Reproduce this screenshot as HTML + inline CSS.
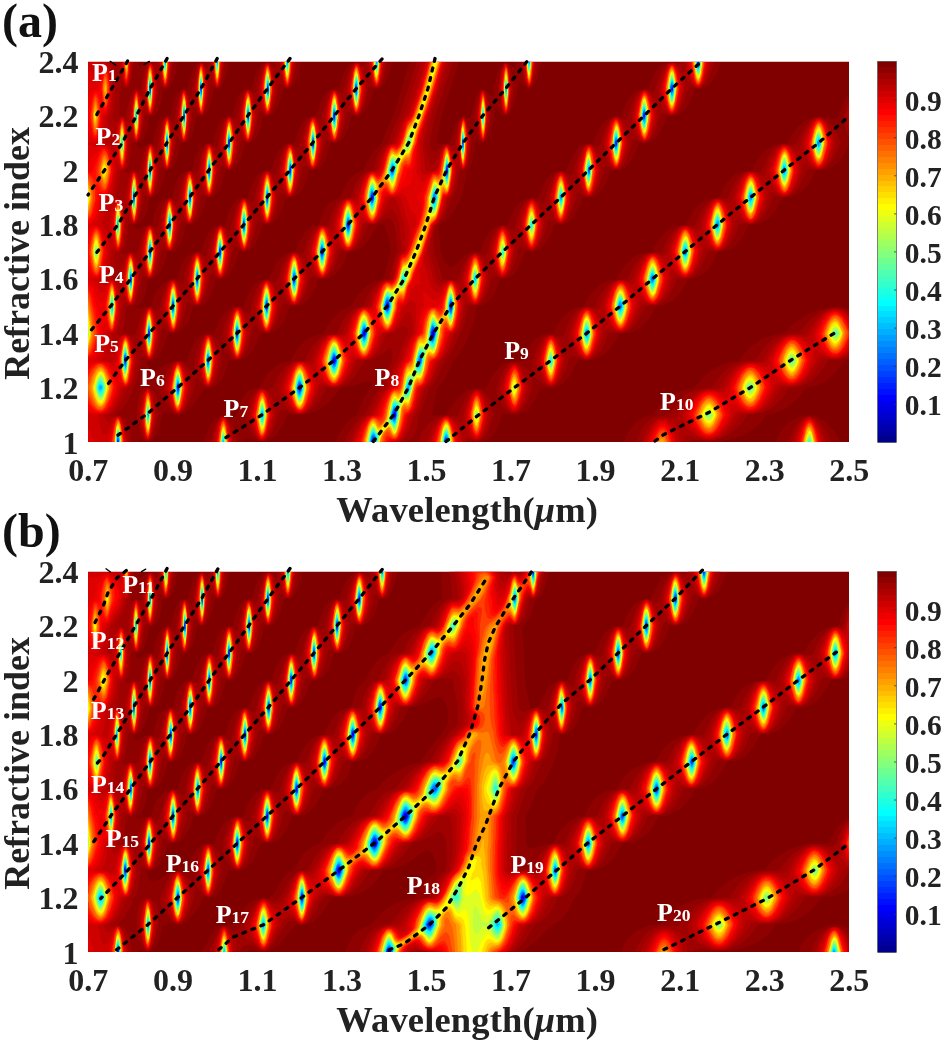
<!DOCTYPE html><html><head><meta charset="utf-8"><style>html,body{margin:0;padding:0;background:#fff;}svg{display:block;}</style></head><body>
<svg width="944" height="1042" viewBox="0 0 944 1042">
<defs><filter id="bl" x="0" y="0" width="1" height="1"><feGaussianBlur stdDeviation="0.6"/></filter>
<clipPath id="clipa"><rect x="88" y="61.5" width="761" height="380.5"/></clipPath>
<clipPath id="clipb"><rect x="88" y="571.5" width="761" height="380.5"/></clipPath>
</defs>
<rect width="944" height="1042" fill="#fff"/>
<g clip-path="url(#clipa)" filter="url(#bl)">
<rect x="88" y="61.5" width="761" height="380.5" fill="#800000"/>
<path fill-rule="evenodd" fill="#8f0000" d="M777 440l0 1.5 63 0-6-10.5-9-10-5.5-3.5-6-2-9 0-4.5 1-11 5.5-7.5 7.5-2.5 4.5zM849 309l-7-1.5-13 0-12.5 3-10 4.5-9.5 6-15 13-10 1-10.5 4-10 7-8 8.5-4.5 6.5-6.5.5-6.5 1.5-8.5 3.5-5 3-7.5 6-11 12.5-7 1-8 2.5-10 5.5-11.5 10.5-6 8-2.5 0-5 1.5-6 3.5-7.5 8-3.5 5.5-3.5 8 87.5 0 .5-.5 7.5 0 15.5-3 7-2.5 8-4 10-7.5 3.5-4.5 2.5-5 8.5-1.5 11.5-5 7-5 7-7 7-9 9-1.5 9.5-4.5 10.5-9 9-12 4.5-.5zM88 442l50 0 1.5-1.5 3 0 2 1 6.5-.5 4-4 2.5-4.5 2.5-6.5 2.5-11 2-2 3.5-.5 6.5 2 5.5 0 5-2 3.5-2.5 6-6.5 10.5-16 6.5 0 5-2 5.5-6 3.5-7.5 2.5-8.5 0-2 1.5-1.5 8.5.5 3-.5 4.5-2 5-4.5 2.5-3.5 3.5-6.5 3-8 0-1.5 1-1 9.5 0 4.5-1.5 3-2 3-3 4-6 3-6.5 2-7.5 10-1 6-3 3.5-3.5 4-6 3-7 1.5-6 1-1 5 0 5.5-1 6-3.5 3.5-3.5 3.5-5 4-8 2-6 7.5-1 6-3 7-7.5 6-10 4.5-6 4.5 0 2.5 4.5 2.5 9 2.5 13.5-4 12.5-3.5 14.5-1 1-7.5 1.5-8.5 5-9 9.5-7 11-8 3-3 2-7 7-5 7-4.5 8.5-3 0-5.5 1.5-9 5-8 8-7.5 12.5-4.5.5-4.5 1.5-4.5 2.5-9 8.5-4.5 6.5-4 7.5-5 .5-7 3.5-4 5-2.5 5-3.5 13.5-1.5 1.5-3.5.5-4.5-1.5-5.5-.5-6 2.5-2.5 2.5-4 6-3 6.5-3 9 39.5 0 .5-1.5 2-2 3.5 0 9 3 9-.5 5.5-3 5-5 5.5-8.5 3-7.5 2-2.5 16.5 0 11-3 11-7 8-8 6-9 8-.5 6-1.5 10.5-4 4.5 0 2 2.5.5 4-4 4-3.5 5-5 10-2.5 7.5-7.5 5.5-4.5 5-5.5 8-4.5 9 147.5 0 3.5-1 3.5-2 5.5-6.5 4-8 2.5-8 1.5-2 1-.5 12.5.5 7.5-2.5 3-2 6-6.5 3.5-5.5 5-10.5 11.5 0 4.5-1 5.5-3 5-5 3.5-5 6.5-13 14-.5 9-3.5 3-2 6.5-6.5 5-7 4-7.5 8-.5 4.5-1 6.5-3 3.5-2.5 7-7.5 7.5-13 8-1 8.5-4.5 7.5-8 8-13.5 8.5-1.5 8-5 4-4.5 4-6 5-10.5 8-.5 5-2 3.5-2.5 4-4 4-5.5 6.5-12.5 9-.5 8-3.5 7-6.5 3-4 7-12.5 10-1 8.5-4.5 8-9 7-13 7 0 4.5-1 3.5-1.5 5-3.5 5-5.5 7-12 0-52.5-6 10.5-3.5 10.5-3 4-5.5 0-7-2-9.5 0-3.5 1-7 4-6 5.5-5.5 7-5.5 9-5.5 0-5.5 1-8 4-4.5 4-4 5-7.5 13-9.5 1-6 2.5-3.5 2.5-7.5 8.5-7 13-8.5.5-8.5 4-7.5 8-8 14.5-4 0-7.5 1.5-7 4-7.5 8-8 14-9 .5-5.5 2-4 2.5-7.5 7-6 8.5-3.5 6.5-8 1-8 4-8 8-4.5 6.5-4 7.5-9 1.5-7.5 4.5-5.5 6-9 15.5-9 .5-7 3.5-6.5 7.5-4.5 8.5-2 6-1 1-12.5.5-7.5 3-8.5 8.5-4.5 7.5-2.5 6.5-1.5 1.5-12.5 0-6.5 2-4.5 3-6.5 6.5-10.5 15.5-13 0-.5-.5 2-6.5 3.5-20 5-5.5 3-4.5 6.5-12.5 1.5-4.5 4.5-5 8.5-14.5 7.5-18.5 3.5-17 3.5-.5 5-2 5-4.5 5-8.5 4.5-12 8.5-1 3.5-2 4-4 5.5-10 3-9.5 1-1 8.5 0 5.5-2 5-4.5 2.5-3.5 4.5-8.5 2.5-7.5 1-1 10-.5 4-2 5-5 6.5-12 2-6.5 1-1 8.5-.5 3-1 5-4 3.5-5 3.5-7 3-9 1-1 10-.5 4-2 5-5 6-11 2.5-7.5 1-1 9-.5 4.5-2 2.5-2 5.5-7.5 6.5-15 10-1 3-1.5 3.5-3 5-7 6-14.5 8.5-1 4-2 4.5-4.5 6-10.5 3-9-51.5 0-4 1-5 3-5.5 7-4 8-2.5 7.5-2 1-8 .5-4.5 2.5-3 3-3.5 5-7 16-7 0-3.5 1-3.5 2-3.5 3.5-3 4.5-4 8-2.5 7.5-10.5 1.5-3.5 2-3 3-5.5 9-5 12.5-8.5 0-5.5 2.5-5 5-2 3-7.5 16.5-10.5.5-6 3-3.5 3.5-4 6-5.5 14-9 .5-3 1-2.5 1.5-4 4-6 10.5-3 9-1 1-8 0-6 2.5-10 10-3 2-3 0-3.5-3.5-5.5-11.5-1-18-.5-.5 0-8.5 5.5-3 4-4 6.5-9 6-11 3-9.5 2-11 .5-7 3-2 3-7 3-18.5 1.5-1.5 3 1 4.5 0 3.5-4 3-7.5 2-8 2-14 1.5-.5 6 6 2 1 3-.5 2.5-2.5 2-3.5 2.5-7 3-12.5.5-6 2-1 5 4.5 3.5 1.5 3-1 3-3.5 2.5-5.5 4.5-16.5-25 0-.5 4-1 1.5-1.5 0-6.5-5-3 0-1.5 1-2.5 3.5-3 7.5-3.5 14.5-.5 6.5-1.5 1-6-6-2-1-3 .5-3 3.5-2 4.5-5 19.5-1.5 1-5.5-2-3.5 1-5 7.5-5.5 18-9.5 1.5-2.5-.5-1-1 4.5-25 18-56-49 0-5.5 16-11 37.5-6.5 13-5 14.5-8.5 8.5-6.5 10.5-4 8.5-3.5 1-4.5 2.5-6 6-2.5 3.5-6.5 13.5-1 1-5 1.5-5.5 4.5-3.5 5-3.5 7-2.5 8-1 1-6.5 1.5-2.5 1.5-4.5 4.5-6 10.5-3.5 9.5-6 0-3 1-6 4.5-3 4-4 7.5-3 8 0 1.5-.5.5-6 0-3.5 1-3.5 2-4 4-6 10.5-3 9-1.5 1-4-.5-5 .5-6 3-3.5 3.5-4 6-6 14.5-10.5.5-3 1.5-4.5 4.5-4.5 8-4 12.5-1 .5-5.5 0-.5-.5-7 .5-7 3-10 6.5-4 0-2.5-2-1.5-2.5-1.5-5.5 6.5-1 3.5-2 2.5-2.5 4-6.5 3.5-9 1-5 1.5-2 9-.5 5.5-4 5.5-9 3-8.5.5-3.5 1-1.5 7.5-.5 3-1.5 3.5-3.5 5-9.5 3-11 1-1 4.5 0 4-1 5.5-5 4.5-8.5 3.5-12 1-1 8.5-.5 2-1 4.5-4.5 5-10 3-10.5.5-.5 6 0 3-1 5.5-5 5-9.5 3.5-11 7.5-1 6-4 5-8.5 3-8.5 1-5.5 8.5-1 2-1 4-4 3.5-6.5 4-14.5.5-.5 5 0 3-1 4-3.5 5.5-10.5 3-11.5 1.5-1 6 0 3-1.5 3-3 3.5-6 4.5-12.5.5-3.5 6.5-1 4.5-4 4.5-9.5 3-12.5-37 0-5.5 2.5-4 5-3 6-4 13-1 1-7.5.5-2.5 1.5-3.5 4-4 8-3 9-.5 3.5-8 1-5 4-5 9-4.5 13.5-5.5 0-5 2-5.5 6.5-4 8.5-3 9.5-1 1-7.5.5-3.5 2-3 3.5-5 9.5-3 10.5-1 1-7.5.5-2 1-4.5 4.5-5 10-2.5 10-1 1-8 .5-3 1.5-4 4-4.5 8-4 13-9 1-3.5 2-2.5 2.5-2.5 3.5-3.5 7.5-2.5 10.5-9 1-4.5 2.5-4 4-3.5 5-3 6-2.5 9-7 .5-4 1.5-3 0-2.5-2 4-1.5 4-4 2.5-5 1.5-6 1-10.5 7-1.5 5-4.5 4.5-8.5 2.5-8.5.5-4.5.5-.5 5 0 3-1.5 4.5-5.5 3.5-8.5 2-10.5 1-1 6.5-.5 4.5-3.5 5-9 2.5-7.5 1-5.5 1-1 5-.5 2-1 4-4 3.5-7 4-14.5.5-.5 5.5 0 3-1.5 2.5-2.5 4-7.5 4-15 4.5-.5 2.5-1 4.5-5 4-9.5 2.5-11 1-1 6 0 2-1 3-3 4-7.5 3.5-11 .5-4 .5-.5 5.5 0 2-1 4-4.5 3.5-8.5 3-12.5-30 0-.5.5-4.5-.5-3 1-3 2.5-5 9-4 14-1 1-5.5 0-2 1-4 4.5-3 6-4 15-6.5 1-2.5 1.5-3 3.5-4.5 10-2.5 11-7.5 1-5 4-5.5 10.5-3 11.5-1.5 1-4 0-2.5 1-4 3.5-2 3-4 9-2 10-7 1-3.5 2-3.5 4-4 8.5-1.5 11.5-6.5 1-8.5 4-2.5-2-1-2.5 5-1.5 5-5.5 4-9.5 1.5-10.5 6-2 3.5-4 4-9.5 2-12 5.5-1 4-4.5 3-7.5 2.5-14 6-1 3.5-3 3.5-7.5 3.5-16 .5-.5 6 0 4-3.5 4.5-10.5 2.5-12.5 4.5-.5 2.5-1.5 1.5-2 4-10.5 2-12.5-28.5 0-2.5 1-4 5-2 4.5-4 16.5-.5.5-5.5 0-4.5 4-4 9.5-2.5 13-7 1-3 2.5-2 3-4 10-1.5 10.5-6 1-6.5 4-3-1.5-1-3 4-1.5 2.5-2.5 2.5-4.5 2.5-8.5 1-10 5-1.5 2.5-2.5 3-5.5 2.5-8 1.5-10 5.5-1.5 2.5-3 3.5-9 2.5-13.5-29 0-3.5 1.5-4 3-2-1-1-3.5-50 0z"/>
<path fill-rule="evenodd" fill="#9f0000" d="M788 442l42.5 0 0-1-5-11-5.5-8-4-3.5-3-1.5-5.5-.5-5.5 2.5-5 5-4.5 7zM221 417l-2.5 2.5-3.5 6.5-4.5 16 26.5 0-2.5-12-3.5-8-4.5-5-2.5-1zM490 399l-2-3-6.5-6-2.5-1-5 0-2 1-3.5 3-2.5 3.5-3.5 7-4.5 12-1 .5-15-.5-6 2.5-6.5 5-7 8-2 3.5-1.5 7 51 0 .5-.5 7 0 4-1.5 3.5-3.5 3.5-6 5-15-1-9.5zM146 388l-3 1.5-2 2-2.5 5.5-1.5 11.5 0 8 1 6.5 2.5 9 3 6 2 2 3 .5 2-1.5 2.5-4.5 3-10 2-10-.5-14-1-5-1.5-3-3.5-3.5-2.5-1zM210 334l-4.5.5-2.5 2.5-3.5 6.5-4.5 15.5 0 9-1 4.5-1 0-9.5-9.5-2.5-1.5-4-.5-3.5 1.5-3 3-7.5 13.5-3 7.5.5 6.5 2.5 5.5 6 9 5 5 2 1 3.5 0 2-1 5-5.5 6.5-14 2-7 0-6 1-1.5 9 7.5 5 .5 4.5-4 2.5-5 4.5-15.5 0-12.5-1-4-3-5-3.5-4zM849 311l-6-2.5-5-1-5 0-8 2-5 2.5-8 6-5 5-8.5 10.5-7 0-7.5 1-5 1.5-5 2.5-3.5 2.5-7 7-8 12.5-10 .5-5.5 1-8.5 3.5-5 3.5-6.5 6.5-8.5 12-13 1.5-9 3.5-4.5 3-8 8-8 11.5-11 1-4.5 1.5-4 2.5-4 4-3.5 5-6 12.5 53 0 2.5-1.5 21 .5 7.5-1.5 8-3.5 7-5 6.5-6.5 6.5-9.5 13-1.5 8.5-3.5 5-3.5 8-8.5 7-10.5 5 0 8.5-1.5 9-4.5 8.5-8.5 8-12.5 14-1 6.5-2zM832 125l-5.5-5-5-2.5-5.5 0-4.5 2-5 5-3.5 5-7 14.5-2 1-11-1-6 2-5 4.5-3.5 5-7 15.5-2.5 1-11.5-.5-3 1-3 2-6 7-4 7.5-3.5 9-2 1-11-.5-7 3.5-7 9.5-6 14-1.5.5-10-.5-5 1.5-3 2-3.5 3.5-4 6-3.5 7-2 6-1 1-13 .5-7 3.5-4 4-3.5 5-7 14-10.5.5-5 2-5.5 4.5-5.5 8-3.5 7-1 3.5-1.5 2-12 .5-3.5 1.5-5 4.5-6 10-4 11-2 2-3 0-6-2-4 0-3.5 1.5-3.5 3-2.5 3.5-5 11-2 6.5-.5 11-1 1-8.5-7-5-2.5-4-.5-5.5 2.5-3.5 4-3 5-5.5 14.5 1.5 9.5 4.5 8.5 5 5 3.5 2 5.5.5 2.5-1 5.5-5.5 4.5-8.5 3.5-9.5.5-11.5 1-1 10 8 4 2 5.5 0 3-1.5 5-5.5 5.5-11.5 2.5-9 2.5-3 2.5 0 9 3.5 6.5 0 5-2.5 5-5 3-4.5 4.5-9 1-3.5 1.5-2 1-.5 8.5 0 .5.5 4.5-.5 6.5-3 5.5-5.5 3-4.5 6.5-13.5 10.5-.5 6-2.5 4.5-4 4-5.5 7.5-15 11.5-.5 4-2 3.5-3 4-5.5 4.5-9 2.5-7 12.5-.5 4.5-2 5-5 5-8.5 3.5-9.5 1.5-2 1-.5 11.5.5 4.5-1.5 4.5-3.5 4.5-6 4.5-9 2-6 2-1.5 10.5.5 7-2.5 3-2.5 4.5-6 5-10 1.5-5 2.5-2 12.5.5 5.5-2.5 4.5-4.5 3-4.5 6.5-14.5-2.5-9.5zM849 99l-5 16.5 1 11.5 1.5 5.5 2.5 4.5zM482 90l-1.5 1.5-2.5 6-2.5 11.5-1 8.5 1.5 12 2 7 2 4 1.5 1.5 2 0 2.5-4 1.5-4.5 2.5-12.5.5-6.5-2-12.5-2-7-1.5-3-2-2zM505 63l-2.5 4-2.5 9-2 11 0 4.5 1.5 9.5 2.5 9 1.5 3 2 2 1 0 2-2 2.5-6.5 3-15 0-6-2-11.5-2-6.5-3-4.5zM538 62l-17 0 0 3.5 2.5 12.5 1.5 4.5 3 5 1.5.5 1-.5 3-5 2.5-9zM714 62l-32.5 0-1 1.5-1.5.5-5.5-1.5-3 0-3.5 1.5-4 4.5-3.5 7-4.5 14.5-1.5 1.5-3 0-3.5-1.5-5 0-3.5 2-2.5 3-5 10.5-3.5 12.5-1.5 1.5-2 0-6-2.5-3.5 0-3 1.5-2 2-5 9-4.5 15.5-1.5 2-2.5 0-4.5-2.5-3.5-.5-2 .5-4 3.5-5 10-4.5 16.5-2.5 1-7.5-4-3.5 0-2 1-4 4.5-3.5 7-5.5 19-2 .5-8-4.5-5 0-2.5 1.5-4 5-2.5 5-3.5 10-2 8.5-1 1-1.5 0-7.5-4-3.5 0-3.5 2-4 5.5-2.5 5.5-4.5 15-1.5 1.5-2 0-6-2.5-3.5 0-4 2-6 8.5-6 15.5-2 1-2.5-.5-8 .5-1.5-.5-1-1.5-8.5-26 0-8-.5-.5.5-10 1.5-8 3-2 5-5.5 5-10 3.5-10.5 2-2 1.5-3 2-7 2.5-15 4.5-1 3-4.5 2-7.5 2-13.5-1-10-3.5-12.5-1.5-2.5-2-2-1 0-2.5 2.5-2 5-4 19.5-1.5 1.5-5-1.5-3.5.5-9 8-1 0-2.5-2.5-2-5.5 0-3.5 5.5-24 18-55-36.5 0-17 53.5-5.5 10.5-6 17-5.5 4-4 6.5-6 16.5-1 1-5 .5-5.5 4-6 9.5-5 13-6.5.5-3 1.5-4 4-5.5 10.5-3 10-1 1-9 .5-5 4-5 9-4 13-2.5 2-7-1.5-3 .5-2 1-3.5 3.5-4.5 8.5-4 14-1 1.5-3.5.5-4.5-2-3.5 0-2.5 1-3 3-4 7.5-4.5 14.5-.5 6.5-2 1.5-7-5.5-5-1.5-2 .5-4 3.5-4 7.5-4.5 14 .5 12.5 2 4.5 6 7.5 5.5 3 4-1 3.5-3.5 4-7.5 4.5-14.5.5-6.5 2-1 5 4 4.5 2.5 4.5 0 2.5-1.5 3-3.5 4-8 4-14.5 2-2 1.5 0 6 2.5 4 0 2.5-1 4-4 4-7.5 3.5-10.5.5-3.5 3-2.5 7.5 2 2.5 0 4-1.5 6-7 4-8.5 2.5-9 2-1.5 7 .5 5.5-2 4.5-4.5 5.5-10 4-10.5 7.5-.5 12.5-6 3.5 2 3 5 3 27-1.5 1.5-2.5 6-4 19.5-6 1-4.5 2-6 5.5-5 7.5-5 11-9 2.5-7 6-5.5 8.5-5 11-9 .5-7 3-8 8-8.5 15.5-9.5.5-8 4-3.5 3.5-4.5 6.5-4 8-1 3.5-1.5 2-5 .5-3.5-1-3 0-4 1.5-3.5 3.5-4.5 8.5-3.5 12 0 2.5 4 12.5 5.5 8.5 5 3.5 5.5-.5 4-3.5 2.5-3.5 5-11 3-10.5 2-2 3.5 0 10.5 4 7.5 0 5-2 8-7 4-5.5 6.5-12 12.5-.5 7.5-3 3.5-2.5 6.5-7 8.5-14 6-.5 5.5-2 12.5-9.5 2-.5 1.5 2-.5 11-5.5 11-5.5 15.5-6 7-10.5 20.5-5 3-4.5 5-4.5 7-6 12 61 0 5-3 4-4.5 1.5-3 1.5-6.5 1-10 2.5-3.5 2.5-6 5.5-17 3.5-3.5 4-6 8.5-18 7-9.5 5-10.5 2.5-7 2.5-3.5 3-8.5 3-15.5 1.5-1 9-.5 5-4.5 4.5-9 3.5-12.5 2-2.5 2.5 0 4 1.5 4 0 3-1.5 2-2 5-9.5 2.5-7.5 1.5-8 2-3 10 4.5 4-.5 4.5-4 3.5-6 4.5-12.5 1-6.5 2-2.5 10 5 4.5-1 3.5-3.5 4-7.5 2.5-7 2.5-10.5 1.5-1.5 1.5 0 6.5 3.5 4.5 0 3.5-2.5 4.5-7.5 3.5-10 1.5-7.5 1.5-2.5 3 0 6 3 4 0 2-1 3-3 4-7 4-11.5 1-5 1.5-2 3 0 6 2.5 3 0 3-1.5 4-4.5 3.5-7 4-13.5 2-2.5 1-.5 8 2.5 5-1.5 3-3 4.5-8 4.5-14.5 1.5-1.5 3.5 0 2 1 5 0 5-3.5 5-9 3-8.5zM387 62l-21.5 0-1.5 3.5-1.5 0-4-2.5-3-.5-4 3-3 6-2 6-3 14-1.5 1.5-1 0-5-3-4.5.5-2.5 3-2.5 5-5.5 20.5-2.5.5-3-2-4-.5-2 1-3 4-4 11-3 14-1 1-1.5 0-3-2.5-3.5-1.5-1.5 0-3.5 2.5-2.5 4-2.5 6.5-4 17-1 1-1.5 0-5-3.5-4 0-2.5 2-3 5-2.5 7-3.5 15.5-2 1-6-3.5-3 0-4.5 4.5-4 10-3.5 17-1.5 1-5-4-3-1.5-3 .5-3 3-2 3.5-3 8.5-3.5 15-2.5.5-5.5-3.5-3.5 0-3 2.5-5 10.5-2.5 9.5-1 7-1.5 1.5-1 0-6.5-4-3 0-3 2-3 4.5-2.5 6-4.5 18-2 .5-4-3-2.5-1-2 0-2.5 1.5-2 2.5-3 6-5 16.5-2 2-5-1.5-5.5 0-.5-.5 2.5-12 .5-13.5.5-1.5 1.5-1 1.5.5 3.5-.5 3.5-4 3-8 3-16 1-1 1.5 0 4 2 2 0 3.5-3 3.5-7.5 2.5-9.5 1-7 1.5-2.5 1.5 0 3.5 2 3.5 0 2.5-2.5 2.5-5 2-6.5 3-15.5 2-1 5 3.5 2.5 0 2.5-2 4-8.5 4-18 1-1 1.5 0 3 2 3 .5 3.5-3 4-10 3.5-17.5 2-.5 5 3.5 2.5 0 3-2.5 4-10 3.5-16 1.5-1 4.5 2.5 2 0 3-2.5 3.5-8.5 3-13.5 0-3 2-4 4.5 3.5 2.5 1 2-.5 2-2 4.5-11 2.5-11.5.5-6 2-1 5.5 4.5 2 0 2.5-2.5 3-7 3.5-16.5-19.5 0-.5 4.5-1.5 2-5.5-5-2-1-4 2-2 3.5-2.5 7-3.5 17.5-2 1-4.5-3.5-3.5 0-2 2-3 6.5-4.5 20-2 1-4-2.5-2.5 0-3 2.5-2.5 5-2 6.5-3 16-2 1-6-4-2.5.5-2 2-2 3.5-2.5 7-3 15-1.5 1.5-1.5 0-5-2.5-2.5 1-3 4-3.5 10-2.5 14-1.5 1.5-1 0-4.5-3-3 0-3.5 3.5-3.5 9-3 16-2 1.5-5.5-3-3.5 1-2.5 3-3 6.5-4 16-1.5 1.5-7-1-5 2-1.5 0-2-2.5 3-2.5 2-5 2-11 .5-9 2-1.5 2 1 3 0 2.5-2.5 3.5-9.5 3-16 2.5-.5 2.5 1.5 1.5 0 3-2.5 4-11.5 2.5-15 2-1 3 2.5 3 0 1.5-1.5 3.5-9.5 2.5-14 .5-8 1-.5 3 4 3 2.5 3-1.5 2.5-5.5 3.5-17 .5-11 1-.5 1.5 1.5 2.5 4.5 2 2 2.5 0 1.5-1.5 3.5-9 2.5-13 .5-6.5 1.5-1.5 4.5 4.5 2.5-.5 1-1.5 3.5-11 2-13-16 0 0 3-1.5 3-6-5.5-3 1.5-3 7-3.5 17.5-.5 8.5-.5.5-2-2-1.5-3-2.5-2.5-2.5 0-1.5 1.5-3.5 10-2.5 14-.5 7.5-1 .5-3-4-3-2.5-1.5 0-2 1.5-2.5 5.5-1.5 5.5-3 17.5-1.5.5-4.5-3.5-2.5.5-1.5 1.5-3.5 8-2.5 9.5-1 7-1.5 1.5-3-1-3 0-4 2-2 0-1.5-2.5 2.5-2.5 1.5-4 2-14 0-6.5 1-1.5 5 .5 3-4 3-11 1.5-12 1.5-1.5 4.5 1.5 3-3 3-9 2.5-16 1.5-1.5 3.5 2 2 0 1.5-1.5 3.5-10 2-14.5-16.5 0-1.5 3-4-2.5-1.5 0-2 1.5-3.5 8-3 17-1.5 1.5-2.5-1-2.5.5-2 2.5-4 10.5-2.5 12-1 1.5-5 0-.5-.5 0-27 2-2.5 3.5 1.5 1.5 0 2-1.5 3-8.5 2-16-45.5 0 0 380 43.5 0-1.5-10-3.5-10-4.5-5.5-6.5-1.5 7.5-7 3-4 6.5-11.5 1-4.5 2.5-3.5 2-7.5 2-18.5 1.5-1.5 6.5 3 2 0 2.5-1.5 4-7 4-14 1-7.5 1.5-2 2 .5 5.5 4 4 0 4-3.5 3.5-7 3.5-12 1-6.5 1.5-1.5 7 3.5 3 0 3-2 4.5-8.5 3.5-12.5.5-5 2-3 2 .5 1.5 1.5 4 2 3-.5 2-1.5 3.5-6 2-5.5 4-18.5 2-.5 6.5 5 3.5 0 2.5-2 3-5 3-8.5 3-14 1-1 1.5 0 6 3.5 3.5-.5 3-3 3.5-7.5 4.5-18.5 1-1 1.5 0 5 3 3 .5 4-3 4.5-9.5 4-17.5 2-1 5.5 3.5 3.5 0 3.5-3 2-3.5 3-8.5 3-13.5 1-1 1.5 0 3.5 2 3.5.5 2-1 2.5-3 4.5-11.5 3-14 1-1 1.5 0 4.5 3 2 .5 2-.5 3-3 3.5-7.5 4-17 1.5-1.5 1.5 0 2 1.5 4 .5 2.5-2 3.5-7.5z"/>
<path fill-rule="evenodd" fill="#af0000" d="M792 442l34 0-4-11-4-7.5-4-4.5-4.5-2-3 .5-2.5 1.5-4 4.5-5 9.5zM222 417l-1.5 1-3.5 6.5-4.5 17.5 21 0-1.5-9.5-3.5-10.5-4-5zM483 394l-3-3-2-1-3.5.5-3.5 3.5-4 8-3.5 11-1 7-1.5 2-2 0-5-3.5-7-2.5-3.5.5-5 3-6 8-6 14.5 38.5 0 1-3.5 1.5-1 7 3 3.5 0 2-1 2.5-2.5 3.5-6.5 4.5-15.5-3.5-13.5zM262 389l-3.5 1.5-4.5 6.5-3.5 10-1.5 6 0 4 3 10.5 4 8.5 3 3.5 2 1 2.5 0 2.5-1.5 2-2.5 3.5-7 4-13 0-7.5-1.5-8-3-6-3-3.5-3.5-2zM147 389l-2.5 2-2.5 5.5-2.5 14 0 7.5 2 11 2 6.5 2 4 1 1 2 0 3-5 2-7 2-11 0-7.5-1.5-10-2-6.5-3.5-4.5zM513 363l-2 1-4.5 5.5-3.5 8-3 11 3.5 12.5 2.5 5 4.5 5.5 2 1 3.5 0 4-3.5 3.5-6 3.5-9.5 1.5-6.5-3-11.5-3.5-7-5-5zM177 362l-3 2-3.5 5.5-4 10.5-2 9 3.5 11.5 4 8.5 3.5 4 4 .5 3.5-3.5 3.5-7 4.5-14 0-2.5-1.5-7-4.5-11.5-4-5-2-1zM550 335l-2.5 1-3 3-3 5-5 15 0 4.5 2 8 5 10 3.5 3.5 2 1 3 0 4.5-3.5 3.5-6 4.5-13 .5-5.5-1.5-8.5-3-7-3-4-2.5-2zM207 335l-2.5 2.5-3 6.5-4 17 2 12 1.5 5 3.5 6.5 2.5 2 2.5 0 2.5-2.5 2.5-5 4.5-18.5-2-11.5-2.5-7.5-4-6zM849 314l-3.5-2.5-6.5-2.5-9 .5-8 4.5-7.5 7.5-8.5 12.5-2 1-14.5 0-8 2.5-5 3.5-4 4-5 7-4 8-1.5 1.5-16.5 1-8.5 3.5-4 3-6 6.5-8 13-10.5.5-6 1-5.5 2-7 5-6 7-4.5 7-2 4.5-2.5 2.5-4.5.5-4.5-1-4.5 0-6.5 2.5-5 5-3.5 5.5-4.5 11.5 41 0 0-1.5 1.5-3 2-1.5 3.5 0 13.5 4 9 0 6.5-2 4.5-2.5 9-8.5 8.5-12.5 10.5-.5 5.5-1 7-3 4-3 7-8 6.5-11.5 14-1 5-1.5 6-3.5 7-7.5 8-14 3-1 8 0 .5.5 6.5-.5 8.5-3.5 1-1zM237 307l-1.5.5-2.5 2.5-2.5 5-3 9-2 10 1.5 8 2.5 8 4.5 7.5 2.5 1.5 1.5 0 2.5-1.5 4-7 4-13.5.5-6.5-2.5-11.5-3.5-7.5-3-3.5zM149 307l-2.5 2-2 4-3 10-2 11 1.5 10.5 2 6.5 2.5 5 3 3 2 0 2-2 3-7 3-13 .5-6.5-1-7.5-3-10-1.5-3-3-3zM268 280l-4 .5-3 3.5-4.5 11.5-2.5 10.5 1.5 9 3 9 3.5 5.5 2.5 2 2 .5 3.5-2 3.5-6 5-17-.5-9.5-1.5-6-4-7.5zM174 280l-3 .5-3 4-3 8.5-2.5 11 .5 9 3 11 3 5.5 3.5 2.5 2.5-1 3-4.5 2.5-7 3-13.5-2.5-15-2.5-6-2-3zM196 253l-2.5 2.5-3.5 9-3 13.5 1.5 12.5 2 6.5 4 6.5 1.5 1 2.5 0 3-3.5 1.5-3.5 3-10.5 1.5-9.5-1.5-10.5-2-6.5-2-4-2.5-3zM294 253l-2.5 1-2 2-3.5 6.5-4.5 15 0 6.5 2.5 10.5 3 5.5 4.5 4.5 4.5.5 3-2.5 2-3 3-7 3.5-13-.5-13.5-2.5-5-6-6.5zM502 226l-4 3-4.5 9.5-3 11 0 8.5 1.5 7.5 3 6 3.5 4 1.5 1 3 .5 1.5-.5 2.5-2.5 3-5.5 4.5-15.5 0-5-2-9.5-3.5-7.5-3-3.5zM220 226l-2.5 2-2.5 5-3 11-1.5 9.5 1 8 3 10 2 3.5 2.5 2.5 2 .5 3-2.5 1.5-3 3.5-12 1.5-10.5-1.5-9.5-3-9-3-4.5zM149 226l-2.5 2.5-3.5 9.5-2.5 12 0 9 1.5 8 3.5 7.5 2.5 3 2.5.5 2-2 3-7.5 3-14 0-8.5-1-6.5-2-6.5-3.5-6-1.5-1zM530 199l-3.5 3-4 8-3.5 12.5 0 6 1.5 7 3 7.5 5 6 4.5.5 2.5-2 3.5-6 3.5-10.5 1.5-8.5-2-10-3.5-8-4.5-5zM243 199l-3 3-3.5 9.5-2.5 12 0 4 1 7 3.5 11 4 5 2.5 0 3-3.5 2.5-6.5 3-13 0-8-2-10-2.5-6-3-4zM171 199l-2 0-2 2-1.5 3-2.5 9-2 11.5.5 8 1.5 8 3.5 8 3 2.5 3-2 1.5-3 2.5-8.5 2-11-.5-10-1.5-7.5-3.5-8zM560 172l-3 2.5-3.5 6.5-4.5 15.5 0 3.5 2 10 3.5 8 4 4.5 3 1 1.5-.5 2.5-2.5 3-5.5 5-17.5-1.5-10-4-10-4.5-5zM267 171l-1.5.5-2 2-2 4-4.5 17.5 0 7 2 10 3.5 8 3 3 3-.5 3.5-5.5 4.5-17.5 0-7-1.5-8.5-3-8-2-3zM189 171l-2.5 2.5-2 4.5-2.5 10-1.5 10 1 9 2 8 2.5 5.5 2.5 2.5 1.5 0 1.5-1 2-3.5 2.5-8.5 2-10.5 0-9-1-6.5-2.5-7.5-2-3.5-1.5-1.5zM588 144l-4 3-3 6-3.5 11.5-1 8 2 10.5 3 7 2.5 3.5 2.5 2 3.5 0 3.5-3.5 2-4 3-9 2-11-1.5-9.5-3.5-8.5-3.5-4.5zM289 144l-1.5 1-2 3-3 8.5-2.5 11.5 0 6.5 1 6.5 2.5 8 2.5 4.5 2 2 2.5.5 3-3 3-7.5 3-13.5 0-6.5-1.5-8.5-2.5-7-4-5.5zM208 144l-2 2-3 8-3 15 0 5 1 8 2 7 3.5 6 2.5 1 2.5-2 2.5-6 2.5-11 1-9.5-1.5-10.5-2-6.5-2-4-2.5-2.5zM150 144l-2.5 3.5-2.5 9-2 11.5 0 10 1.5 8 2 5.5 2.5 4 2 .5 3-4.5 1.5-5.5 2-11 .5-8-1-8.5-2.5-9.5-2.5-4.5zM827 123l-3.5-3.5-3-1.5-4 0-3.5 2-3.5 4-4.5 8-4 10-1 7-1.5 1.5-2.5-.5-7-4.5-4-1-3.5.5-3.5 2-3.5 4-4.5 8.5-4 11-.5 4-1.5 1.5-2.5 0-8-4-5 0-2.5 1-3 2.5-3 4-4 8-3.5 10-.5 3.5-1.5 2-2.5 0-8.5-4-4 0-3 1.5-4 4-2.5 4-4.5 10.5-2 8-2 2.5-2 0-9-3.5-4.5.5-2 1-4.5 4.5-2 3-4.5 9.5-2 7-2.5 3.5-2 .5-6.5-2-6.5 0-3 1.5-4 3.5-3.5 5-3.5 7-2.5 7.5-2.5 3-2.5.5-3.5-1-6.5 0-4.5 2-4 4-5.5 9.5-4 11.5-1.5 2-2.5.5-7.5-2.5-5 .5-2.5 1.5-3.5 3.5-2.5 4-6 15 0 5 2 7.5 5.5 9 3 3 4.5 2.5 5 0 2-1 5.5-6 5-10 3-10 2.5-3 2 0 7.5 3 6.5 0 4-2 3.5-3.5 4-6 4.5-10 1-4 2-2 13 .5 4-2 4.5-4.5 5.5-10 3-9 2.5-3 3 0 5 1.5 4 0 3.5-1.5 3.5-3 4.5-7 3-7 2.5-9 2-2.5 3 0 6 2.5 5 0 3-1.5 3.5-3.5 4.5-8 4-11 1-5.5 1.5-2 2 0 9.5 4.5 3.5 0 3.5-1.5 6-7 4.5-9.5 2.5-7.5.5-4 1.5-2 2.5 0 6.5 3.5 4 1 3-.5 3-1.5 3.5-3.5 5.5-10 3.5-10 .5-5 1.5-2.5 2 0 4.5 3 5.5 2.5 4 0 3.5-1.5 5.5-6.5 3.5-7 3.5-10-.5-3.5-2.5-7zM615 117l-2 1-2.5 3-3 6.5-4 14 0 5 1.5 8 3.5 8 3.5 4.5 2.5 1.5 3 0 4-4 3.5-7.5 3.5-12.5 0-7-1-6-4-9-4-4.5-2-1zM312 117l-2.5 2.5-3 7.5-3 13 0 8 1.5 8.5 3.5 8.5 3 3.5 2.5 0 2-1.5 2.5-5 2.5-8.5 2-12-1-9.5-2.5-8-2.5-4.5-2-2zM228 117l-3 4.5-3 10.5-1.5 8.5 0 7.5 1.5 9 2 6 3 5 3 .5 3-4.5 2.5-8.5 2-11 0-7-1-7.5-2-6.5-2-4-2.5-2.5zM168 117l-1.5 0-1 1-2.5 6.5-3 18 .5 8.5 2 10.5 2 5 2.5 2.5 2-1.5 1.5-3.5 3.5-18.5 0-7-2-12.5-1.5-5zM849 104l-2.5 10.5.5 6.5 2 9.5zM483 90l-1.5 1.5-1.5 4-3.5 20 2.5 17.5 1.5 5 2 3 2-1 1.5-3.5 3.5-20-2.5-18-2-6.5zM645 90l-3 1-3.5 4-3 6.5-4 14.5 1 9.5 2 6.5 4 6.5 2 2 3 1.5 2 0 2-1 3.5-4.5 3-7 3.5-12.5-.5-10-1.5-5.5-4.5-7.5-2-2zM335 90l-1.5.5-3.5 4.5-2.5 7.5-2.5 12 0 7 1.5 8.5 3 7.5 2.5 3.5 1.5 1 2 0 1.5-1 3-5.5 4.5-19-.5-7.5-2.5-10.5-4-7zM248 90l-2 1.5-2 4-2 7-2 11 0 10 1 6.5 2 6 2.5 4.5 2 1.5 1.5 0 1.5-1.5 3-7.5 3-15.5 0-4.5-1.5-10.5-2-6.5-2.5-4.5zM184 90l-1.5 1.5-2 5-3 17.5 0 6 1.5 11 2 7 2.5 4 1 0 1.5-1.5 1.5-4 3.5-20-1-11-1.5-7.5-2.5-6.5zM505 63l-1.5 2-1.5 4.5-2 10.5-1 10 3 17.5 1.5 4.5 1.5 2 1 0 1.5-2 2-6.5 2.5-15 0-4.5-3-17-2-5zM356 63l-3 3-2.5 6-3.5 15 0 6.5 1.5 9 1.5 4.5 3 5.5 2 2 2 .5 2.5-2 2.5-5 2.5-8.5 2-10-1-11.5-3-9-4-5.5zM268 63l-2 .5-2.5 4-4.5 18.5 0 8.5 2 10.5 3.5 8 2.5 2 1.5-.5 2.5-3.5 2.5-8 2.5-13-1-11-2-8-2.5-5.5zM202 63l-2 1-2 4.5-3.5 19 .5 9 2 10.5 2.5 6.5 2 1.5 2-2 1.5-4 3.5-19.5-2-16.5-2-6.5zM711 62l-26 0 0 7-1 3-1 0-8.5-8.5-4-.5-3.5 2.5-5 10-3.5 12.5 1 12.5 2.5 6 4.5 6 3 2 2.5.5 2.5-1 3-3.5 3.5-7.5 4-14 0-9 1-1.5 7.5 7.5 2.5 1.5 3.5 0 4-3.5 4-8.5zM522 62l3 18.5 2.5 6 2 .5 2-3 1.5-5 2.5-17zM449 62l-27.5 0-.5.5-17 53-5 7.5-7 20-5.5 2.5-2.5 3-4 8.5-4 13.5-8 1.5-4 3.5-5 9-4.5 13.5-8 .5-3.5 1.5-2.5 2.5-4 7-3 8.5-1.5 7-1.5 2-2 .5-4-1.5-4.5 0-3 2-2 2.5-3 6-4 12.5-.5 12.5.5 3 4 6.5 5.5 5.5 3 1.5 2.5 0 2-1 5-6 4.5-11.5 2-8.5 1.5-2 1.5-.5 5 2 4 .5 3.5-1.5 3-3 4.5-8.5 4-13 1.5-1.5 7.5.5 5-2 11.5-13 2.5 0 3 3 3 6.5 2 6.5 2 27-2.5 1.5-2 3.5-2.5 8.5-2.5 13.5-1.5 1-6 .5-4.5 2.5-3.5 4-3 5-5.5 14-1.5 1-4.5 0-5.5 2-5 5-6 11-3.5 9-13 1-6.5 4-5.5 7-3.5 6.5-2.5 7-1.5 2-1 .5-10-.5-4 1-2.5 1.5-5 5-2.5 4-6 14 0 3.5 2 7 5.5 8.5 3.5 3.5 7 4 7-.5 4-2.5 4-4.5 3-4.5 6-13.5 1.5-1.5 5-.5 4 1 4 0 4-1 4.5-2.5 7-8 7.5-15 8-.5 3.5-1 3.5-2 4-4 5.5-9 4-10.5 7.5-1.5 8-5.5 3-.5 3 4 .5 4-1.5 1.5-3 5.5-3 7.5-3.5 12-3.5 5.5-8.5 21.5-2.5 2-4.5 6-9.5 19.5-6 3-3.5 4-3.5 5.5-7 14.5 50 0 3-1.5 3.5-3.5 5-9.5 3.5-12 3-4 2.5-5.5 5.5-17 4-4 3-4.5 9-20 2.5-2 4.5-7 4.5-10 2.5-7.5 3-3 1.5-3 3-10 2-12 1-2.5 3.5-.5 4 2 3 0 2-1 4-5 4.5-12 1.5-6 0-7-1-5.5-3.5-8-2.5-3.5-3-2.5-2-1-2 0-2 1-4 5-2.5 5.5-4.5 15.5-1.5 2-2.5 0-5-2.5-3 0-4.5 2-3 .5-1.5-.5-3-3.5-7-25 .5-12.5 4-16 2.5-1.5 3.5-4 4-8.5 3.5-12.5 3.5-3.5 1.5-3 3-12.5 1.5-11 2-1 1.5 1.5 2.5.5 2.5-4 1.5-5.5 2-13.5 0-6.5-2-12.5-2.5-8-1-1.5-1.5-.5-2.5 4-1.5 5.5-2.5 15 0 5-1 3.5-1 .5-6.5-6.5-2 0-1.5 1-2 2.5-6.5 14.5-2.5 3-1.5 0-2-2-2.5-8-2-12.5 3-15.5 3-11.5zM368 62l1 11.5 2 7 3 5.5 2 1.5 1.5 0 2-2 3-7.5 3-16zM280 62l0 5.5 2 11 2.5 6.5 1.5 2 2 .5 2-2 2-5 3.5-18.5zM211 62l1 11.5 2 9 1.5 3.5 1.5 1.5 1 0 1.5-2 2-7 2-16.5zM159 62l.5 12 1.5 6.5 3 6.5 2 .5 3-6 3-19.5zM119 62l3 16.5 3 7.5 2 1 1.5-2 2-7 2-16zM88 62l0 380 40.5 0-.5-5.5-2-8.5-4-9.5-3-2.5-7.5 1-2-2 3.5-2 6-7 4.5-8.5 3.5-9.5 2.5-1 1.5-1.5 2-4 1.5-5.5 2-12.5 0-7-1.5-9.5-1.5-4.5-2.5-4.5-3-3-5.5-.5-2 1-3 0-2-2 1.5-1 2.5-6 3.5-23 2-1 2.5 2 3 1 3-2.5 1.5-3 4-17.5 0-13.5-1-5.5-2.5-6-3.5-4-2.5-.5-3 2.5-2 3.5-4.5 12-1.5 7.5-1.5 1.5-3.5-.5-.5-2.5 1.5-8.5.5-16.5 4.5-1 3.5-7 2.5-15 .5-11 1.5-1.5 5.5 7 1.5 0 1.5-1.5 2-5 3.5-18.5 0-5.5-.5-.5 0-7-2-7.5-2.5-5-2-1.5-1.5 0-2 2-3 7-2 8-1.5 11-1.5 1-3-2-5.5-1 2-3.5 2-7 1.5-10.5 0-6 2.5-.5 2.5-2 2-6 2-14 .5-12 1-1 3 5 2 2 1 0 2-2.5 2-7 2-12.5.5-14 .5-.5 1 1 3 6.5 2 2 1 0 2-2.5 2-6.5 2.5-15-.5-13-1.5-7-2.5-6-2-2-1 0-1.5 1.5-2 5.5-3 17 0 10.5-1 1-3-6-3-2.5-2.5 3-2 7-2.5 14.5-.5 7.5-1 .5-4-5-2-.5-6 5.5-1 0-2-4 0-4 1.5-5.5 1.5-13.5 0-15.5-1-8.5-2-7-1.5-2.5z"/>
<path fill-rule="evenodd" fill="#bf0000" d="M645 442l34.5 0-1-9.5-2.5-6-4-4-5.5-3-2.5-.5-4 .5-3 1.5-4 4-5 9zM805 419l-3.5 4.5-3 6-4 12 29 0-4-12-5-9-4-3-3 0zM222 417l-3 4.5-2 6-2.5 14 17.5 0-1.5-9.5-2.5-9-2-4-2-2zM430 442l32 0 0-3.5-2-8-4.5-8-4.5-4.5-5.5-1.5-4 2-4.5 5.5-3.5 7zM475 391l-3 3-3 6-3.5 11.5-.5 8 1.5 8.5 3.5 7.5 3.5 3.5 4 .5 3-2.5 3.5-7 3.5-13 0-4-2.5-10-3.5-8-3-3.5zM262 389l-2 .5-2.5 2.5-2.5 4.5-4.5 16 0 4 4 14 2 4.5 4 4.5 3-.5 2.5-2.5 3.5-7.5 3.5-12.5 0-5.5-3-12.5-3.5-6.5-2-2zM147 389l-3 4.5-1.5 5.5-2 16.5 3 17 2.5 6 2 1 2-2.5 2-6.5 2.5-14.5 0-3.5-2.5-16-2-5.5-2-2zM513 364l-3 2.5-3 5.5-3 8.5-1.5 6 0 3.5 3.5 12 3 6 3.5 3.5 3 0 3-2.5 3.5-6.5 4-13 0-3.5-3.5-12.5-3-6-3-3zM177 362l-2 1.5-2.5 4-3.5 10-2.5 10 2.5 10 3 8.5 2.5 4.5 2 2 2.5 0 2-1.5 3-5.5 3.5-11 1.5-8-2.5-11-2.5-7-3.5-5.5-1.5-1zM549 336l-3.5 3.5-2.5 5-3 9-1.5 8.5 2 8.5 4 10 4 4.5 3 .5 2.5-1.5 3.5-5.5 2.5-6.5 3-11.5-2-10-3.5-9-2-3-3-2.5zM207 335l-2.5 3.5-2.5 7.5-2.5 12 0 5.5 3.5 15.5 2.5 5 1.5 1.5 2.5 0 2-2.5 2.5-6.5 3-14 0-5-1.5-8.5-2.5-8.5-2-4-1.5-1.5zM849 316l-4.5-4-5-2.5-5.5-.5-6.5 2.5-4 3-4.5 5-6.5 10-2.5 5.5-2 2-5.5 0-5-1.5-8.5 0-6 2.5-8.5 8.5-4.5 7.5-2.5 6-3.5 3-16.5-.5-4.5 1.5-6 4-5 5.5-4.5 7-3 6.5-2 2-3 1-12-.5-4.5 1-5 2.5-8.5 8.5-7.5 13 1 6 2.5 5.5 6 6 8 5 7.5 2 7.5-1 5-2.5 7-6.5 5-7 3.5-7 2-2 1.5-.5 14.5 0 6-2 5.5-4 4-4.5 4-6 4-8.5 3-2.5 13.5.5 5.5-1.5 3.5-2 7.5-8 8-16 1.5-1.5 5-.5 8 2 5 0 4-1 4.5-2.5 3.5-3zM586 308l-3.5 1.5-2.5 2.5-2.5 4-5 13-1 6 3.5 11.5 4.5 8 5 4 4 0 5-4.5 3.5-6.5 4.5-13 0-8-1.5-7-4-6-4.5-4zM237 308l-3 2.5-2 4-3.5 12.5-1 8.5 4.5 17.5 3 5 1.5 1 1.5 0 2-1.5 2.5-4.5 5-19.5-2-11-3-9-2-3.5-1.5-1.5zM149 308l-2 2-2 5-3.5 16.5 0 5 1.5 9 2.5 8.5 2 4 2.5 1 2-2 2-5 2.5-11 1-9.5-3.5-17.5-2.5-5zM268 281l-3 .5-1.5 1.5-2.5 5-4.5 17.5 1 8 3 10.5 3.5 6.5 2.5 1.5 2.5-1 2.5-3.5 2-5 3.5-14 0-5.5-2.5-11.5-3-7zM174 281l-2 0-3 4-2.5 7.5-2.5 12.5.5 7 2 9.5 3.5 8.5 2.5 2 3-2 3.5-9 2.5-12 0-6-2.5-12.5-3.5-8zM475 254l-3.5 2-3.5 6.5-4.5 15.5 0 9 1.5 7 5 8 4 2.5 2.5-.5 3-3 4.5-11.5 2-8.5-.5-7.5-3-10.5-4-7zM294 253l-3 2-4 8-3.5 13.5 0 5.5 2.5 11 2.5 6 3.5 4.5 3.5.5 2.5-2 3-6 3.5-12 1-7-1.5-9-2.5-7.5-3-5-1.5-1.5zM197 253l-2.5 1.5-2 4-4.5 19.5 1.5 11.5 1.5 6 2.5 6 2 2.5 3-.5 2-3.5 3-10 2-11-3-17-3-7zM130 253l-3 4.5-2.5 8-2 10.5 0 10 3 11.5 2.5 5 3 2 2.5-2.5 1.5-4 2-8.5 1.5-12.5-1.5-11.5-1.5-6-2-4.5-2-2zM502 227l-3 3-2.5 5.5-2.5 8.5-1.5 8.5 1.5 9 3 9 3.5 5 3.5.5 3-3 2.5-5.5 4-16-1.5-8.5-2.5-8.5-3-5.5-2.5-2zM691 228l-3-1.5-3-.5-3.5 1.5-3 3-4.5 8-4 11.5-.5 9.5-1 2-1.5 0-6.5-5.5-5-2.5-6 .5-5 4.5-2.5 4-4 9-3 11.5-1.5 1.5-2 0-8-4-4.5 0-2.5 1-4.5 4.5-5 9.5-3.5 10 1.5 12 3.5 6 5 5 4.5 2.5 5 0 2-1 4.5-4.5 5-9.5 3.5-10 .5-4 1.5-2 2 0 8 4 5 0 5-3.5 3.5-5 4-9 2.5-7.5 0-6.5 1.5-3 3 1.5 5.5 4.5 4 1.5 2.5 0 2.5-1 4-4 4-7.5 3.5-10 .5-8-1-6-2-4.5-2-3zM220 226l-2 2-2.5 6-3.5 18.5 3.5 17.5 3 6 2.5 1 1.5-1 3.5-8.5 2-9 1-8.5-1.5-9.5-2.5-9-2-4zM149 226l-2.5 3.5-2 6.5-2.5 13.5 0 5.5 1.5 9.5 2 7 2 4 1.5 1.5 1 0 2-2 1.5-3.5 4-20-2.5-16-2.5-7-2-2.5zM531 200l-2.5 2-3.5 7-4 16.5 2 10 3 8.5 4.5 5.5 2.5 0 3.5-4 2-4.5 3.5-12.5.5-5.5-4-15.5-3.5-6-2.5-1.5zM716 199l-2 1-3.5 3.5-3.5 6.5-4.5 13.5 0 6 2 9 3.5 5.5 5 4.5 2 1 4 0 2-1 3-3 4-7.5 4-12 0-6.5-1.5-7-4-7.5-2-2.5-4-3zM245 199l-2 0-3 4.5-2.5 8.5-2 10.5 0 4 2.5 13.5 3 7.5 1.5 2 1.5.5 2-1.5 2-4 4-17.5 0-6.5-1.5-9-2.5-8zM169 199l-3 5.5-1.5 6-2 12 0 4.5 2.5 14.5 2.5 6.5 2.5 2 1.5-1 1.5-3 2-7 2-11.5 0-7.5-1.5-9.5-2-7-1.5-3-1.5-1.5zM749 172l-1.5.5-4 4-4.5 8.5-3.5 10.5 0 6.5 2 8 4.5 7.5 4 3.5 3.5 1.5 2 0 2.5-1 4.5-5 5.5-12.5 2-8-1.5-9-4.5-9-2-2.5-4-3zM560 172l-2.5 2-3 6-4 15 0 5 1.5 7.5 3.5 10 3 4 3.5.5 2-2 2.5-5 3-10 1.5-9-1.5-8.5-2.5-8-3-5.5-1.5-1.5zM267 172l-2.5 2.5-2.5 6.5-3 14 0 6 1.5 9 2 7 3 5.5 2.5.5 2-2 2.5-6.5 3-14.5 0-6-1.5-8.5-2.5-8.5-2-3.5zM189 172l-1.5 1.5-2.5 6.5-2.5 13-.5 6.5 1.5 10.5 2.5 9 2.5 4 1.5 0 1.5-1.5 2-5 3.5-20-2.5-15.5-3-7.5-1.5-1.5zM133 172l-2 3.5-2 7-2 13 0 5.5 1 7.5 2.5 10 2 4 2 .5 2-3.5 2-8.5 1.5-10 0-8.5-3-16.5-2.5-4zM785 145l-2.5.5-3 2-3 4-4 8.5-3 9.5 0 5 2 8.5 3.5 6.5 4.5 4.5 2.5 1.5 4.5 0 2-1 3-3 4.5-8.5 4-12-1.5-10-3.5-8-4.5-5.5zM588 145l-3 2.5-4 10-2.5 10.5 0 6 2.5 11 3.5 8 2.5 2.5 2.5 0 1.5-1 2-3 2-5 3.5-14.5 0-4.5-3.5-14.5-2.5-5-2.5-2.5zM289 145l-1.5 1.5-3 7.5-3 14 0 6 2 11 3.5 9 2 2 1.5 0 1.5-1.5 2-4 1.5-5 2.5-12.5 0-6-1.5-8.5-2.5-8.5-1.5-3-2-2zM208 145l-2 3-2.5 8.5-2 11.5 0 6.5 1.5 9.5 2.5 8.5 1.5 2.5 2 1 2.5-3 2.5-8.5 2-11.5 0-6-3.5-17-2-4-1-1zM150 145l-2 3.5-1 3.5-3 19 1 9.5 2 9.5 2 5 2 1 1.5-2 1.5-4.5 3-19-1-9.5-2-10-2-5zM817 118l-4.5 3.5-5 9-3.5 9.5-.5 6 2.5 10 3 5.5 5.5 5.5 2.5 1 2.5 0 2.5-1 3-3 2.5-4 3-7 3-11-3-9.5-5.5-10.5-3-3-2-1zM615 118l-3 3-3 6.5-3.5 13.5 0 5.5 2 9.5 3.5 8.5 3.5 4 3 0 3-3.5 4-10.5 2.5-12-1.5-8.5-3-9.5-2-3.5-3-3zM463 118l-2.5 5.5-3 18.5 0 6.5 1.5 13 2 5.5 1 1.5 2 .5 2-4 1.5-7 1.5-11.5 0-6-3-18-1.5-3.5zM314 118l-2 0-3 5-2.5 9-2 11.5 3 16.5 2 5.5 3.5 3.5 2.5-2 1.5-3 2.5-9 2-11-1-9.5-2-8.5-2.5-6zM228 118l-2.5 4.5-1.5 5.5-2.5 16.5 1 8 3 12 2.5 4 2 0 3-6.5 3-15.5 0-8.5-3-14.5-2.5-5zM168 118l-2 .5-1.5 3.5-3 17 0 10 1.5 10.5 2 7 2 2.5 2-2 1-3 3-18.5 0-5-1.5-11.5-1.5-6.5zM849 109l-1 5.5 1 9.5zM483 91l-2.5 5-3 19.5 2 16.5 1 4.5 2 4.5 1 0 1.5-2.5 3.5-21-2.5-20-1.5-5zM136 91l-1.5 2.5-2 8.5-1.5 11 0 8.5 2 13 2 5.5 2 1.5 2.5-5.5 2.5-16 0-10.5-2.5-14.5-1.5-3.5zM644 90l-3.5 3-2.5 5-3.5 12-1 7.5 2 10 3 8 4 5 3 .5 2.5-2 3.5-7 3.5-12.5.5-6.5-2-10-2-5.5-2.5-4.5-2-2zM334 90l-2 1.5-3.5 9-2.5 12.5 0 6.5 1.5 9 2.5 8 2.5 4 2.5.5 1.5-1.5 2.5-6 2.5-11 1-8.5-3-16-3-6.5zM248 90l-2 2-1.5 4-2.5 11.5-1 10.5 2 13 2 6.5 2.5 3.5 1.5 0 2-3.5 2-7 2-11.5 0-8-2.5-13.5-1.5-4.5zM184 90l-1.5 1-1 2-2 9-1.5 11.5.5 10 2.5 13.5 2 4 2-1 1-2.5 3.5-21.5-2.5-19-1.5-5zM505 64l-1 1.5-2 7.5-2 18 3 18.5 1.5 3.5 1.5 1 2-4.5 1.5-7 1.5-11 0-5.5-3-18-1.5-3.5zM671 63l-2 1.5-2 3-2.5 6-3 11-.5 6.5 1.5 8 3 8.5 4 5.5 3 1 3-2 3.5-6.5 3.5-12 1-6.5-2-11-3-7.5-3.5-4.5-1.5-1zM356 63l-2.5 3-2.5 7.5-2.5 12.5 0 6 1.5 9 2 7 2 4 3 2 2.5-2.5 2.5-7 2-9 1-9-2-12-1.5-5-2.5-5-1.5-1.5zM268 63l-1 0-1.5 1.5-1.5 3-4 19.5 1 11 2 9 2 5 2 2 1.5-.5 2.5-5 3.5-17.5 0-6-1.5-9.5-2-7.5zM202 63l-1.5.5-2 5-3 18.5.5 8 3 15.5 1.5 3 1 .5 1.5-1.5 1.5-4.5 3-19-2-16.5-1.5-6zM150 63l-1.5 2.5-1.5 5-2.5 20 1 10 2 9 1.5 3.5 2 1 2-3.5 1.5-6.5 2-18-1-9-2-9.5-1.5-3.5zM687 62l.5 6.5 2.5 9.5 2.5 5 3 3.5 4 .5 3.5-4 2-4.5 4-14.5 0-2zM523 62l1 9.5 2 10 2 5 1.5 0 3-8.5 2-16zM446 62l-21 0-7 24-9.5 29-4 4-3 5.5-6 18.5-1.5 1-4.5 1-4.5 5.5-4 11-2 9-1.5 1-7 .5-4 3-3.5 6-3 8-2.5 10-1.5 1.5-2 0-3.5-1.5-3.5 0-4.5 3.5-3 5.5-2.5 7-2.5 10 0 6.5-1 2-1 0-5.5-5.5-2.5-1.5-3.5 0-3 2.5-3.5 6.5-4.5 16 2 11.5 4 9.5 3.5 4 2 1 3-.5 3.5-4 5-13 2-9 .5-8.5 1.5-.5 5 5.5 3.5 2.5 1.5.5 3.5-.5 3.5-3.5 2.5-4.5 3-8 3-11.5 1-1 2.5 0 3 1.5 4.5.5 3-1.5 5-6.5 6.5-13.5 3.5-4 2.5 0 2 2 2.5 5 6 20.5 0 5 1 6 0 13.5-.5 2-3.5 1.5-2.5 3.5-5.5 22.5-1.5 1-7 .5-5 4.5-4.5 8-5 13.5-9.5 1-2 1-4 4-4.5 8-4 12-1.5 2-1 .5-12-.5-5 2.5-3 3-4 6-3.5 7.5-2.5 8-2 2.5-3 0-7-2.5-3 0-4 1.5-4.5 4.5-2.5 4-6 15.5 3 10.5 5.5 9.5 4 4 3 1.5 2.5.5 4.5-1.5 4-4 3-4.5 5-11 2-7.5 2-2 2.5 0 9 3.5 3.5 0 5-2 5-5 3.5-5.5 5.5-13.5 3-1.5 9 .5 4-2 5.5-6.5 3.5-7 3.5-10.5 7-1 4-2 3.5-3.5 8-13.5 1.5-1.5 2-.5 2 2.5 1 4 1 8.5 0 7-4.5 6.5-3.5 8.5-3.5 11.5-2 2.5-4 8-6.5 17-4.5 4-3 4.5-9 19-5.5 2-4 4-4 6.5-6.5 14.5 44 0 3.5-1.5 3-3 4.5-8.5 4-13 3-3.5 2.5-5 6-19 6-6 3-5.5 6-15.5 3.5-3 2.5-3.5 5-10.5 3.5-10.5 3.5-2.5 2.5-4.5 2.5-9 2-11 0-6-1-7.5-2.5-5.5-2-3-3.5-3.5-2-1-3.5.5-7 5.5-3 0-3-3-2-3.5-6-22.5 0-7 6.5-25.5 3-2 3-4 4.5-11.5 2-9 4-3.5 1.5-3 4-19 0-8-1.5-7-2-6-2.5-5-1.5-1.5-2-.5-3 3-3 7.5-4 14.5-1 1-7 1-3-2-2.5-19-.5-8.5 3.5-17 13.5-41zM369 62l.5 7 2 10 3 7 2.5 1 3.5-7 2-9 1-9zM281 62l1 10.5 2 9 2 4.5 2 1 2-3 2-7 2-15zM212 62l2 17 2.5 7.5 1 .5 2-3 3-17.5 0-4.5zM160 62l.5 9 1.5 9 2 6 2 1 2.5-6.5 2.5-18.5zM121 62l0 4 2 13 1.5 5 2 2 2.5-7 2-17zM88 62l0 380 39 0-3-16-3-7.5-2-2-2.5 0-6 5.5-3 .5-3-4.5-.5-3 5.5-2 4.5-4.5 5.5-10 3.5-10.5 5-1.5 2-2.5 2.5-7 2.5-16-2.5-15-2.5-7-3.5-4-4 .5-8 9-1 0-1.5-2.5-1-8 1-1 1.5 0 2-2 2-5 1.5-7 1.5-11.5-.5-12.5-2-8-3.5-6-1.5-1-6 .5-2-1.5 2-3 2.5-9 2-16.5 1.5-1.5 4 2 2.5-1 2-5 1.5-7 1.5-15.5-2-16.5-3.5-7-1.5-.5-2 1-3 3-1.5 0-1.5-3 0-2 2-2 3-7.5 3-18 1.5-1.5 2.5 1 1.5-.5 2.5-5.5 2.5-17.5-.5-13-2.5-11.5-1.5-3-1.5-1-1.5 1-3 7-3 13-.5 5-1.5 1.5-2 0-4.5-2 1.5-9 .5-17.5 2.5-5 3-21.5-2-17-1.5-5.5-1.5-3-2-2-1.5-.5z"/>
<path fill-rule="evenodd" fill="#cf0000" d="M647 442l29.5 0-2.5-10.5-3-5.5-5-4.5-4.5-1-3 1-4.5 4.5-4 7.5zM807 419l-3 3-3.5 6.5-4 13.5 25 0-2.5-9.5-4-9-4-4.5-1.5-.5zM223 418l-1.5 1.5-2 4.5-2.5 10-1 8 15.5 0-2-12-2-7-2-4-1-1zM444 417l-4 4-3.5 6.5-4.5 14 28.5 0-3-12-4-8-5-4.5-1.5-.5zM477 391l-1.5.5-2 2-2.5 5-4 14.5.5 7.5 2.5 10 2.5 5 3.5 3 2.5-.5 3-4 3-8.5 2-8.5 0-5-3.5-13-3.5-6.5zM261 390l-2.5 2.5-2.5 5.5-4 16.5 3 13 2 5.5 2.5 4.5 2 1.5 1.5 0 2-1.5 2.5-4.5 2.5-7.5 2.5-11.5-1.5-8.5-2.5-8.5-4-6.5zM148 390l-2 2-1.5 4.5-2.5 15.5 0 5.5 1.5 10 2 8.5 2 3.5 2-1 1.5-4 3-16.5 0-6.5-2-13.5-2.5-7zM513 365l-2.5 2.5-2.5 5-3.5 11.5-.5 5.5 4 14 3 5.5 1.5 1.5 2 .5 2.5-1.5 3-5 4.5-15 0-3.5-2.5-10-3.5-8-3-3zM177 363l-2 2-2 4-3 9.5-2 9.5 3 13 2.5 7 2.5 4 3 .5 2-2 3-7 3-11.5.5-6-4.5-17-2-4-2-2zM299 362l-4 2-4 5-3.5 7.5-3.5 11 2.5 8.5 4.5 9.5 5.5 6 4 1 3.5-1.5 4.5-5.5 3.5-7 4-11.5-.5-.5 0-10-1.5-4.5-6.5-7-3-2zM550 336l-3 3-2 4-4 13.5-.5 5 1.5 7 3 9 2.5 4.5 2 2 2 .5 3.5-3 1.5-2.5 3-8.5 2.5-10.5-2-10-3-8.5-4-5zM207 336l-1.5 1.5-2.5 6.5-3 14.5 0 4.5 2 11.5 2 6.5 1.5 3 1.5 1.5 1.5 0 2.5-3.5 2-6 2.5-13 0-4.5-1.5-9-2.5-9-1.5-3-1.5-1.5zM849 319l-4-4.5-5.5-3.5-6.5-.5-3.5 1.5-7 6.5-5 7.5-3.5 7-.5 11-1 1-3-1-4-3-7-3.5-4-1-6 .5-6 3.5-5.5 6.5-6 11.5-1.5 6-2.5 2.5-2.5 0-5-2-6.5-1.5-7.5 1-5.5 3.5-3 3-6 9-4.5 10.5-2 2-3 .5-8-2-7 0-6 2.5-7.5 7.5-7.5 13.5 1.5 6 3.5 6.5 6.5 7 6 3.5 3.5 1 6.5-.5 6-3.5 4.5-4.5 4.5-6.5 4-7.5 1-3.5 1.5-1.5 5-.5 5 1.5 6 .5 4.5-1 6.5-4 7.5-10 6.5-14.5 4.5-.5 8 2.5 6 0 7-3.5 6-7 6.5-13 .5-11.5 1-1 3.5 1.5 4 3 9 4 6.5 0 6-3 5-5.5zM586 308l-4 2.5-4.5 8-4 13 0 3.5 3 10.5 4 8 3.5 3.5 4 .5 4-3.5 3-5.5 5-16-2-10.5-3-7-4.5-5.5-1.5-1zM237 308l-2 1.5-3 7-3.5 17.5 4 17.5 2.5 5 1.5 1.5 1.5 0 2-2 3-7.5 3-13.5 0-4-2-10.5-2-6.5-2-4-2-2zM149 308l-2.5 4-2 7.5-2 11.5 0 4 3.5 18 1.5 3.5 1.5 1.5 1 0 2-2.5 2-6.5 2.5-14.5 0-3.5-3-16.5-2-5-1.5-1.5zM619 281l-2.5 1.5-4 5-4.5 10-2.5 9 2.5 10.5 4.5 8.5 4 4 2 1 4 0 2-1 4.5-5.5 4.5-10 2.5-9-1-8.5-3-7.5-7-7-2-1zM268 281l-3 .5-3 5.5-4 16.5 0 5.5 2.5 11.5 3.5 8.5 2.5 2 3-2 2-4 4.5-18.5-3-16.5-3-7zM172 281l-2.5 4-1.5 4.5-2 9-1 9 2 11.5 2 7 2.5 4.5 1.5.5 2.5-2.5 2-5.5 2.5-11.5.5-8.5-3.5-16.5-1.5-3.5-2-2zM474 255l-2.5 3-3.5 9-2.5 10.5 0 5.5 3 13 3 5.5 2 2 2 .5 2.5-1.5 3-5.5 4.5-18-1.5-8-3-10-3.5-5.5zM651 254l-4 3-4.5 7.5-4.5 13 0 7 1 5.5 4 7.5 5.5 5 2 1 4 0 2-1 3-3 2.5-4 3-7 3-11-2.5-11-3.5-6.5-5-5-2-1zM294 254l-3 2.5-2.5 5.5-2.5 9-1.5 9 2.5 12.5 2.5 7 3.5 4.5 2.5 0 2-2 4-10 2.5-11 0-4.5-1.5-8-2.5-8-2-4-2-2zM197 254l-2 2-2 5-3.5 18.5 1 7.5 3 12.5 1.5 3 1.5 1.5 1.5 0 2-2.5 2-6 3-16.5-3.5-18.5-2.5-5.5zM131 254l-2 .5-2 4-4 20.5 2.5 16.5 2 6 2.5 3 1.5-.5 2.5-6 3-17.5-2-17-1.5-5.5zM502 228l-3 3-3 8-2.5 11 0 4.5 1.5 8 2.5 8 1.5 3 2.5 2.5 1.5 0 2-1.5 2.5-5 3-11 1-8-4-16.5-2.5-4.5zM683 227l-3.5 3-3 5-4.5 12.5-1 5 2 11 2.5 5.5 4.5 5.5 2.5 1.5 3 .5 2.5-1 4.5-5.5 2.5-5.5 4-13-2-10-3.5-8-2-3-3.5-3zM321 227l-2.5 2.5-2.5 5-3.5 12-1 6.5 4 16 3 5.5 2 2 3 .5 3-3 3-6.5 4-16-1.5-11-3-8-4-5zM220 227l-1.5 1.5-2 5-3.5 19 3.5 18.5 2 4.5 1.5 1.5 1 0 1.5-1.5 2.5-6.5 2.5-12.5.5-6-2-12-3-9.5-2-2zM149 227l-1.5 2-2.5 8.5-2 12 0 5.5 2.5 14.5 2.5 6.5 2 1 1.5-1.5 1.5-4 3.5-20-3-18-2-5-1.5-1.5zM532 200l-3 2-2 4-4.5 17 .5 6 2 8.5 3.5 8.5 2.5 2.5 1.5 0 1.5-1 3-5.5 4-15.5-.5-8-3.5-12.5-3-5zM717 200l-2 1-3.5 4-3 6.5-4 13.5 2 10.5 3.5 8 2.5 3.5 2.5 2 4 .5 3.5-2.5 4-7 3.5-10.5 1-6-1.5-7.5-4-10-4.5-5-2-1zM243 200l-2 3-2.5 8.5-2 11.5 0 4 2.5 14 2.5 7 2.5 2 1-.5 2-3.5 2-7 2-11 0-7-3.5-16.5-1.5-3-1.5-1.5zM169 200l-1.5 2.5-2 7-2 12.5 0 6 2.5 15 2 5.5 2 1.5 1.5-1.5 2-5.5 3-18.5-3-18.5-2-5-1-1zM117 199l-2.5 4-3 10.5-1.5 9.5 0 5 1 7.5 2.5 8 2 4.5 2.5 2 2-3 1.5-5.5 2-15 0-5-2.5-17.5-1.5-4-1-1zM749 173l-4 3.5-3.5 6.5-4 12-.5 4 1.5 7 4 10 3.5 4.5 3.5 2 1.5 0 2.5-1 2-2 4-7 4-12 .5-4.5-2.5-10.5-4-8-3.5-3.5-2-1zM560 173l-3.5 4.5-4 14-1 7 1.5 8.5 3 10 1.5 3 2 2 2 0 2-2 3-7 3-13 0-5.5-2-9.5-2.5-7.5-3-4zM267 172l-2.5 3-2.5 8.5-2 11 0 6 1.5 9 2.5 9 2.5 3.5 1.5 0 2.5-4 2-7 2-11 0-6-2-11.5-2-6.5-2-3.5zM189 172l-2 3-1.5 5-2.5 15 0 5 3 16.5 1.5 4 1.5 1.5 1 0 2-3 1.5-5.5 2.5-18-3-17.5-2-5zM135 172l-2 1-1.5 4-3 18 .5 9 3 15 1.5 3 1 .5 1.5-2 1.5-5.5 2.5-17-1.5-15-1.5-7zM783 146l-4 3.5-3 5.5-5 16 2.5 11 3.5 7.5 5.5 5.5 4 0 4.5-4.5 2.5-5 3.5-10 1-7-2-8.5-3.5-8-2-3-3-2.5zM589 145l-2 1-2.5 4.5-4.5 18 .5 6.5 2 9 3 8 2.5 2.5 2 0 2.5-3 2.5-7 3-14-2-12.5-2-6.5-3-5.5zM289 145l-3 5.5-3.5 17 0 5.5 3.5 17 2 4 1 1 1.5 0 2.5-4 1.5-5 2.5-13.5 0-5.5-3.5-17-2-4-1-1zM210 145l-1 0-1.5 1.5-1.5 4-3 16 0 8 2.5 14 3 6.5 1 0 1.5-1.5 1.5-4 3-16 0-7.5-1.5-10-2-7.5zM150 145l-2 4.5-1.5 7.5-1.5 15 3 19 1.5 3.5 1.5.5 1.5-2.5 1.5-6 2-14.5 0-4.5-3-18.5-1.5-3.5zM817 119l-3.5 3-4 7.5-4.5 14 2 9.5 3.5 8.5 4 5 3 1.5 2 0 3.5-2.5 4.5-8 3.5-10.5.5-5.5-3.5-11-3.5-7-3-3.5-2-1zM615 118l-2 2-3.5 8.5-3 13 0 2.5 1.5 8.5 2.5 8.5 3 5.5 1.5 1 2 0 2.5-2.5 2.5-6 3.5-14.5 0-4-2-10-3-8.5-2.5-3.5zM463 118l-2.5 7-1.5 9.5-.5 15.5 2 13 1.5 4 1.5 1 1.5-2 1.5-6 2-18.5-2.5-17.5-1.5-5zM314 118l-2 0-2 3.5-2 7-2.5 14 3 17.5 2.5 6.5 2 1.5 2-1.5 2-5 3.5-18-.5-6-2.5-12.5zM230 118l-2 1-2 5-3 17 0 4 2 13 3 9 1.5 1 1.5-1.5 1.5-3.5 3.5-19.5-2.5-18-2-6zM167 118l-1 0-2 5.5-2.5 17 0 5.5 1.5 12 2 8 1.5 2 1.5-1.5 1.5-5 2.5-18.5-2-16.5-2-7.5zM848.5 114.5l.5 0 0 .5-.5 0zM483 91l-1.5 2.5-1 4-2 14.5.5 12.5 1.5 9.5 2 6 1 0 2-5.5 2.5-19-2.5-18.5-1-4zM137 91l-1 0-2 6-2.5 18 2 18 1.5 5.5 1.5 2 2.5-5 2.5-17.5-1.5-18.5-2-7.5zM644 91l-3 3-3.5 9-2.5 11 0 5 4 15.5 2 4 2.5 2.5 2 0 2.5-2.5 1.5-3 5-19.5-1.5-9-3.5-11-3.5-4.5zM334 91l-1.5 1-3 8-2.5 13.5 0 6 1.5 9.5 2.5 8.5 2.5 3.5 1.5 0 2-3 2-6.5 2.5-17-3-16.5-2-5zM248 91l-2 1.5-1.5 4-3 17 0 6 1.5 10.5 2.5 9 1.5 2 2-1 2-5 3-18-2-16-1.5-6zM184 91l-1.5 1-1.5 5-2.5 18.5 2 17.5 2.5 8 1.5-.5 1.5-4 2.5-17 0-7.5-2.5-16.5zM506 64l-1 0-2 6-2.5 18 2 16.5 1.5 6.5 1.5 2 1.5-2 1-3.5 2.5-18-1.5-15-1.5-7zM671 64l-2 2-2.5 5-4.5 18 1.5 8.5 3 10 2.5 4.5 1.5 1.5 2 .5 3-2.5 2-4 4-14.5.5-6.5-1.5-8-2.5-8-4-6zM356 64l-2.5 4-2 7-2 11 0 6.5 3.5 16.5 2 4 2 1 1.5-1.5 2.5-6.5 2.5-12.5.5-6.5-2-12-2-7-2.5-4zM268 64l-2 1-2 5-3 16.5 0 5.5 2 12.5 2.5 8 1.5 1.5 2-1.5 2-5.5 3-18-2.5-16.5-1.5-5zM202 64l-1.5.5-1 2.5-3 18 0 8.5 1.5 11 2 8 1.5 1.5 1.5-2 1-3.5 2.5-16.5 0-7-1.5-11.5-1.5-6.5zM150 64l-1.5 3-1.5 7-1.5 11.5 0 8 2.5 16 1.5 4 1.5.5 1.5-3 1.5-6.5 1.5-11.5 0-9.5-2.5-15.5-1.5-3.5zM688 62l1.5 9 2.5 8.5 2.5 5 2 2 2.5 0 2-1.5 2.5-5 4.5-18zM524 62l0 4.5 2 13 2 6 1.5.5 2.5-8 2-16zM444 62l-17.5 0-.5.5-6.5 24-9.5 28.5-4.5 4.5-2 3.5-6.5 20-2 1.5-3.5 0-2 1-3 3.5-4 10.5-2.5 11-1 1.5-1.5 1-4-1-3.5.5-2.5 2-2 3-5 13.5-1.5 6-.5 6.5-2 1-7-5-4 .5-2.5 2.5-3 6-3.5 12-.5 8.5 2.5 10.5 3 6 2 2.5 3 2 2 0 3-2 4-7.5 4-14 1-9 1-1 5.5 4.5 3.5 2 3.5-.5 3.5-3.5 3-5.5 5.5-15.5 2.5-1.5 1.5.5 9-.5 2 1.5 5.5 20 2.5 6 .5 11.5-3 15.5-2 2.5-2.5.5-3 4.5-5 21-2.5 2-2-.5-4.5.5-4 3.5-5 10-3.5 11.5-2.5 2-8-.5-4 2.5-3 4-3 6-3.5 10-1 5-2 2.5-2.5 0-6-2.5-5.5 0-3 1.5-5.5 6.5-3 6-4 11 .5 10.5 3 6 5 5 5.5 3.5 5 .5 3.5-1.5 4.5-4.5 2.5-4 5-11.5 1.5-5.5 2-2 7 2 4.5 0 3-1.5 3-3 3.5-6 5-15 2.5-1.5 2 .5 4.5-.5 4.5-3 4.5-7.5 5-14.5 9-7 2 1 2.5 4.5-1.5 28-2 2-3 5-6.5 19-5 8-7 19.5-3.5 2.5-4 5-4.5 8.5-5 12-5.5 1.5-4.5 4-6 11-4 10.5 38.5 0 4-1 3.5-3 5-10 3.5-12 3-3 3-5.5 5.5-19 2.5-1.5 4-4.5 5-11 3.5-10.5 2.5-1.5 4-5 3.5-7.5 4-12.5 1-1.5 1.5 0 2.5-2 2-3.5 2-6.5 2.5-16.5-2-11-3.5-8.5-3-3.5-3-.5-4 3.5-2.5 4-4 4-3 0-3.5-3.5-3-6-5.5-19.5 0-5.5 1-5.5 7.5-26.5 5-5 2.5-5 3-9 2-9 2-1 3-3.5 2-6.5 2.5-14 0-6.5-3-13-2.5-6-2-2-2 .5-2 3.5-6 21.5-5 1-5 3-3 0-2.5-2.5-1-2.5-.5-28.5 1-5.5 3.5-12.5 12.5-37zM383 62l-13 0 1.5 13.5 2 7.5 2.5 3.5 2-1.5 1.5-3.5zM293 62l-11.5 0 0 4.5 2 12.5 2.5 7 1 .5 1-.5 2.5-7zM222 62l-9 0 0 5 1.5 11.5 1.5 6 1.5 2 1-1 2-8zM170 62l-10 0 2 17.5 2.5 7 1.5-1 1.5-5zM122 62l2.5 18.5 1.5 4 1 .5 1-2 1.5-7.5 1-13.5zM88 62l0 380 38 0-3.5-18-3-6.5-2.5-.5-2 1.5-7.5 14.5-1.5 1.5-2 0-1.5-1.5-2.5-6.5-2-11 1-1 5.5-.5 4.5-2.5 3-3.5 3.5-6 5-14 1-1 4 0 2-1 3-6 3-16 0-6.5-2-11-2-6.5-3-4.5-3.5.5-3 4.5-3 8-3 13-2.5 1.5-10-2.5 2.5-4.5 2-7 1.5-10.5 0-5 2-1 3 0 2-2 2-5.5 2.5-15.5 0-7-2-13-3-7.5-1.5-1.5-2 0-5 4.5-2 0-1.5-1-3-4.5 4-3.5 1.5-3 2-6.5 2-11 0-14.5-1.5-8-2.5-5-4-3.5 1.5-2.5 2-7 1.5-11.5 0-5.5 4-3.5 3.5-9 2.5-14 0-11.5.5-.5 5 9 1.5 0 1-1 1.5-5 1.5-9.5.5-15.5-2.5-15.5-1-2.5-2-1-1 1-2 6.5-2.5 15 0 16.5-.5.5-5-9.5-3-3-2-1-6-1 2-3.5 1.5-5 2-13.5 0-5 3-3.5 2-7 2-16-.5-6.5-2.5-14-3-5.5-1-.5-5 .5-1.5-2z"/>
<path fill-rule="evenodd" fill="#df0000" d="M88 429l0 12.5 5.5 0-4-12zM675 440l-2-7-3.5-7-3-3-4-1.5-3 1-4.5 5-4 8.5-1.5 5.5 25.5 0zM807 420l-2 2-3 5.5-4 12.5 0 2 22.5 0-3.5-12-3.5-7.5-3-3zM223 418l-2 3-1.5 4.5-3 16 14 0-2.5-15.5-2.5-6.5-1.5-1.5zM443 418l-5 7.5-5 16 25.5 0-2-9-4-10-5.5-5.5-2 0zM119 417l-1.5 0-1.5 1.5-2 4-5.5 19 17 0-3-17.5-1.5-4.5zM476 392l-2.5 2-2.5 5.5-3 11.5-.5 5.5 1.5 8 2.5 8 3 4.5 2.5.5 2.5-2.5 3-7.5 2.5-11 0-4-4-15-2.5-4.5zM261 391l-1.5 1-2.5 4.5-4.5 18.5 4.5 18 2 4 2 2 1.5 0 2-2 2-4 4.5-18-1.5-9-3-10-3.5-5zM148 390l-1.5 1.5-1.5 4.5-2.5 17 1.5 14 1.5 7 2 4.5 1 0 1.5-2.5 3.5-19.5-.5-9-2-12-1.5-4zM513 366l-2.5 3-2 4.5-3 11-.5 4.5 4.5 16 3 4.5 2.5.5 2.5-2.5 2-4 3-10 1-6.5-4-15-2-4-2-2zM768 373l-5-4.5-6-3.5-3.5-1-5 0-6 3-4 4-4 6-4.5 9.5-.5 10-1.5 2-3-1-7.5-4.5-4.5-1.5-6.5 0-6 3-3.5 3.5-3.5 5-5.5 11 1.5 5.5 4 7.5 8 8 4.5 2 5.5 0 5-2.5 7.5-8.5 6-11.5 0-8.5 1.5-2 1.5 0 9.5 5.5 5 1.5 4.5 0 5-2 6.5-6.5 7.5-14.5-.5-9.5zM179 363l-2 0-3 4.5-2 6-3 14 4.5 18.5 2 4 2.5 2 2.5-2 2-4.5 4-16.5-.5-6.5-4-15zM299 363l-3 1.5-3.5 4.5-3.5 7.5-3.5 11.5 3 10 4 8.5 4.5 5 3.5 1 2.5-1 2.5-2.5 4-7 4-11 .5-6.5-2-9-4-7.5-5-4.5zM795 337l-6.5.5-3.5 2-4 4-3 4.5-5.5 12 .5 9.5 2 5 4.5 4.5 4.5 3 7 2 6-1.5 6-5.5 3-4.5 5.5-12-1-6.5-3.5-8-4.5-5-4.5-3zM550 337l-2 1.5-3 6-3 10.5-1 6.5 2.5 11 2.5 7 3.5 4.5 2 0 2.5-2.5 3.5-8.5 2.5-10 0-5-4-15-1.5-3-2.5-2.5zM207 336l-3 6-3.5 18.5 3.5 18.5 2 4.5 1 1 1.5 0 2-3 1.5-4.5 3-17-3.5-18.5-2-4.5-1-1zM834 311l-5.5 2.5-4 4-5.5 8.5-3.5 8.5 1.5 7 4 7.5 6 5.5 4 2 5 .5 7-3.5 5.5-7 0-25-7.5-8.5-3-1.5zM587 309l-3 1-2.5 3-3.5 7.5-3.5 12.5 1.5 7.5 4 11 3 4.5 2.5 1.5 3-.5 3.5-4 3.5-8 3-10.5-1-7.5-2.5-8.5-4-7zM237 309l-1.5 1-3 7.5-2.5 11.5-.5 6 4 18 2 4 1 1 1.5 0 3-4.5 1.5-5 2.5-12.5 0-5.5-2-10.5-2-6.5-1.5-3-1.5-1.5zM149 309l-1.5 2-2 7-2.5 15.5 3.5 20 1.5 3.5 2 1 2-3 1.5-5.5 2.5-16-3-18.5-2-5zM619 282l-2 1-4 5-4 9.5-2.5 9 1.5 7 4.5 11 2 3 3 2.5 4.5.5 3.5-3 3.5-6 5-15.5-1.5-8.5-4-9.5-4.5-5-2-1zM266 282l-1.5 1.5-2.5 6-3.5 17 4 18.5 2.5 5 2.5 1 1.5-1.5 3-7.5 3-14 0-3.5-2-11-2-6.5-2-4-1-1zM172 282l-2 3.5-2 7-2 11 0 6 2.5 13.5 2.5 6.5 2 1.5 2-2 1.5-4 2-8.5 1.5-11-2.5-14.5-2-6.5-2-2.5zM452 281l-2 0-2 1.5-6.5 12.5-5 5-2.5 0-2-1-8.5-8.5-.5 5.5 1 9.5-2.5 2.5-2 6-1.5 11.5 0 6-.5 1.5-3.5 3.5-2.5 5-5.5 17.5-3 3.5-3 6-6 18.5-4.5 2.5-3.5 4.5-5.5 11.5-3 8.5-2.5 1.5-4 .5-4 3-4.5 7.5-6 15 34.5 0 6-1.5 3.5-3.5 4-8.5 3.5-13 4-3.5 2.5-5 5-18.5 4-2.5 2.5-3 4.5-10 4-12 5-4 4-7.5 5-15.5 1-1 3.5-1 1.5-1.5 3-7.5 3-18-1.5-8.5-2.5-8.5-2-4zM88 279l0 135 13.5-.5 5-2 5-6 4-8.5 3.5-11.5 2-1 1.5 1 3 .5 2-1.5 3-8 2.5-16.5-3.5-18.5-2-4.5-2.5-2-2.5 2-1.5 3-3 10-2 13.5-1.5 3-1.5 0-5-3.5-3.5-1.5-9-.5-2.5-1 2.5-1 3-3 2.5-5 2-6.5 2.5-13.5 1-1 1.5 0 2.5 1.5 1.5 0 2-2 3-12.5 1-7.5 0-8-2.5-14.5-2-5-1.5-1.5-1 0-1.5 1.5-5 9.5-2.5 1.5-2-1.5-5.5-9.5-3-2.5zM474 255l-2 2-3.5 9-2.5 11 0 4.5 1.5 8.5 2 6.5 2 4 2 2 2.5 0 1.5-1.5 2-4 4.5-18.5-3-14-2-5.5-3-4zM651 255l-3.5 2.5-4.5 8-4 12 0 5 2 8.5 4.5 8.5 3 3 2 1 3 0 2-1 3.5-4 3.5-7.5 3.5-12.5-2-9-4-9-4-4.5-2-1zM294 254l-3 3-2.5 7-3 16 2 10.5 2.5 8 3 4.5 2.5 0 3-4.5 2-6 2.5-12 0-4.5-4-16.5-2.5-4.5zM197 254l-2.5 3.5-1.5 5-2.5 14 0 4.5 2 12 2 7 2 3 1.5 0 2.5-4.5 1.5-6 2-12 0-4-2.5-14.5-2.5-6.5zM131 254l-2 1-2 5-3 17.5 2 16.5 1.5 5.5 2.5 4 2-1.5 1-2.5 3.5-21-2-15-1.5-6zM504 229l-2 0-2.5 3.5-1.5 4-3 13.5 0 5 2 10 3 8 2.5 2.5 1.5-.5 2.5-3.5 2-6 2.5-12 0-3.5-2.5-12-1.5-4.5zM684 228l-3 2.5-2.5 4-5.5 16.5 0 2.5 2 9.5 3.5 8 4 4.5 3.5 1 4.5-3.5 2-3.5 3.5-9.5 2-8.5-1.5-7.5-2-6-3-6-3.5-3.5zM220 227l-2 3-1.5 5-2.5 14 0 5 3.5 18 1.5 3 2 1 2.5-4 3.5-17.5 0-6.5-3-15.5-1.5-4-1.5-1.5zM149 227l-1.5 2.5-1.5 5.5-2.5 18 3 17.5 2 5 1.5.5 2-3 2-8.5 1.5-10 0-6.5-2.5-15-2-5zM322 227l-1.5.5-3 4-2.5 7-3 13.5 1.5 8.5 2.5 8.5 2 4.5 3 3 2 0 3.5-4.5 3-9 2-9 0-6-2.5-11.5-3-6.5-2.5-2.5zM531 201l-2.5 3-2.5 7-2.5 11.5 0 4 4 16 3 5 2.5 0 2.5-3.5 2-6 3-13.5-2-11-2.5-8-3-4.5zM717 200l-3.5 3-3 5.5-3 9-1.5 8 2 9.5 3.5 8.5 4 4.5 3.5.5 3-2.5 3.5-6.5 4-13.5 0-4-2-8.5-3.5-8.5-4-4.5zM243 200l-2 3.5-1.5 5.5-2.5 15.5 3 17.5 2 5.5 2 1.5 2.5-3.5 2-7.5 2-15.5-3-16.5-2-5-1-1zM347 200l-3 3-2 4-4 14-.5 6 1.5 8 3 8.5 3.5 5 1.5 1 2 0 3-2.5 2.5-5 4.5-16 0-6-1.5-9-3-6.5-4.5-4.5zM170 200l-1 .5-1.5 3-3.5 19.5.5 8 2 12 1.5 4.5 1.5 2 1.5-1 1.5-3.5 3-17 0-7-1.5-10.5-2-7.5zM117 200l-2 4.5-3 16.5 0 8 2.5 14.5 1.5 4.5 1 1.5 1.5 0 2.5-8 2-17.5-2-17-2-6.5zM750 173l-4 3.5-2.5 5-3 8.5-1.5 6 0 3 2 8.5 3.5 8.5 4.5 5 2.5.5 4-3 3-5.5 4.5-14 0-4-2-8.5-3-7.5-4.5-5.5zM561 173l-2 1.5-3 7.5-2.5 11-.5 5.5 4 17.5 2.5 4.5 2.5.5 1.5-1.5 2.5-6 3.5-16.5-1.5-9-3-10.5-2-3.5zM267 173l-1.5 1.5-2 5.5-3 19 3.5 18.5 1.5 3.5 1 1 1.5 0 2-3.5 2-7.5 2-14.5-3-17-2-5zM189 173l-1.5 2.5-1.5 5-2.5 18.5 3 18 1.5 4 2 1 1.5-2.5 1.5-5.5 2.5-16.5-3-19-2-5zM135 173l-2 1-1 3-3 20.5 2.5 18.5 1.5 5 1.5 1.5 1.5-2.5 1-4 2.5-18.5-2-16.5zM783 146l-3 3-3 5.5-4 12.5-.5 4 2 9 4 9.5 3.5 4 4 .5 3-2.5 3.5-6.5 4.5-15-2-9-4-10-2-3-2.5-2zM589 146l-2.5 2-1 2-4.5 18.5 0 4.5 2 10.5 2 6.5 3 4.5 2 0 2.5-4 4.5-18.5 0-3.5-3-14.5-2.5-6zM289 146l-2 3.5-1.5 5.5-2.5 16.5 3 17 2.5 6 2 .5 2-3.5 1.5-5.5 2.5-16.5-3-17-2.5-6zM210 146l-1 0-2 3-3.5 19 0 5.5 2.5 15.5 1.5 4.5 1.5 1.5 1.5-1 1.5-3.5 3-17.5 0-5.5-1.5-10.5-1.5-6.5zM150 146l-2 5.5-2.5 20 2 16 2.5 7.5 1 0 2.5-7.5 2-18.5-2.5-18-1.5-4.5zM88 145l0 133.5 9 0 3.5-2.5 3.5-8 3-15.5-.5-6-2-10.5-3.5-8-3.5-2.5-7 0-.5-.5 5-2 3.5-5.5 2.5-8.5 1.5-11 5.5-4 3-7 2.5-11.5.5-7.5-1.5-9-2-6.5-4-6-2-1-2.5 0-6.5 1.5-5.5-2zM818 119l-3.5 3-2.5 4.5-4 11.5-1 6 1.5 7 4 10.5 3.5 4.5 3.5 1 3.5-2.5 2.5-4 3.5-9.5 2-8.5-1.5-6-4.5-12-4-5zM615 119l-2 2.5-2.5 6.5-2.5 11-.5 6 2 10.5 2 6.5 2 4 1.5 1.5 2 0 1.5-1.5 2-4 4-16.5 0-4.5-2-10.5-2.5-7.5-3-4zM463 119l-1.5 3.5-2 12-.5 15 1.5 12 2 6 1 .5 1-1 1.5-6 2-19-2.5-18.5-1.5-4zM166 119l-2.5 9.5-1.5 17.5 2 15.5 2 6 1 .5 2.5-8 2-17-2.5-19-1.5-4.5zM122 119l-2 5-2.5 16.5 0 8.5 2.5 15.5 1 2.5 2 1 1.5-3 1.5-8 1-9.5 0-9-2.5-16.5-1-2.5zM313 118l-1.5 1.5-2 5-3 16 0 5 2 12 3 9 1.5 1 1.5-1 2-5 3-16 0-6-2-12-1.5-5.5-1.5-3zM229 118l-1.5 1.5-1 2.5-3.5 20 2 16 1.5 6 1.5 3 1 .5 1.5-1.5 1.5-4.5 2.5-15 0-8-1.5-10.5-2-7.5zM482 92l-1.5 4.5-1.5 10-.5 13.5 2 15 1 3.5 1.5 1 2-7 2-17-2.5-19.5-1.5-4zM137 92l-1 .5-1 2-3 21.5 2 17.5 2.5 7 2-4 2.5-18-1.5-18.5-1-5zM644 91l-2.5 2.5-2.5 6.5-3 13 0 5.5 2 10 2.5 7.5 3 4 2 0 1.5-1.5 3.5-8.5 3-15-1.5-8.5-3-10.5-2-3.5zM334 91l-1 .5-2 4.5-2 8.5-1.5 12.5 3 17 2 5 1 1 1.5 0 2.5-5.5 3-15.5 0-7.5-2.5-13.5-2-5.5zM248 91l-1.5 1-1 2-3.5 20 1.5 15 1.5 7 2 4 2-1 1-2.5 3.5-21-3-19.5zM184 91l-1 1.5-1.5 6-2 17.5 2.5 19.5 1 3.5 1.5 1 1.5-3.5 2.5-17.5 0-7.5-2-15-1-3.5zM506 65l-1.5 1-1 3.5-2.5 19 2 17.5 1 4.5 1.5 2.5 1-1 1-3.5 2.5-18-1.5-16-1.5-7.5zM105 65l-2.5 2-3.5 6-3 2.5-1.5 0-5-4.5-1.5.5 0 70.5 1 .5 6.5 0 3-2.5 1.5-3.5 2-9 1-11 4-4 2-7 2-17-3-18.5-1-3zM671 64l-1.5 1-2 3.5-2 6-3 14 3.5 16.5 3.5 7 2.5 1 3-3 2.5-6.5 2.5-10.5.5-7-4-16.5-2.5-4.5-1.5-1zM356 64l-1.5 2-2 6.5-2.5 17.5 3.5 18.5 2 4 1.5.5 2.5-4 1.5-5.5 2-11.5 0-7.5-3.5-17-1.5-3zM268 64l-2 1-1.5 4-3 18 2 17 2 7 1.5 2 1.5-1 1.5-3.5 3-17 0-6.5-1-7.5-2-9.5zM202 64l-1 0-1.5 3.5-2.5 17 0 8.5 2.5 16.5 1.5 3.5 1.5-1 1-3 2.5-17.5-1-15.5-1-6zM150 64l-2 6-2 15 0 7.5 2 15 2 5.5 1 0 1.5-3.5 2-12 .5-14-3-18-1-1.5zM689 62l2 11.5 2 6.5 2 4 2 2 2 0 2-2 2-4.5 4-17.5zM534 62l-9 0 1.5 15.5 1 5 1.5 3 1.5-1 1-3.5zM443 62l-15.5 0-.5.5-6.5 24.5-9.5 28.5-5 5-1.5 3-6 19.5-2 2-1.5.5-.5-.5-4 .5-2.5 2.5-3 6.5-4.5 17.5-2 2-2.5 0-2.5-1.5-3.5.5-2 2-3 5.5-4.5 15.5 0 7 2 9 3.5 6.5 3.5 3.5 3.5.5 4-4 3-6.5 4-14 2-2.5 8.5.5 5-2.5 2.5 0 3.5 3 5 13.5 6 6-.5 8.5-4 10-4.5 16.5-2 3-4 1.5-1.5 2.5-5 21-3 3-5.5-.5-1.5.5-3 3-4.5 9-3.5 13-1.5 2.5-2.5.5-3.5-1.5-4 0-1.5.5-3.5 3.5-4 7.5-4 12.5 0 5-1 5-2 .5-5.5-4.5-4.5-2.5-5 0-4.5 3.5-3.5 5.5-5.5 14.5.5 7 4 10.5 2.5 3.5 5.5 4.5 4.5.5 2.5-1 5.5-6.5 4-8.5 3-9.5 0-5 1.5-2.5 1 0 3.5 3 5.5 3 4 0 4-3 4.5-8 5-15.5 1-1 3 0 2.5 1 3.5-.5 4-3.5 5.5-12 2-8.5 1.5-2 2.5-1 2-2.5 5.5-13 4.5-4.5 4 .5-1-14.5 8-30 4.5-14.5 4-4 3.5-6.5 4.5-17.5 3-1.5 2.5-3.5 1.5-4.5 3-17-.5-6-3-13-2-5-1.5-1.5-1 0-2.5 3.5-5 21-1.5 1.5-5.5 1-8 8.5-2.5 0-3-4.5-1.5-6 .5-10.5.5-.5 0-11.5 1.5-9 2.5-9.5 14-41.5zM371 62l2 15.5 2.5 7.5 1.5 1 2-3 1.5-5.5 2-15.5zM292 62l-10 0 0 4 3 17 2 3 2-3 3-17zM221 62l-8 0 1 14 1.5 7.5 1.5 2.5 2-5zM170 62l-9 0 2 18 1 4 1.5 2 1.5-2.5 1-4.5zM123 62l1.5 16 1 4.5 1.5 1.5 2-8 1-14z"/>
<path fill-rule="evenodd" fill="#ef0000" d="M651 442l22.5 0-2.5-9.5-3.5-6-3-2.5-4 0-2.5 2-3.5 5.5zM808 420l-3 3.5-2 4.5-3.5 13.5 20.5 0-3.5-12.5-3-6.5-3.5-3zM223 419l-1.5 1.5-1.5 3.5-2 9-1 9 12.5 0-3-17.5-2-4.5zM444 418l-2.5 2.5-2 3.5-3 8-2 9.5 23 0-2-9-4.5-11-3-3.5-1-.5zM117 418l-3 5.5-4 18.5 14.5 0-3.5-19.5-1.5-3.5-1-1zM476 393l-3 4.5-2 6-2 9 0 4.5 3.5 14.5 2.5 4.5 2.5.5 1-.5 2.5-4.5 4-17-4-16.5-2.5-4.5zM711 392l-5 .5-3 1.5-3.5 3-6 9-3.5 8 1.5 5.5 5 9 6 6 5.5 2 6-1.5 5.5-5 4-6 4.5-9.5-2-9.5-4-6.5-5.5-4.5zM261 391l-2 2-2.5 6.5-2.5 11-.5 5.5 3.5 15 2.5 5.5 2.5 1.5 2-1.5 3.5-9 2.5-11.5 0-3-1.5-8.5-2.5-8.5-2.5-4.5zM147 391l-2.5 7-2 18 2.5 16.5 1.5 4.5 1.5 1 2-5 1-5 1.5-16-3-18.5-1-2zM514 366l-2 1.5-2.5 5-2.5 8.5-1 8 3.5 13.5 2 4 2 2 1.5 0 2-2 3.5-9 2-8.5 0-3.5-4-14.5-1.5-3zM748 365l-4.5 2.5-4.5 5-5.5 10-2 5.5 1.5 8 3 6 5 5 4.5 2.5 7 .5 3.5-1.5 2.5-2 5-6.5 5.5-11.5 0-4-2.5-8-2.5-4-5-5-5-2.5zM179 364l-2 0-2.5 4-4.5 18.5.5 5.5 2.5 11 1.5 4.5 3 4.5 2.5-1.5 2-4.5 4-18-3.5-17zM299 363l-4 3-2.5 4-4.5 12.5-1 6 3 10 4 8.5 3 3.5 2 1 2 0 4.5-4 3.5-7 3.5-10.5.5-4-1.5-7.5-3.5-9-4.5-5.5-2-1zM97 362l-9 2 0 47 6 2 6.5.5 5-2 3-3 3-5 5.5-15.5 0-8-1.5-5-4-6-5-5-3-1.5zM793 338l-4 .5-3 1.5-4 4-3.5 5.5-4.5 10 0 4 1 4.5 3 7 5 5.5 6 3 5.5-.5 2.5-1.5 4-4 4-6.5 4-9.5 0-2.5-2.5-8-3.5-6-4.5-4.5zM550 338l-1.5 1.5-3 7-3 12.5 0 3.5 2.5 11 2 5.5 2.5 4 2.5.5 2.5-3 3.5-10 2-10.5-3-13.5-1.5-4-3-4.5zM208 336l-1.5 1-2 4.5-3 16 0 6 1.5 9.5 2.5 9 1.5 2 1.5 0 2-3.5 3.5-17.5 0-6-2-11.5-2-7zM334 336l-4 1.5-3.5 4-3.5 7-3.5 10.5 0 4.5 2.5 9 4 7.5 4 4 2 1 3 0 2-1 3.5-3.5 3.5-6.5 4.5-13-1-9-3-7.5-5-6zM126 336l-2 1-2 4-4 17.5 0 18.5 3 5.5 3.5 3.5 2.5-.5 2-3.5 2-8 1.5-10.5 0-5.5-2-12-2-6.5zM833 312l-3 1.5-6 6.5-6 11.5-.5 3.5 2 7 5 8.5 2.5 2.5 4 2.5 6 .5 3-1.5 3.5-3 5-8 0-19.5-7-9.5-4.5-2.5zM585 310l-2.5 2.5-2.5 5-4.5 16.5 2.5 10 4 9.5 2.5 3 3 .5 2.5-2 3-5.5 3.5-11 1-6-2.5-11-3.5-8-2.5-3zM237 309l-1 .5-2 4-4 20 2.5 14 2 6.5 2 3 1.5 0 2.5-4 1.5-5 2-10 .5-6.5-3-15.5-2.5-6zM149 309l-1.5 2.5-1.5 5.5-2 12.5 0 7 2.5 15 2 5 1.5.5 1-1 2.5-9.5 1.5-9.5 0-8-3-16.5-1-2.5zM619 282l-3.5 3-3.5 6.5-4 13 0 3.5 3 10.5 2.5 5.5 3.5 4.5 2 1 2.5 0 3.5-3 3.5-6.5 4-13 0-3.5-2-8.5-3-7-4-5-2-1zM172 282l-1.5 2.5-1.5 5-2.5 14.5 0 4 3 16.5 1.5 4 2 1.5 1-.5 1.5-3 1.5-5.5 2-11.5 0-7.5-2-11.5-2-6.5-1.5-2zM452 282l-2 0-2 2-9.5 22-1.5 1-9.5.5-4.5 4.5-2 6.5-1.5 10 0 4.5-3.5 3-3.5 6.5-5 17-3.5 4-3.5 7.5-4.5 16-1.5 1.5-3 1-4 4.5-3 6-5.5 15-1.5 1-6.5 1-4.5 4.5-5 10.5-3.5 10 31 0 1.5-1 3 0 4-1.5 3-4 4.5-12 2-8.5 4.5-3.5 2.5-5.5 4.5-18 4-2 2.5-3 3.5-7.5 4.5-14.5 3-1.5 2.5-2.5 3-5.5 3-8 2.5-9.5 1.5-1.5 3.5-.5 2-2 1.5-3 2.5-9.5 1.5-9 0-4.5-3.5-15.5-1.5-3.5zM267 282l-2 1.5-1.5 3-4 18 .5 7.5 2.5 11.5 2 5 2 2 2-1 1.5-3 2-6.5 2.5-13.5-3.5-18-2.5-5.5zM112 281l-1.5.5-1 1.5-4 13-3.5 6.5-1.5 0-1.5-1.5-7-16-4-3.5 0 77.5 4.5-1.5 3.5-3.5 2.5-5 4-15 0-6 1-4.5 1-1 2 2 3.5 6 1 .5 2-1 1.5-3.5 2.5-14 .5-9-2.5-16-1.5-4.5zM475 256l-1.5 1-2.5 5-4 17.5 2 11.5 2 6.5 1.5 3 2 2 1.5 0 2-2 3-8 2.5-14.5-2-10.5-2-6.5-1.5-3-2-2zM651 255l-3.5 3-2.5 4.5-5 15 0 3 3 11.5 3 6 3 3.5 2 1 2.5 0 4-3.5 3.5-7 3.5-11.5 0-4.5-1.5-6-3.5-9-4.5-5.5zM295 255l-2.5 1-2 4-4 16.5 0 5.5 3 14 2 5 2.5 2.5 2.5-1.5 1.5-3 2.5-8.5 2-10.5-1-8-2.5-10.5-2-4.5zM197 255l-2 3-2 7-2 16 3.5 18.5 1.5 3 1.5 1 2-3 1.5-5 2-11 .5-7-3-17-1.5-4zM131 255l-2 1-1 2.5-2 9-1.5 11.5 2.5 17.5 1.5 5 1.5 2 1.5-1 1.5-4 2.5-15 0-9-2.5-15zM502 229l-2 2-2 5.5-3 16 1.5 9 2.5 8.5 2.5 4 1.5 0 1.5-1.5 2.5-6 3-15.5-2-11-2.5-8-2.5-3zM687 228l-3 0-3 3-3.5 7.5-3.5 12.5 1.5 9 2.5 7.5 2.5 4.5 3 3 1.5.5 2-.5 3-3 3.5-7.5 3.5-13-3.5-14-4-7.5zM220 228l-2 3.5-1.5 6-2 12.5 0 4 3 17 1.5 4 2 1 1.5-2 2-7 2-12.5 0-5.5-2.5-14.5-2-5.5zM149 228l-2.5 7-2.5 18 3 18.5 1.5 4 1.5.5 1-1 2.5-9.5 1.5-10.5 0-6.5-3-17-1-2.5zM323 227l-2.5 1-2.5 4.5-2 6-2.5 12 .5 5.5 2.5 10.5 3 7 2 2 2 0 1.5-1.5 2-4 4.5-18-1.5-10.5-2.5-8.5-2.5-4.5zM94 226l-4 2.5-2 2.5 0 40.5 5 5 4 .5 3-3 2.5-6.5 3-17-2-12-2.5-8-3-4zM531 202l-1.5 1-2.5 5.5-3.5 16.5 3.5 16.5 2 4.5 1.5 1.5 1.5 0 1.5-1.5 2.5-6 3-13.5 0-3.5-4-16.5-1.5-3-1.5-1.5zM717 201l-3 2-3 5.5-2.5 7.5-2 10 2 9 4 10 3.5 3.5 2.5 0 3-3 2.5-5 4-14 0-4-2-8.5-4-9.5-1.5-2zM347 200l-2 2-3.5 8-3 12.5 0 4 3.5 14.5 2.5 5 2.5 2.5 2 0 3-3 3.5-9 2.5-10.5 0-5-1.5-9-3.5-8.5-2.5-3zM244 200l-2 2-1 3-3 16 0 7 3 16 2.5 4.5 2-1.5 1-2.5 3.5-19-2.5-18-1.5-5zM170 200l-1 .5-1 2-1.5 6-2 14 2 18 1.5 5.5 1.5 2.5 1.5-1 1-2.5 3-17.5 0-7-1.5-10.5-2-8zM118 200l-2 4-3 20.5 2.5 18 1.5 5 1.5 1 1-1 1.5-6 2-18-2.5-19.5-1-3zM752 174l-3 .5-2.5 3-3 6.5-3.5 12.5 1 7.5 3 9.5 3.5 6 3.5 2 1.5-.5 3-3 2-4 4.5-15 0-3.5-3-11.5-3.5-7zM561 174l-2 2-2.5 6.5-3 15 2 11.5 2.5 8.5 2.5 3.5 1.5 0 2-3 2-6 2.5-12.5 0-4-3.5-16-1.5-3.5zM267 173l-3 6-3 18.5 3 18 2 5 2 .5 1.5-2.5 1.5-5.5 2.5-16.5-3.5-19.5-1-2.5zM189 173l-2.5 6.5-2.5 18.5 3 19 1 3 2 1 2-4.5 3-19.5-2.5-17.5-1.5-5-1-1.5zM135 173l-1.5.5-1.5 4.5-2.5 19 2 16.5 2.5 8 1-.5 1.5-4.5 2.5-19-1.5-15zM783 147l-2.5 2-3 5.5-3.5 11-1 6 2.5 10.5 4 9 2.5 2.5 3.5.5 3-3 2.5-5 4-13.5 0-4.5-3.5-12.5-2.5-5-2.5-3zM105 147l-2.5 0-2 1-5.5 5.5-4 5-3 6 0 59 3.5-1.5 3-3.5 3-7 2.5-11 0-2.5 1.5-1.5 4-1.5 1.5-1.5 2-4 2-7 2-11.5-1-8-3-11-2-3.5zM589 146l-2 1.5-2.5 6.5-3 15 2.5 15.5 1.5 5 2.5 4 2 0 2-3.5 2.5-8.5 2-11.5-3-16-2.5-6.5zM447 146l-1 0-2 3-4 15.5-.5 5-1 2-1.5 1-4 0-2 1.5-3 4.5-5 10.5-7 8 3.5 3.5 1.5 5-1 9-2.5 10-4 9-5.5 18-2.5 3-2.5.5-2.5 3-5.5 21.5-3 3-5.5-1-3.5 2.5-4 8-3 9.5-1.5 8.5-1.5 2-7-3.5-3.5 0-3.5 2.5-4.5 8.5-4 13.5 1 10 3.5 8.5 4 4.5 2.5 1.5 5-.5 3.5-4 3-6 4-13 0-2.5 1.5-3 2 0 2.5 1.5 4 1 2.5-1 2.5-2.5 3-5.5 5-17 3.5-1.5 3-4.5 3.5-12.5 4.5-8 .5-3 6-15.5 10.5-34.5 5-5.5 2-4 5-19 4.5-2.5 2-5 3.5-21-3.5-16.5zM289 146l-3 8-2.5 16.5 3.5 19.5 2 4 1.5 0 3-8 2.5-16.5-3.5-19.5-1.5-3.5zM209 146l-1.5 2-2 8.5-1.5 11 0 5.5 3 17.5 1 2.5 1.5 1 1.5-2 2-8.5 1.5-11 0-5.5-3-17.5-1-2.5zM150 146l-2.5 10-1.5 15.5 2.5 18.5 1.5 4 1 0 2.5-9 1.5-17.5-2.5-18-1.5-3.5zM818 120l-2 1.5-3 5-3.5 10-1.5 8 2 8.5 4 10 2.5 3 3 1 3.5-3 2.5-5 3-9 1.5-7-2-8-4-10.5-2.5-3.5zM617 119l-2 0-2.5 4-4.5 19.5 3.5 17.5 2.5 5.5 2 1.5 2-1.5 1.5-3 2.5-8.5 2-10.5-3-16.5-1.5-4.5zM463 119l-2 6.5-2 17.5 2 18.5 1 4 1.5 1.5 1.5-3 1-5 1.5-18.5-2.5-18.5-1-2.5zM123 119l-1.5 1-1.5 5.5-2 15.5 1 15 1.5 7.5 1.5 3.5 1.5-1 1-3 2-15-.5-15.5-1.5-9.5zM313 119l-2 2.5-1.5 5-2.5 15 0 3.5 3.5 19 1.5 3 1.5.5 2-3.5 3-14.5.5-9-3-16.5-2-4.5zM229 119l-2.5 4.5-3 19.5 2.5 18 2.5 6.5 1.5-1 1.5-4 2.5-15 0-8.5-1.5-10.5-1.5-6.5zM167 119l-1 1.5-1.5 7-1.5 12.5 0 7 2 15.5 1 3.5 1.5 1.5 1-2 1.5-7.5 1.5-16-2-16.5-1-4.5zM483 93l-1.5 1.5-1 4-2 17.5 2 18 2 5.5 2-5 2-17-1-13zM137 92l-1.5 1.5-1 4.5-2 17 1.5 16 2 8 1.5-.5 1-3.5 2-16-1-17-1-6zM644 92l-2 2-2.5 6.5-2.5 11.5-.5 5.5 4 17.5 2 4 1 1 2 0 4-8 2.5-11 .5-7-1.5-8.5-2.5-8.5-2-4zM334 92l-2 2.5-1.5 5.5-2.5 17 1.5 11 2 8.5 1.5 3 2 .5 2-4.5 3-16.5 0-6.5-3-16-1.5-3.5zM248 92l-1.5 1-1 2.5-3 18.5 1.5 16 1.5 7 1.5 3 2-1 1-3 3-20-2.5-18zM184 92l-1 1.5-1.5 7.5-1.5 17 2.5 19 1 2.5 1 .5 1.5-4 1.5-10 .5-15-2-15zM105 66l-2.5 3.5-5 19-4.5 1.5-2.5 2.5-2.5 5.5 0 32.5 3 7 3 3 1.5 0 2.5-3.5 2.5-10 1-11 1-2.5 2.5-1 2-3 2-9.5 1-9-.5-9.5-2-11-1-3zM506 65l-1 .5-1 2.5-2.5 19 1.5 16.5 1 5.5 1.5 3 2-5 2-16-1.5-18.5zM671 65l-2 2-2.5 6.5-2.5 11-.5 6 4 17.5 1.5 3 2 2 1 0 2.5-2.5 2-5 3.5-17-1.5-9-2.5-9-1.5-3.5-2-2zM356 65l-1.5 2.5-2 7.5-2 15 3 17.5 2 5 1.5.5 1.5-2 1.5-4.5 2.5-14.5 0-6.5-2.5-14.5-1.5-4.5-1.5-1.5zM268 65l-1.5.5-1.5 3.5-3 18.5 2 17.5 1.5 5.5 1.5 2.5 1.5-1 1-2.5 3-17.5 0-6.5-2.5-15.5zM202 65l-1 0-1.5 4.5-2.5 19.5 1.5 14 2.5 10 1-.5 1.5-4.5 2-15-.5-13.5-1.5-10zM150 65l-1.5 4.5-1.5 10-.5 14.5 2 14.5 1.5 4.5 1 0 2-7 2-17-2.5-20-1.5-4zM706 62l-16 0 2.5 14.5 3 7.5 2.5 2 2.5-2 2-4.5 2-7.5zM525 62l2 16.5 1.5 6 1 .5 1.5-3 1-5 1.5-15zM443 62l-14.5 0-7 26-10 29-4 3.5-1.5 3-6.5 20.5-2 2-4.5-.5-1.5.5-2.5 2.5-3.5 8.5-2.5 11.5-2 5-2 2-1.5 0-2.5-2-3-.5-2.5 1.5-3 5.5-4.5 16 0 5 3 12.5 2.5 5 4 3.5 2 0 3-3 2-4 4-12.5 1-6 2-3 2 0 3 2 3.5 0 2-1 8-7.5 5-1.5 2-2 1-4 .5-9 2.5-6 1.5-15.5 3-13 16-48 5-19zM371 62l2.5 18 2 5 1 .5 1.5-2 1.5-5.5 2-16zM292 62l-9.5 0 1.5 15 1.5 6.5 1.5 2 1.5-2 1-3.5zM213 62l2 18.5 2 5 1-1.5 1-4.5 1.5-17.5zM169 62l-8 0 2 19 1 3.5 1 1 2-5.5zM123 62l1.5 17 1 3.5 1 .5 1.5-6 1.5-15z"/>
<path fill-rule="evenodd" fill="#ff0000" d="M652 442l20.5 0-2.5-8.5-2-4-4-4-3 0-3 2.5-2.5 4zM807 421l-3.5 6-4 14.5 19 0-2-8.5-4-10-2.5-2.5zM223 419l-2 3-1.5 5-2 14.5 11.5 0-2.5-16-2-5.5zM444 419l-2.5 3-2 4-4.5 16 21.5 0-2-9.5-4.5-11-3-3zM118 418l-1.5 1-2.5 6.5-3 16.5 13 0-2.5-16-1.5-5zM477 394l-2.5 2-1.5 3.5-3.5 14.5 2.5 14.5 2 5.5 2.5 2.5 2-1 2-4 3.5-14.5 0-4-2-9.5-2.5-7zM707 393l-5.5 3-3.5 4-4.5 8-2.5 7 4 9.5 5 7 5 3.5 5 .5 4-2 4-4 7.5-14 0-3-2.5-8-3-5-5.5-5-4-1.5zM261 392l-2 2.5-2 5.5-3 15.5 4 17.5 2.5 4.5 1.5.5 2-2 2.5-6.5 3-15-1.5-9-2.5-9-1.5-3-1.5-1.5zM148 392l-1 0-2 5.5-2 15 0 5 2.5 16.5 2 4 1.5-2 3-17.5 0-7-2.5-16.5zM514 367l-2 1.5-1.5 3-4 16.5 2.5 11 2 5.5 2.5 3 1.5 0 1.5-1.5 2-4 3.5-15-3.5-14.5-2-4-1.5-1.5zM749 366l-4 2-4 4-8 16 2 8 4.5 8 6 5 3 1 3 0 5-2.5 4-4.5 7-14 0-3-2-6.5-3.5-6.5-5-5-4.5-2zM177 364l-2.5 4.5-4 19.5 4.5 19.5 1 2 1.5 1.5 1 0 2.5-4 2.5-9 1.5-8 0-5.5-2-10.5-2-6.5-2-3.5zM299 364l-2.5 1.5-3.5 5.5-3.5 10-1.5 8 3 10.5 4 8.5 3 3 3 .5 3.5-3 2.5-4.5 4-11.5 1-6-2.5-10.5-2.5-6-4.5-5.5zM97 363l-5 2-3.5 3 0 39.5 3 2.5 4 2 7 .5 3-1.5 4-5 3-6.5 3-9 .5-4.5-2.5-10.5-4.5-8-3-3-3-1.5zM790 339l-4.5 2.5-4 5-5.5 11.5-.5 5 2 7 4 7 3.5 3.5 3.5 2 5 0 4-2.5 3-3.5 5-9.5 2-5.5 0-2-2.5-8-4-7-5-4.5-2.5-1zM550 338l-3 4-3 10-1.5 8.5 4 16.5 2 4 2.5 1.5 3-3.5 1.5-4 2.5-10 .5-7-3.5-14.5-2-4-1.5-1.5zM208 337l-2 3-1.5 5.5-2 12 0 6.5 3 16 1.5 3.5 1.5 1 2-3 1.5-5.5 2-12 0-6.5-3-16-1.5-3.5zM335 336l-3.5 1-4 4.5-4 9-2.5 8.5.5 5.5 3 9.5 4.5 7.5 3.5 2.5 3 0 4-3 4.5-8.5 3.5-11-.5-7.5-3-9-4-6zM126 336l-1.5.5-1 1.5-2 5.5-3 16.5.5 9 1.5 8.5 2 5 2.5 2.5 1 0 1.5-1.5 1.5-3.5 3-17 0-5-2-12.5-1.5-5.5zM836 312l-4.5 1-4.5 4-3 4.5-5 11 0 2 2 6.5 4 7.5 5 5 4.5 1.5 4-1 4.5-4 5.5-9.5 0-14-5-9-4-4zM586 310l-3 3-2 4.5-3 10-1 6.5 2 8.5 3 8.5 4 5 2 0 2.5-2.5 2.5-5 4-14 0-3.5-2.5-10.5-3.5-8-2.5-2.5zM237 310l-1.5 1.5-2 5.5-3 16.5 3.5 18.5 2 4.5 2 .5 2.5-4.5 1.5-6 2-14.5-3-16-2-5zM149 310l-1.5 3-3 16.5 0 8 2.5 15 1.5 4 1.5.5 1.5-2.5 1-4 2.5-17-1.5-12-2-9-1-2zM88 284l0 74.5 4.5-3 4-7 4-14 0-4.5-.5-.5-.5-10.5-2-10.5-4.5-15-2.5-6zM620 283l-2.5 1.5-4 7-4 13 0 4 2.5 9.5 2.5 6 4 5 3.5.5 3.5-3.5 3.5-7.5 3-10.5 0-4-2.5-10-3-6.5-3.5-4zM452 282l-2 0-1.5 1.5-2 4-6 19-1.5 1-8.5-.5-2 1-3 3-3.5 10-1.5 12-4 3-2 3.5-3 8.5-3 12-3.5 3-2.5 5-5.5 19.5-4.5 1.5-4 4.5-3.5 7.5-4.5 13.5-2.5 2-5.5 0-4.5 3.5-4.5 9-4 12.5 28 0 2-2 6 0 4-4 4-10.5 2.5-10.5 5-4 1.5-3 2.5-8 2.5-12 4-2 2.5-2.5 2.5-5 5-17 1.5-1.5 2-.5 4-4.5 4-10 3-11.5 1.5-1.5 4.5-.5 2.5-3.5 3-11 1.5-12-3-14.5zM266 282l-1.5 1.5-2 5.5-3 15 0 3.5 2 11.5 3 9 1.5 1.5 1 0 2-3 2.5-9 1.5-8.5 0-6.5-2-11-2-6.5-1.5-2.5zM173 282l-1 .5-2 4.5-3 16.5.5 8.5 3 14.5 2 3 2-1.5 1.5-4.5 2.5-14 0-7.5-1-7-2.5-10zM112 282l-2.5 4-4.5 19 0 4.5 1.5 8.5 2 7.5 3 5.5 1.5-.5 1.5-3.5 3-19-2-18-2.5-7.5zM475 256l-2 2-2 5-3 13.5 0 5 3 14 2.5 5 1 1 1.5 0 1.5-1.5 2.5-6.5 3-15-3.5-16.5-2-4.5zM651 256l-3 3-2.5 4.5-3.5 10.5-1 7 2 8.5 3.5 8.5 3.5 4 3.5.5 2.5-2 3-5 5-16.5-2-8.5-4.5-11-3-3zM293 255l-2 3-2 6-2.5 13 0 3.5 3.5 16.5 1.5 3.5 2.5 2 1.5-1 3-7.5 3-15.5-3.5-17.5-2-4.5-1.5-1.5zM197 255l-1.5 2-2 7-2 16.5 2.5 15.5 2 5.5 1.5 1 1.5-2 2-7 2-16.5-3-17.5-1.5-3.5zM131 255l-1.5.5-1.5 3.5-3 19.5 2.5 18 2.5 6 1.5-1 1.5-5 2.5-17.5-2-16.5zM503 230l-1.5 1-2.5 6-3 14.5 2.5 14.5 1.5 4.5 2.5 3.5 2-1 1.5-3 3.5-15 0-6-2.5-12-2.5-6zM684 229l-2.5 2-3 6-3.5 11.5-.5 5 2 9 3 8 3 4 4 .5 3-3.5 4-10.5 2-10-2.5-10.5-4-9-2-2zM220 228l-2 4-1.5 7-1.5 15 3 17 1.5 3.5 1.5.5 1.5-2.5 2-8 1.5-10 0-6-2.5-15-1.5-4.5zM149 228l-2.5 8-2 17 2 14.5 2.5 7.5 1 0 1.5-2.5 2-9.5 1-7.5 0-8-2.5-15.5-1-3zM322 228l-2 2-1.5 3-2.5 8.5-2 10.5 2 11 2.5 8 3 4.5 2 0 3-5 1.5-4.5 2.5-11.5 0-5.5-1.5-8.5-3.5-10-2.5-2.5zM95 227l-3 3-3.5 7.5 0 28 4 8 2.5 2.5 2.5 0 1.5-1.5 2.5-5.5 3.5-17.5-1.5-10-2.5-9.5-1.5-3-2-2zM531 202l-1.5 1.5-2 4.5-3 13.5 0 5.5 4 16.5 1.5 2.5 2 .5 3.5-7 3-16-2-11-2-6.5-1.5-3zM717 201l-3 2.5-2.5 5-4 14 0 4 4 14.5 2.5 4.5 1.5 1.5 2.5.5 2.5-2 2-3.5 2.5-7 2.5-11-4-15.5-2.5-5-2-2zM347 201l-1.5 1.5-3.5 8.5-3 14.5 1 6 3.5 12 3 4.5 2.5.5 2.5-2.5 2-4.5 4-17.5-1.5-9.5-2-7-2-4-2.5-2.5zM244 201l-1.5 2.5-2 7.5-1.5 10 0 8 3 16 1 2.5 1.5 1 2-3 1.5-6 2-16-3-18-1.5-3.5zM169 201l-2.5 7-2 14.5 0 5 2 14.5 1.5 5 1.5 1.5 2-4 2.5-15.5 0-8.5-2.5-15.5-1-3zM118 201l-1 1.5-2 9.5-1 8.5 0 9 2 14 1 3.5 1.5 1.5 1.5-3 1-5 1.5-18-2-16.5-1-3.5zM560 175l-2.5 4-2 7.5-1.5 8.5 0 5.5 3.5 16 1.5 3 2 1 1.5-1.5 2-5 2-9 1-9-4-18-2-3zM750 174l-4 4-2.5 6-3 11.5 0 4 2.5 10 3 7 3 3.5 3 0 3.5-4.5 2-5 3.5-13.5-2.5-11-2-5.5-2.5-4.5-1.5-1.5zM267 174l-1.5 1-1.5 4-3 18 2.5 17.5 1.5 5 1.5 2 1-.5 1.5-3 3.5-19.5-2-15.5-1.5-6zM190 174l-1.5.5-1 2.5-3 19 2 18 1.5 5.5 1.5 2 1-1 1.5-5 2.5-17-2-17zM134 173l-1 1-1.5 5.5-2 16.5 1.5 15.5 1.5 7.5 1 2 1.5-1.5 1-4 2-16-1.5-18-1.5-7zM105 148l-1.5 0-4 4.5-4 8-3.5 10-1.5 1-2 0 0 50.5 1.5-.5 2.5-2.5 2.5-5 4.5-18 2-1.5 3 0 2.5-2 2-4 1.5-5.5 2-11-.5-6.5-3.5-13.5-1.5-2.5zM783 147l-2.5 2.5-2.5 5-4 14 0 3 2.5 10.5 3.5 8 2 2.5 3 .5 2.5-2 2-3.5 2.5-7 2.5-11-2-9-3-8.5-4-5zM589 147l-1.5 1-2 4.5-3.5 17.5 3 17 3 6.5 1.5 0 1.5-1.5 1-2.5 3.5-16 0-6.5-1.5-8.5-2-7.5-1.5-3zM447 147l-2 1-1.5 4-4.5 20.5-2 1.5-1-.5-3.5.5-4.5 7.5-3 9.5-2.5 5.5 0 11.5-3.5 15-5 12-5.5 17-3 4-2.5.5-2.5 3.5-5 20-3 3.5-2.5 0-1.5-1-3 .5-3.5 4-2.5 6-3.5 12 0 9-1 3-1 0-7-7-4.5-.5-3.5 3-3.5 7-4 14 1 7.5 2 7 2.5 5 3 3.5 2 1 3.5 0 3.5-3.5 2.5-5 4.5-15 .5-9 1.5-.5 6.5 6 3 .5 2-1 2.5-3 2.5-5.5 3-9.5 1.5-7.5 1-1 3-.5 3-4.5 3-12 4.5-8.5 1-4 7.5-18.5 9-29.5 6-7 3-8.5 3-13.5 1.5-1.5 3-.5 2-4.5 3.5-19 0-3-3.5-16.5zM289 147l-2.5 7-2.5 17 3 18.5 2 4.5 1 0 1.5-2 1.5-5 2.5-17-3-18.5-2-4.5zM209 147l-1 1-2 8-1.5 11 0 7 2 14 1.5 5 1.5 1 1-1 2-8 1.5-11 0-7-2-14-1.5-5zM150 147l-2.5 11.5-1 15.5 2 15.5 1.5 4.5 1 0 2.5-10.5 1-9 0-8-2-15-1.5-4.5zM819 120l-2 .5-2 2-2.5 5-4 14 1 8 3 9.5 2 4 2.5 2.5 1.5.5 3-2 2.5-4.5 4.5-15.5 0-2.5-3.5-12.5-3-6.5zM617 120l-2 0-2 3.5-2 6.5-2 10.5.5 9 2.5 11 1.5 4 2.5 2.5 2-1.5 2-5 3.5-17-3-16-1.5-4.5zM463 120l-2 7.5-1.5 18.5 1.5 14.5 1.5 6 1 .5 1-1.5 1.5-8 1-9.5 0-9-2-15.5-1-3zM122 120l-2 5-2 16 1 16 1.5 7.5 1.5 2.5 2-5 2-18-1.5-16-1-5.5zM313 119l-2.5 4.5-3 17 1.5 15 1.5 7 2 4 1.5-.5 1.5-3.5 3-17 0-6-2-12.5-2.5-7.5zM229 119l-1.5 2-1 3.5-2.5 17 1.5 15 1.5 7 1.5 3 1.5-1 1-2.5 3-20-2.5-18.5-1-3.5zM167 119l-1.5 4-1.5 9.5-.5 16 2 14.5 1 3 1 .5 1.5-4.5 1-6.5 1-16-2-16-1-3.5zM483 93l-1 .5-1 3-2 16.5 1 15.5 1 6 1.5 4 1-1.5 1-4.5 1.5-13-.5-13zM136 93l-1.5 4-1 6.5-1 15.5 2 16.5 1 3 1 .5 1-2.5 1.5-10 .5-16.5-2-14.5zM644 92l-1.5 1.5-2.5 6.5-3 16.5 2 11 2.5 8.5 2 3 2 0 2-3 1.5-4.5 2.5-11.5.5-6-3.5-16.5-1.5-3.5-2-2zM334 92l-2 3-1 3.5-2.5 18.5 1.5 11 2 8.5 1.5 2.5 1.5 0 1.5-3.5 2.5-12.5.5-11.5-2.5-14.5-1.5-4zM248 92l-1.5 1-1 3-2.5 16.5 0 6.5 1.5 11.5 1.5 6.5 1.5 2.5 1.5-2 1-3.5 2.5-17.5-2-17.5zM184 92l-1 2-1.5 8-1 9.5 0 8 2 16 1 3 1 .5 1.5-4.5 2-20.5-2-17.5-1-3.5zM106 68l-1.5.5-2 6-2.5 16-1.5 1.5-1.5-1-2 0-2 2-2 5.5-2.5 12.5 0 8.5 3 13.5 2 4.5 1.5 1.5 2-1 2-6 2-12.5.5-8 1.5-2 2 1.5 1.5-1 2-7.5 1.5-15.5-2-14zM506 66l-1.5 3.5-2 15.5 0 8 2 15.5 1.5 3.5 1-1.5 2.5-16.5-.5-15-1.5-10zM671 65l-1.5 1.5-2.5 6.5-3 16.5 4 18 1.5 3 1.5 1.5 1 0 2-2 2-5 3-14 0-5.5-1.5-8.5-2.5-8.5-2.5-3.5zM356 65l-2.5 6.5-2.5 18 3 18 2 4.5 1 0 2-3.5 3-16.5 0-7.5-2.5-14.5-1.5-4zM268 65l-1.5.5-1.5 4-2.5 16.5 0 5 2.5 16.5 2 4.5 1.5-1 1-3 2.5-15.5 0-8.5-1-7.5-2-9.5zM202 65l-1 0-1 2.5-2.5 19 1 14 2.5 11.5 1.5-1.5 1-4 2-17.5-1.5-15.5zM150 65l-1 1.5-1 4.5-2 17 1.5 16.5 2 8 1 0 1-2.5 2.5-19-1.5-18-1-5zM706 62l-15 0 3 16 2.5 6 2 1.5 2-1.5 2.5-6zM525 62l2 18 1 3.5 1 1 1-1.5 1-4.5 1.5-16.5zM442 62l-13 0-7 26.5-9.5 28-4.5 4.5-1.5 3-6.5 20.5-3.5 3-2-1-3 0-2 2-3.5 9-2.5 11.5-2.5 6-1.5 1.5-2 0-3-2.5-3-.5-2.5 2.5-3.5 8.5-3 13.5 1.5 9 2.5 8 2.5 4.5 2.5 2 2 0 4-5.5 3-9 2.5-13 1-1.5 2.5-1 4.5 3.5 3.5-.5 3-3 4-6.5 4.5-9.5 1.5-5 3-1.5 2-3 1.5-5.5 1.5-12 2-5.5.5-4 16.5-49.5zM372 62l2.5 18.5 1 3 1.5 1.5 1.5-2.5 1.5-6 1.5-14.5zM292 62l-9 0 1.5 13.5 1.5 7 1.5 2.5 1-1 1.5-5.5zM221 62l-7 0 1.5 17 1 4.5 1 1.5 2-7zM169 62l-7 0 1.5 17.5 2 5.5 2-6.5zM123 62l1.5 15 1 4.5 1 .5 1.5-7 1-13z"/>
<path fill-rule="evenodd" fill="#ff1000" d="M653 442l18.5 0-2.5-8-2-4-3-3-3 0-3.5 3.5zM809 421l-2 1.5-2.5 5-2.5 8-1 6 17 0-2-10-3.5-8.5-2-2zM223 420l-3 8.5-2 13 11 0-2.5-16.5-2-5zM445 419l-3 3-2.5 5.5-3.5 14.5 19.5 0-.5-4.5-3.5-12-2-4-2.5-2.5zM118 418l-1.5 1-2 5.5-3 17 12 0-2-14.5-2-7zM476 395l-1.5 1.5-2 4.5-3 14.5 3.5 16 2 3.5 2 .5 3.5-7 2-9 .5-6-3.5-14.5-1.5-3zM707 394l-3 1.5-5.5 6.5-4.5 9-1 4.5 5 11 2.5 3.5 2.5 2.5 3.5 2 4.5 0 4-2.5 3-3.5 5.5-10 1.5-4.5-2.5-8-5-8-6-4zM263 392l-2 .5-2.5 5-3.5 17 3 15 2.5 6 1.5 1.5 2-1.5 1.5-3 4-18-3-15.5zM148 392l-1 0-1.5 4-2 14 0 8.5 2.5 16 1.5 2.5 1-1 1-3.5 2.5-18-2-16.5zM514 368l-2 2.5-2.5 7.5-1.5 7 0 5 3.5 13 2.5 3.5 1.5 0 1.5-1.5 2.5-6.5 2-8.5 0-5-3.5-13.5-2.5-3.5zM748 367l-3.5 2-4.5 5.5-3 5.5-3 8.5 2.5 8.5 4.5 7.5 5 4 5.5.5 3-1.5 4-4 5-9 2.5-7-2.5-8-4-7-4-4-3-1.5zM177 365l-3 7-3 16 3.5 17.5 2 4.5 2 1 2-3 2.5-9 1.5-8.5 0-5.5-4-17.5-2-2.5zM299 364l-3 2.5-3 5.5-4 13.5 0 4 4 13 2 4 3 3.5 3 .5 2.5-2 3.5-6.5 4-13 0-3.5-1.5-7-4.5-11-3.5-3.5zM98 363l-5 2.5-5 5.5 0 32.5 6.5 6.5 3.5 1.5 3.5 0 3.5-2 3-4 3-6.5 3.5-12.5-3-11.5-3.5-7-4-4-2-1zM790 340l-2 1-5.5 6.5-4 8.5-1.5 5.5 2.5 8.5 4 7 3.5 3.5 3.5 1.5 2 0 3.5-1.5 3.5-3.5 4.5-8 3-8.5-2.5-8-4-7.5-4-4-2-1zM551 339l-2.5 2.5-2.5 7-2 9.5 0 5.5 3.5 14 1.5 3 1.5 1.5 1.5 0 2-2.5 2.5-7.5 2-9.5 0-3.5-3.5-15-2-4zM208 337l-2 3.5-3 16 0 8 2.5 14 1.5 4 1.5 1 2-3.5 3-16 0-8-2.5-14-1.5-4zM335 337l-3.5 1-3 3.5-3.5 7.5-3 10 0 4 3 10.5 4 7.5 3.5 3 4-.5 4-4.5 3.5-8 3-10.5-2.5-11-3.5-7.5-3-3.5zM126 337l-2 1.5-1.5 3.5-3 15.5 0 9.5 1 7.5 2 7 2.5 3.5 1 0 1.5-1.5 1-2.5 3-17 0-6-2-12.5-1.5-5.5zM834 313l-3 1.5-4.5 5.5-3.5 6.5-2.5 7 3 9 4.5 7.5 4.5 3.5 4.5.5 5-3.5 5-8 2-5 0-8.5-3.5-7.5-3-4.5-5-4zM586 311l-2 2-2.5 5-4 15.5 4 15.5 2.5 5 1.5 1.5 2 .5 2.5-2 2.5-5 4-16-2.5-11.5-2-5.5-3-4.5zM237 310l-3 6-3 17 3.5 19 2 4 1.5 0 2-3.5 1-3.5 2.5-17.5-3-16.5-2-4.5zM150 310l-1.5.5-1.5 5-2.5 17 2.5 18.5 1 3.5 1.5 2 1.5-2 1-3.5 2.5-16.5-2-17.5zM366 310l-4 .5-2.5 3-3 6.5-3.5 12.5.5 6 2.5 9.5 3.5 6.5 2 2 2.5 1 2.5-1 3.5-4.5 5.5-17 0-6.5-2-9-3-5.5zM88 286l0 71 3-2.5 3.5-6 4.5-15.5-3.5-23.5-1.5-4-2-10zM620 283l-3 2.5-2 3.5-3 8.5-2 9 2 8.5 3.5 9 2.5 3.5 1.5 1 2 0 3-2.5 2.5-4.5 3-9 1.5-7.5-2.5-10.5-3.5-8-2-2.5zM452 283l-2 0-3 5-4.5 15.5 0 2-1.5 3.5-2.5.5-3-1.5-4 0-4.5 3.5-3 7-2.5 15-4.5 3.5-2.5 5-5 18.5-4 3.5-2 4-3 9.5-2 10-2 1.5-1.5 0-3 1.5-3 4-3 7-4.5 14.5-3 2-6-.5-2 1-2.5 3-3.5 7.5-4 13 26 0 2-3 7 .5 3-3 4-10 2.5-11 1.5-2 3-1.5 2.5-4.5 5-20 5-2.5 2.5-3.5 3.5-9.5 2.5-10.5 1.5-1.5 3.5-1.5 2.5-3 4-10 3.5-13.5 1.5-1.5 3 1 2-.5 3-5.5 2.5-11.5 1-8.5-3-15-1.5-4.5zM266 283l-2 3-2 7-2 11.5 0 4 3 15.5 1.5 4 1.5 1.5 1 0 2-3.5 2-7.5 1.5-9 0-6.5-2.5-13.5-2-5zM173 283l-1.5 2.5-2 8-1.5 10 0 6 3 16.5 1 2.5 2 1 1.5-3 1.5-6 2-14.5-3.5-20-1-2zM112 283l-1.5.5-1.5 4-3.5 18 2.5 17.5 2 6 1.5 1.5 1.5-1.5 1-3 2.5-17.5 0-4.5-2-14.5-1-4zM475 257l-2 1.5-1 2-4 16.5 0 4.5 2 11 2 6 2.5 3 1.5-.5 2-3.5 4-18.5-3-15-2-5zM652 256l-3 2.5-3 6-4 14 2 9.5 2.5 7 2 3.5 2.5 2.5 2.5.5 3.5-3 2-4 2.5-7 2-10-2-8.5-4-9.5-2.5-3zM293 256l-2 3.5-2.5 9-1.5 12.5 2.5 13.5 2.5 6.5 2 1.5 2.5-3 2-6.5 2-10.5 0-7-3.5-15.5-2.5-4zM197 256l-1.5 2-1.5 5.5-2 13 0 5.5 3 17 1 2.5 1.5 1 1-1 2.5-9.5 1.5-10 0-5.5-3-17-1-2.5zM131 256l-1.5.5-1 2.5-3 19 2 17.5 2.5 7 1.5-1 1.5-5.5 2-15-1-13-1-6zM502 231l-1.5 1.5-1.5 4-3 16 2 11.5 2 6.5 1.5 2.5 1.5 0 2-3 2-7 1.5-8 0-6-3-14-1.5-3zM684 229l-1.5 1-3.5 6.5-4 15 2.5 11.5 2 5.5 4 5.5 2.5 0 1.5-1 3-5.5 4-14 0-4.5-2.5-10-3-7-2-2.5zM220 229l-1.5 3-1.5 6.5-1.5 10.5 0 6.5 2.5 15 1.5 4 1.5.5 1.5-2.5 3.5-20.5-2-14.5-1.5-6-1-2zM149 229l-2.5 9-1.5 11.5 0 5.5 2 14 2 6 1 0 1-1.5 1.5-6 2-16-2.5-18-1.5-4zM322 228l-2 2-2 5-3 13.5 0 6 2.5 12 2 5.5 2 2.5 2 0 3.5-7 3-14 0-4.5-1.5-8.5-3.5-10.5-2-2zM96 228l-2 1.5-1.5 2.5-4 12.5 0 15 3 10 2 4 2 2 2 0 3.5-7 3-17.5-3.5-17.5-2-4zM531 203l-2 3.5-2 7-1.5 8.5 0 5 3 14 1.5 3.5 2 1.5 1.5-1.5 2.5-6.5 2.5-14.5-3.5-16.5-2.5-4zM718 202l-3 2-2.5 5-4 15 1 7 2.5 9 1.5 3.5 2 3 1.5 1 2.5-.5 2.5-3.5 3-8.5 2-8.5-1-8.5-3-10-3-5zM347 201l-3 5-1.5 4.5-2.5 11.5 0 5.5 4 15.5 2.5 4 2.5.5 2-2 1.5-3 2-6.5 2-9.5 0-6-2-10-2-5.5-3-4zM244 201l-1.5 2.5-1.5 6-2 15.5 2.5 16.5 2 5.5 1 .5 1.5-2 1.5-5.5 2-13.5 0-4.5-3-17.5-1-2.5zM169 201l-1.5 3.5-1.5 7.5-1 8.5 0 8 2 14 1 3.5 1.5 1.5 1-1 1.5-6 2-17.5-2.5-17.5-1.5-4zM118 201l-1.5 4-1.5 9.5-.5 15 2 14 2 4 1-1.5 1.5-8 1-9.5 0-8.5-2-15.5-1-3zM560 175l-1.5 2-2 6.5-2 11 0 5.5 2.5 13 1.5 4.5 1.5 2 1 0 3-5.5 2.5-12 .5-6.5-3.5-17-1.5-3zM750 175l-2.5 2-2.5 5-3.5 12.5-.5 4 2.5 11 2 5.5 3 4.5 3 .5 1.5-1 3-5.5 3-10 1-7.5-3.5-13.5-2.5-5-2.5-2.5zM267 174l-1 1-1.5 4.5-2 12-.5 7.5 2.5 16 2 5 1 .5 2.5-6 2-11.5.5-7.5-3-18-1-2.5zM190 174l-1 0-1.5 3.5-2.5 16.5 0 6.5 1.5 11.5 1.5 6.5 1.5 2 1-1 1.5-5.5 2-14.5-1-13.5-1-6zM134 174l-1 1-1 3.5-2 16 1 15.5 1 6.5 1.5 4.5 1-.5 1-3.5 2-15-.5-14.5-1.5-10zM105 149l-2 0-2 2-2 4-6 18-5-.5 0 48 3-3 2.5-5.5 4.5-20 2.5-.5 1.5 1 2.5 0 2.5-3 2.5-8 1.5-8.5 0-6-2-10-1.5-4.5zM783 148l-2 2-3 6.5-3.5 14.5 2.5 11 2 5.5 4 5.5 2 0 1.5-1 3-5.5 4-14 0-4-2.5-10.5-3-7-2-2.5zM589 147l-1 .5-2 4-3.5 18 2.5 15.5 3 7.5 1.5 0 2-3 2-7.5 2-12-3-16.5-2-5zM447 147l-1.5.5-2 5-3 16.5-1.5 4-1 1-3-.5-2 .5-1.5 1.5-3 6.5-4.5 14-.5 10.5-2.5 11.5-12 33.5-2 3.5-1.5 1.5-2.5.5-2 2.5-3.5 15-2.5 6.5-3.5 3-3-1.5-3 .5-2 2-2.5 5-4.5 15.5 0 3.5 2 11.5 2.5 5 4 4 2.5.5 3.5-3 4-9.5 2-7 1-7 1.5-2 3.5 0 2-3 3.5-13 4-7.5 2-6.5 7.5-18 9-29 5-5 1.5-3 5.5-21 1-1 2.5 0 2-2.5 3-14 1-10.5-3.5-16.5zM289 147l-1.5 3.5-1.5 7-1.5 14 3 18 1.5 3.5 1 0 1.5-2 1-3.5 2.5-19-3-18-1.5-3.5zM209 147l-1 1.5-1.5 6-2 15.5 2.5 18.5 1.5 4 1 .5 1-1.5 1.5-6 2-16-2.5-18-1.5-4zM150 147l-1.5 5.5-1.5 12 0 11 2 14.5 1 3 1 0 2-8 1.5-16-2.5-19.5-1-2.5zM818 121l-2.5 2-3 6.5-3.5 14.5 2.5 11 2 5.5 3.5 5 2.5 0 2.5-2.5 2-4.5 4-15.5-4.5-16-2.5-4.5zM463 120l-2.5 13-.5 15.5 1.5 13 1 3.5 1 1 2-7 1.5-17.5-2-17.5-1-3.5zM122 120l-2 6-1.5 12.5.5 15 1.5 9.5 1 2.5 1 0 1-3 2-16-1-17.5-1.5-7.5zM616 120l-2 2-1.5 4-3 14.5 0 6 1.5 8.5 3.5 10.5 1.5 1 1.5-1 2-4.5 3.5-17.5-3-16.5-2.5-6zM313 120l-1.5 1-1.5 4-2.5 15 0 6.5 1.5 10.5 1.5 6.5 1.5 3 1.5-.5 1.5-4 2.5-15-.5-12-2-10.5zM229 120l-1.5 2-1 4-2 14.5 1 14.5 1.5 8 1.5 3.5 1.5-1 1-3 2.5-17-1.5-16.5-1-5zM167 120l-2 7-1.5 19 1.5 14 1.5 6 1 .5 1-2.5 1.5-10 .5-16.5-1.5-12.5-1-4zM483 94l-1.5 4-1.5 12.5.5 16.5 1.5 9.5 1 2 1-1.5 2.5-20-1.5-16.5-1-5zM136 93l-1.5 4.5-1 7.5-.5 16.5 1.5 12.5 1 3.5 1 .5 2-9.5 1-16-1.5-14-1-4.5zM644 93l-3.5 7-3 17 2 11.5 2 7 2 3.5 2 0 2-3.5 2-7 2-14-1.5-9-2.5-9-1-2-1.5-1.5zM335 93l-1.5 1-1 2.5-3 17.5 1.5 15.5 2 8 1.5 2 1.5-1.5 1.5-5 2.5-16.5-2.5-17.5zM248 93l-1 .5-1.5 4.5-2 13.5.5 14 1.5 9 2 5 1.5-2 1-4 2-14.5 0-6-1.5-12-1.5-6.5zM184 93l-1 .5-1 4-2 18 1.5 16.5 2 7.5 1.5-3 2-16-.5-14.5zM95 93l-1.5 2-1.5 5-2.5 17 3 16 1.5 4 2 1 2-4.5 2-11.5.5-16-1-7-1.5-4-1.5-2zM105 70l-2.5 9-1.5 12.5.5.5.5 11 2 5.5 2 1 2-6.5 1.5-15.5-2-14-1-3zM506 66l-2 7-1.5 14.5 1.5 16.5 2 7 1.5-3.5 2-17-1-14.5-1-6.5zM671 66l-1.5 1.5-2 5.5-3 17 1.5 9 2.5 9 1.5 3 2 1 1-.5 3-7.5 2.5-12.5 0-5.5-3.5-16-2.5-4zM356 66l-2 5-1 5-1.5 15.5 2.5 15.5 2 5 1 0 2.5-6 2.5-17.5-3-18.5-1-3zM268 66l-1.5.5-1 2.5-2.5 16 0 8 2.5 16 1.5 3 1.5-1 1-3.5 2.5-17.5-1.5-14.5zM202 66l-1 0-1 3-2 15.5.5 14.5 2.5 13 1-.5 1-3 2-16-1-17zM150 65l-2 6.5-1.5 13.5.5 13 2.5 13.5 1 0 1-3 2-15.5 0-9.5-2-15.5zM691 62l3.5 18 2 4 2 1 2-2.5 2-6 2.5-14.5zM533 62l-7 0 1 13.5 2 8.5 1-.5 1-3.5zM441 62l-12 0-7 26.5-9.5 28-5.5 6.5-4.5 15-3 7.5-2.5 2.5-5.5-1-2.5 2.5-2.5 6.5-2.5 11.5-3.5 8.5-1.5 1.5-2 0-3-3-3-.5-2 2-1.5 3-3.5 12-1 9 3.5 14.5 3 5.5 1.5 1 2 0 3.5-5 3.5-11.5 2-12 2.5-2.5 1.5 0 4 4 3 .5 3-3 2-3.5 6.5-18.5 1.5-1.5 3.5-.5 1.5-2.5 1.5-5.5 1-8 3-9 1-5.5 16.5-49zM372 62l0 4 2 13 1.5 4.5 1.5.5 2-6.5 2-15.5zM283 62l2 17.5 1.5 4.5 1 0 2.5-10 1-12zM214 62l1.5 15.5 1 5 1 1.5 1-2 1-5.5 1-14.5zM169 62l-7 0 1.5 16 1 5 1 1.5 1-2 1-5.5zM124 62l1 13.5 1 4.5 1 1 1.5-7.5.5-11 .5-.5z"/>
<path fill-rule="evenodd" fill="#ff2000" d="M661 428l-3.5 4-3.5 9.5 16.5 0-1.5-5.5-3-6-2.5-2zM809 422l-2.5 2-2 4-3.5 14 16 0-3-13-2-4.5zM223 421l-2.5 7-2 14 10 0-.5-7-3-13zM445 419l-1.5 1-2.5 4.5-2.5 7.5-2 9.5 18.5 0-1-6.5-3-10-2-4-2-2zM118 419l-1 .5-2 5-3 17.5 11 0-2-15.5-1.5-5.5zM476 396l-3 6.5-2.5 13 3 14.5 2 4 2 .5 3-6 2-9 .5-6-3.5-14.5-2-3zM709 395l-4.5 1.5-4.5 4.5-6.5 13.5 2.5 7.5 4 7 4 4 4 1.5 4.5-1.5 3.5-3.5 3-4.5 4-9-.5-4.5-4-9-4-5zM262 393l-1.5 1.5-2 5-3 16 4 18 2 3 1.5 0 3-6 3-16-3-15.5-2.5-5.5zM148 393l-1.5 1-3 19.5 1.5 15.5 1 5 1.5 3 2-5 2-14.5-1-14zM514 369l-2.5 4-3 12 0 4.5 3.5 13.5 3 3 2-2 2-5.5 2-9 0-4.5-3-12-2.5-4zM751 367l-4.5 1-4.5 4.5-5 9.5-2 5.5 2 7 3.5 7 4 4.5 4.5 2 5-1.5 3-3 3-4.5 4.5-10.5 0-3-4.5-11-4-5zM299 365l-2.5 2-3.5 7-3 10.5-.5 4.5 2.5 9.5 3.5 8.5 2.5 3 3 .5 3-3 2-4 3-9 1.5-7.5-2-9-3.5-9-3.5-4zM178 365l-2 2-1.5 4.5-3 15.5 2.5 15.5 1.5 5 2 3 1 0 1.5-2 1.5-4.5 3-16-3-16.5-2-5zM99 364l-3.5 1.5-4.5 4.5-3 5 0 25.5 3.5 5.5 4 4 3.5 1.5 2 0 3-1.5 2.5-3 4-8.5 3-11.5-3.5-12.5-2.5-5-4-4.5-2-1zM791 340l-3 1.5-4.5 5.5-4 8.5-1.5 5.5 2.5 8 5 8.5 4.5 3 3.5 0 2-1 5-6 5.5-13.5-3-9-4-7-2.5-2.5-3-1.5zM550 340l-1.5 1.5-2 5-2.5 11.5 0 5.5 3 13 2 4 2 1 2-2 2-5.5 2.5-11.5 0-3.5-3.5-15-2.5-4zM208 338l-1.5 2.5-1.5 5.5-2 16 2.5 16 2 5 1 .5 1.5-2.5 1.5-5.5 2-16-3-17.5-1.5-3.5zM333 337l-4 3.5-2 3.5-3 8-2 9 1.5 6.5 3.5 9.5 3.5 5 1.5 1 3 0 3-2.5 3.5-6.5 3-9 1-6-1.5-7-4-10-4-4.5zM126 337l-2 1.5-1 2.5-3 15.5 0 9.5 1 7.5 2 7.5 2 3 1 0 2-3 3-16.5 0-8-1.5-10-2-7.5zM835 314l-4 2-3 3.5-4 7.5-2.5 7 2.5 7.5 4 7.5 3.5 3.5 2 1 4 0 3-2 4-5.5 4.5-10.5 0-3.5-7-14-2.5-2.5zM586 311l-1.5 1.5-3 6.5-3 12 0 4 3.5 13.5 2.5 5 3 1.5 2-1.5 2.5-5 4-15.5-2.5-11.5-2.5-7-3-3.5zM237 311l-2 3-1.5 6-2 14.5 3 17 2 4.5 1.5 0 1.5-2.5 1.5-5.5 2-12 0-5-3-16-1.5-3.5zM149 310l-1.5 2.5-1 4-2 14 0 5 2.5 16.5 2 4 1.5-2 1-4 2-14 0-6-1.5-11.5-1.5-6.5zM364 310l-3 1.5-3 5-5 17 1.5 8.5 2 6.5 2.5 5 4 3.5 3-1 2-2.5 3-6.5 3.5-13-1-8.5-2.5-8-3-5-1.5-1.5zM88 289l0 67.5 3-3.5 2.5-5 4-14-3-21.5-4.5-19zM620 284l-2 1.5-3.5 6.5-3.5 12.5 0 4 3.5 12.5 2.5 5 2 2 2.5.5 2.5-2 3-6 3-10 .5-6.5-2.5-10-2.5-6-3-3.5zM452 283l-2 0-2 3-2 6-4 17.5-1.5 1.5-1 0-4.5-3-3.5 0-4 4-3 8-2 13-2.5 1.5-3 3-3.5 9-3 13.5-4.5 4-2 4-5 20-1.5 1-2.5 0-2 1-3 3.5-5 13-2.5 10-2 2-2.5 0-2-1-4 0-3 3-4 8.5-3.5 12.5 24 0 1-3.5 2-1.5 4 2 3 0 2.5-2.5 3-7 3.5-15 2-2 2-.5 3-4.5 2.5-8.5 2-11 2.5-2.5 2.5-.5 2-2 4.5-11.5 2.5-10.5 1.5-1.5 2.5-.5 3-3 2-4 3-9 3-13.5 1-1 5 2.5 3-4 2.5-10 1.5-12-3-15zM266 283l-2 3-1.5 5.5-2 11.5 0 5.5 2.5 14 2 5 2 1 1.5-2.5 1.5-5 2.5-15.5-3-17-1.5-4zM173 283l-2.5 6.5-2.5 16.5 3 18.5 1 3 2 1 2.5-7.5 2-17-3-17.5-1-2.5zM112 283l-1 0-2 5.5-2.5 15 0 6 1.5 10 2 8 1.5 2 1.5-2 1-3.5 2-14.5 0-7.5-2.5-16zM474 258l-2 3.5-1.5 5-2 10.5 0 5 3.5 15.5 1 2 2 1.5 1.5-1.5 2-5 3-15.5-2-11.5-2-6.5-2-3zM652 257l-2 1.5-3 5.5-3.5 11.5-.5 5.5 2 8.5 4 9.5 2 2 2.5.5 2.5-2 2.5-4.5 4.5-16-1.5-7-3-9-1.5-3-3-3zM293 256l-1.5 2.5-2 6.5-2 11.5 0 4.5 2.5 13.5 2 5.5 2 1.5 1-.5 2.5-6 3-16.5-3-16.5-2-5-1-1zM197 256l-1 1-2 7.5-1.5 10 0 8.5 2.5 14.5 1.5 3.5 1 .5 1.5-2.5 1.5-6 1.5-10.5 0-8-2.5-14.5-1-3zM131 256l-1 0-1 1.5-3 18 1 15 2 9.5 1 1.5 1-.5 1.5-4.5 2-14 0-8-1-8.5zM502 231l-1.5 2-1.5 4.5-2.5 15 2.5 13.5 2 5 2 1 2.5-5 3-15.5-2.5-14-2.5-6zM684 230l-2 2-3.5 8-2.5 10 0 4.5 4.5 15.5 2.5 3.5 3 .5 2-2 2-4 3-10 1-7.5-2-9-2.5-7-3.5-4.5zM220 229l-2.5 7.5-2 15.5 2.5 17 1.5 4.5 1.5.5 2.5-7 2-17-3-18-1-2.5zM323 229l-1 0-2.5 3.5-2.5 8.5-2 11 3.5 17 2 4.5 2 1.5 1.5-1 1.5-3 4-16.5 0-5.5-2.5-12.5-2.5-6zM150 229l-1 1.5-1.5 6-2 15.5 2 15.5 1 4.5 1.5 3 1.5-2 1-4 2-14.5 0-5.5-1.5-11.5-1.5-6.5zM97 229l-1 0-3 4-2.5 8-2 10 3 15.5 2 5.5 2.5 3 2-1 1.5-3 3.5-16 0-6-1.5-9-2.5-8.5zM531 204l-1.5 1.5-2.5 8-1.5 8.5 0 6 3.5 15 1.5 2.5 1.5 0 1.5-2 1.5-4.5 2.5-15.5-2.5-13-2.5-6zM717 203l-1 .5-3 5.5-4 16 4 16 2 4 1.5 1.5 2 .5 3.5-4.5 3.5-11.5 1-7.5-4-15.5-1.5-3-2-2zM244 202l-1.5 3-1.5 6.5-1.5 15.5 2 14 1.5 5 1.5 1.5 1-1 2-7.5 1.5-10.5 0-8-2.5-14.5-1-3zM169 202l-2 6-2 18 2.5 18 1 3 1 .5 1-1.5 1.5-6 1.5-12 0-6.5-2-14.5-1-3.5zM118 202l-2 7.5-1.5 17 2 16.5 1 3.5 1 1 2-7 1.5-17-2-17.5-1-3.5zM348 201l-2 1-2.5 5-3.5 15 0 5 2 10 2 6 2 3.5 2.5.5 3-4.5 4-16 0-5.5-2.5-12-2-5zM560 176l-2.5 5.5-3 16 3 16.5 1.5 4 2 1.5 2-3 1.5-5.5 2-11 0-4.5-2.5-13.5-1.5-4.5-1-1.5zM750 175l-1.5 1-3 5.5-4 16 4 15.5 2 4 2 2 2 0 2-2 2-4 3.5-12.5.5-4.5-4-15-2-4-1.5-1.5zM267 175l-1 1-2 8-1.5 10.5 0 6.5 3 17 1 2 1 .5 1.5-2.5 1.5-6.5 1.5-10.5 0-6.5-2.5-15.5-1-3zM190 175l-1 0-1.5 4-2.5 18.5 2 16.5 1.5 5.5 1 1 2-4.5 2-14-.5-13.5-1.5-9zM134 174l-1 1-1 4-2 18 1.5 15 2 8 1-.5 1-3.5 2-17-1.5-18zM105 150l-1.5 0-1.5 1.5-3 6.5-3 11.5 0 11-.5.5-3.5-4.5-4-3 0 45.5 1.5-1 2.5-5 3.5-14 0-14 1-1.5 1.5 1.5 2 3.5 2.5 2.5 2 0 1-.5 3-7.5 2-11 0-4-2-10.5-1.5-4.5zM784 148l-2.5 2.5-2.5 5.5-3.5 14 4.5 17 3 4.5 2.5.5 2-2 2-4 3-10 1-7.5-4-15-1.5-3-2.5-2.5zM589 148l-1.5 1.5-1.5 3.5-3 16 2 15 1.5 5.5 2 3 2-1 1.5-4 3-16.5-3-17.5-1.5-4zM447 148l-1 0-1.5 2.5-4 18.5 0 2.5-1 2.5-1.5 1.5-3.5-1-1.5.5-3 5-3.5 13-2 5 0 7-2.5 12-2.5 8.5-3.5 7.5-6.5 19-2.5 4.5-1.5 1.5-3 .5-1.5 2.5-4 17-1.5 3.5-3.5 3.5-3.5-1.5-2.5 0-2 2-2.5 5-4.5 17 1.5 9.5 1.5 5 2 4 3 3.5 1.5.5 2-.5 2-2 2-4 4-13 .5-5.5 1.5-4 1-1 3.5 1 1.5-2 3-12 4-7.5 2-6.5 9-21.5 8-26 1.5-2.5 3.5-3 2-4 5-20.5 1.5-1.5 2.5.5 2-3 3-15 .5-9.5-1-2.5-2-12zM289 148l-1.5 4-1.5 8-1 13.5 2.5 15.5 1.5 4 1 0 1-1 1.5-5 2-13.5 0-6.5-2.5-15-1.5-4zM209 148l-1.5 3-1 5-1.5 17 2 15 1 3.5 1.5 1.5 1.5-3 1-5 1.5-17-2-15-1-3.5zM150 147l-1.5 4-2 16.5 1 15.5 1 6 1.5 4 1-1.5 1-4.5 1.5-13.5-1-17-1.5-8zM819 121l-2 1-3 5.5-4 15 2 10 2.5 7.5 2.5 4 1 .5 2 0 3-4 4.5-15.5-.5-6.5-3.5-12-1.5-3zM123 121l-1 .5-1 3-2 17.5 1.5 17 1 4.5 1 1.5 1-1.5 1-5 1.5-15.5-1.5-16zM463 121l-2 9.5-1 15.5 2 17.5 1.5 2.5 1-2 1.5-10.5.5-15-1.5-13-1-4zM616 120l-1.5 1.5-2 5-3 16.5 3.5 18 1 2.5 2 2 1.5-1 1.5-3.5 3.5-17.5-3-17.5-2-5zM313 120l-1.5 1-1.5 4.5-2.5 17 2 15.5 2.5 7.5 1.5-.5 1-2.5 3-18.5-1.5-14-1.5-7zM229 120l-2 4-2.5 18.5 2 16.5 2 6.5 1.5-1 1-3.5 2-14 0-8.5-1-8.5-1.5-7.5zM167 120l-1.5 4.5-1 7.5-.5 16.5 2.5 16.5 1 .5 2-9.5 1-16.5-2-16.5zM483 94l-1.5 4.5-1.5 14 1 16.5 2 8.5 1.5-4.5 1.5-13 0-8.5-2-16zM95 94l-2.5 7-2 15.5 2.5 15 1.5 4 1.5.5 2.5-8 1.5-14.5-2-16-1-2.5zM136 94l-2 9-1 16 1.5 14 1 4.5 1 .5 1.5-6.5 1-9.5 0-12.5-1.5-12zM644 93l-3 6-3 18 3.5 17 1 2.5 1.5 1.5 1.5 0 1.5-2.5 2-7 2-11 0-4-1.5-9-2.5-9-2-2.5zM335 93l-1 0-1 2-3 17 0 7.5 1.5 10.5 2 7.5 1 1 1.5-1.5 1.5-5.5 2-14-2-18-1-4zM248 93l-1 .5-1 2.5-2.5 17.5 1.5 17 1 5 1.5 3 1-1 1.5-5.5 2-16.5-2-16.5zM184 93l-1 .5-1 4.5-1.5 13.5.5 14 1 8 1.5 5 1.5-3.5 2-17.5-1-14.5zM106 71l-1 .5-1 2.5-2 12 .5 12.5 1.5 7 1.5 2 1.5-2.5 2-14-1-13zM506 67l-1.5 4.5-1.5 13 0 8.5 2 16 1 2 1.5-4 1.5-12.5-.5-16-1.5-10zM671 66l-3 6-2 9-1 8.5 3 15.5 2 5 2 1 2-2.5 2.5-8.5 1.5-8.5 0-6.5-1.5-8.5-2.5-8.5-1.5-2zM268 66l-1.5.5-1 3-2.5 18 1.5 15 1 5 1.5 3.5 1-.5 1.5-4.5 2-14.5-1-15zM356 66l-2 4-2.5 15 0 8 2.5 15 1.5 3.5 1.5-.5 1.5-4 2.5-16-1.5-15.5-2-8zM201 66l-2 6.5-1.5 14.5 1 14.5 2 10 1-.5 1-3.5 2-18-1.5-16.5zM150 66l-1.5 4-2 18 1.5 17 1.5 6.5 1 0 1.5-6 1.5-14.5-1-15-1-6.5zM692 62l2.5 15 2.5 6.5 2 1 2-3 1.5-4.5 2.5-15zM526 62l1.5 16 1 4.5 1 1 1-2 1-6 1-13.5zM441 62l-11.5 0-6.5 24.5-9.5 28.5-2 4-3.5 3.5-1.5 3-3.5 12.5-3.5 8.5-2.5 2.5-5.5-1.5-2 2-3.5 10-2 9.5-3.5 8-2 1.5-1.5 0-4-4-2 0-1.5 1.5-2 4-3 11-1 8.5 3.5 15 2 4 2 2 2 0 1.5-1.5 2.5-5.5 3-11.5.5-7.5 1-3 3-3 1.5 0 4.5 5 1 .5 2-.5 1.5-1.5 3.5-7.5 5-17.5 1.5-1.5 4 .5 1.5-2.5 2-10.5 3.5-10.5 1.5-7 15-44zM372 62l2 16 1.5 5 1.5.5 2.5-10.5 1-11zM284 62l0 5 1.5 11.5 1.5 5 1 0 2-8 1.5-13.5zM220 62l-6 0 1 14 1.5 7.5 1-.5 1-4zM168 62l-6 0 1 15 1.5 6.5 1-.5 1.5-7zM124 62l1.5 15 1.5 3 1.5-8.5.5-9.5z"/>
<path fill-rule="evenodd" fill="#ff4000" d="M661 430l-3 3.5-3 8.5 14.5 0-1.5-5.5-2-4-2.5-2.5zM809 423l-1.5 1-2 4-3.5 14 15 0-1.5-8-2.5-7.5-2.5-3.5zM223 421l-1.5 2-1 3.5-2 15 9.5 0-2-14-2-6zM445 420l-2 2-2 4-4 16 17.5 0-1.5-8.5-2.5-8-2-4-1.5-1.5zM118 419l-1 .5-1 2-1.5 6-2 14 10 0-1.5-14-2-7.5zM477 396l-1.5 1-1 2-3.5 14.5 2.5 14.5 2 4.5 1.5 1 1.5-1.5 2-5.5 2-10 0-4-2.5-11.5-1.5-3.5zM708 396l-2.5 1-4 4-5 9.5-1.5 5 2.5 6.5 4.5 7.5 4 3.5 4 .5 3-1.5 4-4.5 5-10 .5-4-2.5-7-3.5-6-3-3-3.5-1.5zM262 393l-1.5 1.5-2 5.5-2.5 15.5 3.5 16.5 1.5 3 2 .5 2.5-5 3-17-3-15.5-1.5-3.5zM148 393l-1.5 3-2 14 .5 13 2.5 12.5 1 0 1-2.5 2-13.5-.5-15-1.5-9zM514 370l-3 6-2 9 0 5 3 11.5 1.5 3 1.5.5 1.5-1.5 2-5 2-8.5 0-5-3-12-2-3zM749 368l-2 1-5.5 6.5-5 12 2.5 8 3.5 6.5 4 4 2.5 1 2.5 0 3-1.5 4.5-5.5 5-11.5 0-3-3-8-3-5-3.5-3.5-2-1zM299 365l-3 3-2.5 5.5-3.5 14.5 2.5 10 3.5 8.5 2 2.5 3 .5 2.5-2.5 2-4 4.5-16-2.5-11-2-5.5-4-5.5zM178 365l-1 .5-2 4.5-3 16 2 14.5 2 7 1.5 2 1.5-.5 2-5 3-16-3-17.5-1.5-4zM100 364l-3 1-4.5 4.5-4.5 8.5 0 18.5 4.5 8.5 4.5 4.5 3.5 1 2.5-1 2-2 4-7.5 3-9.5.5-4.5-1.5-6.5-4-10-4-4.5zM794 341l-3.5 0-4.5 3.5-4 7-3 8 2.5 9.5 2.5 5 4.5 5 3 1 4-1.5 3.5-4 3.5-7 2.5-7-2.5-8.5-2.5-5-2.5-3.5zM550 340l-2 3-1.5 4.5-2.5 13 2 10.5 2 6.5 1.5 2.5 1.5.5 1.5-1.5 2-5 2.5-12 0-4-3-13.5-2-4zM208 338l-1.5 2.5-1.5 6.5-1.5 10.5 0 5.5 2.5 15.5 1.5 3.5 1 .5 1.5-2.5 1.5-6.5 1.5-10.5 0-5.5-3-17-1-2zM333 338l-3.5 3-1.5 2.5-3.5 9.5-2 8 1.5 6.5 4.5 11.5 3.5 4 3 0 2.5-2 3-5.5 4.5-15-2-9-4-9.5-2.5-3zM126 338l-1.5 1-1.5 3.5-3 17.5 2 17 1 3.5 2 3.5 2-1 1-2.5 3-18.5-2.5-18.5zM834 315l-2.5 1.5-3.5 4.5-3.5 7-2 6 3.5 10 3 5 3 3 4.5 1 2-1 4.5-5 4-8.5 1.5-5.5-2.5-6.5-4.5-8-4.5-3.5zM586 312l-2.5 2.5-2.5 6.5-2.5 10.5 0 4 1.5 7 3 9 3 3.5 1 0 1.5-1 2-3.5 4.5-17-4.5-17.5-3-4zM238 311l-2 1-1 2.5-3 16.5 0 4.5 2.5 14.5 2 5 1 .5 1.5-2 1.5-5 2.5-15.5-2.5-15.5zM149 311l-2 4.5-2 13.5 0 9 2.5 15.5 1.5 2.5 1-1 1.5-5.5 2-15.5-2-16.5-1.5-5.5zM365 310l-2 .5-2.5 2.5-1.5 3-4.5 15.5.5 7 3 10.5 2.5 4.5 3 2.5 3-1 3.5-6 4-14 0-5.5-2.5-10.5-3-6zM88 291l0 64.5 2-2.5 3-6.5 3.5-13-3-20-3.5-16.5zM620 284l-2.5 2.5-2.5 5-3 10.5-.5 5.5 3.5 13 2.5 5 1.5 1.5 2.5.5 2-1.5 3-6 3.5-12.5 0-3.5-3.5-13-2.5-5-1.5-1.5zM266 284l-1.5 2-1.5 5-2.5 15.5 3 17 1.5 4 2 1 2.5-6 2.5-14.5 0-3.5-2.5-14.5-1.5-4.5zM173 284l-1.5 3-1.5 6.5-1.5 14.5 3 18 1 2 1.5.5 1-2 3-16.5 0-7-2.5-15-1-3zM112 284l-1.5 1-3.5 18.5 1 14 2 9.5 1 2 1.5-.5 1-3 2.5-18.5-2-17zM452 284l-1-.5-1 .5-2 3.5-3.5 13-1 8-1.5 3.5-2 1.5-5-4.5-3 0-3 2.5-3.5 8.5-2 10 0 3-1 1.5-4.5 3-3 6.5-4 17-4 3-3 6-4 18.5-1.5 1.5-4.5.5-2.5 2-4.5 10.5-4 16-2 2-1 0-4.5-2.5-3.5 0-2.5 2.5-3 6-4.5 15 22.5 0 .5-4 1-2 1.5-1 5.5 3.5 2.5 0 2-2 3-7 3.5-15.5 1.5-2 2.5-.5 3-4 2.5-8.5 2-11 2.5-3 1.5 0 3-2 4-10 3-12.5 1.5-1.5 3-.5 2.5-2.5 2-4 4.5-16 .5-6.5 1-2.5 1.5-.5 4.5 4 3-3 3-12.5 1-11-3-14.5zM475 258l-1.5 1.5-2.5 8-1.5 8.5 0 6 3 14 1.5 3 2 .5 1.5-2 1.5-4.5 2.5-15.5-2.5-13-2-5.5zM652 257l-2.5 2.5-2 4-4 14 0 2.5 4 14.5 2.5 4.5 2 1.5 1.5 0 2-1.5 2.5-4.5 3.5-11.5.5-6.5-2.5-10-2.5-6-2.5-3zM293 257l-2 4-3 15 0 6.5 1.5 9 3 9 2 1 1.5-2.5 2-7 2-14-3-16-1.5-4-1-1zM197 257l-1.5 2.5-1 4-2 17.5 2 14 2 6 1 .5 2-4.5 1-5 1.5-14.5-2-14-1.5-5.5zM130 257l-2 6-2 16.5 2.5 18.5 1 3 1 .5 1.5-3 1-5 1.5-16-2-15.5-1-3.5zM503 232l-1 0-1.5 2-2 7-1.5 9 .5 6.5 2 10 2 4.5 1 .5 1.5-1.5 1-2.5 3-15-2-13.5-1.5-5zM685 230l-2 1.5-2.5 5-3 11-.5 6 2 9 2.5 7 3 3.5 2 0 1.5-1.5 2-4 2-6 2-11.5-2-9-2.5-7-2.5-3.5zM96 230l-2 2.5-2 6-2.5 14.5 2 10.5 2.5 8 2 2.5 1 0 2-3 2-7.5 1.5-9.5 0-4.5-2.5-13.5-2-5zM323 229l-1 0-1.5 1.5-1.5 3.5-3.5 17 2.5 14.5 2 6 2.5 2.5 2.5-3 4-16.5 0-6.5-1.5-8.5-2.5-8zM220 229l-2 4-2.5 16 0 5 2 14 1.5 5 1 1 1.5-2 3-17 0-7-1.5-10.5-1.5-6.5zM150 229l-2 5.5-2 15 1.5 16.5 1 5 1.5 3 2-4 2.5-18.5-2-16-1-4.5zM531 204l-2.5 4.5-3 16.5 2.5 13.5 2 5 1.5 1 1.5-1.5 1.5-4 2-9.5.5-7-2.5-13-1.5-4zM719 203l-2 0-3 4-4.5 17 3.5 15.5 2.5 5 2 1.5 1.5-.5 2.5-3.5 2-5.5 2.5-11-2-12-2-6zM244 202l-1.5 3-2.5 15 0 8.5 2 13 1 3.5 1.5 1.5 1-1 1.5-5.5 2-17-2.5-17-1-3zM169 202l-1 2-2.5 16.5 0 8 2 14 1 3.5 1 .5 2-5.5 2-17.5-2.5-18.5-1-2.5zM118 202l-2 5.5-1.5 13 0 8 1 9.5 1.5 7.5 1 1 1.5-5 1.5-13-.5-14.5-1-7.5zM348 202l-2 2-2 4.5-3 13.5 0 6 3.5 14.5 1.5 3 1.5 1.5 1.5 0 1.5-1.5 2.5-6.5 2.5-11.5 0-6-3.5-15-1.5-3zM560 176l-3 8-2 14 2.5 14.5 2 5 1.5 1 2-3.5 3-14.5 0-6.5-3-15-1-2zM750 176l-2 2-2 4-4 16 2 9.5 3 8.5 2.5 3 2 0 1.5-1.5 2-4 3.5-12.5.5-4-4-15.5-2-4zM267 175l-1.5 2.5-1 4.5-2 16 2.5 17 1.5 4 1 .5 2.5-7 2-16-2.5-17-1.5-4zM190 175l-1 0-1.5 4.5-2 14.5 0 6 1.5 12.5 1.5 6 1 1 2-5 2-15.5-1.5-16.5zM89 175l-.5 0 0 43 2.5-3.5 4-15 0-8-1-6.5-1.5-5zM134 175l-1.5 3-2 16.5 1 16.5 2 9 1-.5 2.5-17-.5-15.5-1-7.5zM105 151l-1.5.5-2 3.5-4 15 1.5 11 2.5 6.5 2.5 2.5 2-1 1.5-3 3-14 0-4-2-10-1.5-4.5zM784 149l-2 2-3 7-2.5 10.5 0 4.5 4 14.5 1 2 2.5 2.5 1 0 2-1.5 2.5-5 2.5-9 1-7.5-4-15-1.5-3-2-2zM589 148l-1.5 1.5-1 2.5-3 15.5 0 5 2 12 1.5 5 1.5 2 1.5-.5 2-5 2.5-14.5-2-15.5-2-6.5zM447 148l-1.5.5-1 2.5-3.5 16.5 0 3-1.5 4-1.5 1.5-4.5-1-3 4.5-5 17-1 11.5-4 15.5-6.5 15.5-4 12-2.5 5-2.5 2.5-2 0-1.5 2-4 16.5-3 6-2.5 2-1.5 0-2-1.5-2.5 0-2.5 3-1.5 3.5-4.5 16.5 1 6.5 2.5 9 3.5 6 2 1 3-1.5 2.5-4.5 4.5-15.5 0-3.5 1.5-4.5 1-1 4 1 1.5-2.5 3.5-13 3-5 2-6.5 8.5-20 9-28.5 5-5 1.5-3 2.5-8.5 2.5-12.5 1.5-2 3 .5 1.5-2 2-8 2-15-3-15.5zM209 148l-1.5 3.5-1.5 9-.5 14.5 1.5 11.5 1 4 1.5 1.5 1.5-3.5 1.5-9 .5-14.5-1.5-11.5-1-4zM290 148l-1 .5-1.5 4.5-2.5 17 2 16 2 6.5 1 0 1.5-2.5 3-19-2-16zM150 148l-1 2-1 5.5-1.5 15 1.5 15.5 2 7 1-1.5 2.5-20-1.5-17-1-5zM819 122l-2.5 2-2 4-4 15.5 3.5 14.5 1.5 3.5 2.5 3 2 0 3-4.5 4-14.5 0-4-3-12-2.5-5.5zM122 122l-1.5 4.5-1.5 13 0 8.5 1 10 2 7 1.5-4 1.5-13.5 0-8.5-2-15.5zM463 121l-1.5 6.5-1 9.5 0 12.5 1.5 12.5 1.5 3 2-9 1-15.5-1.5-14.5-1-4.5zM616 121l-1.5 1.5-1.5 4-3 18 3 16 2 4.5 1.5.5 2-3.5 1.5-5.5 2-11.5 0-3.5-2.5-14-1.5-4.5zM313 121l-1.5 1-1 3-2.5 16 1 13 2 9.5 1 2 1 0 1.5-3.5 2.5-15.5-1-14.5-1.5-7.5zM229 121l-2.5 10.5-1 14.5 2 15 1 3.5 1 1 2-5 2-19-2-15.5-1-3.5zM167 121l-2 8.5-1 17 1.5 14 1 4.5 1 .5 1.5-6.5 1.5-16.5-1.5-15-1-5zM96 96l-1 0-1 2-2.5 14.5 0 7 2 12 2 4 2-4.5 2-14-1-13-1-5zM483 95l-2 9-1 12.5 2.5 20 1 .5 1.5-8 1-15-1.5-14.5zM136 94l-1.5 6-1.5 15.5.5.5 1 15.5 1.5 5.5 1.5-4 1.5-13.5-1-18.5-1-5.5zM645 94l-2 1-2 5.5-2.5 13.5 1.5 13.5 2 7.5 2.5 3.5 1-.5 2.5-6 2.5-13.5 0-5-2-11.5-1.5-5zM334 94l-2 6.5-2 17 2 14.5 2 6 1 .5 1.5-3.5 2.5-15 0-8-2.5-15-1-2.5zM248 94l-1 1.5-1.5 7.5-1 8.5 0 9.5 2 14 1 3 1 .5 2.5-10.5 1-14.5-2-15.5-1-3.5zM184 94l-1 .5-2.5 20 1 14.5 1 7 1 2.5 1.5-4 1.5-13 0-11-1-10zM106 73l-1.5 1.5-2 12 1 14.5 2 5.5 1.5-3 1.5-10.5 0-8-1.5-9.5zM506 67l-1.5 5-1.5 14.5 1.5 18.5 1.5 5 1.5-4.5 1.5-14-1-16.5-1-6zM672 66l-1.5 1.5-2 5.5-2.5 13.5 0 4 2 11.5 2 6.5 1.5 2 1 0 1.5-1.5 1-2.5 3.5-17.5-2.5-15.5-2.5-6.5zM356 66l-2 4.5-2.5 16.5 1.5 14.5 2.5 9 1.5-.5 1-2.5 2.5-15 0-8-1.5-11-1.5-5.5zM268 66l-1 1-1 3.5-2 14 0 8 1 8.5 1.5 7.5 1 2 1-.5 1-2.5 2.5-18.5-2-17.5zM201 66l-1.5 4-1.5 13 0 11 1.5 13 1 3.5 1-.5 2.5-17-.5-14.5-1-8zM150 66l-1.5 4.5-1.5 13.5.5 15 1.5 10 1 2 1.5-4 1.5-13-.5-17-1.5-9.5zM692 62l2.5 15.5 1.5 4.5 1.5 2 1 0 2.5-4.5 2-8.5 1-9zM526 62l1.5 14.5 1 5 1 1.5 1.5-5 1.5-16zM441 62l-10.5 0-7.5 27.5-9 26.5-7 10.5-4 14.5-2.5 5.5-3.5 3.5-1 0-2.5-2-1.5 0-1.5 1.5-2.5 6-4 16.5-2.5 5-2.5 2.5-1.5 0-4-4.5-2 0-2.5 3.5-3 10-1.5 7.5 0 3.5 3.5 15 1 2.5 2.5 3 2 0 3-5 4-15.5 0-6 2-4 3.5-3 1.5 1 3.5 5.5 1 .5 1.5-.5 2-2 2-4.5 6-21 2-2 3.5 1 1.5-2 3-13.5 2.5-6 2.5-10.5 12.5-36zM381 62l-8 0 1.5 15 2 6 1-.5 1-2.5zM284 62l1.5 15 1 4.5 1.5 1.5 2-8.5 1-12.5zM214 62l1 13 1 6 1 2 1.5-5 1-16zM168 62l-6 0 1 13.5 1.5 7.5 1-.5zM124 62l1.5 16 1 1 2-17z"/>
<path fill-rule="evenodd" fill="#ff6000" d="M656 442l11.5 0-3-7.5-2-1.5-1.5 0-1.5 1zM809 424l-1 .5-2 4-3 13 13 0-2.5-12-2.5-5zM223 422l-2 4.5-2 15 8.5 0-2-14-1-3.5zM445 421l-3 4.5-4 16.5 15.5 0-1-7-2.5-9-2-4-1-1zM118 420l-1 1.5-1.5 6-1.5 14 8.5 0 0-4-2-13-1.5-4zM476 398l-2 3-2.5 11 0 5 2.5 11.5 1 2 2 1 2-4 2.5-13.5-3-13.5-1-2zM711 398l-3.5 0-4.5 3.5-3.5 6-3 7.5 5.5 12 3 3.5 3.5 1.5 2.5-.5 3.5-3 6.5-13-2-7-2.5-5zM261 395l-2.5 6-2.5 14 2.5 14 1.5 4.5 1 1.5 1 0 2.5-4.5 3-15.5-3-16-1.5-3.5zM148 394l-1.5 4-1 6.5-.5 15 1.5 11.5 1 3 1 .5 1.5-6 1.5-14.5-1.5-14-1-4.5zM514 372l-1.5 1.5-1 2.5-2.5 13 3 12 1.5 2.5 1.5 0 2.5-5.5 2-11-3-12.5zM749 370l-2 1-4 4.5-4 8.5-1 5.5 2.5 7 3.5 6 2.5 2.5 4 1 2.5-1 4.5-5.5 3-6.5 1.5-6-2-6-4-7.5-2.5-2.5-2-1zM177 366l-2.5 6-2.5 16 3 16.5 1.5 3.5 1.5.5 3-8.5 2-12.5-3-17-1-3zM300 366l-2 1-2.5 4-4.5 16.5 3 13 2 5 3 3.5 2 0 2-2 1.5-3 4.5-16-4-16-2.5-4.5zM99 366l-4 3.5-4 7.5-3 8.5 0 4.5 2.5 7.5 4.5 8.5 3 3 3.5.5 2.5-2 3.5-6.5 3.5-11.5 0-3.5-3.5-12-2-4-3-3.5zM790 343l-3.5 3-2 3-4 9.5-.5 3 2.5 7.5 3.5 6.5 3.5 3 3.5 0 4.5-4.5 3-6 2.5-7.5-2.5-7.5-3-6-3.5-3.5zM551 341l-1.5 1.5-1.5 4-2.5 12 0 3.5 3 13.5 2 3.5 1 0 1.5-1.5 1-2.5 3-14-2.5-14-2-5zM208 339l-1 1.5-1.5 6-1.5 11 0 5.5 2 13.5 1 3.5 1.5 1.5 1-1.5 1.5-6 1.5-11 0-5.5-2-13.5-1-3.5zM335 339l-3 .5-2.5 3-2 4.5-3.5 12 .5 6 3 10 3 5.5 3 2 2.5-1 4-7 3.5-12-.5-6.5-3-10-2-4zM126 339l-1.5 1-1 2.5-2.5 14.5 0 8.5 2 13 2 4.5 1 0 1.5-2.5 3-19-2.5-18zM834 316l-3.5 3-2.5 4-4 10.5 3 8.5 3.5 6 2 2 3.5 1 3.5-2 2.5-3.5 3.5-7.5 1.5-5.5-2.5-6.5-3.5-6.5-3-3zM587 313l-1 0-1.5 1.5-1.5 3-4 16 4 16 1.5 3 2 1.5 2-1.5 2-4 3.5-14.5-3-14.5-2-4.5zM237 312l-1.5 1.5-1 3-2.5 15 1.5 14.5 1 4.5 2 4.5 1.5-1 1-3 2.5-14 0-7-1.5-10-2-7zM149 312l-2 5.5-2 16 2 16 2 5.5 1-1 1-4 2-15.5-1.5-15-1-5zM364 311l-2.5 2-2.5 5-3 11-.5 6.5 2 9 2 5.5 3 4.5 2.5.5 2.5-2.5 3.5-9 2-8.5 0-5-3-12-3-5.5zM88 296l0 57.5 3-6 3.5-13-2.5-20zM620 285l-2.5 2-2.5 5.5-3 11.5 0 3.5 4 14.5 3.5 4.5 1.5 0 2-2 2-4 3-10.5.5-6-4-14.5-1.5-2.5zM266 285l-2 4-2.5 14 0 7 2.5 13.5 1 3 2 1 2-5 2.5-17-2.5-15.5-2-5zM173 285l-2 5.5-2 17.5 2.5 16.5 1 2.5 1.5.5 1.5-4.5 1.5-9 .5-11.5-2.5-15-1-2zM112 285l-1 1.5-1.5 7-1.5 14 2.5 17.5 1 2.5 1 .5 2-7.5 1.5-14.5-2-16.5-1-3.5zM451 284l-2 2-1.5 4.5-2.5 11-.5 6.5-2 5-2 2-1.5 0-4.5-5.5-2.5 0-2 2-2 4-2.5 9.5-1 8-2.5 3-2 .5-1.5 1.5-2 4-4.5 19.5-5.5 4.5-1.5 3.5-3.5 17.5-1.5 3.5-1.5 1-4.5-.5-2 2-2 4-4 14-1 7.5-1.5 3-2 2-1.5 0-4-4-2.5-1-1.5.5-2.5 3-2 4.5-4 15 19.5 0 .5-5 1.5-3 2-2 1.5 0 4.5 5.5 2.5 0 1.5-1.5 3.5-9.5 3-15.5 1.5-1.5 3 .5 2.5-3.5 4.5-19.5 2.5-3.5 3 0 2.5-3 3-9 2.5-12 1.5-1.5 4-.5 1.5-1.5 2.5-5 4-16 0-4.5 1.5-5 1.5-2 1.5 0 2 4 2 2 2.5-2.5 2.5-10 1.5-12-2.5-13.5-1.5-4.5zM475 259l-1.5 2-2 7-1.5 12.5 3 15 1 2 1.5 1 1.5-1.5 2.5-9 1-6 0-6.5-2-10.5-1.5-4.5zM653 258l-2 .5-3 4.5-4 14.5 1 7.5 2.5 8.5 2 4 2.5 2 3-2 2-4 3.5-12.5 0-4.5-2-8.5-3-7.5zM197 258l-2 5-2 18 2 14.5 1 3.5 1.5 1.5 1.5-3 1-5 1.5-15-2-14.5-1-3.5zM130 258l-1 2-2.5 20 2 16 1 3.5 1 1 1-1.5 1-5 1.5-17-2-15.5-1-3zM294 257l-1 .5-2 5-2.5 13.5 0 5.5 2 11.5 1.5 5 1.5 2 1 0 2-4.5 3-16.5-2-13.5-1.5-5.5zM503 233l-1.5 1.5-1 3-2.5 13.5 2 13 2.5 6 1.5-1 1.5-3.5 2.5-14-2.5-14zM96 232l-1.5 2-1.5 5-2 11 0 4 2.5 13 1.5 4 2 1 1.5-2.5 2-8 0-3 1-3.5 0-6-2-11.5-1.5-4.5zM685 231l-2 2-3 7.5-2 9 0 4.5 3.5 13.5 1.5 3 1.5 1.5 1.5 0 2-2 2.5-6 2.5-11 0-3.5-3.5-13.5-1.5-3-2-2zM323 230l-1 0-2 3-3.5 16 0 5 2 11 1.5 5 2 3 1.5-.5 1.5-3 3.5-16 0-4-2-11.5-1.5-5zM220 230l-2 5-2 14 1 13.5 1.5 8 1.5 2.5 1-1 1-3.5 2-13.5 0-7-2.5-15.5zM150 230l-1 .5-1 3.5-2 14.5 1 15 1 6 1.5 3.5 1-1 1.5-6.5 1.5-13.5-1.5-14.5zM531 206l-1.5 2-3 14 0 6 3 13.5 1.5 2 1 0 2.5-6.5 2-13-2.5-13.5-2-4.5zM717 204l-3.5 6.5-3 15 3.5 14.5 1.5 3 2.5 2 2.5-2.5 2.5-7 2-9 0-4.5-4-15-2.5-3zM118 204l-2 10.5-.5 15 1.5 13 1.5 3 1-2.5 1-7 .5-17.5-2-14zM244 203l-2 6-1 6.5-.5 13.5 2 13 1 3 1 .5 1-1.5 1.5-6 1.5-15.5-2-14.5-1-3.5zM169 203l-1 2.5-1.5 9.5-.5 14.5 1.5 11.5 1 3.5 1 1 1-1.5 1-5 1.5-16.5-2-16-1-3zM348 203l-1.5 1.5-2 4.5-2 8.5-1 8.5 3.5 16 1 2.5 2.5 2 1.5-1.5 2.5-6.5 2.5-15-3.5-16.5-2-3.5zM88 178l0 38 2.5-5 2.5-11 0-6-1.5-8.5-1.5-4.5zM561 177l-1.5 1-1.5 4-2.5 15 2 13 1.5 5.5 1.5 2 1.5-1.5 1.5-4.5 2-12 0-5-1.5-9.5-1.5-5.5zM751 177l-2 1.5-2.5 5.5-3 13 3 14.5 2 4.5 2 2 2-.5 2.5-4.5 3.5-14 0-3-3-12.5-2-4.5zM267 176l-2 5.5-2 16.5 2 15 1 4 1.5 1.5 2-5.5 2-16.5-2.5-17.5-1-2.5zM190 176l-2 5.5-1.5 12 .5 13 2.5 12.5 1-.5 1-3 2-15-1-15-1-6zM134 176l-2 11-.5 15.5 1.5 13 1 3.5.5 0 1.5-5.5 1.5-16.5-1.5-15.5-1-4.5zM105 154l-2.5 2.5-3.5 14 2.5 13 1 2.5 2 2 1-.5 1.5-3 2.5-11.5 0-5-2.5-11zM784 150l-3 4.5-4 16 3.5 15 2 4 2.5 1.5 2-2 2.5-6 2.5-10.5 0-4-4-15-2-3zM588 150l-1.5 2.5-3 16 0 4 3 16 1 2 1.5.5 2-4.5 2.5-17-2.5-15-1.5-4zM447 149l-1 1-1.5 5-3.5 20-2.5 3-3-1.5-2 .5-2 4-4.5 16-1 10.5-4 16-12.5 32-1.5 2.5-2.5 2.5-2.5.5-1 2-3.5 14.5-3 6.5-3 2.5-1.5 0-2-1.5-2.5 0-3.5 6-4 14.5 0 2.5 4 15.5 2 3.5 2 1.5 1 0 3.5-4.5 4.5-15.5.5-6 1.5-4 2-2 3.5 1.5 1.5-3 2-8.5 4-7.5 1.5-5.5 9-21 9-28.5 5-5 1.5-3 2.5-8.5 3-14.5 1.5-1.5 2 1.5 2-1 1.5-5 2.5-17.5-3.5-18zM290 149l-1.5 3.5-1 5-1.5 14 2 15 1.5 5 1 .5 1.5-3.5 1-5 1.5-14-2-15-1.5-5zM209 149l-2 7.5-1.5 14.5 2 16.5 1 3.5 1 1 2-7.5 1.5-14.5-2-16.5-1-3.5zM150 149l-1.5 5-1.5 14.5 1 15 2 8.5 1.5-4.5 1.5-14-1-16.5-1-6zM818 123l-3.5 6.5-3 14 3.5 14.5 2 4 2.5 1 2.5-3 1-2.5 3.5-15-4-15.5-2.5-4zM122 123l-1 2.5-1.5 12.5 0 11.5 1.5 12 1 2.5 1.5-5 1-9.5-.5-17.5-1-7zM463 122l-1.5 7.5-1 15.5 1.5 15.5 1 3.5.5 0 2-10.5.5-15.5-2-15.5zM617 122l-2 1.5-1 3-3 16.5 2.5 15.5 2.5 6 1.5-.5 1.5-3.5 3-16.5-2-14-1.5-5.5zM313 122l-1.5 1-1 3.5-2 14 1 14 2.5 10 1 0 1-2 2.5-15.5 0-7.5-2.5-15.5zM229 122l-2.5 12.5-.5 12.5 1.5 12.5 1 4 1 1 1-1.5 1-4.5 1.5-12.5 0-5.5-2-15-1-3zM167 122l-2 10.5-.5 16.5 2 15 1 .5 2-12 .5-12-1.5-14.5-1-4zM96 99l-1 0-1 3-1.5 10 .5 12 1 5.5 1.5 3 1.5-3.5 1.5-10-.5-11.5zM483 96l-1 3-1.5 14 .5 12.5 1 8 1 2.5 1-2 1.5-13.5-.5-14.5-1-7.5zM137 96l-1.5 3-1.5 14.5.5 11.5 2 11.5 1.5-4.5 1-10 0-12zM645 95l-1.5.5-1.5 3.5-3 16 2 14.5 2 6.5 1.5 1.5 1-.5 2-5 2.5-14-1.5-13.5-2-7.5zM334 95l-2 7.5-1.5 15.5 2 14.5 1 3.5 1.5 1.5 2.5-9 1-8 0-9-2.5-15-1-1.5zM248 95l-2 7-1.5 14.5 2 17 1 3.5 1 .5 2.5-12.5.5-13-2-14.5zM184 95l-1 .5-2 16.5.5 14.5 2 11 1.5-4.5 1.5-15.5-1-14.5zM105 76l-1.5 5-1 8.5 2 13 1 .5 1.5-6.5.5-10.5-1-7zM506 68l-1.5 6-1 10 .5 14.5 1 7.5 1 2.5 1-2 1.5-12.5-.5-16.5-1-7zM672 67l-1.5 1-1.5 3.5-3 16 2 14 1.5 5.5 1.5 2.5 1 0 2-3 3-15 0-6.5-1.5-9-2-7zM357 67l-1 .5-1 2.5-2.5 17 1.5 15 1 5 1.5 3 2-4 2-13-.5-13.5-1-6.5zM268 67l-1 1-1 4-1.5 11.5 0 10 1 8.5 1.5 7 1 1 1.5-4 2-16-1.5-16.5zM201 67l-1.5 5-1.5 15 1 14.5 1 6.5 1 2 1.5-5.5 1-15.5.5-.5-.5-.5-1-15.5zM150 67l-1.5 5.5-1.5 15.5 1.5 16.5 1.5 5.5 1.5-5 1.5-15-1.5-18.5zM693 62l2.5 15.5 2 5 1.5.5 1.5-2.5 1.5-5 2-13.5zM526 62l1.5 16 1.5 4 1.5-6 1-14zM440 62l-9.5 0-7 26.5-6.5 19.5-5 12.5-3.5 4-1.5 3-3.5 12.5-3 7-4.5 4.5-3.5-2.5-1.5.5-1 1.5-2.5 7-3 13-4 8.5-2 1.5-1.5 0-4-5-2 0-2 3-3.5 13-.5 8.5 3 13.5 2 4 2 1.5 2.5-2.5 2-5.5 2.5-11.5 0-7.5 3.5-7.5 1.5-1 2 0 1.5 1.5 2.5 5.5 1 1 2 0 3.5-7 2-9.5 3.5-11 2.5-3.5 2-.5 1.5 1 1.5-1.5 7-25 13-37.5zM380 62l-7 0 1 12.5 2 7.5 1-.5 1-3zM290 62l-6 0 1 13 2 7 1-1.5 1-5zM220 62l-5 0 1 14.5 1.5 5.5 1.5-6.5zM168 62l-5 0 .5 11 1 7 1 2 1.5-6zM125 62l1 14 1 1 1.5-15z"/>
<path fill-rule="evenodd" fill="#ff8000" d="M658 442l8.5 0-1.5-4-2-2-1.5 0-2 2zM809 426l-1.5 1.5-1.5 3.5-2.5 11 12 0-3-12.5-1.5-3zM223 424l-2 7.5-1 10.5 7.5 0-2-14.5-1-3zM446 421l-2 2-1.5 3.5-2 7.5-1 7.5 14 0-3.5-15.5-2-4zM118 421l-2 6-1.5 14.5 8 0-2.5-17.5-1-2.5zM476 400l-2.5 5.5-1.5 8 0 3.5 1.5 8 2 5 1 .5 1.5-2 2.5-10.5 0-6-2-9-1-2zM708 399l-2 1-4 5-4 9.5 2 5.5 4.5 7.5 3 2 3 0 4.5-4.5 3.5-7 1-4-2.5-7-3-5-2-2-2-1zM263 396l-1 0-1.5 2-3 14 0 6 3 14 1.5 2 1.5-1 1-2.5 2.5-12.5 0-6-1-6.5zM148 396l-1.5 1.5-2 16 1 13 1 5.5 1 2 1.5-4 1.5-12.5-1-15zM514 374l-3 8.5-.5 8 2.5 9.5 2 2 1.5-2 2.5-9.5 0-5.5-2-8-1.5-3zM751 371l-3 .5-3.5 3.5-3 5.5-2.5 7 4 10.5 4 5 2.5 1 3-1 2.5-2.5 3.5-6.5 2-5.5 0-2.5-1.5-4.5-3-6-3-3.5zM177 367l-2.5 7-2 14 2.5 15 1.5 4 1.5.5 1.5-3 2.5-13.5 0-7.5-2-11.5-2-5zM99 367l-3.5 3.5-2.5 5-3.5 10.5 0 2.5 2.5 8 3.5 7.5 2.5 3 3.5.5 3-3 2.5-5.5 3-10.5 0-2.5-2.5-9.5-3.5-7.5-2.5-2zM300 367l-1 0-3.5 4.5-4 15 .5 5.5 3 10.5 1.5 3.5 3 2.5 2.5-2 1.5-3 4-14.5-1-7.5-3-10zM791 344l-4 3.5-4 8.5-1 5.5 3 8.5 2 3.5 2.5 2.5 3.5.5 4.5-4.5 3-6.5 1.5-6-2.5-7.5-3.5-6-3-2zM551 343l-2 1.5-2 6.5-1.5 8.5 2 13 3 6 1-.5 1.5-3 2.5-11.5 0-6-3-12.5zM208 340l-1.5 3.5-2 13 0 7.5 2 13 1 3 1 .5 1.5-3.5 2-13 0-7.5-2-13-1-3zM335 340l-3 .5-2.5 3.5-4.5 14.5 0 4.5 3 11 2 4.5 3 3 2-.5 2-2 2-4 3.5-12 0-5-2-8-3.5-8zM126 340l-1.5 1-3 16 .5 13 1.5 8.5 1.5 3.5 1.5-.5 1-2.5 2.5-17-1.5-14-1.5-6.5zM834 318l-4 3.5-2 3.5-3 8 0 1.5 2 6 3.5 6.5 3 2.5 3 0 4-4 3-6.5 1.5-6.5-2-5.5-4-7-3-2zM586 314l-2.5 4-1.5 4.5-2 9.5 0 3 3.5 14 2 3.5 2 0 3-6 2.5-11 0-4-2.5-11.5-2-4.5-1.5-1.5zM237 313l-2.5 8-1.5 10 0 5 2 13 1 3.5 1.5 1.5 1.5-2.5 2-10 .5-12-2.5-14-1-2zM149 313l-1.5 3.5-2 15.5 1.5 16 1 4.5 1 1.5 2-5.5 1.5-12.5-1.5-17.5zM363 312l-3 4-4.5 17.5 2.5 11.5 2 5.5 3 3.5 1.5 0 2-2 2-4.5 3.5-15-1.5-8-2.5-8-3.5-4.5zM88 300l0 50.5 3-7.5 2-8.5-1.5-16zM620 286l-1.5 1-2 3.5-4 15.5 3.5 14 2 4 2.5 1.5 2-1.5 1.5-3 4-15.5-3.5-14-2-4zM112 286l-1.5 1.5-2.5 18 1.5 14.5 2 6.5 1.5-3 2-16-1-13zM267 286l-1.5.5-1.5 4-2 12 0 7.5 1.5 10 1.5 5.5 1.5 1.5 2-4 2.5-15.5-1.5-13zM173 286l-1 2-1.5 7.5-1 13.5 2 14 2 4 1-1.5 2-10.5.5-13.5-2-12.5-1-2.5zM451 285l-1 .5-2 5-2.5 11.5-.5 7-2.5 5.5-3 2.5-2-1.5-3-5-2 0-1 .5-2.5 4.5-2 7-2 12.5-2 2.5-2.5 0-3 4-5 21.5-2 2.5-2 0-2.5 3.5-2 7.5-1.5 10-2 5.5-1 1-5.5-1-3 4.5-3 10-2 12-1.5 3-3.5 4-1.5 0-4.5-5.5-1-.5-2 .5-2 2.5-1.5 3.5-4 15.5 17.5 0 .5-5 2.5-4.5 2.5-2.5 1.5 0 1 1 1.5 3.5 3 2.5 2-1.5 2-4.5 2-7.5 2-13.5 2-3 3 1.5 2-1.5 1.5-4 4-18 2.5-3 2 .5 1.5-.5 2.5-4.5 4.5-19.5 1.5-1.5 3 .5 1.5-.5 3-5 2-6.5 2-9.5.5-6.5 1.5-4.5 2.5-3 1 0 4 7 1.5-1 1-2 2-8.5 1.5-12-2.5-13.5-1.5-4.5zM475 261l-1.5 2-3 14.5 0 3.5 2.5 13 1.5 3.5 1.5 0 1.5-3 2-9 .5-9.5-2-10.5-1.5-4zM653 259l-2 .5-2 3-4 14 0 4.5 1.5 7 3 8 2.5 2.5 2.5-1.5 2-4 3.5-13.5-3-14-2-4.5zM197 259l-1 1.5-1.5 7.5-1 14 2 14 1 3 1 .5 1.5-3.5 1-5.5 1-14-2-14-1-3zM294 258l-1.5 2.5-1.5 6-1.5 9.5 0 5.5 2.5 13.5 1 3 2 1 2-5 2.5-15.5-3-17-1-2.5zM131 258l-2 5.5-1.5 13 1 14 2 8.5 1-.5 2.5-16-.5-13-1-7zM502 235l-2 5-2 12.5 2.5 13.5 1 2.5 1.5.5 2.5-7.5 1-6 0-7-2-10-1-2.5zM96 233l-2 3-2.5 12.5 0 6 2.5 12.5 2 3 2-3.5 2.5-14-2-14.5zM685 232l-1.5 1.5-2.5 6-2.5 13 2.5 11.5 1.5 4 2.5 3 1 0 1.5-1.5 2-4.5 3-14-3.5-14.5-1.5-3zM322 231l-1.5 2-1.5 5-2 11.5 0 4 2.5 13.5 1.5 4 2 1 1.5-2.5 1.5-5 2-14.5-2.5-14-1.5-4zM220 231l-1.5 3-2 13.5.5 12.5 1.5 9 1.5 3 1-1 1-4 2-15.5-2-15.5-1-4zM150 231l-1 2-1.5 9-.5 14 1.5 12 1 3.5 1 .5 2-9 1-14-1.5-12.5-1-4.5zM532 207l-2 1-3 13.5.5 9 2 9 1.5 2.5 1.5-1 1-2.5 2.5-13.5-2-13zM716 206l-2 4-3 12.5 0 5 3 12.5 2.5 4 1.5 0 2-2.5 2-6 2-11.5-1.5-8-2.5-8-2-2.5zM118 205l-1.5 8-1 12.5 1.5 15 1 4 .5 0 1.5-6.5 1-15.5-1.5-14.5zM244 204l-2 7-1.5 14 2 15.5 1 3.5 1 1 2-6 1.5-12 0-5.5-1.5-12-1-4zM169 204l-2 9-1 12.5 2 16.5 1.5 3 1.5-4.5 1-7.5.5-12.5-2.5-16zM348 204l-1.5 1.5-2 5.5-2.5 14.5 3 15 1.5 3.5 2 1.5 1.5-1.5 2-5.5 2.5-14.5-2.5-13.5-2.5-6zM88 180l0 33 2-4.5 2-9.5-1-10.5zM750 178l-1.5 1.5-2 4.5-2.5 11 0 4.5 3.5 13.5 1 2 1.5 1.5 1 0 3-4.5 3.5-15-3-13.5-2-4.5-1-1zM561 178l-1 .5-1.5 3.5-2.5 15 2 13.5 2 5.5 1.5-.5 1.5-4 2-11.5-1-12.5-1.5-6.5zM267 177l-1 2-1.5 8-1 12.5 2 14.5 1 3.5 1 .5 1-2 1.5-7.5 1-13-2-14.5zM190 177l-1.5 3.5-2 17 1.5 14.5 1.5 6 1.5-1.5 2-14-.5-14.5-1-7zM134 177l-1.5 8-1 14 1.5 15 1 4 .5 0 2-11 .5-13-1.5-14zM105 156l-2 2-2.5 9.5 0 5.5 1 5.5 2.5 6 1 0 1.5-2 2.5-12-2-11zM785 151l-2 1-1.5 3-3.5 13.5 0 4 2.5 11 2.5 5.5 1.5 1 2-1.5 1.5-3 3.5-14.5-2-11-2-6zM588 151l-1.5 3-1.5 7-1 11.5 2.5 14.5 1 2.5 1.5.5 2.5-8 1.5-13-2.5-14.5-1-3zM447 150l-1 1-1 3.5-3.5 21.5-1.5 2.5-1.5 1-4-2-1.5 1.5-5.5 18.5-1 11.5-4 15.5-5.5 12.5-5.5 15.5-3.5 7-2.5 2.5-2.5.5-1 2-3 13-2.5 6-4 4-1.5 0-2-1.5-2.5 0-3 5.5-4 15 4 16 2 4 1.5 1 1 0 3-4 4.5-16 0-4 2-6 2.5-2.5 3.5 1 1-2 2.5-9 3.5-6.5 1.5-5.5 9-21 8.5-27 1.5-3 4.5-4 3.5-10.5 3-15.5 2-2.5 2 2.5 2-1 2-9 1.5-13-2.5-14zM290 150l-2 6.5-1.5 16 2 14.5 1 3.5 1 .5 2-6.5 1.5-16-2-14.5-1-3.5zM209 150l-2 8.5-1 14.5 1.5 13 1 4 1 1 2-8.5 1-14.5-1.5-13-1-4zM150 150l-1.5 5.5-1 10 .5 15.5 1 7.5 1 2.5 1-2 1.5-12.5-.5-17.5-1-7zM818 124l-1.5 1.5-2 4.5-2.5 10.5 0 4.5 3 12.5 1.5 3 1.5 1.5 1 0 2-2.5 1.5-4 2.5-11 0-3.5-3.5-13.5-1-2-1.5-1.5zM122 124l-1.5 6-.5 11-.5.5 1 14.5 1.5 6 1.5-5.5.5-11 .5-.5-1-15.5zM617 123l-1.5 1-1.5 4-2.5 15 2 13.5 2.5 7 1.5-.5 1.5-4 2.5-15-2-14.5zM463 123l-1 2-1.5 13 0 11 2 14.5 1.5-3 1-15.5.5-.5-1-14zM313 123l-1 0-1 3-2 13.5 0 7.5 1 8.5 1.5 7 1 1.5 2-5 1.5-11-.5-14-1-6.5zM229 123l-1.5 6-1.5 14.5 2 17 1.5 3.5 1-2 1.5-9.5.5-14-2-14zM167 123l-1.5 3-1.5 15.5 1 15.5 1.5 7 1-2 1.5-12.5 0-12.5zM96 102l-1 .5-2 11 .5 9 1 5.5 1 1.5 1-1.5 1.5-10-.5-9zM483 97l-1 3.5-1 9.5 0 12.5 1 9.5 1 3 1.5-6 .5-11.5.5-.5-1-13.5zM136 97l-2 13.5 0 11.5 1.5 12 1 1 1.5-10 .5-11.5-.5-.5-.5-11-1-5zM644 96l-2.5 6.5-2 14.5 3 16.5 1 2 1.5 1 2.5-6.5 2-12 0-4-2.5-14-1.5-3.5zM334 95l-2 6-1.5 12 0 5.5 2 14 1 3 1 .5 2-7 1.5-14-1.5-13-1.5-6zM248 95l-2 8.5-1 14.5 1.5 13.5 1 4 1 .5 1.5-6 1.5-14.5-1.5-14.5-1-4.5zM184 95l-1.5 7.5-.5 12-.5.5 1 13.5 1.5 7.5 1.5-5 .5-10 .5-.5-.5-16-1-7.5zM105 79l-1.5 6 0 8.5 1 5.5 1 .5 1.5-8 0-5-1-6zM506 69l-1.5 7-.5 11.5-.5.5 1 13 1.5 6.5 1-2.5 1.5-14.5-1-15.5zM672 68l-1.5 1-1.5 4-2.5 14.5 2 14.5 2.5 6.5 2-1 1-2.5 2.5-13.5 0-6.5-2-11.5zM357 68l-1 .5-1 3-2 14 1 14.5 1 5.5 1.5 3.5 1-1 1-3.5 2-15.5-1.5-14zM267 68l-2 9.5-1 12 2 16.5 1.5 3 2-8 1-16-2.5-16.5zM201 68l-1.5 5.5-1 10 .5 15.5 1 7.5 1 2.5 1-3 1.5-14-1-18zM150 68l-1.5 6-.5 10.5-.5.5 1 18 1.5 6 1.5-5.5.5-10 .5-.5-.5-15.5-1-7.5zM693 62l2.5 15.5 1.5 4 1.5.5 1.5-2.5 1.5-6 1.5-11.5zM532 62l-5 0 1 14 1.5 5 1.5-7zM439 62l-8 0-7 27-9 26.5-3 6.5-3.5 4-1.5 3-3.5 13-2 4.5-3 4.5-2 1.5-1.5 0-2-2-1.5 0-1 1-2 5-3.5 15-4 9.5-3 2-2.5-2-1.5-3-2-1.5-1.5 1-1.5 3-2.5 9.5-1 9.5 2.5 12.5 2 5 1.5 1.5 2-1 2-4.5 3-14 0-9 1.5-3 0-1.5 2-2 4-1 2.5 2.5 1.5 4.5 1.5 1.5 1 0 3.5-7 2-10 1.5-3 2-7.5 4-5 3 0 1-1.5 2-8 2.5-5.5 2.5-10.5 14-40.5zM373 62l1.5 13.5 1 4.5 1 1 1-2 1-5.5 1-11.5zM290 62l-6 0 1.5 14 1.5 5 1-2 1-5.5zM215 62l.5.5 1 16 1 2.5 1.5-7.5.5-11.5zM168 62l-5 0 1 13 1.5 6 1-3 1-15.5zM125 62l1 11.5 1 1.5 1-7 0-6z"/>
<path fill-rule="evenodd" fill="#ff9f00" d="M659 442l5.5 0-2-3-1.5 0zM809 427l-1 .5-1.5 3-2.5 9 0 2.5 10.5 0-3-12-1-2zM224 425l-1 .5-1 3-2 13.5 7 0-1-10zM446 422l-1.5 1.5-2.5 6.5-2 11.5 13 0-3-14-2-4.5zM118 422l-1.5 4-2 15.5 7.5 0-2-16-1-3zM707 401l-3 2.5-2.5 4-2.5 8 5 10 1.5 1.5 3.5 1 1.5-.5 2.5-2.5 5-10.5-2-5.5-3-5.5-3-2.5zM477 401l-1.5 1.5-2.5 10.5 1 9 1.5 5 1 1 1 0 1-2 2-8.5-.5-8.5-2-7zM262 397l-2 4-2.5 14 2.5 14 1.5 3.5 1 .5 2-4 2.5-14-2.5-14-1-3zM148 397l-1 2-1.5 12 .5 13 2 9 1.5-4.5 1-8.5 0-10.5-1-8.5zM514 375l-1.5 2.5-1.5 5-.5 7 2 8 2 2 1.5-2 1.5-5.5.5-7-1.5-6.5-1.5-3zM750 373l-2 1-3 3.5-3 6.5-1 5 4.5 10.5 3.5 3 3 0 3.5-3.5 3.5-7.5 1-4.5-2-5.5-3-5.5-2.5-2.5zM178 368l-1.5.5-1 3-2.5 14.5 2 15.5 1 3.5 1.5 2 1-1 1.5-5 2-13-2.5-16.5zM100 368l-3.5 3-2 4-3 9-.5 5 2.5 8 3 6.5 1.5 2 1.5 1 1.5 0 3-3 2.5-5.5 2.5-9 0-3-3-11-2.5-5-1.5-1.5zM299 368l-2 2-2 4.5-3 14 4 15 1 2 2 2 1 0 2.5-3 1-2.5 3.5-14.5-4-15.5-1-2-2-2zM791 346l-2.5 2-2 3-2 4.5-1.5 6 4.5 11 2.5 2.5 3 .5 3.5-3.5 2.5-5 2-7-2.5-7-2.5-4.5-2-2zM550 344l-1.5 3-1.5 6-1 8.5 2.5 12 1 2 1.5 1 2.5-5.5 1.5-8 0-6-2.5-11-1.5-2zM208 341l-2 6.5-1.5 13 2 15 1 3.5 1 .5 2-6.5 1.5-13.5-2-14.5-1-3.5zM333 341l-1.5 1-2 3.5-4 14 0 2.5 4 14 3.5 4.5 1.5 0 2-2 2-4 3-10.5.5-4.5-3.5-13-2-4-1.5-1.5zM125 341l-2 7.5-1.5 12.5 2 15.5 1.5 4.5 1 0 1.5-3.5 1-5.5 1-14-2-13.5-1-3zM834 319l-4 4-4 10.5 4.5 11 3 3 3 0 3-3 3.5-7.5 1-4.5-1.5-4.5-3.5-6.5-2-2zM587 315l-2.5 3-3.5 14.5 2.5 13.5 1.5 4 1.5 1.5 1 0 2-2.5 3.5-14-.5-6-2-8.5-2-4.5zM237 314l-1.5 3.5-1.5 8.5-.5 11 2 12.5 1 3 1 .5 1-1.5 1.5-6 1.5-13-2-13.5-1-3.5zM149 314l-2 7-1 16 2 14.5 1.5 1.5 2-10 .5-14-1.5-11.5-1-3.5zM363 313l-1.5 1.5-2.5 6-2.5 10.5 0 4 2 9.5 2 5.5 2.5 3 1.5 0 1.5-1.5 3-7.5 2-9 0-4.5-3.5-13.5-3-4zM88 305l0 44 4-14-1-12.5zM620 288l-1.5 1.5-2.5 6.5-2 8.5 0 4 3 11.5 2 4 2 1 2-2 2-4.5 2.5-10.5 0-3.5-3-12-1.5-3-1.5-1.5zM112 287l-1.5 4.5-1.5 16 1.5 13 1 4 1 .5 2-10.5.5-12-2-14.5zM267 287l-1.5.5-1 2.5-2.5 16 1.5 12 2.5 8 1-.5 1.5-4 2-13-1-12zM173 287l-1 2-1.5 8.5-.5 13.5 1.5 10.5 1 3.5 1 1 1.5-3.5 2-17.5-2-14.5-1-3zM451 286l-1.5.5-1.5 4-2.5 11.5-.5 7-1 3.5-2 3.5-1.5 1.5-2.5.5-4.5-6.5-1.5 0-2.5 3.5-2 6.5-2.5 15.5-1.5 2-4 0-2 3-3 11.5-1.5 9-1.5 3.5-1 1-3 .5-1.5 2.5-1.5 5-2 12-2 6-2 2-3-2-2 0-2.5 4-2.5 8.5-2 12-1.5 3.5-5 6-1.5 0-1.5-1.5-1-2.5-2.5-2.5-2 .5-2.5 4-4.5 16.5 16 0 .5-4 2-4.5 4.5-5 2 .5 3.5 6.5 1 .5 1.5-1 1.5-3 2.5-9 1.5-8 0-4.5 1-3 2-2.5 1 0 1.5 1.5 1.5 0 1.5-2.5 4.5-19.5 3-4 3 .5 2.5-4 2.5-9.5 1-7.5 1.5-4 1-1 5 .5 2-3 3-10.5 2-14 2.5-6 2-2 1 0 4 7.5 2-2 2-8 1.5-13-2-11zM475 262l-2.5 6.5-1.5 12.5 2.5 13 1 2 1 .5 1.5-2 2.5-12 0-6.5-2-10.5-1-2.5zM652 260l-2 2-2.5 6.5-2 11.5 3.5 13.5 2.5 3.5 2 0 3.5-7.5 2-8.5 0-5-3.5-12.5-1.5-2.5zM294 259l-1.5 3-2.5 13.5 0 6.5 3 15 2 1 2-5.5 2-14.5-2.5-15-1-3zM197 259l-1.5 4.5-1.5 10.5 0 9.5 1.5 10.5 1 3.5 1 .5 1.5-4 1-6.5.5-13.5-1.5-10.5-1-3.5zM131 259l-1.5 3.5-1.5 11.5 0 9.5 1.5 11.5 1 3 1-.5 2.5-18-1.5-15.5zM502 236l-2 5.5-1.5 11 2 11 1 3 1.5.5 2-6 1.5-9.5-2.5-13.5-1-2zM96 235l-1.5 3.5-2 14.5 2 11.5 1.5 3.5 1 0 2-6 1.5-11-2-12.5-1.5-3.5zM685 233l-1.5 1-1.5 3-3.5 14 2.5 12.5 2 5 1.5 1.5 2-1 1.5-3 3.5-14.5-3.5-14.5-1.5-3zM322 232l-1 1-2 7-1.5 9 0 5 2.5 13 1.5 3.5 1.5.5 3-8.5 1.5-13-2.5-13.5-1.5-3.5zM220 232l-1 1.5-1 4.5-1.5 14 2 15.5 1 3 1 .5 2-9 1-12.5-2.5-16.5zM150 232l-1.5 5-1.5 16 1.5 13.5 1 4 1 .5 1-3 1.5-11.5 0-10-1.5-11.5zM531 208l-1.5 3-1.5 7-.5 9.5 1.5 8.5 1.5 4 1 .5 1-1 1.5-5 1.5-11-2-11.5-1-3zM717 206l-1.5 1.5-2 5.5-2 9.5 0 4 3 12.5 1.5 3 2 .5 3-6 2.5-12.5-3.5-15-1.5-2.5zM118 206l-1.5 5-.5 10-.5.5 1 17 1.5 5 2-13.5 0-10.5zM244 205l-2 8-1 14 1.5 12 1 4 1 1 1.5-4 1-6.5.5-14-1.5-11-1-3zM169 205l-2 10.5-.5 13 1.5 12 1.5 3.5 1.5-5.5 1.5-14.5-2.5-18.5zM349 205l-1 0-1.5 1.5-2 6.5-2 11.5 3 16 1 2.5 1.5 1.5 1.5-1 2-5 2.5-13.5-2-12.5-1.5-5zM88 183l0 28.5 1.5-4 2-10-1-6.5zM750 179l-3.5 7-2 9.5 0 3.5 3 12.5 1.5 3 2 1 3.5-7 2-9 0-5-3-12-1-2-1.5-1.5zM561 179l-2 4.5-2 14.5 3 16 1.5 1 1-1.5 2-9.5.5-10.5-2-11zM267 178l-2 7.5-1 8.5 0 7.5 1.5 11.5 1 3.5 1 .5 1-2 1.5-9 .5-12-1.5-11.5-1-3.5zM190 178l-1.5 4-1.5 13 .5 11 2 11 1-.5 1-4 1.5-13.5-1-13-1-6zM134 178l-2 15 0 9.5 1 10 1.5 5 1.5-7.5 1-12.5-.5-.5-1.5-18zM373 177l-1.5.5-1.5 2.5-3.5 15.5 0 3.5 3 14 2.5 4 1 0 1.5-2 4-16.5-.5-4 .5-10-2.5-2.5zM105 159l-1.5 1-2.5 10 1 7 2 5.5 2-1 2-8.5 0-5-1-5zM784 152l-3 5.5-2.5 13.5 3 13 2.5 4 1.5 0 3.5-8 2-10-3.5-15-2-3zM588 152l-1.5 3.5-1.5 8-.5 10 2 12 1 3 1.5.5 2.5-9 1-12-2.5-14-1-2zM447 151l-2 5-3.5 22-2 2.5-2 0-2-1.5-1.5 0-1 1.5-5 17.5-.5 9-3.5 15-12.5 32-4 7.5-1.5 1.5-3 1-2 5.5-2 9.5-3 6-3.5 3.5-1.5 0-3-2-1.5.5-3 6-3 11.5 0 5 3.5 12.5 3 4.5 1 0 2.5-3.5 4.5-16 0-4 2-6 3-3.5 2.5 1 1.5-1 2.5-8.5 3-5.5 3-9.5 7.5-17 9-28.5 1.5-3 5.5-5.5 3-10.5 3-16 1-1.5 1 0 2 3 1 0 1-1.5 3-17 0-4.5-1-3-1.5-11zM290 151l-1 2-1.5 9-.5 12.5 2 13.5 1.5 2 1.5-4.5 1-6.5.5-12.5-2.5-15zM209 151l-2 9.5-.5 15 1.5 11.5 1.5 3 2-9.5.5-15-1.5-11.5zM150 151l-1.5 6.5-.5 11-.5.5 1 14.5 1.5 6.5 1.5-5.5.5-10.5.5-.5-1-17zM819 125l-2 1-1.5 3-3 12 0 3.5 2 9.5 2.5 6 1.5 1 2.5-3 3.5-14 0-2.5-2.5-11zM122 125l-1 3.5-1 9.5 0 10 1 9.5 1 3.5 1-3 1-9.5 0-11.5-1-9zM616 124l-2 5.5-2 14.5 2.5 15 1.5 3.5 1 0 2.5-7.5 1.5-13.5-2-12.5-1.5-4.5zM463 124l-1.5 5.5-.5 11-.5.5 1 16.5 1.5 5.5 2-14.5 0-10zM167 124l-1 1-1.5 12.5 0 11.5 2 14 1-2 1.5-14.5-.5-12.5zM313 123l-2 6.5-1.5 12.5 2 17 1.5 3.5 1.5-3 2-15-1-12.5-1.5-7.5zM229 123l-1.5 4-1.5 13 1 15 1 5.5 1 2 1.5-5 1.5-13-1-13.5zM96 105l-1 .5-1.5 8.5.5 8 1.5 5 2-9 0-4.5zM483 98l-1 3.5-.5 10-.5.5.5 13.5 1.5 8 1-3 1-10 0-10-1-9.5zM136 98l-1.5 9-.5 11.5.5.5 1 14 1 1 1.5-11.5 0-13-1-9zM644 96l-2 3.5-2.5 14.5 1 10.5 1.5 7 1.5 3.5 1 0 1.5-3 2.5-14 0-5-2-12zM334 96l-1.5 4-1 6.5-.5 14 2 13 1.5 1.5 2-8 1-14-2-14.5zM248 96l-1 2.5-1 7-.5 15.5 2 13.5 1 .5 2-11 .5-11.5-1.5-13zM184 96l-1.5 8.5-.5 16 1.5 13.5 1 1 1.5-10.5.5-11-.5-.5-.5-11zM106 82l-1 1-.5 2.5 0 7 1 4 1.5-5 0-5zM506 70l-1 3.5-.5 10-.5.5.5 15 1.5 7.5 1-2.5 1-9.5 0-12-1-9.5zM672 69l-1.5 1-1.5 4.5-2 12.5 1.5 13 2 7 1 1 1.5-1.5 1-3 2.5-15-3-17zM356 69l-1.5 4-1 6.5-.5 13.5 1.5 11 1 3.5 1 .5 1-2.5 1.5-9.5.5-10.5-2-14zM267 69l-2 10.5-.5 13 1.5 12 1 3.5.5 0 1.5-5.5 1.5-14.5-1.5-14-1-4.5zM201 69l-1.5 6-.5 11.5-.5.5 1 15 1.5 6 1.5-7 .5-12 .5-.5-.5-.5-1-16zM150 69l-1 3-1 16-.5.5.5.5 1 16 1 3 1.5-6 .5-11.5.5-.5-1-15zM694 62l2 14 2 5 1 0 2.5-7 1.5-12zM527 62l1 12.5 1 5 .5 0 1.5-7.5.5-10zM439 62l-6.5 0-.5.5-6 23.5-10 30-3 6.5-5 7-4 14-2.5 5-4 5-2 0-1.5-1.5-2-.5-2 3.5-3 13-3.5 10.5 0 2.5 3.5.5 2 2 2 5.5 1.5 1 1-.5 2-4.5 2.5-11.5 1.5-3 1.5-6.5 2.5-4.5 2.5-2.5 3-.5 1.5-3 2-7.5 1.5-2.5 1.5-7.5 16-47zM374 62l1 11.5 1 5 1 1.5 2-8.5.5-9.5zM290 62l-5 0 1 12.5 1.5 5.5 1.5-5zM219 62l-4 0 .5 10.5 1.5 7.5 1-4zM167 62l-4 0 .5 11 1.5 7 1-3.5zM128 62l-2.5 0 0 5.5 1 6 1-3.5z"/>
<path fill-rule="evenodd" fill="#ffbf00" d="M661.5 441.5l.5 0 0 .5-.5 0zM809 428l-1 .5-1.5 3-2 10 9.5 0-3-11.5zM224 426l-1 .5-1 3.5-1.5 12 6 0-.5-8zM446 423l-1.5 1.5-2 5.5-2 11.5 12 0-3-14-2-4zM118 423l-2 8-1 10.5 6.5 0-1.5-14.5-1-3.5zM477 403l-1 0-1 1.5-2 8.5 1 8.5 2 5 1.5-1 2-8 0-6zM710 403l-3 .5-2.5 2.5-4 8.5 1.5 5 2.5 4.5 4 3 2-.5 3-3 3.5-7.5 0-2-3-7zM262 398l-2 4.5-2 13 2 12 1.5 4 1.5 0 1.5-4 2-13-2-12-1.5-4zM148 398l-1.5 5.5-1 10 1 12.5 1.5 6 1.5-5 1-9.5-1-14.5zM514 377l-1 1-1.5 5-.5 6.5 1.5 6 1 2 1.5 0 2-5.5.5-6.5-2-7.5zM749 375l-3 3-3.5 7.5-.5 3.5 2.5 6.5 3 4.5 1.5 1 2.5 0 2.5-2 2-3 3-8.5-1.5-4.5-4-7-1.5-1zM100 370l-2.5 2.5-1.5 3-3.5 11 0 2.5 2.5 8.5 2.5 5.5 1.5 2 3 .5 3-4 4-13.5-4-14-3-4zM178 369l-1.5.5-1 3-2 12.5 0 5 2.5 14 1.5 2 1-1 1.5-5.5 1.5-10.5-1.5-13.5zM299 369l-3 4.5-3.5 14.5 4 15.5 2.5 3 1 0 1.5-1.5 2-4.5 2.5-10.5 0-4.5-3-12-1.5-3-1.5-1.5zM791 347l-3.5 3-2.5 5-1.5 6 2 6 2.5 4.5 1.5 1.5 2.5.5 4-4 3-7 .5-3-4-9.5-2.5-2.5zM551 345l-1 1-1.5 4.5-1.5 8.5 1 8.5 2.5 7.5 1 0 1.5-2.5 2.5-12-2-11-1.5-4zM208 342l-1 2-1 5.5-1 13.5 2.5 15 1 .5 1-2 1-5.5 1-13.5-2.5-15zM333 342l-3.5 6.5-3 12.5 3.5 13.5 1.5 3 2 2 1.5 0 3-4 4-15-2-9-2.5-7-2-2.5zM125 341l-1.5 3.5-2 14 1 13 1.5 7 1 1.5 1-1 1-3.5 1.5-11 0-8.5-2-12.5zM834 321l-2 1.5-2 3-3 8.5 2 6 2.5 4.5 2.5 2 2 0 3.5-3.5 2.5-5.5 1-5-4.5-9.5-2.5-2zM586 316l-2.5 4.5-2.5 13.5 3 13 1 2 2 1 3-6 2-9.5 0-3-2.5-11.5-2-4zM237 315l-2 6.5-1.5 12.5 2 14 1 3.5 1 .5 2-5.5 1.5-10.5 0-5-2-13-1-2.5zM149 315l-1.5 4.5-1.5 15 1.5 13 1 4 1 .5 1.5-7 1-13.5-1.5-12.5-1-4zM363 314l-2.5 4-1.5 4.5-2 9 0 3 3.5 14 2.5 3.5 1.5 0 2-2.5 1.5-4 2.5-11 0-3.5-3-12.5-1.5-3-1.5-1.5zM88 309l0 38 3-11 0-7zM621 289l-1.5 0-2.5 4-3 12 1.5 10 2 6 2.5 3 2-1.5 1.5-3 3-11.5 0-3.5-3.5-13zM112 288l-1 2.5-1.5 11.5.5 13 2 9 1.5-4 1.5-14-1.5-14zM451 287l-1.5.5-1 2.5-3 15-.5 6.5-2 4.5-3 3-2 .5-1.5-1.5-3-5.5-1.5 0-2 3-2 6.5-2.5 16-2 3-3.5-1-2 2.5-4.5 18 0 2.5-1.5 4-2 2-1.5-.5-1 .5-1 1.5-2 7-2 12-1.5 4-3 3-3-2.5-1.5 0-1.5 2-2.5 8-3 15-2.5 4.5-3.5 4-2.5.5-2.5-4.5-2-2-2.5 1-2.5 5.5-3 13.5 14.5 0 .5-4.5 2-4 5-6 1.5 0 1.5 1.5 2.5 5.5 1 .5 2-2 2.5-8 3-18 3-3.5 2.5 1.5 1 0 1-1.5 5-20.5 2.5-3.5 3 .5 2-2 2.5-8.5 1.5-10 1.5-4.5 2-2 2 1.5 2.5 0 2-3.5 4-17 .5-6 3-7.5 2-2 1 0 1.5 1.5 2 6 1 .5 1-1 2.5-10.5 1-11-2-11zM267 287l-2 4-2 13 1.5 14.5 2 6 1-.5 1-2.5 2-12-.5-11.5-1.5-8zM173 287l-1.5 3-2 14 1 12.5 2 8 1-.5 1-3.5 1.5-11-.5-12-1-6.5zM475 263l-2.5 5-1.5 8.5 0 5.5 1.5 8.5 2.5 5 1.5-2.5 2.5-13.5-2.5-14zM653 261l-2 1.5-2 4.5-2.5 10.5 2 11.5 3.5 7 1.5 0 2-2.5 3.5-13 0-4-2-8.5-2-5zM294 260l-1.5 3-2.5 16 2 13 1 3.5 1.5 2 1.5-2.5 1.5-7 1-11.5-3-15.5zM197 260l-2 8-1 12.5 2 14.5 1.5 2.5 2-8 1-12.5-2-14.5zM131 260l-1.5 4-1.5 13 1 13.5 1.5 6.5 1-.5 2-14-.5-13zM502 238l-2 6-1 9.5 1.5 9 1 3 1.5.5 1.5-4 1.5-11-1.5-9-1.5-4zM96 237l-1.5 2.5-2 11.5 1.5 11.5 2 4.5 2-4.5 1.5-10-1.5-11-1-3.5zM686 235l-1 0-2 2.5-3.5 14.5 3 13.5 1.5 3 1.5 1 3-4.5 2.5-10.5 0-5-2-9-1.5-4zM220 233l-1 1.5-1.5 9-.5 11 2 14 1.5 1.5 2-10 .5-12.5-1.5-11-1-3.5zM150 233l-2 9-.5 14 2 13.5 1 .5 2-11 .5-9.5-2-15.5zM322 233l-2 3-2.5 13 0 6 2.5 13 1.5 2.5 1.5-.5 1-2.5 2.5-13 0-5-1.5-9.5-1.5-5zM531 210l-2 5.5-1.5 9.5 2 11.5 1 2.5 1.5.5 2-6.5 1-10-2.5-12zM717 207l-3 6-2 9.5 0 4 2.5 11 1 2.5 1.5 1.5 1 0 2.5-5 2.5-12.5-3-13.5-1-2zM118 207l-2 17.5.5.5.5 11.5 1.5 5.5 1.5-9 .5-11.5-1.5-13.5zM347 206l-2.5 6.5-2 13 2.5 13.5 1.5 3.5 1.5 1 2-3 1-3.5 2-13-2.5-13.5-2-4.5zM244 206l-1.5 3-1.5 10.5 0 10.5 1 8 1.5 5.5 1-.5 2.5-16-1-13zM170 206l-1.5 4-1.5 14 1 12 1.5 7.5 1.5-3 1.5-12-.5-12.5zM88 185l0 23.5 2.5-9.5-.5-7zM561 181l-1 1.5-1.5 6-1 11.5 2 11.5 1 2.5 1 .5 2-6 1.5-11.5-2-12.5-1-3zM751 180l-1 0-2 3-3 12.5 0 3.5 2.5 11 1 2.5 2 2 2.5-3 3-12 0-4.5-2.5-11zM267 179l-1.5 5-1.5 14.5 1.5 13 1 4 1 .5 2-8 1-11.5-1.5-12.5-1-4zM190 179l-1.5 4.5-1 8.5 0 11.5 1 8.5 1.5 4.5 1-2.5 1.5-11.5-.5-14.5zM134 179l-1.5 10-.5 10.5 1.5 15 1 2 1.5-8.5.5-15-.5-.5-1-12.5zM372 178l-2 3.5-1.5 5.5-1.5 12 3 14 1 2 2 1 2-3.5 1-3.5 2-13.5-.5-.5 0-9.5-3.5-6.5zM104 161l-2 4.5-.5 7 1 4.5 1 2 1 .5 2-5 .5-6.5-1-4.5-1-2zM784 153l-1.5 2-1.5 4.5-2 11.5 3.5 14 1.5 2 1.5 0 2.5-5.5 2.5-11.5-3.5-14.5-1.5-2.5zM588 153l-1.5 4-2 13.5 2.5 15.5 1 2 1 0 2-7 1-7 0-7-2-11.5-1-2.5zM447 152l-2 5.5-3 21.5-2.5 3-2 0-2-2-1 0-1.5 2-4.5 16-.5 10-2.5 11.5-12.5 32.5-5 10-2.5 2.5-1.5 0-1 1-4.5 16-2.5 4.5-4 3.5-3.5-2-2 .5-2.5 5-3 11.5 0 4.5 3 11.5 1.5 3.5 1.5 1.5 1 0 2-2.5 4-13.5 1-9 2-5 2-2.5 1-.5 3 .5 1-1 1.5-5.5 3.5-7 2.5-8.5 8.5-19.5 9.5-30 3-3.5 2.5-1.5 1.5-3 3.5-15 1.5-10.5 2-2 3.5 4.5 1-2 2.5-14.5 0-7-2-11.5zM290 152l-2 8-1 11.5 1.5 12.5 1 4 1 1 1.5-5 1.5-14.5-1.5-12.5-1-4.5zM209 152l-2 10.5-.5 10.5 1.5 13 1.5 3 1.5-6.5 1-14.5-1.5-13zM150 152l-1 3-1 10 0 11.5 1 9.5 1 3 1-2.5 1-15.5.5-.5-.5-.5-.5-12zM122 127l-1 3.5-.5 10.5-.5.5.5 10.5 1.5 8 1-3 .5-10 .5-.5-.5-12.5zM818 126l-3 6-2 9.5 0 3 2.5 11 1 2.5 1.5 1.5 1 0 2.5-4.5 2.5-13-3.5-14-1-1.5zM616 125l-2.5 9-1 11.5 2.5 14 1 2 1 0 1.5-3.5 1-5 1-12.5-2-12-1.5-3.5zM463 125l-1 2.5-1 9.5 0 13 1 9.5 1 2.5 2-16-.5-11.5zM313 124l-1.5 4-1.5 11.5 1 15 2 7 1.5-3.5 1.5-11-.5-13-1-6.5zM229 124l-1.5 4.5-1 8.5.5 16.5 1 6 1 2 1.5-5 1-9-.5-14.5zM167 124l-2 15.5.5 13 1.5 9 1.5-6 .5-12 .5-.5-1-13zM95 108l-1.5 6 .5 7.5 1 2.5 1.5-5.5 0-5zM483 99l-1 4-.5 11.5-.5.5 1 13 1 4.5 1-3.5.5-10.5.5-.5-.5-11zM136 99l-1.5 10.5 0 13.5 1.5 10 1-2.5.5-10 .5-.5-.5-14zM644 97l-2 4-2 12 1 12.5 2.5 8.5 1 0 1.5-3.5 2-11.5 0-7-1.5-9.5-1-3.5zM334 97l-1 2-1 5.5-1 13 1.5 12.5 1 3.5 1 .5 1.5-5.5 1-8 0-10-1.5-10.5zM248 97l-1.5 6-1 15 2 15.5 1 .5 1.5-7.5.5-10.5.5-.5-1.5-14.5-1-4zM184 97l-1.5 9.5-.5 11 1.5 15.5 1 1 1.5-12 0-13-1-9.5zM105 85l-.5 6.5 1 1.5.5-6zM506 71l-1 4-.5 11-.5.5.5 10.5 1.5 8.5 1-3 .5-10 .5-.5-.5-13zM672 70l-1 1-2 8-1 12 2 12 1.5 3.5 1 .5 2-5 2-14.5-2.5-14.5-1-2.5zM356 70l-1 2-1 5.5-1 13 2.5 16 1 .5 1.5-5.5 1-8 0-10-1.5-10.5zM267 70l-1.5 7-1 12.5 1.5 13.5 1 4 .5 0 2-10 .5-12-2-14.5zM201 70l-1 3-1 9.5 0 12 1 9.5 1 3 1-3.5.5-10 .5-.5-.5-15.5zM150 70l-2 14 .5 16 1.5 7.5 1-3 1-9.5 0-12-1-10zM694 62l1.5 12.5 2 5.5 1 0 2.5-8 1-10zM531 62l-4 0 0 5.5 1.5 11 1-1zM438 62l-5.5 0-.5.5-6.5 25.5-9.5 28-4.5 9.5-2.5 2.5-1.5 3-3.5 12.5-3.5 7-3.5 4-2 0-3-2-2 2.5-6 24 5 4 1 3.5 1.5 2 1 0 1.5-2.5 6-22.5 2.5-4.5 3.5-3.5 1.5 0 1.5-1.5 4-10.5 3-12.5 5-13 7-21.5zM379 62l-5 0 .5 10 1 5.5 1 1.5 1.5-6zM290 62l-5 0 1.5 14 1 3 1.5-5.5zM219 62l-4 0 1 13.5 1 3.5 1-4.5.5-12zM167 62l-4 0 1 13.5 1 3.5 1-4zM128 62l-2.5 0 1 9.5z"/>
<path fill-rule="evenodd" fill="#ffdf00" d="M809 430l-2.5 5.5-1 6.5 8.5 0-2-8.5-1.5-3zM223 427l-1.5 4.5-1 10.5 5.5 0-1-9.5zM446 424l-1.5 1.5-1 2.5-2.5 13.5 11 0-3-14-1.5-3zM118 424l-1.5 3-1.5 15 6 0-1-10zM476 405l-2 5.5-.5 6.5 1.5 6.5 1.5 2 1.5-3 1.5-7.5-1.5-7.5-1-2zM709 404l-3 1.5-4.5 8.5 3 7.5 3 3 2.5 0 2-1.5 4-7.5-.5-3.5-2.5-5-2.5-2.5zM263 399l-1 0-1.5 2.5-2 11 1 10.5 2.5 7 1-.5 1-2.5 2-10.5-1-10.5zM148 399l-2 11 0 9.5 1 8.5 1 2.5 1-2 1.5-13.5-.5-.5-.5-10zM514 379l-1 1-1.5 5.5 0 4 2 6 1 .5 1.5-2.5 1-4 0-4-1.5-5.5zM749 376l-3.5 3.5-2.5 5.5-.5 3.5 4 8.5 2.5 2 2 0 3-3 2.5-5 1-4.5-4-8.5-2.5-2zM100 371l-1.5 1-2.5 4.5-3 10 0 3 2 7 3 6.5 3 1.5 2-2 1.5-3 3-10 0-3-3-10.5-1.5-3zM299 370l-2.5 3.5-3.5 14.5 3.5 14 1 2 1.5 1.5 1 0 2-2.5 2-6 1.5-7 0-4.5-3-12-1-2-1.5-1.5zM178 370l-1 1-1 3.5-2 13.5 1.5 11 2 6.5 1.5-1 2.5-13-.5-11-1.5-7.5zM792 349l-3 2-4 8.5 1 5.5 2.5 5 3 2.5 2-.5 1.5-1.5 4-9 0-1.5-3-7.5-2.5-3zM551 347l-1.5 1-2.5 10.5 1 10 2.5 6 2-3 2-10-1.5-10zM208 343l-2 8-.5 14 2 12 1 .5 2-8 .5-14.5-2-11.5zM334 342l-1.5 1-2 4-3.5 13 3.5 13.5 1.5 3 1.5 1.5 1.5 0 3-4.5 3.5-13.5-3.5-13.5-2-3.5zM125 342l-1.5 4-1.5 10 .5 13 1 6.5 1.5 3.5 1-1 1-4 1.5-12-1.5-15-1-4zM834 322l-2.5 2.5-3.5 7.5 0 2 3.5 8 2.5 2.5 2 0 4-5 2-5.5 0-2-4.5-9-1.5-1zM586 317l-2 3.5-1 3.5-1.5 10.5 2.5 11 1.5 3 1.5.5 2.5-5 2-9 0-4-2.5-11-1-2zM237 316l-2 7-1 13 2.5 14.5 1 .5 1-1.5 1.5-7.5.5-13-2-11.5zM363 315l-2 3-1.5 4.5-2 9 0 3 3.5 14 2 2.5 1.5 0 3-5.5 2.5-11 0-3-3.5-14-2-2.5zM149 315l-1 2.5-1.5 11.5.5 13 2 9 1.5-4.5 1-8.5 0-10-1-8.5zM434 314l-2 .5-2 4.5-4 21.5-2 2.5-4-1-1 1.5-2.5 8.5-3 15-3 4-1.5-.5-1 .5-1.5 3-3 15.5-2.5 6.5-2 2-1 0-2.5-2.5-1 0-1.5 1.5-2.5 7.5-3 15-3.5 6-4 4-2 0-1-1-1.5-4-1.5-1.5-2 .5-3.5 8.5-2 10 13.5 0 0-2.5 3-7 5.5-6 1.5 0 1 1 2.5 6 1 .5 1-.5 1.5-3 2-7.5 2.5-16 3-4.5 1.5 0 1.5 1 1.5-.5 6-22.5 1.5-2 1-.5 3 .5 1.5-2 2-7 2-12.5 1.5-3.5 1.5-1.5 1.5 0 2.5 2 1-.5 2.5-5.5 3-14 .5-6 2.5-8-4 1-2-2zM88 313l0 32 2.5-10-.5-8.5zM620 290l-3 6-2 9 0 3 3 11.5 2 3 1.5 0 3-6 2-8.5 0-3-3-12-2-3zM112 289l-1 3-1.5 13 1 11.5 1.5 6.5 1.5-4.5 1-9.5-.5-11.5-1-6.5zM451 288l-1.5.5-2 7-1.5 8.5 0 4.5-1.5 7.5 2.5 1.5 3 7.5 1-.5 1-2 2.5-13.5 0-7-1.5-8zM266 288l-2.5 10-.5 11.5 1.5 10 2 4 2-5.5 1.5-13.5-1.5-11-1-4zM173 288l-1.5 3-1.5 10.5.5 13 2 9 1-.5 2.5-16-1.5-14.5zM475 264l-1 1.5-2 9.5 0 7.5 1.5 8 1 2.5 1 .5 1-1 1-3.5 1.5-11.5-2.5-12.5zM652 263l-3 6.5-2 10.5 3.5 13.5 1.5 2 1.5 0 2-3 3-11.5 0-4-2.5-10-2.5-4zM294 261l-2 5.5-1.5 14 2 12.5 2 3.5 1.5-3 1.5-7.5.5-11-2.5-13zM197 261l-1 2.5-1.5 10.5 0 9 1.5 11 1.5 2.5 2-9 .5-13.5-1.5-10.5zM131 261l-1.5 4-1 9 .5 14.5 1 6 1 2 1-3 1.5-13.5-1-12.5zM503 239l-1.5 2.5-1.5 8 .5 8.5 1.5 6 1 1 1.5-3 1.5-8-1-10zM97 239l-1 .5-1 2.5-1.5 8.5 1 9.5 2 5 1-1 2-10.5-1-9.5zM685 236l-3 6-2 10.5 3 12.5 1 2 2 1 1.5-2 3-11.5 0-5-2.5-10.5-1-2zM221 234l-1 .5-1 3.5-1.5 13 1.5 14 1.5 4.5 1.5-4 1.5-12.5-1-12.5zM150 234l-1.5 6-1 13.5 2 15 1 .5 2-12 0-11-1.5-10.5zM322 234l-2 3.5-2.5 14 1.5 11 1.5 5.5 1.5 2 2-4 2.5-14-2-12.5-1-3.5zM532 211l-1.5 2-2 10.5 1 9 2 6 1-.5 1-2.5 1.5-8 0-5.5-1-6zM718 208l-2 2-3 12 1 10 1.5 5.5 2 3 2-1.5 1-2.5 2.5-11.5-2.5-13zM118 208l-1 2.5-1 9.5 0 9 1.5 11.5 1-1.5 1-8 0-13.5zM347 207l-2 5-2 11 0 3.5 3 14 1 2 1.5 0 2-5 2-11 0-3.5-2.5-13-1.5-3zM244 207l-1.5 3.5-1.5 11.5.5 10.5 2 10 1-.5 2-12.5 0-9.5-1-8zM170 207l-1 1.5-1.5 12 0 9 2 13 1.5-3 1.5-14-1-12zM88 188l0 18 2-8-.5-5zM561 182l-1 .5-1 2.5-1.5 9 .5 11 1.5 7 1 1.5 1.5-2.5 2-11.5-1-11zM750 181l-2.5 5-2 9 0 4 3 12 1.5 2 1 0 2-3 2.5-10.5 0-5-3-11.5-1.5-2zM435 181l-1.5 1-4.5 16-.5 10.5-3 14.5-8 18-5 13.5-5 9.5-1.5 1.5-2.5.5-1 1.5-3 12.5-3.5 7-3.5 3-2 0-2-1.5-1.5 0-2 3-3.5 13 0 5 3 11 2.5 4 2-1 2.5-6.5 2.5-10 0-4.5 1-4 2.5-5 2-2 3.5 0 1.5-2 1-4 3-6 3-10 7.5-17 9.5-31 3-4 3.5-2 1-2 3.5-14.5 1.5-15-3-.5zM267 180l-2 9-.5 12.5 1.5 11 1.5 3 2-9.5.5-12-1.5-11.5zM190 180l-1 2-1.5 12 .5 12.5 1 7 1 2 1-2.5 1.5-13-1-14.5zM372 179l-1.5 2.5-1.5 5-1.5 8.5 0 4.5 3 13.5 1.5 2 1 0 1.5-2.5 3-13.5 0-4.5-1-9.5-2.5-5zM134 179l-1 2.5-1 9.5 0 12.5 1 9 1 2.5 2-16-.5-10.5zM104 164l-1.5 3-.5 5 1 4 1.5 1.5 2-5.5 0-3-1-3.5zM784 154l-2.5 5.5-2 9 0 3 2.5 11 1.5 3 1.5.5 3-6 2-10-3.5-14.5-1.5-1.5zM589 154l-1 0-1 2.5-2 12 1 11.5 2 7 1.5-1 2.5-14.5-1.5-12.5zM447 153l-1 1.5-1 4.5-2.5 20 0 4 2 2 2 4.5 2-4 2-14-2.5-17zM290 153l-2 9-.5 12.5 1.5 11 1.5 2.5 2-9 .5-12.5-2-13zM209 153l-2 12 0 11 1.5 11 1 1 2-12 0-11-1.5-11zM150 152l-2 14.5.5 13 1.5 8.5 1-3.5 1-10 0-9.5-1-10zM122 128l-1.5 9.5 0 12 1.5 9.5 1-4 .5-11 .5-.5-1-12zM819 127l-1 .5-1.5 3-2.5 10.5 0 3.5 1.5 7.5 1.5 4.5 1.5 2 1.5-.5 1.5-3 2.5-11-2-11.5-1.5-4zM616 126l-2.5 10-.5 11 2 11 1 2.5 1 0 1.5-4 2-13.5-2.5-15-1-2zM463 126l-1 2.5-.5 10-.5.5 1 19.5 1 2.5 1.5-10.5 0-14zM313 125l-1.5 4.5-1.5 13 2 16 1 2 1.5-4 1.5-12-1-12.5-1-5.5zM229 125l-1 2-1.5 12.5.5 12 1 7 1 2 1.5-5.5 1-10-1-14.5zM167 125l-2 17 1 14 1 4.5 1-2.5 1-10-.5-16.5zM95 111l-1 3 0 4 1 3 1-2.5 0-5zM483 100l-1.5 10 0 11 1.5 10 1.5-8.5 0-13.5zM137 100l-1 1.5-1 9.5 0 9 1.5 11.5 1-3 .5-11 .5-.5zM645 98l-1.5 1-3 16.5 1.5 11 2 6.5 1 0 1-2 2.5-14.5-1-9.5zM335 98l-1 .5-2 12.5 0 9.5 1 8 1.5 5 1.5-3.5 1.5-11.5-.5-10.5zM248 98l-1.5 3-1 8.5 0 12 2 12 1.5-4.5 1-9.5-.5-13zM184 98l-1.5 10.5 0 14 1.5 11 1-3 .5-10 .5-.5-1-19.5zM105 88l0 2 .5-.5zM506 73l-1.5 9.5 0 13 1.5 9.5 1-3.5.5-11 .5-.5-1-13.5zM672 71l-1 1-1 3.5-2 13 2.5 15 1 2 1 .5 2-5.5 1.5-9.5 0-5-2-12-1-2.5zM267 71l-2 13 0 9 1 9 1 4 .5 0 1.5-6.5 1-12-2-16zM356 71l-2 8.5-.5 14 2 12.5 1 .5 2-10 .5-10.5-1.5-11.5zM201 71l-1 3.5-.5 10-.5.5.5 14 1.5 7.5 1-4 .5-11 .5-.5-.5-11zM150 71l-1 4-.5 11-.5.5.5 11.5 1.5 8.5 1-3 .5-10.5.5-.5-.5-13.5zM694 62l2.5 15 1 2 1 0 1.5-3.5 2-13.5zM527 62l1 13 1 2.5 1.5-9.5 0-6zM438 62l-4.5 0-6.5 25-10 29.5-4.5 9.5-4 5-3.5 12.5-2.5 5.5-2.5 4-2.5 2.5-2.5 0-2.5-2-2 3-5 21 3.5 3.5 3 6.5 1 0 2-4.5 4.5-18.5 4-7.5 2.5-2.5 2-.5 1.5-1.5 3.5-9 2-9.5 13-38zM374 62l1 11.5 1 4 .5 0 1.5-6 .5-9.5zM289 62l-4 0 .5 9 1.5 7 1.5-6zM219 62l-3 0 .5 12 1 4 1-5zM163 62l.5.5.5 11.5 1 4 1-4.5.5-11.5zM127 62l-2 0 1 7.5 1-4z"/>
<path fill-rule="evenodd" fill="#ffff00" d="M809 431l-2.5 6-.5 4.5 7.5 0-2-8-1-2zM224 428l-1 .5-2 13 5 0-.5-7.5zM445 425l-2 4.5-2.5 12 10.5 0-3-14-1.5-2.5zM118 425l-1.5 3.5-1.5 13.5 5.5 0-1-12zM708 406l-2.5 2-2 3.5-1 3.5 3 6 1.5 1.5 2.5.5 3-2.5 2.5-5 0-2-2.5-5-2.5-2.5zM477 406l-1.5 2-1 4 0 5 2 6 1.5-1.5 1.5-6-1-6.5zM262 400l-1.5 3-1 5-.5 9.5 1.5 8.5 1 2.5 1 .5 1.5-3 1-5 .5-9.5-1.5-8.5-1-2.5zM148 400l-2 12.5.5 10.5 1.5 6.5 1-2.5 1-8.5-.5-12zM514 381l-2 5 0 4 1.5 4 1 .5 2-4.5 0-4-1-3.5zM749 378l-3 3-3 7 3 7 2.5 2.5 2 .5 3.5-3.5 2.5-5.5 0-2-4-8-1.5-1zM100 372l-2 2.5-1.5 3.5-2.5 10 4.5 13 1.5 1.5 2 0 3.5-6.5 2-9.5-4-12.5-1-1.5zM299 371l-3 7-2 10.5 3.5 13.5 1.5 2.5 1.5 0 1.5-1.5 1-2.5 3-12.5-3.5-14.5-2-2.5zM178 371l-1.5 2.5-2 12.5.5 8 2.5 10.5 1 0 3-15.5-1-10-1-5zM791 351l-2.5 2.5-3 7.5 3.5 8 1.5 1.5 2.5 0 3.5-4.5 1.5-4 0-2.5-4-8zM550 348l-2 6.5-.5 8.5 2 8.5 1.5 1 2-5 1-9-2-9-1-1.5zM208 344l-1.5 5-1 14 2 13 1 .5 2-9 .5-10-2-13zM334 343l-1.5 1-3 7.5-1.5 6.5 0 4.5 3 11 2.5 3.5 1.5 0 2.5-3.5 3.5-13.5-2-9-2-5.5-1.5-2zM126 343l-1 .5-1 3.5-1.5 11.5 1 12.5 2 7 1.5-3 1.5-10.5 0-8.5zM835 324l-3.5 3.5-2.5 6 3.5 8 1.5 1.5 2 .5 3.5-3.5 2.5-6.5-3-7-2.5-2.5zM586 318l-1.5 2.5-1.5 5.5-1 9 2.5 10.5 1 2 1.5.5 1.5-2.5 2.5-10 0-5-2-9-1-2.5zM363 316l-1.5 2-2 6-1.5 7.5 0 3.5 3 12 1 2 2 1.5 1.5-1.5 2-5 2-9 0-4-3-12-2-3zM237 316l-2 5-1.5 12 1.5 12 1 4 1 1 1.5-4 1.5-11-1-12zM149 316l-1.5 5.5-1 10 1 13 1.5 5.5 1-2 1.5-12-.5-11-1-7zM88 316l0 26.5 2-8.5zM434 315l-2 .5-2 5-3.5 20.5-2.5 3.5-3-1.5-1.5 1-2 5.5-4 19-2.5 3.5-2.5 0-1.5 2.5-3.5 16.5-2.5 6-2 2-1 0-2.5-2.5-1 0-1.5 1.5-2.5 8.5-2 11.5-3.5 7-4.5 5-2.5.5-3-5.5-1-1-2 .5-2 4-3 13.5 12.5 0 .5-4 2.5-5.5 2-3 4.5-4 1 0 1.5 1.5 1.5 4.5 1.5 1.5 1-.5 3-9 2.5-16.5 2-4 2.5-2 1.5 1 2-.5 5-20 3-4.5 3.5.5 1.5-2.5 1.5-5 2-12.5 1.5-4.5 2.5-2.5 3.5 2.5 1.5-1.5 2-5 4-21 0-3.5-2 0-2-1.5zM620 291l-1 .5-2 4.5-2 8.5 0 3.5 2.5 10 1.5 3 2 .5 3-6.5 1.5-7 0-3.5-2.5-10-1.5-3zM112 291l-1 3-1 8.5 0 8 1 8.5 1.5 3 2-16.5-1-10-1-4.5zM266 289l-2 7.5-1 11 2 13 1.5 2 1-1.5 2-12 0-6.5-2-12zM173 289l-2 10-.5 9 1.5 11.5 1.5 3 1-2 1.5-10.5 0-8-1.5-10.5zM451 289l-2 4-3 21.5 2.5 4 2 6 1-.5 1.5-4 2-12.5-2-14zM475 265l-2 6-1 9 2 10.5 1.5 2 2-5 1-6 0-5.5-1.5-8-1-2.5zM652 264l-3 7-1.5 9.5 3 11.5 2 2.5 1 0 1.5-2 3-11 0-4.5-2.5-10-2-3zM295 262l-1 0-1 2-2 11 .5 11 1.5 7.5 1 2 1-.5 1-2.5 2-12.5-1-10zM197 262l-1.5 5.5-1 13.5 1.5 11.5 1.5 3 2-9.5.5-9.5-1.5-11.5zM131 262l-1.5 4.5-1 9.5 1 15 1.5 4.5 2-12 0-9.5zM503 240l-1.5 3-1.5 8.5 1.5 9 1.5 2.5 1.5-3 1-5.5-.5-9zM96 240l-1.5 3.5-1 6 .5 7.5 1.5 5.5 1 0 2-9-.5-7.5-1-4.5zM685 237l-2.5 5-2 11 3 12 1.5 2 1 0 2-3.5 2.5-11.5-2.5-11.5-1.5-3zM322 235l-2 5.5-1.5 13.5 2 11.5 2 3.5 2-4 2-14.5-2.5-13.5zM220 235l-1.5 5-1 8.5.5 12 2 8.5 1-2 1.5-10.5-.5-13.5-1-6zM150 235l-2 11.5 0 11 2 11.5 1.5-4.5 1-9.5-.5-11.5-1-6.5zM424 229l-3.5 6-6.5 16.5-5.5 11.5-3 3.5-2 .5-1.5 2-2.5 10.5-3 7-4.5 4.5-1.5 0-2-1.5-2 0-1.5 2-4 15.5 3 12 2.5 4.5 2-1 1.5-3.5 2.5-9 .5-7 1.5-6 2-4 2.5-2.5 3.5 0 1-1 1.5-5 2.5-5 2.5-9 9.5-23 4.5-16zM531 212l-2 6.5-.5 8.5 2 9 1 .5 1.5-3 1.5-9.5-1.5-9-1-2.5zM718 210l-1 0-1.5 2-2.5 10 0 6 2 8.5 2 3.5 1.5-1 1-2 2.5-11-1-8-1.5-5.5zM118 209l-1 3-.5 10-.5.5 1 14.5 1 2.5 1.5-10.5 0-9zM244 208l-1 3.5-1.5 13.5 1.5 13 1 3.5.5 0 2-9 .5-10.5-1.5-11.5zM170 208l-1.5 4.5-1 10 .5 10.5 1.5 8.5 1.5-3 1-9 0-9.5zM348 207l-1 .5-1.5 3.5-2 10.5.5 9 1.5 7 1.5 3.5 1.5 0 1-2 2.5-12-.5-9-1.5-7zM88 191l0 13 1.5-6zM561 183l-2 6-1 10 2 11.5 1.5 1.5 1-2 1.5-8.5 0-7.5-1.5-8.5zM751 182l-2 2.5-2.5 10.5 0 4.5 2 9 2 3.5 1 0 1.5-2 3-13-2.5-11.5-1.5-3zM435 182l-1 .5-1 2-3.5 13 0 7-1.5 10 0 5 3.5-3.5 1.5 0 2-1.5 1.5-3.5 2.5-11 1-13zM267 181l-1.5 6-1 12 1.5 12.5 1.5 3 1.5-6 1-12.5-1.5-12zM190 181l-1.5 5-.5 10-.5.5 1 12.5 1.5 5.5 2-11 0-12-1-8zM372 180l-1.5 2.5-2.5 11.5 0 6.5 3 12.5 2 1 1.5-2.5 2-8.5.5-9.5-1-8-2-4.5zM134 180l-1 2.5-.5 10-.5.5.5 14.5 1.5 6.5 1.5-10 0-13.5zM104 166l-1 1.5-.5 3 1 3.5 1 .5 1.5-5.5-1-2.5zM784 155l-2 4-1 4-1 9 2 9 1 2.5 2 1.5 2.5-5 2-10.5-3-12.5-1.5-2zM589 155l-1 0-1 2.5-1.5 9 0 8 2.5 11.5 1-.5 1-2.5 1.5-9.5-.5-10zM447 154l-1.5 3.5-2 13 0 10.5 3 7.5 1.5-2 2-13 0-6-1.5-9.5zM209 154l-1.5 7.5-.5 12.5 1.5 12 1 1 1.5-7.5.5-12.5-1.5-12zM290 153l-1.5 6.5-1 12 1.5 12 1.5 3 1.5-6 1-12-1.5-12.5zM150 153l-1 4-.5 11.5-.5.5 1 14 1 4 1-3.5.5-10.5.5-.5-.5-11.5zM122 129l-1.5 10 0 7.5 1.5 10.5 1.5-9 0-10zM818 129l-1.5 2-2.5 10 0 4.5 2 9 1.5 3 1.5.5 1.5-2.5 1.5-5.5 1-8.5-2.5-10-1-2zM617 127l-1 0-1 2.5-2 12.5 1.5 13 2 5 1.5-2.5 2-12-.5-8.5zM463 127l-1 3-.5 10.5-.5.5.5 11.5 1.5 7.5 1.5-11.5 0-10.5zM313 126l-1 2-1.5 11 .5 12 1 6.5 1 2 1-1.5 1.5-10.5-.5-14-1-6zM229 126l-1.5 5.5-.5 10-.5.5 1 12 1.5 5.5 1-2.5 1-8.5 0-11.5zM167 126l-1.5 11 0 11.5 1.5 11 1-2.5.5-10.5.5-.5-.5-13zM95 113l-.5 1 .5 4 .5-1zM483 101l-1.5 11 0 7 1.5 11 1.5-9.5 0-9.5zM136 101l-1.5 12.5.5 11 1 6 1.5-8.5 0-13zM645 99l-1.5 1-2.5 13.5 1 11.5 2 7 1 0 1-2 2-11.5-.5-9.5zM335 99l-1 .5-2 13.5 1 14 1.5 5.5 1.5-3.5 1.5-13-1-10.5zM248 99l-1 1-1.5 11.5.5 13.5 1.5 7.5 1.5-5 .5-10 .5-.5-.5-9zM184 99l-1.5 11.5 0 10 1.5 12 1-3 .5-11.5.5-.5-.5-11zM506 74l-1.5 10.5 0 9 1.5 10.5 1.5-9 0-12zM671 72l-2 7.5-1 10.5 2 12 1 2.5 1 .5 1.5-3.5 2-13-2-13-1-3zM356 72l-1.5 5.5-1 14 2 13.5 1 .5 1.5-6.5 1-10.5-1.5-13zM268 72l-1 2-1.5 12.5.5 10.5 1.5 8.5 1.5-3 1-9 0-9.5zM201 72l-1 3.5-.5 11.5-.5.5.5 10 1.5 8 1.5-9.5 0-14zM150 72l-1.5 9.5 0 14.5 1.5 10 1-4 .5-11 .5-.5-1-15zM702 62l-7 0 1.5 11.5 2 5 1-1 1-3.5zM527 62l1 11.5 1 3 1-5 .5-9.5zM437 62l-3 0-6.5 26.5-8.5 24.5-6 13.5-3.5 4-1.5 3-3.5 12.5-3 6-4 4.5-2.5 0-2-2-2 2-4 14.5-.5 6.5 2.5 2.5 3.5 6.5 2.5-5 .5-4 2.5-7 0-2.5 1.5-5 3.5-6.5 3-3 3-1.5 3-7 3-13 7-19.5zM374 62l1.5 13 1 1.5 1.5-6.5.5-8zM289 62l-4 0 1 11.5 1 3 1-2.5zM219 62l-3 0 .5 10.5 1 4 1-5zM167 62l-3 0 .5 10.5 1 4 1-4.5zM127 62l-1.5 0 .5 5.5z"/>
<path fill-rule="evenodd" fill="#dfff20" d="M809 433l-1 1.5-2 7.5 7 0-1.5-6.5-1-2zM223 429l-1.5 5-.5 7.5 4.5 0-1-9zM446 426l-1 .5-1.5 3-2.5 12.5 9.5 0-2-11.5zM118 426l-1.5 3.5-1.5 12.5 5.5 0-1-10.5zM476 408l-2 7 1 4.5 1.5 2 1-1.5 1-6.5-1-4zM708 408l-3 2.5-2 5 2 4 2 2 2.5 0 1.5-1 3-5.5-3-5.5zM262 401l-1.5 3.5-1.5 11 1.5 9 1 3 1 .5 1.5-3.5 1.5-11-2-11zM148 401l-1 3.5-1 10 1 10 1 3.5 1-3 1-9-1-12.5zM514 383l-1.5 3 0 3.5 1 3 1 .5 1.5-3.5 0-3.5-1-2.5zM751 379l-2 .5-2 2-2.5 5.5 2 5.5 3.5 3.5 3-1.5 3.5-7-2-5zM101 373l-2 1.5-2 4-2 7 0 3.5 3.5 10.5 2 2 1 0 1.5-1.5 1.5-3 2.5-9-2-9-2-4.5zM178 372l-1 1-2 11 0 8 2.5 11.5 1 0 1-3 1.5-9.5 0-6.5-1-7zM300 371l-2.5 3-3 12.5 2 11 2 5 1.5 1 2.5-3.5 3-12-2-10.5-2.5-6zM791 352l-2 2-2 4-.5 3 2.5 5.5 2 2 2 0 2.5-3 2-6-2.5-5.5-2-2zM551 349l-1.5 1.5-2 9 1 7 1.5 4.5 1 0 1-1.5 1.5-6.5 0-5.5-1-5zM208 345l-1.5 3-1.5 12 1 10.5 1.5 5.5 1.5-2.5 1.5-12-1-10.5zM335 344l-2 .5-1.5 2.5-3.5 13 2.5 11 1.5 3.5 2 2 3-3 3.5-13-2-9.5zM126 344l-1 .5-2 11.5 0 9 1.5 10 1 2 1.5-3 1.5-11.5-.5-9zM835 325l-3 3-2 5.5 3 6.5 3 1.5 3-3 2-4.5 0-1.5-2.5-5.5-1.5-1.5zM88 320l0 20.5 1.5-7zM587 319l-2 1.5-2.5 10 0 5 2 8.5 2 3 2-2.5 2.5-11.5-2-10zM237 317l-1.5 3-1.5 10 .5 10 2 9 1-.5 2.5-15.5-1.5-11.5zM149 317l-2 10.5 0 11 2 10.5 1.5-5.5 1-10-1-11zM364 317l-3 5.5-2 9 0 4.5 2 9 1.5 3.5 2 1.5 1.5-1.5 2-5.5 1.5-7 0-5-2.5-10.5-1-2zM434 316l-2 .5-1.5 4-2.5 12 0 4.5-1.5 5.5-2.5 3-3.5-1-2 3-5 22.5-2 3-3 .5-1.5 2.5-3 15-3 7-2 2-1.5 0-2-2.5-2 1-2 5.5-3 15-3.5 7-3.5 4-3.5 1.5-1.5-1.5-1.5-4-1-1-2 .5-2 4.5-2.5 12 11.5 0 .5-4 3-6.5 2.5-3.5 4.5-3.5 2 1.5 1.5 4.5 1.5 1.5 1.5-1.5 2-6.5 1.5-8 0-4.5 1.5-5.5 3.5-5.5 1.5-.5 2 1 1-1 5.5-21 2.5-3 3 .5 1.5-1.5 3-11.5 1-8 2-4.5 1.5-1.5 1 0 3 2.5 1.5-1.5 1.5-4 4-22-1-1.5-2.5-1.5zM620 292l-1.5 1.5-1.5 4-1.5 6.5 0 4.5 2.5 9.5 1.5 2.5 1.5 0 1.5-2.5 2-7 .5-7-2.5-9.5zM112 292l-1 3.5-1 9.5.5 8.5 1.5 7.5 1-2 1-8 0-9-1-8zM266 290l-2 8-.5 12 2 11 1 1 1.5-4 1.5-13.5-1.5-10.5-1-3.5zM173 290l-2 11 0 10 1.5 9.5 1 1.5 1.5-5.5 1-12.5-2-13.5zM451 290l-1.5 2.5-2.5 13 0 9.5 2 3.5 1.5 5 1-.5 1-2.5 2-11.5-.5-9-1.5-7zM475 267l-2 6.5-.5 8.5 2 9 1 .5 1.5-3 1.5-10-1.5-8.5-1-2.5zM652 265l-1.5 1.5-3 11 0 3.5 2 8.5 1.5 3 2 1 3-7 1.5-7.5-2.5-10.5-1.5-3zM197 263l-1.5 6-1 9.5 1.5 13 1.5 3 1-3 1.5-13-1.5-12.5zM130 263l-2 16 .5.5.5 10 1.5 5 1.5-7.5.5-11-1.5-12zM294 263l-1 1-1 3.5-1.5 10 1.5 13.5 1.5 4 1.5-1.5 2-11-.5-10.5-1-5.5zM96 242l-1 1.5-1 5 0 6 2 6.5 1-1.5 1-5 0-6-1-5zM503 242l-1.5 3-1 5.5.5 6 1.5 5.5 1.5-1.5 1.5-7.5-1-7.5zM420 241l-10 22-3.5 4.5-2.5.5-1.5 2-2 9-4 9.5-3 3-2 .5-4-2-2 2.5-3.5 13 0 2.5 3 11 2 3.5 2-1 3.5-11 1-10 2.5-7.5 3.5-3.5 3.5 0 2-3.5.5-2.5 2.5-5 0-2 2.5-8 6.5-15 3-10zM685 238l-2.5 5.5-1.5 10 2 9 1.5 3 1.5.5 2-4 2-11-2.5-10.5-1-2zM323 236l-1 0-1 2-2.5 14 1.5 10 2 6 1.5-1 2.5-12-.5-9.5zM220 236l-1 2.5-1.5 12 1 12 1.5 5.5 1.5-4.5 1-9-1-14zM150 236l-2 12.5.5 12 1.5 7.5 1-2 1.5-13-1-12zM531 214l-1 2-1.5 9 1.5 8.5 1.5 2.5 2-6 .5-7-1.5-7.5zM718 211l-2 1-1 2.5-2 9.5 2 11 1.5 3.5 1 .5 1.5-2 2.5-10-1-9.5zM118 211l-1 7.5 0 13 1.5 7.5 1-6 .5-10.5-1-10zM244 209l-2 12 0 7.5 1 8.5 1 3.5.5 0 1.5-5.5 1-10.5-1.5-13zM169 209l-2 16 1.5 14 1 1.5 1.5-7.5.5-11-1.5-12zM348 208l-1.5 2.5-2.5 14.5 2.5 13 1 2 1 .5 2.5-6.5 1.5-10-2.5-13.5-1-2zM88 193l0 8 1-4zM561 184l-2 7-.5 10 1.5 8.5 1.5 1.5 1.5-5 1-10-1.5-9.5zM751 183l-2.5 4.5-2 9.5 2 10 2 4 1 0 1.5-2.5 2.5-10.5-2-11-1-2.5zM435 183l-1 .5-1 2-3 11.5-.5 17.5 1 .5 3.5-.5 1-1 2-5.5 2-10 0-10.5zM267 182l-2 11 0 9.5 1.5 10 1 1 2-11 0-9.5-1-8zM373 181l-1 0-1.5 2.5-2.5 12.5 2 13 1 3 1.5 1.5 2.5-5 2-11-1.5-12zM190 181l-1 2.5-1 8.5 0 10.5 1 8 1 2.5 1-3 1-9 0-8zM134 181l-1 3-.5 10.5-.5.5 1 15.5 1 2.5 1.5-11 0-10zM104 168l-.5 3 1 1 1-2zM784 156l-2 3-2 8.5 0 5 2 8.5 1 2 1.5 1 2.5-5.5 1.5-10-2-9-1-2.5zM588 156l-2 8.5-.5 7.5 1.5 10 1.5 3 1-1.5 1-4.5 1-9.5-2-12zM446 155l-2.5 13.5 0 12 1.5 5 1.5 2 1.5-4.5 1.5-14-2.5-13.5zM290 154l-2 11 0 10 1 7.5 1 3.5.5 0 2-11 0-10-1.5-10zM209 154l-1 4.5-1 13 1.5 13 1 1.5 1-4.5 1-13-1.5-13zM150 154l-1.5 10 0 12 1.5 10 1-3.5.5-11.5.5-.5-1-13zM122 130l-1.5 11 1.5 15 1.5-10.5-.5-11.5zM819 130l-1 0-1.5 2.5-2.5 10.5 2 10 1.5 3.5 1 .5 2-3 2-8.5 0-4.5-1-5zM463 128l-1.5 8 0 15 1.5 8 1.5-12.5 0-6.5zM616 127l-2 5.5-1 7 .5 10.5 1.5 7 1 1.5 1.5-3 1.5-8.5-.5-12-1-5zM313 127l-1.5 5-1 12.5 2 13.5 1 .5 1.5-8 .5-10.5-1-8.5zM229 127l-1 2.5-1 8 0 10.5 1 8 1 2.5 1-3 1-9-.5-13zM167 127l-1.5 12 0 8 1.5 11.5 1-3 .5-11.5.5-.5-1-13.5zM420 112l-7 15.5-5 6-3.5 12.5-3.5 7.5-4 4-2 0-2.5-2-2 2-3.5 13-.5 6 3 4 2 4.5 1 0 2-5 0-2 5-18 3-5 3.5-3 2-.5 2-3.5 2-6 2.5-12.5zM483 102l-1.5 12.5 1.5 14.5 1.5-10.5-.5-12zM136 102l-1.5 13.5 1.5 13.5 1.5-9 0-9zM645 100l-1 .5-1 2.5-1.5 8.5.5 11.5 1 5.5 1.5 3 2-5 1.5-10-1.5-12zM184 100l-1 1.5-.5 10.5-.5.5.5 13 1 6 1.5-8.5 0-15zM334 100l-1.5 6-1 10.5 1.5 12.5 1.5 3 2-12 0-7.5-1-8.5zM248 100l-2 14 .5 10 1.5 8 1-2 1-8.5 0-11-1-8zM506 75l-1.5 11.5.5 11.5 1 5 1.5-10 0-8zM672 73l-1.5 3.5-1 5-.5 11 1.5 9 1 2.5 1 .5 2-6.5 1-11-1.5-9.5-1-3.5zM356 73l-1.5 6-1 9.5 1 10.5 1.5 6 1-1.5 1.5-11-.5-12-1-6zM268 73l-1.5 5-.5 10.5-.5.5 1.5 14 1 2 2-13.5-.5-11zM201 73l-1.5 9 0 13.5 1.5 9.5 1.5-10.5 0-11zM150 73l-1.5 10.5 0 11 1.5 10.5 1.5-9.5 0-13.5zM702 62l-7 0 1.5 10.5 2 5 1.5-2.5zM531 62l-3 0 .5 10.5 1 3zM436 62l-1 1-.5 3zM379 62l-4 0 1.5 13.5 1-1zM289 62l-3.5 0 0 5.5 1.5 8 1-3zM219 62l-3 0 .5 9 1 4.5zM167 62l-3 0 .5 9.5 1 4zM127 62l-1 0 .5 3.5z"/>
<path fill-rule="evenodd" fill="#bfff40" d="M809 434l-1 1.5-1.5 6 6 0-1.5-6-1-1.5zM223 430l-1 3-1 8.5 4.5 0-1.5-10zM446 427l-2.5 5.5-1.5 9.5 9 0-2-10-1.5-4zM118 427l-1.5 7.5-.5 7.5 4.5 0-.5-9-1-5zM372 426l-2.5 5.5-2 10.5 10.5 0 .5-3.5 3-7.5-4.5 1-3-5.5zM708 410l-2.5 2.5-1 3 2.5 4 3 .5 2-2 1.5-3-1.5-3-2-2zM476 410l-1.5 6 1 3.5 1 .5 1.5-3.5 0-3-1-3zM262 402l-2 6.5-.5 9 1.5 7.5 1.5 2 1-2 1.5-7.5 0-6-1.5-7.5zM148 402l-1.5 8 0 9 1.5 8 1.5-7 0-11zM514 385l-1 1.5 0 3 1.5 1.5 1-1.5 0-3zM750 381l-3 3-1.5 3 0 1.5 2.5 5 1.5 1 2 0 2-2 2-5-2.5-5zM100 375l-3 4.5-2 7 0 2.5 3 9.5 1 1.5 2 .5 2.5-3.5 2.5-9.5-2.5-9-1-2-1.5-1.5zM177 373l-2 8.5-.5 8.5 1.5 10 1.5 3 1.5-3.5 1.5-13-2-12zM300 372l-2 2-3 11.5 0 3.5 3 11.5 1.5 2 1.5-.5 1.5-3 2.5-10.5-2-11.5-2-4.5zM791 354l-2.5 3-1.5 3.5 2.5 5.5 1.5 1.5 1.5 0 2.5-2.5 1.5-3 0-2.5-2-4-2-1.5zM551 351l-2 5-.5 6.5 1.5 6.5 1.5 1.5 2-6 .5-4.5-2-8.5zM208 346l-2 11 0 7.5 1 7.5 1 3.5.5 0 2-11 0-7.5-1.5-10zM333 345l-3 6-2 10 3.5 12.5 1 1.5 1.5.5 3-4.5 2.5-11.5-3-11.5-2-3zM125 345l-1.5 5-1 12.5 2 13 1 .5 2-10.5 0-10-1.5-9.5zM836 327l-2.5 1-2.5 4.5 0 2 1.5 3.5 3 2.5 3-2.5 2-4.5-2.5-5zM88 324l0 15 1-5zM587 320l-2.5 5-1.5 7.5 1.5 8.5 2.5 5 2-3 2-9-1.5-9.5-1-3zM237 318l-1.5 6-1 10 1.5 11 1.5 3 1-2 1-6 .5-10-2-11.5zM149 318l-1 3-1 8.5.5 12 1.5 6.5 1-2.5 1-8-.5-14zM364 318l-3 6-2 9.5 3 13 2.5 2.5 1.5-1.5 1-2.5 2.5-11.5-3-13zM434 317l-1.5 0-1.5 3-4 22.5-3 4-1.5 0-1.5-1-1.5 1-6 25-2.5 3-2 0-1.5 1.5-5 20.5-1.5 2.5-2.5 2-1.5-.5-2-2-2 2-3.5 16.5-3 7 0 1.5 2.5-1.5 1.5 0 4 7 1.5-1.5 3-12.5.5-7.5 2-6 2.5-3.5 2-1 2.5.5 3.5-11 2-9.5 3.5-4.5 2.5 1 2-3 4-20 3-4 2 .5 2 2 2-2.5 3.5-15 .5-9-2.5-2zM620 293l-2 3-2.5 10.5 2 9 1 2.5 2 1.5 1.5-1.5 3-12-2.5-10-1-2zM112 293l-1.5 8.5 0 10 1.5 8.5 1-2.5 1-9-.5-9.5zM266 291l-2 8.5-.5 8.5 1.5 10 1.5 3 1-2 1-5.5.5-11.5-2-10.5zM173 291l-1.5 7-.5 11 1.5 10.5 1 1.5 2-10 0-10-1.5-9.5zM451 291l-1 1-1 3.5-2 15 .5 4 3 8 1-.5 1-2.5 2-12-1.5-11.5zM395 292l-4.5.5-3-1.5-1.5 1.5-3.5 12.5 0 3.5 3 10.5 1.5 2.5 1 0 1.5-2.5 2.5-8 1-5.5 0-5zM475 268l-1.5 4.5-1 7.5 1.5 8 1.5 2.5 1-1.5 1-4.5.5-7.5-1.5-7.5zM653 266l-1 0-2 3-2 8 0 4.5 1.5 6.5 2.5 4.5 2.5-2.5 2.5-10-1.5-8.5zM410 264l-3.5 4-3.5 1-2 5-1.5 7.5-2 5 0 2 5-.5 1-1 3.5-9zM197 264l-1.5 6.5-.5 11.5 1.5 10.5 1 1 1.5-6.5.5-12-1-8zM130 264l-1.5 10 0 9.5 1 8 1 2 1-4 1-11.5-1.5-13zM294 264l-1.5 2.5-1.5 9 0 7.5 1.5 9 1 2 1.5-1.5 2-12-1-10zM97 244l-1.5 1.5-1 5.5 1 6.5 1 1.5 1-1.5 1-5.5zM502 243l-1.5 5.5 0 6 1 4.5 1 1 1-1.5 1-4.5 0-5-1-4.5zM685 239l-2 2.5-2 8.5.5 7 1.5 5.5 1.5 2.5 2-1.5 2.5-10-1.5-10zM323 237l-1 0-1 2-2 11 1 10.5 2 6.5 1.5-1 2.5-13-1-9zM220 237l-1 2.5-1 7.5 0 10 1 7.5 1 2.5 1-2 1.5-12.5-1-10.5zM150 237l-2 13.5 1 13 1 3.5 1-2 1-8 0-10-1-8zM532 215l-1.5 2.5-1 5.5.5 6.5 1.5 5 1-.5 1.5-6 0-6.5zM717 212l-2.5 6-1 8.5 2.5 10 2 1 2-5 1-5 0-5.5-2-8zM118 212l-1.5 8 0 9.5 1 8 1-1.5.5-10.5.5-.5zM244 210l-1.5 8-.5 8.5 1 9 1.5 4.5 2-11 0-8-1-8zM169 210l-1.5 10.5 0 9 1 8 1 2.5 1-4 1-12-1.5-13zM348 209l-2 4.5-1.5 8.5 0 4.5 1.5 8.5 1.5 4 1 .5 2-4.5 1.5-8.5 0-4.5-1.5-8.5-1.5-4zM88 195.5l.5 0 0 .5-.5 0zM561 185l-1.5 4-1 9.5 2 10.5 1 .5 2-8.5 0-7.5-1-6zM750 185l-2 4.5-1.5 9.5 2.5 10 1 1.5 1 0 2.5-6 1-8.5-2-8.5-1-2zM435 184l-1.5 1.5-3 11-.5 13 .5 2.5 2 1.5 1.5 0 1.5-2 3-12.5 0-10.5zM267 182l-1.5 7.5-.5 10.5 1.5 11 1 1 1.5-7 .5-11-1.5-10.5zM190 182l-1 3-1 9 .5 12 1.5 6 1-3 1-10-.5-9.5zM134 182l-1 3-.5 11.5-.5.5.5.5.5 11.5 1 3 1.5-12-.5-12.5zM372 182l-2.5 5-1.5 8.5 1 10.5 1 4 2 3 2-3.5 2-10-1-11.5-1-3.5zM785 157l-2 2-2.5 10.5 1.5 8.5 2.5 5 1-.5 1-2 2-8.5-.5-7-1.5-5.5zM588 157l-2 9.5 0 8 1 6.5 1.5 3 1-1.5 1-5 .5-10.5-1.5-8.5zM393 156l-1.5 1-1 2.5-3 12.5.5 4.5 2 2.5 2 4.5 2-2 5.5-23.5-3 .5zM446 156l-2.5 14 0 6 1 6.5 2 4 2-8 .5-11.5-2-10.5zM290 155l-1.5 7-.5 11 1 8.5 1 3.5.5 0 1.5-7.5.5-10.5-1.5-11zM209 155l-1.5 9.5 0 11 1 8 1 1.5 1.5-9.5 0-11-1-8zM150 155l-1.5 10.5 0 9 1.5 10.5 1.5-9 0-12zM122 131l-1 6 0 12 1 5.5 1.5-11zM818 131l-2 4.5-1.5 9 2 8.5 1 2 1.5.5 2-4.5 1.5-8-2.5-10.5-1-1.5zM413 130l-3.5 2.5-2 3.5-4.5 16 5-1.5 1.5-2.5 2-5.5.5-5.5 1-3zM463 129l-1.5 8.5 0 11.5 1.5 9 1.5-13.5zM616 128l-1.5 3.5-1.5 10 1 10 1 4.5 1 1.5 1.5-3 1.5-9.5-1-11.5zM167 128l-1.5 12.5 1.5 17.5 1.5-9 0-12.5-.5-.5 0-5zM313 128l-2 10.5 0 10 2 10 1.5-5 1-9.5-1-11zM229 128l-1 3-1 9 .5 12 1.5 6.5 1-3.5 1-9.5-.5-10zM483 104l-1 6 0 12.5 1 6 1.5-11.5-.5-8.5zM136 103l-1 7 0 11 1 7 1.5-10-.5-11zM645 101l-1 0-1 3-1.5 9.5 1 11 1 4.5 1 1.5 1.5-3 1.5-9 0-6zM334 101l-2 11 0 8 1 8 1.5 3 1.5-8 .5-8.5-1-9zM248 101l-2 15 .5.5 1 13.5 1 1 1.5-11 0-8-1-8.5zM184 101l-1.5 14 1.5 16 1.5-9 0-11.5zM506 76l-1.5 12.5 1.5 13.5 1.5-11-.5-10.5zM672 74l-2 6-1 10.5 2 11.5 1.5 1.5 1-2 2-12.5-1.5-10.5-1-3.5zM357 74l-1.5 3-1 8 0 8 2 11 1.5-4.5 1-9-.5-8.5zM268 74l-1 2-1 8.5.5 14 1.5 5.5 2-14.5-1-11.5zM201 74l-1.5 10 0 10 1.5 10 1.5-11.5-.5-13.5zM150 74l-1.5 11.5.5 13.5 1 5 1.5-10 0-10zM701 62l-6 0 1.5 11.5 1.5 3 2-5zM531 62l-3 0 .5 9 1 3.5zM375 62l1 10.5 1 2 1.5-8 0-4.5zM289 62l-3 0 .5 8.5 1 4 1.5-7.5zM216 62l1.5 12.5 1-6 0-6.5zM167 62l-3 0 .5 8 1 4.5zM127 62l-.5 0 0 1.5z"/>
<path fill-rule="evenodd" fill="#9fff60" d="M809 436l-2 6 5 0-1-4.5-1-1.5zM224 432l-1 1-1.5 9 4 0zM446 428l-2 4-2 10 8.5 0-1.5-9-1.5-4zM118 428l-2 14 4.5 0-1-11zM372 427l-2 4-2.5 11 10.5 0 0-3 2-6-3 0-1.5-1.5-1.5-4zM708 411l-2.5 2-.5 2 2 2.5 2 .5 1.5-1 1.5-2.5-3-3.5zM477 411l-1.5 2.5 1 4.5 1-.5.5-1.5 0-3zM262 403l-1.5 2.5-1.5 8 1 8 1.5 4 1-.5 2-9.5-.5-5.5zM148 403l-1.5 9 .5 10 1 4 1.5-8 0-7zM514 386l-.5 2 1 .5.5-2zM750 382l-2 1-2.5 4.5 1.5 3 2 2 2 0 3-4 0-2-1-2zM100 376l-3 6.5-1 6 1.5 5.5 2 4 1.5 1 1.5-1 1.5-3 2-8-3-9.5-1.5-1.5zM177 374l-1 3-1.5 11.5 1.5 10 1.5 3.5 2-6.5.5-11.5-1.5-8.5zM299 373l-2 3.5-1.5 5.5-.5 8 2.5 9.5 1.5 2 1 0 1.5-2.5 2-7 .5-7-2.5-9.5-1-2zM791 355l-2.5 2.5-1 3.5 2 3.5 2.5 1 2-2 1.5-3.5-2.5-4.5zM550 352l-2 8 1.5 7 1.5 1.5 1.5-4 .5-6-1.5-6zM208 347l-1.5 7-.5 9 1 8 1 3.5.5 0 1.5-7 .5-9-1-8-1-3.5zM333 346l-1.5 2-1.5 4.5-1.5 9 2.5 9.5 1.5 3 1.5.5 1-.5 2.5-6 1.5-9-3-11-1.5-2zM125 346l-1.5 5-1 9.5 2 14 1 .5 1.5-7 .5-11-1-7.5-1-3.5zM835 328l-2.5 2.5-1 3 3 4.5 2 0 1.5-1.5 1.5-4-2-3.5zM88 327l0 9 .5-2zM587 321l-1.5 2-2 8.5.5 6 2.5 7 1 0 1-1.5 2-8-.5-7-1-4zM237 319l-2 10 0 8 1 7 1.5 3 1.5-5 1-10-2-12.5zM149 319l-1 3-1 9.5 1 12.5 1 3 1-2.5 1-8.5-.5-11zM364 319l-2.5 4.5-2 11 3 12 2 1.5 3-6 1.5-9.5-3-12zM434 318l-1.5 0-1.5 3.5-2.5 12 0 5-1.5 5.5-2.5 3.5-4.5-.5-1 2-3 11.5-1.5 10-2 4-2 1.5-2 0-1 1.5-4.5 19-1.5 3-3 2.5-1.5-.5-2-2-1.5 1-5.5 23 1.5-.5 1.5.5 3.5 6.5 2-3 2.5-11.5 0-5 1.5-6 2-4 1.5-1.5 4-.5 1-1 3-10 1-7 2-5 2.5-2 3 .5 1-1.5 4.5-21.5 1.5-2.5 1.5-1 2 .5 2 2 1.5-1.5 3.5-14 .5-9-2-2zM112 294l-1 1-1 8 0 6 1.5 9 1-2.5 1-9.5zM620 294l-1.5 2-1.5 4.5-1 7 2 8 1 2 1.5 1 2.5-4.5 1.5-8.5-2-8.5-1-2zM173 292l-1.5 7.5-.5 7.5 1 9 1.5 4 1.5-6.5.5-11-1.5-10zM450 292l-2.5 10-.5 10.5 2.5 8 1 1 1-1.5 1.5-7.5.5-9.5-1.5-8-1-2.5zM267 292l-1.5 3.5-1.5 10.5 1.5 11.5 1 3 1-.5 2-11.5-.5-8.5zM388 291l-1.5 1-1.5 3.5-2.5 10.5 2 8.5 2.5 5.5 1.5-.5 2-5 2-8 0-6 .5-.5 0-6zM407 270l-3.5.5-1.5 2-3 11.5.5 3.5 2.5.5 2-2.5 2.5-6.5 1-6zM475 269l-1.5 2.5-1 5.5 0 4.5 1 5.5 1 2 1.5-1.5 1.5-8-1-6.5zM652 267l-2.5 5-1.5 7.5 2.5 10 2 2 2.5-4.5 1.5-6.5 0-3-2.5-9zM130 265l-1 5.5-.5 11 1 9 1 2 1.5-9 0-10-1-7.5zM294 265l-2 8-.5 8.5 2 11 1 1 1.5-4 1-6.5 0-7.5-2-10zM197 265l-1.5 7.5-.5 8.5 1.5 11 1 1 1.5-7 .5-8.5-1-8.5-1-4zM96 246l-1.5 4.5 0 3 1.5 4.5 1.5-4.5 0-3zM502 245l-1.5 8 1 5 1 1 1-1.5 1-6-1-5zM685 240l-2 3-2 8.5 2.5 11 1.5 1.5 1.5-2 2-7.5-.5-7.5-1.5-5zM220 238l-1 2.5-1 8 .5 11.5 1.5 6 1-2 1-7.5 0-9-1-7.5zM150 238l-1.5 8.5 0 11 1 7.5 1 1 1.5-10.5 0-7-1-8.5zM322 237l-2 5-1.5 9.5 1.5 9.5 1.5 4.5 1 0 1-2.5 1.5-8.5 0-6-1-6.5zM531 216l-2 8.5 1 5.5 1.5 2.5 1.5-4 .5-5.5-1.5-6.5zM717 213l-2.5 6.5-.5 8 1.5 6.5 1 2 1.5.5 2-5.5 1-7-2-9zM118 213l-1.5 9 .5 11 1 3.5 1-6.5 0-10.5zM348 210l-2 5-1.5 9.5 2 11 1 2.5 1 .5 2-5 1.5-9.5-2-11-1-2.5zM244 210l-1 2-1.5 12.5 1 9.5 1.5 4.5 2-12-.5-9.5zM170 210l-1 2.5-1 9 .5 11 1.5 6 1.5-9 0-10.5zM561 186l-1 .5-1.5 7 0 7 2 8 1.5-3 1-6.5-.5-7.5zM751 186l-1 0-1 1.5-2 8 .5 7 1.5 5 1.5 2 1.5-1.5 2-8-.5-7.5zM435 185l-1.5 1.5-3 11 .5 12.5 2 2.5 1 0 1.5-2 3-14-.5-7-1-2.5zM267 183l-1 4-1 11.5 1.5 11.5 1 1 1-3.5 1-11.5-1-9-1-4zM190 183l-1 3-1 9.5.5 9 1.5 7 2-14-1-11zM134 183l-1 3 0 5-.5.5 0 11.5 1.5 8.5 1.5-13zM372 183l-2 3.5-2 10.5 1.5 10 2 5 2-2 2-9 0-7-1-6.5-1-3zM784 158l-1 1-2.5 9.5 1 8 2 5 2-1 2.5-10-2.5-11zM588 158l-2 10 0 5 1 6.5 1.5 3.5 1.5-4 1-10-1.5-9.5zM393 157l-1.5 1-3.5 12.5 0 4.5 4.5 7.5 2-4 2.5-9.5 1-8.5zM447 156l-1 2-1.5 9 0 10.5 2 7.5 1-.5 2-12.5-.5-7.5zM290 156l-1.5 7.5-.5 7.5 1 9 1 4 .5 0 1.5-7.5.5-7.5-1-9-1-4zM209 156l-1.5 10 0 8 1 8.5 1 1.5 1.5-10 0-8-1-8.5zM150 156l-1.5 11 .5 12 1 5 1.5-10 0-8zM412 133l-2 .5-2 3.5-2.5 9.5 0 2.5 2.5 0 2-2.5 1.5-4zM122 133l-1 6 0 9 1 6 1-5 0-11zM818 132l-2.5 7-.5 6.5 2 7.5 1 1.5 1 0 2.5-7 .5-5.5-2-8zM463 130l-1.5 9 0 8.5 1.5 9.5 1-7 0-13.5zM616 129l-1.5 3.5-1 6.5 0 7.5 1 6.5 1.5 3.5 1.5-3 1.5-10.5-1.5-10.5zM167 129l-1.5 13.5 1.5 14.5 1.5-9.5 0-9.5zM313 129l-2 11 .5 11.5 1.5 6 1-2.5 1-7.5 0-8.5-1-7.5zM229 129l-1 3-1 10 1 12.5 1 3 1-3.5.5-10 .5-.5zM483 105l-1 6.5 0 9.5 1 6.5 1-5.5 0-12zM136 105l-1 7.5 0 7.5 1 7.5 1.5-10.5-.5-8zM644 102l-1.5 3.5-1.5 10.5 1.5 10.5 1.5 3.5 1.5-3 1.5-10-1-9.5zM334 102l-1.5 7-.5 9.5 1 8.5 1.5 3 2-14-1-9.5zM248 102l-1.5 9.5 0 9 1 8.5 1 1 1.5-16-1-9.5zM184 102l-1 7 0 14 1 7 1-3.5 0-6 .5-.5 0-8zM506 77l-1 6 0 12 1 6 1.5-11.5zM672 75l-1 .5-2.5 13.5 1.5 10 1.5 4 1-1 2-10.5-.5-8.5zM357 75l-1.5 3-1 8.5.5 9.5 1.5 7 1.5-4.5 1-9.5zM267 75l-1.5 11 0 5.5 1 9 1 2.5 1.5-9 0-10-1-8zM201 75l-1.5 10.5.5 13 1 4.5 1.5-12.5-.5-10zM150 75l-1.5 12 .5 10.5 1 5.5 1.5-10.5-.5-13zM701 62l-6 0 1.5 10 1.5 3.5 1.5-3zM528 62l1 11 .5 0 1-6 0-5zM375 62l1 9 1 2.5 1.5-11.5zM289 62l-3 0 1.5 11.5 1-3.5zM218 62l-2 0 0 6 1 5.5zM166 62l-2 0 0 6.5 1 5z"/>
<path fill-rule="evenodd" fill="#80ff80" d="M809 437l-1 1-1 4 4 0-.5-3zM223 433l-1 3-.5 6 3.5 0-1-7.5zM446 429l-1.5 2.5-2 10.5 7.5 0-1.5-9.5-1-2.5zM118 429l-1.5 8.5 0 4.5 4 0-1-10zM373 427l-2.5 5-2 9.5 9.5 0 1.5-7.5-3.5-2-1.5-4zM706 415l1 1.5 2.5 0 1-1-1-2-2 0zM476 413l-.5 2.5 1 1 .5-3zM262 405l-2 7 0 6 1.5 6.5 1 .5 2-7 0-6-1.5-6.5zM148 404l-1.5 9.5.5 7 1 4 1.5-8-.5-8.5zM395 400l-1 .5-1.5 3.5-3.5 15.5 0 2 1.5.5 2 2 .5 2.5 1.5 2 2.5-5 1.5-7.5.5-7.5 1.5-6.5-2 .5zM749 384l-2 2-.5 1.5 2.5 3.5 1.5 0 1.5-1 1.5-2.5-2.5-3.5zM100 377l-2.5 4-1.5 7.5 2.5 7.5 1.5 1.5 1 0 2.5-4 1.5-7-3-8.5zM299 374l-2 3.5-2 11 3 11 2 1 2.5-5.5 1.5-8-2.5-10.5-1-2zM178 374l-1.5 3.5-1 7 .5 9.5 1 5 1 1.5 1.5-4 1-7-1-11.5zM792 357l-1 0-2.5 3 .5 2.5 2 2 1.5-.5 2-2.5-.5-2.5zM551 353l-1 .5-1.5 5.5.5 5 1.5 3.5 1-1 1.5-6.5zM208 348l-2 13 1 8.5 1 4 .5 0 2-13-1-9-1-3.5zM333 347l-2.5 5-1.5 6 0 4 2 8 1.5 3 2 .5 2.5-5 1.5-6.5 0-4-2.5-9-1.5-2zM125 347l-1 2.5-1 7 0 7.5 1 7.5 1.5 2.5 1.5-7.5.5-7.5-1-8.5-1-3.5zM88 331l.5 0 0 .5-.5 0zM835 330l-2 2-.5 2 2 3 2 0 2.5-3.5-2-3zM586 323l-1.5 3.5-1.5 7 2 8.5 1 2 1 0 1.5-3 1.5-8-2-8.5-1-1.5zM237 320l-1.5 6.5-.5 8.5 1.5 10 1 1 2-9 0-8-1.5-8.5zM149 320l-1 3-1 10 1 10 1 3.5 1-3 1-9.5-1-11.5zM364 320l-1.5 1-1 2-2 8.5.5 7 3 8.5 1 0 2-3 2-8.5 0-4-1.5-7zM434 319l-1.5 0-1.5 4-2 9.5-.5 8-1.5 6-2 2-1.5.5-3-1-1 1-3 10.5-.5 6.5-1.5 7-2.5 3.5-3.5.5-1 1.5-2 7.5-2 12 4.5-.5 1.5-2.5 2-6.5 1-8.5 1.5-5 3-2.5 3.5.5 1.5-3 2-9 .5-6.5 2-6.5 1.5-1.5 2 0 3 2.5 1.5-1.5 3-12 .5-9-2.5-3.5zM112 295l-1.5 9.5 1.5 12.5 1-2.5.5-4.5 0-8.5zM621 295l-1 .5-1.5 3-1.5 6 1 8 2.5 5 2-2 2-7.5-1-8zM450 293l-2.5 10.5 0 9.5 2 6.5 1 1 1-1.5 1-4.5 1-10-1.5-8.5-1-2.5zM267 293l-1.5 3.5-1 7 0 6 2 10 1-.5 2-12.5-1-8.5zM173 293l-1 2-1 6.5 0 9.5 1.5 8.5 1.5-3 1-8.5-.5-8zM388 292l-1 0-1.5 2-3 11 1 6.5 1.5 5 1.5 2.5 1.5-.5 2-5 1.5-6 0-6 .5-.5 0-5zM405 271l-1 0-1.5 2-2 8 0 4.5 1.5 1 1.5-.5 3-7.5.5-5.5zM475 270l-1 2.5-1 7 1 5.5 1.5 2.5 1.5-4 .5-6.5-1.5-6.5zM652 268l-2.5 5.5-1 7 2 7.5 1 2 1 .5 2.5-5 1-4 0-4.5-1.5-6-1-2zM130 266l-1.5 14 1 9 1 2.5 1.5-9.5 0-7-1-8zM294 266l-1.5 5.5-1 8 1.5 10 1.5 3 1-2 1-5.5.5-8-2-10.5zM197 266l-2 13 1 9.5 1 4 .5 0 2-13.5-1-9-1-4zM96 248l-1 2 0 4 1 2 1-2 0-4zM503 246l-1.5 4 0 4 1.5 4 1.5-4.5 0-3zM685 241l-2 4.5-1 7.5 1.5 6.5 1 2 1.5.5 1.5-3 1.5-8.5-2-8-1-1.5zM220 239l-1 3-1 8.5.5 8 1.5 6.5 1-2 1-8-.5-10.5zM150 239l-1.5 9 0 8 1 8 1 1 1.5-15-1-9zM322 238l-1.5 3-1.5 8.5.5 7.5 2 7.5 1 0 2.5-11.5-1-9.5zM532 217l-1 1.5-1 4.5.5 5.5 1.5 3 1.5-4.5 0-5.5zM717 214l-1.5 3-1.5 9 2 8 1.5 1.5 1-1 1.5-5 .5-7-1.5-6-1-2zM118 214l-1.5 10 .5 7.5 1 4 1-7 0-7zM348 211l-1.5 3-1 5-.5 7.5 1.5 8 1 2.5 1 .5 1.5-3 1-5 .5-7.5-1.5-8-1-2.5zM244 211l-1 2-1 7.5.5 12 1.5 5 2-12.5-1-10.5zM170 211l-1 2.5-1 10 1 11.5 1 2.5 1.5-9.5 0-7.5zM561 187l-1 .5-1.5 7.5.5 7.5 1.5 5 1-1.5 1.5-8.5zM751 187l-1 0-1 2-2 8.5 1.5 7.5 2 3.5 1.5-2 2-8-1.5-8.5zM435 186l-1.5 1.5-2.5 9.5 0 8.5 1 4.5 1 1 1.5 0 1-1.5 2.5-11-.5-9zM267 184l-1.5 8.5 0 9.5 1 7 1 1 1.5-8 0-9.5-1-7zM190 184l-1.5 7.5 0 11.5 1.5 7.5 1.5-8.5 0-9.5zM134 184l-1.5 9 .5 14 1 3.5 1-7 0-13zM373 184l-1 0-1 2-2 9.5.5 7.5 2.5 8 2-2 2-10-1-9.5zM784 160l-2.5 8 0 5 1.5 6 1 2 1 0 1.5-2.5 1.5-6.5 0-3-1.5-6.5-1-2zM588 159l-2 12 1.5 9.5 1 1.5 1-2 1-5.5 0-8-1.5-7zM393 158l-2 1-3 10.5 0 5 4 7 1.5-2.5.5-3.5 2-5.5.5-8.5zM447 157l-2.5 11.5.5 10.5 1.5 5 1-.5 2-13.5-1.5-10.5zM290 157l-1.5 8 0 10 1 6.5 1 1.5 1.5-8 0-10-1-6.5zM209 157l-1.5 10.5 0 5 1 8.5 1 2 1.5-10.5 0-5-1-9zM150 157l-1.5 12.5 1.5 14 1.5-10.5-.5-11zM410 135l-1 .5-2 4.5-1 4.5.5 3.5 1 0 1.5-1.5 1.5-4 0-7zM122 134l-1 6.5 0 5.5 1 6.5 1-5.5 0-7.5zM819 133l-1.5 2-2 8 1.5 7.5 1.5 3 1 0 1-2 1.5-6-.5-7-1-3.5zM616 130l-1.5 4-1 6.5.5 8 1 5.5 1 1.5 1-1.5 1.5-8.5-.5-9.5-1-4.5zM463 130l-1.5 10.5.5 11 1 4 1-7.5 0-10.5zM313 130l-1 3-1 8.5.5 8.5 1.5 6.5 1-2.5 1-8-.5-10zM229 130l-1.5 7.5 0 11.5 1.5 7.5 1.5-8.5 0-9.5zM167 130l-1 7.5 0 12 1 7 1.5-10-.5-12.5zM483 106l-1 7 0 6.5 1 6.5 1-5.5 0-9zM136 106l-1 8 1 12.5 1-4.5 0-11.5zM644 103l-1.5 4-1 6.5.5 9 1 5 1 1.5 1.5-3 1-6.5-.5-10.5-1-4.5zM335 103l-1 1-1.5 11.5 2 14 1-2 1-7.5 0-7.5zM248 103l-1.5 10 0 6 1.5 10.5 1-3 1-10-1-11zM184 103l-1 7.5 0 11 1 7.5 1.5-10.5-.5-11.5zM506 78l-1 6.5 0 9 1 6.5 1-5.5 0-11zM672 76l-1 .5-2 10 .5 8.5 2 7 1.5-3 1.5-9.5-1-8.5zM356 76l-1 3.5-1 10 1.5 11.5 1 1 1.5-9 0-8-1-7.5zM267 76l-1.5 14 1 9.5 1 2.5 1.5-9.5 0-7-1-8.5zM201 75l-1.5 11.5.5 10 1 5 1.5-13zM150 75l-1.5 13.5 1.5 13 1.5-11.5-.5-10zM701 62l-5 0 1 9 1.5 3.5 1.5-3zM528 62l.5 6.5 1 3.5 1-10zM378 62l-3 0 .5 8 1 2.5zM289 62l-3 0 1.5 10.5zM218 62l-2 0 1 10.5zM166 62l-2 0 0 5 1 5.5z"/>
<path fill-rule="evenodd" fill="#60ff9f" d="M809 438l-1 1-.5 2.5 3 0 0-1.5zM223 434l-1.5 8 3 0 0-3.5zM446 430l-2 4.5-1 7.5 7 0-2-10-1-2zM118 430l-1.5 12 3.5 0-1-11zM373 428l-2.5 5-1.5 8.5 8.5 0 1-7-3-2.5-.5-2zM708 414.5l.5 0 0 .5-.5 0zM476 414.5l.5 0 0 .5-.5 0zM262 406l-1.5 4.5-.5 6 1 5 1.5 2.5 1.5-4.5.5-5.5-1-5.5zM148 406l-1 4.5 0 9 1 4.5 1.5-8.5zM395 401l-1 0-1.5 2.5-3.5 17 2.5 2 2.5 5 1.5-2 1-3.5 2.5-18zM749 386l-1.5 2 1 1.5 2 .5 2-2-1.5-2zM101 379l-2 1-2.5 7 1 5.5 1 2.5 2 2 2-2 2-6.5-1.5-6.5zM411 378l-2.5 0-1.5 2-3 13.5.5 3 3 0 1.5-2.5 2-7 .5-4zM299 375l-2.5 5.5-1 9 2.5 9 2 1 2-4 1.5-6.5 0-3-2-8.5-1-2zM178 375l-1 1.5-1.5 9.5.5 7 1.5 6.5 1-.5 2-11-1-8.5zM792 358l-2.5 2 1.5 2 2 0 1-1 0-1.5zM551 355l-1.5 3.5 0 4.5 1 3 1 .5 1.5-4.5 0-2.5-1-3.5zM421 349l-1 0-1.5 2.5-2.5 9.5-.5 10.5 4.5.5 1-2 3-15 0-5-1.5 0zM208 349l-1.5 8 0 7.5 1 6.5 1 1.5 1.5-8 0-7.5-1-6.5zM334 348l-2 3-2.5 10 2.5 9.5 1.5 2.5 1.5 0 2.5-5.5 1.5-7-2-8.5-1.5-3zM125 348l-1.5 6.5-.5 8.5 1 7.5 1.5 3 1.5-8 0-9.5-1-6zM835 331l-2 2 2 2 1 0 2-2-2-2zM586 324l-2 6-.5 4.5 1.5 6.5 1 2 1 0 2-5.5.5-5.5-2-7.5zM237 321l-2 12.5 1.5 10.5 1 1.5 1.5-6 .5-9-1.5-9zM364 321l-2.5 5-1.5 8 2 9 1.5 3 1.5 0 1.5-3 2-10-2-9-1.5-3zM149 321l-1.5 8.5 0 8.5 1.5 8 1.5-7 0-10.5zM434 320l-2 1-1 3-2.5 16.5 0 4 4 3.5 1 0 1-1.5 3-12.5 0-7.5zM620 296l-2 5-1 5 2 8 2 2 2-3.5 1.5-6.5-2-8-1-2zM112 296l-1 5 0 9.5 1 5.5 1.5-7.5-.5-9.5zM451 294l-1 0-2.5 11 0 6 2.5 8.5 1.5-1.5 2-11.5zM267 294l-1.5 3.5-1 7.5.5 7 1.5 6.5 1-.5 1.5-8.5 0-6.5zM173 294l-1 2-1 7 0 6.5 1.5 9 1-1 1.5-11zM388 293l-1 0-1.5 2-2.5 9 0 4 3.5 10 1 0 1.5-2.5 2.5-9.5 0-8.5-1.5-3zM405 273l-2 .5-1.5 5-.5 6.5 1 1 1.5-.5 2.5-6 0-5zM475 271l-1 1-1 4.5 0 4.5 2 5.5 2-7.5-1-6zM652 269l-1.5 2.5-1.5 5.5 0 4.5 2.5 7.5 1.5 0 2-4.5 1-6-2-7.5zM130 267l-1 6.5 0 10.5 1.5 6.5 1-4.5.5-9-1-9zM294 267l-2 9 0 6 1.5 8.5 1 1 1.5-4.5 1-8.5-2-11zM197 267l-1.5 8.5 0 7.5 1 7 1 1.5 1.5-8.5 0-7.5-1-7zM96 249l-1 2.5 1 2.5 1-2.5zM503 247l-1.5 4 .5 3.5 1 1.5 1.5-4.5zM685 242l-2.5 7 0 5 1.5 5.5 1 1.5 1 0 2.5-7.5 0-4-2.5-7.5zM322 239l-1.5 3-1.5 9 1.5 10 1.5 3 1-1.5 1.5-7.5 0-7-1.5-7.5zM220 239l-2 12.5 2 12.5 1-3 1-8.5-1-10.5zM150 239l-1.5 10 0 5 1.5 10 1-2.5 1-10-1-10zM531 219l-1 3 0 5.5 1.5 3 1-2 .5-5-1-4zM118 215l-1 4 0 11 1 3.5 1-7.5zM718 215l-1.5 2-1.5 5.5.5 7 2 5 1-.5 1-2 1.5-6.5-1.5-8zM348 212l-2 5.5-1 7 1.5 9 1 2.5 1 .5 2-5.5 1-7-1.5-9-1-2.5zM244 212l-1 2-1 8 .5 9.5 1 5 1-1 1-7 0-8.5zM170 212l-1 2.5-.5 4.5 0 11 1.5 6.5 1.5-10-.5-9.5zM561 188l-1 2.5-1 7 1.5 8 1 .5 1.5-6.5 0-5-1-5zM751 188l-2 2-1.5 6 .5 5.5 2 5.5 1 0 1-1.5 1.5-6 0-4zM435 187l-2 3-1.5 6 0 9.5.5 2.5 1.5 2 1 0 1-2 2-8.5 0-8zM267 185l-1.5 8.5 0 7 1 7.5 1 1.5 1.5-9 0-7-1-7zM190 185l-1.5 7.5 0 9 1.5 8 1.5-9 0-6.5zM134 185l-1.5 9.5.5 11 1 4 1-7 0-10.5zM372 185l-2 6-1 7 1.5 8.5 1.5 3.5 1 0 2.5-9 0-7-2-8.5zM784 161l-2 4-1 6.5 2 7.5 1.5 1 2.5-7 0-5-1.5-5.5zM589 160l-1 1.5-1 6 .5 9.5 1.5 4 1-2 1-6-.5-8.5zM393 159l-2 1-2.5 8.5 0 6 3 5.5 1 0 3.5-13 0-4zM447 158l-2 8 0 11 1 5 1 1.5 2-10 0-6.5zM290 158l-1.5 8.5 0 7 1 7 1 1.5 1.5-8.5 0-7-1-7zM209 158l-1.5 12.5 1 9.5 1 2 1.5-13-1-9.5zM150 158l-1 6 0 13 1 6 1.5-11.5zM410 138l-1 .5-1 2-.5 6.5 1.5-.5 1.5-3.5zM122 135l-1 7 1 9 1-6zM819 134l-1 0-1 1.5-1.5 6 1 7 2 3.5 1.5-2 1.5-6.5-1-6zM616 131l-1.5 4-1 8.5 2 10.5 1 .5 1.5-6.5.5-6.5-1-7zM463 131l-1.5 11 .5 8.5 1 4 1-8 0-7.5zM313 131l-1 3-1 9.5 1 9 1 3 1-2.5 1-8.5-1-11zM229 131l-1.5 8 0 8.5 1.5 8 1.5-9 0-6.5zM167 131l-1 7.5 0 9.5 1 7.5 1.5-10.5-.5-10zM483 107l-1 7.5 1 10.5 1-6 0-6zM136 107l-1 8.5 1 9.5 1-4.5 0-9zM644 104l-1.5 4-1 9.5 1.5 9 1.5 1.5 1.5-6 .5-8-1-6.5zM335 104l-1 1-1 6.5 0 9 1.5 8 1-2 1-8-.5-9.5zM248 104l-1.5 10.5 1.5 14 1.5-7.5 0-10-.5-4.5zM184 104l-1 8 0 8 1 8.5 1.5-11.5-.5-8.5zM506 79l-1 7 0 6 1 7 1-6 0-8.5zM672 77l-1 .5-2 10.5 1 8.5 1.5 4.5 1-1 1.5-8 0-6zM356 76l-1.5 8 0 9 1 6.5 1 1 1-5 .5-9.5-1-8zM268 76l-1.5 7 0 11 1 6.5 1-1.5 1-8.5-.5-9.5zM201 76l-1.5 12.5 1.5 12 1-6 0-12zM150 76l-1 6.5 0 12 1 6.5 1.5-12.5zM696 62l1.5 10 1.5 1.5 2-11.5zM530 62l-2 0 0 5 1 4zM375 62l1 9 .5 0 1-4.5 0-4.5zM289 62l-2.5 0 0 4.5 1 5zM218 62l-2 0 1 9.5zM166 62l-2 0 1 9.5z"/>
<path fill-rule="evenodd" fill="#40ffbf" d="M808 441l0 1 2.5 0-1.5-2zM223 435l-1 3.5 0 3 2.5 0-.5-5zM446 431l-2 4.5-1 6.5 6.5 0-1.5-9-1-2zM118 430l-1 2-1 9.5 3.5 0-.5-7.5zM373 429l-2 3.5-2 9 8.5 0 .5-6-2.5-2.5-1.5-3.5zM262 407l-1.5 5 0 6 1 4 1 1 1.5-5 0-6-1-4zM148 407l-1 5 0 6 1 5 1-4 0-8zM395 402l-1.5.5-1.5 4-2.5 12.5 4.5 7.5 2-3.5 2-12.5 0-6zM749 388l.5.5 1.5-.5-.5-.5zM101 380l-1 .5-2.5 6 .5 4.5 2.5 4.5 2-1 2-5.5-1-5.5-1.5-3zM410 379l-1 0-1.5 2-2 8-.5 5 2 2 1.5-1 2.5-7 .5-7.5zM300 376l-1 0-1.5 2.5-2 8.5 2.5 10.5 1.5 1.5 2-3 2-8.5-2-9zM178 376l-1 1.5-1.5 10 2 11 1-.5 1.5-7 0-7-1-6zM791 361l2-.5-2 0zM551 356l-1.5 5.5 1 3 1 .5 1-2.5 0-3.5zM420 350l-1.5 2.5-2 7.5-.5 9.5 2 1.5 2 0 3-10 .5-9-.5-1zM208 350l-1 4-.5 9 1 7 1 1.5 1-4 .5-9-1-7zM334 349l-3 6-1 7 2 7.5 1.5 2.5 1.5 0 2-4 1.5-8.5-2-7.5-1-2zM125 349l-2 12 1 8.5 1.5 3 1.5-8.5 0-6.5-1-6.5zM834 333l.5.5 1.5-.5-.5-.5zM587 325l-2 4-.5 6.5 1.5 5.5 1.5 1 1.5-3.5 1-5-1.5-6.5zM363 322l-2 5-1 8 2 8 1 2 1.5 0 2-5 1-8-2-8-1-2zM237 322l-1 1.5-1 6.5.5 11 1.5 4 2-10.5-.5-6.5zM149 322l-1.5 8.5 0 6 1.5 8.5 1.5-7.5 0-8zM434 321l-1 0-1.5 2.5-2 9.5 0 6-.5.5 0 3.5 3.5 4 1 0 1.5-3 2.5-14-.5-3zM112 298l-1 1.5-.5 3.5 0 6.5 1 5.5 1.5-7.5zM621 297l-2 1-2 7 1 6 2 4 1-.5 2.5-7.5-.5-4.5zM266 295l-2 11.5 1.5 10 1 1 1.5-5.5.5-7.5-1-7zM173 295l-1 2-1 7.5 1.5 13 1-1 1-6.5 0-7.5zM451 294l-1 1.5-1.5 7 0 9.5 2 6 1-.5 2-9.5-.5-7.5zM388 294l-1 .5-1.5 3-2 8.5 1 5.5 1.5 4.5 1.5 2 2-3 2-7 0-9-1.5-3.5zM404 274l-1.5 1-1.5 4.5.5 5.5 1.5-.5 2-5 0-3.5zM475 273l-1.5 7 1 4.5 1 1 1.5-4.5 0-3.5-1-4zM653 270l-1.5 1.5-2 7 1 5.5 2 4 1 0 2.5-7.5-1-7zM294 268l-1.5 6-.5 6.5 1 7 1.5 3 1-2 1-6 0-6.5-1.5-7.5zM197 268l-1 4.5-.5 9 1 7.5 1 1.5 1-4.5.5-9-1-7.5zM131 268l-1.5 7.5 0 7.5 1 7 1-1.5 1-9zM96 251l-.5.5.5.5.5-.5zM503 249l-1 1.5 0 3 1 1.5 1-2 0-2zM685 243l-1.5 3.5-1 6 2 7 1.5.5 1.5-3.5 1-5.5-1.5-6-1-2zM322 240l-1.5 3-1 5.5.5 9 2 5.5 1-1.5 1.5-8-.5-7.5-1-4.5zM220 240l-1.5 7.5 0 8 1.5 7.5 1.5-6.5 0-10zM150 240l-1.5 10.5 1.5 12.5 1.5-7 0-9zM531 220l-1 5.5 1.5 3.5 1-2.5 0-4-.5-2zM718 216l-1 0-1 1.5-1.5 6 1 6 2 3.5 2.5-7 0-3.5zM118 216l-1 4.5 0 8 1 4 1-8zM348 213l-1 1.5-1 4.5-.5 7.5 1.5 7.5 1.5 1.5 1-1.5 1-4.5.5-7.5-1.5-7.5zM244 213l-1 2-1 8.5 1.5 12 1-1 1-7 0-6zM170 213l-1.5 7 0 8.5 1 7 1-1.5 1-9zM561 189l-1.5 5.5 0 5 1 5 1 .5 1.5-9-1-5.5zM751 189l-1 1-1.5 5 0 5 2 6 1.5-.5 2-7.5-1-5.5zM435 188l-1.5 2-2 7.5.5 8 1.5 3.5 1 0 1-2 2-9-.5-6.5zM267 186l-1 4.5-.5 8.5 1 8 1 1.5 1.5-13.5-1-7.5zM190 186l-1.5 8.5.5 11 1 3.5 1.5-9.5-.5-9zM134 186l-1.5 10.5.5 8.5 1 4 1-7.5 0-8zM372 185l-1.5 2.5-1.5 7.5.5 7.5 2 6 1 0 2.5-9.5-1-9.5-1-3.5zM784 162l-2 4-.5 6.5 1.5 5.5 1.5 1 1.5-3 1-6.5-1.5-6zM589 161l-1 2-1 6 .5 6.5 1.5 4.5 2-8.5-1-8.5zM393 160l-1.5 1.5-2.5 9 .5 4.5 2.5 4.5 1 0 3-9.5 0-5.5-1-2.5zM447 159l-2 8.5.5 11.5 1.5 3.5 2-10.5-.5-7.5zM209 159l-1 6 0 10 .5 4 1 2 1-6 0-10-.5-4zM290 159l-1.5 13.5 1 7.5 1 1.5 1-4.5.5-8.5-1-7.5zM150 159l-1 6.5 0 10 1 6.5 1-5.5 0-12.5zM409 140l-1.5 2.5.5 2.5 1.5-2.5zM122 136l-.5 2 .5 11.5 1-6zM819 135l-1.5.5-1.5 5 0 4.5 1 4 1.5 2 1-1 1.5-5.5 0-3.5zM616 132l-1 2-1 5.5 0 6.5 1.5 7 1 .5 1.5-7 0-7.5-1-5.5zM463 132l-1 4.5 0 12.5 1 4.5 1-8zM313 132l-1.5 7.5 0 8 1.5 7 1.5-6.5 0-9.5zM229 132l-1.5 8.5 0 6 1.5 8 1.5-9.5-.5-8.5zM167 132l-1 8 1 14.5 1-4 0-6.5.5-.5zM483 108l-1 8 1 8 1-6.5zM136 108l-.5 3 .5 13 1-5 0-6zM644 105l-1 2-1 5.5 0 7.5 1 5.5 1.5 1.5 2-11.5-1-7zM335 105l-1 1-1 7 0 6 1.5 8.5 1-2 1-8.5zM248 105l-1 1.5-.5 4 0 11.5 1 5.5 1.5-7.5 0-7.5zM184 105l-1 8.5 1 14 1-5 0-13zM506 80l-1 7.5 1 10.5 1-6 0-6zM672 78l-1 2-1 5.5 0 6.5 1.5 7.5 1 .5 1.5-6 .5-7-1.5-8zM356 77l-1.5 8.5 0 6 1.5 8.5 1-2.5 1-8.5-1-10zM268 77l-1.5 7.5 0 8 1.5 7.5 1.5-11zM201 77l-1 5.5 0 12 1 5.5 1-7 0-9zM150 77l-1 7 0 9 1 7 1-5.5 0-12zM696 62l1 9 1.5 1.5 2-10.5zM530 62l-2 0 0 4 1 4zM375 62l1 8 .5 0 1-8zM288 62l-2 0 1 8 1-4zM218 62l-2 0 1 8zM166 62l-2 0 1 8z"/>
<path fill-rule="evenodd" fill="#20ffdf" d="M809.5 441l.5 0 0 .5-.5 0zM223 436l-1 5.5 2.5 0zM446 431l-2 3.5-1 7 6 0-1-6zM118 431l-1 2-1 8.5 3.5 0zM373 430l-2 4-1.5 7.5 7.5 0 .5-5.5-2.5-3-1-2.5zM262 408l-1.5 5.5 0 3 1 4.5 1 1 1.5-5.5 0-3-1-4.5zM148 408l-1 5.5 1 8.5 1-4.5 0-5zM395 403l-1 0-1 1.5-3 14.5 4 6.5 1.5-2 2-9 0-9zM100 381l-2 3.5-.5 4 1.5 4 2 1 1.5-2 1-5.5-1.5-4zM410 380l-2 .5-2 6.5-.5 5.5.5 1.5 1 .5 2-1.5 1.5-4.5.5-7zM178 377l-1 1.5-1 6 .5 9 1.5 4.5 2-8.5-.5-8zM300 377l-2 3-1.5 6 1 8 1 3 1.5 1.5 2-3 1.5-6.5-1-7zM551 357l-1 .5-.5 4 1 2 1.5-3zM421 351l-1 0-1.5 2.5-2 8 0 6.5 2 2 1.5 0 2.5-8 .5-9zM208 351l-1.5 10.5 1 7.5 1 1.5 1.5-11-1-7zM334 350l-2.5 4.5-1 4 0 4.5 2.5 7.5 1.5 1 2.5-4.5 1-4 0-4.5-2.5-7.5zM125 350l-1.5 7 0 7.5 1 6 1 1 1-4.5.5-8-1-7zM587 326l-1 1-1.5 6 1 5.5 1.5 2.5 1.5-2 1-4-1-7zM363 323l-1.5 3.5-1.5 7 2 8.5 1 2 1 .5 2-4 1.5-7-2-8.5-1-2zM237 323l-1 1.5-1 6.5 0 5 1.5 8 1-1 1-5.5 0-8zM149 323l-1.5 9 .5 8 1 4 1.5-8-.5-9.5zM434 322l-1.5.5-1 2.5-2 11 0 6 3 4 1.5-.5 1-2.5 2-9 0-5.5zM112 299l-1 5.5 1 9.5 1-3.5 0-8.5zM620 298l-2 4-.5 6 2 5.5 1.5 0 2-5.5 0-4-1.5-5zM266 296l-1.5 7.5 0 6 1 6 1 1.5 2-11-1.5-9.5zM173 296l-1.5 10.5 1 8 1 2.5 1.5-8 0-5-1-7zM451 295l-1 1.5-1.5 7.5 0 6 2 7 1-.5 2-10-1-7.5zM388 295l-2 1-2.5 8.5.5 6 1.5 4.5 1.5 2 2-3 1.5-5 0-10-1-2.5zM404 275l-1 .5-1 3 .5 5 1-.5 1.5-3.5 0-3zM475 274l-1 3 0 4 1.5 3.5 1.5-5.5-1-4.5zM652 271l-2 4-.5 5 2 6 1.5.5 2.5-8-2.5-7.5zM197 269l-1.5 11 1 8 1 1.5 1.5-11.5-1-7.5zM131 269l-1.5 7.5 1 12.5 1-1.5.5-3.5 0-9.5zM294 268l-1.5 3.5-1 7 2 10.5 1-.5 1.5-8-.5-7zM503 250l-1 1.5 1 1.5.5-.5zM685 244l-1.5 2-1 3.5 0 4 2 5.5 1.5-1 1.5-5-.5-5zM322 241l-1 3-1 9 1 6 1.5 3 1.5-3.5 1-7.5-1.5-8.5zM220 241l-1.5 8 .5 9.5 1 3.5 1.5-7 0-7zM150 241l-1 5.5 0 10 1 5.5 1.5-7.5 0-6zM532 221l-1 1.5.5 5 1.5-2.5zM717 217l-2 5.5 0 3.5 1.5 5 1.5.5 2-7.5-1.5-6zM118 217l-1 4.5 0 5.5 1 4.5.5-2.5zM244 214l-1 6 0 9 1.5 6 1-4.5.5-8-1-7.5zM170 214l-1.5 7.5.5 10.5 1 3 1-6 0-9.5zM348 214l-1.5 4-1 8 1.5 7.5 1.5 2 1.5-4 1-7.5-1.5-8zM561 191l-1 2.5-.5 5 1 5 1 1 1-4 0-6-1-3.5zM751 190l-1.5 2.5-1 4 .5 4.5 1.5 4 1 0 2-6-.5-5zM435 189l-1.5 2-1.5 5.5.5 8.5 1.5 3 1.5-2 1.5-6.5 0-6-1-3.5zM267 187l-1.5 10.5 1 8.5 1 1.5 1.5-11-1-8zM190 187l-1.5 9 .5 8.5 1 3.5 1.5-10zM134 187l-1 4.5 0 12.5 1 4 1-8zM372 186l-1.5 2.5-1.5 8 1.5 9 1.5 2.5 1.5-3 1.5-7.5-1.5-9zM784 163l-1.5 2.5-1 5.5 1.5 5.5 1.5 1.5 2-5.5 0-4-1.5-5zM589 162l-1 2-1 6.5 1 6.5 1 2 1.5-5.5 0-6.5zM393 161l-1.5 1.5-2 7 0 4.5 2.5 4.5 1 0 2.5-7.5 0-6.5zM447 160l-2 9 .5 8.5 1.5 4 1-3 1-8.5zM290 160l-1.5 11 1 8 1 2 1.5-11-1-8zM209 160l-1 6.5 0 8 .5 4 1 2 1-6 0-8-1-6.5zM150 160l-1 6.5 0 8 1 6.5 1-5.5 0-10zM122 138l-.5 2 .5 9 .5-1.5zM818 136l-1.5 3.5-.5 4 1.5 5.5 1.5.5 2-7-1.5-5.5zM616 133l-1.5 4.5-.5 7 1.5 7.5 1 .5 1.5-7 0-5.5-1-5.5zM463 133l-1 4.5 0 10.5 1 4.5 1-8.5zM313 133l-1.5 7.5 0 5.5 1.5 8 1.5-7 0-7.5zM229 133l-1.5 8.5.5 8.5 1 4 1.5-10.5zM167 133l-1 8.5 1 12 1-4.5 0-11.5zM483 109l-.5 2 .5 11.5 1-7zM136 109l-.5 3 .5 10.5 1-5.5zM644 106l-1 2-1 6 .5 8 1.5 4.5 1-2 1-5.5 0-6-1-5.5zM334 105l-1.5 9 .5 8 1 4 1-2 .5-4 0-9zM248 105l-1 6 0 9 1 6 1.5-8-.5-9.5zM184 105l-1 9.5 1 11.5 1-5 0-11zM506 81l-1 8 1 7.5 1-6zM672 79l-1.5 4.5-.5 7.5 1.5 7.5 1 .5 2-10.5-1.5-8.5zM356 78l-1.5 9 1.5 12 1.5-6 0-9zM268 78l-1.5 7.5.5 10.5 1 3 1-5.5 0-10zM201 78l-1 6 0 9 1 6 1-7.5 0-6.5zM150 78l-1 7 0 7 1 7 1-6 0-9zM696 62l1 8 1.5 1.5 1.5-6.5 0-3zM528 62l1 7 .5-7zM378 62l-2 0 0 4 1 3zM288 62l-2 0 1 7zM216 62l1 7 .5-7zM164 62l1 7 .5-7z"/>
<path fill-rule="evenodd" fill="#00ffff" d="M223 437l-1 4.5 2 0zM446 432l-1.5 3.5-1 6 5.5 0-.5-5-1.5-4zM118 432l-1 2.5-.5 7 3 0zM373 431l-1 1-2.5 9.5 7.5 0 0-5.5-3-4.5zM262 409l-1.5 5.5 1 5 1 .5 1.5-5.5-1-4.5zM148 409l-1 5.5 1 6.5 1-4.5zM395 404l-1 0-1 1.5-2.5 10 0 3 3.5 6 2-4 1.5-11-.5-3.5zM100 383l-1.5 2-.5 4 1.5 3.5 1.5.5 2-4 0-2.5-1-2.5zM409 381l-1 0-2 5-.5 5.5 1 2 1 0 1-1.5 1.5-4.5 0-5zM177 378l-1.5 11 1 6 1 2 1.5-5 .5-5.5-1.5-8zM300 378l-2 3-1.5 6.5 1 5.5 2 4.5 2-2 1.5-5.5 0-4.5-1.5-5.5zM551 359l-.5 3 1 .5.5-2.5zM421 352l-1.5.5-2.5 7.5 0 7 1.5 2 1.5 0 2.5-8 0-7.5zM208 352l-1 4.5 0 8.5.5 3 1 1.5 1-4.5 0-8.5-.5-3zM334 351l-2 3-1.5 7.5 2 7 2 2 1.5-2 2-8.5-1.5-6-1-2zM126 351l-1 1-1 6.5 0 4.5 1.5 8 1-2 1-8zM587 327l-2 4.5 0 4 2 4.5 1-1 1.5-5.5-1.5-5.5zM237 324l-1.5 10.5 1 7 1 1.5 1.5-6.5 0-5.5-1-6zM149 324l-1.5 9.5 1.5 9.5 1.5-8.5-.5-7zM364 323l-2 4-1 7.5 1.5 6 1 2 1 .5 2-4 1-7.5-1.5-6-1-2zM433 322l-1.5 2-2 8 0 9 2.5 3.5 1.5-.5 2.5-9.5 0-6.5zM112 300l-1 6 1 7 1-3.5 0-6zM621 299l-1 .5-2 6 2 7 2-1 1.5-5-.5-3.5zM266 297l-1.5 7.5 0 3.5 1 6.5 1 1.5 1.5-6.5 0-6.5-1-5.5zM173 297l-1 5.5 0 8 1.5 5.5 1.5-10.5-1-7.5zM451 296l-1 1.5-1.5 7.5.5 6.5 1.5 4.5 1-.5 1.5-6.5 0-6.5zM388 296l-1 0-1.5 2-2 8 2 8 1.5 2 2-3 1.5-5.5-.5-8.5zM404 277l-1 .5-.5 1.5.5 3.5 1.5-2.5zM475 275l-1.5 3.5 1 4.5 1-.5.5-5zM653 272l-1.5.5-2 6 2.5 7 1.5-1 1.5-5-.5-4zM197 270l-1 4.5 0 9 .5 3.5 1 1.5 1-5 0-9-.5-3zM131 270l-1.5 8 1 10 1-1.5.5-10.5zM294 269l-1 1.5-1 5.5 0 5.5 1 5.5 1 1.5 2-9.5-1-7.5zM502 251.5l.5 0 0 .5-.5 0zM685 245l-1.5 2-1 4 1 5 1.5 2 1-1 1.5-5.5-1.5-5.5zM322 242l-2 9.5 1.5 8 1 1.5 1-1.5 1-5 0-6-1-5zM220 242l-1.5 8 .5 7.5 1 3.5 1.5-7 0-5zM150 242l-1 5.5 0 8 1 5.5 1.5-7.5-.5-8.5zM531 223l-.5 2 1 1.5.5-2.5zM118 219l-1 4.5 1 7.5.5-3zM717 218l-2 6.5 1.5 5.5 1 .5 1.5-3 .5-4.5-1-3.5zM244 215l-1 6 0 6.5 1.5 6.5 1.5-10-1-8zM169 215l-1 11 1.5 8 1-6 0-7.5-.5-4zM348 215l-2 7 0 5.5 1 5 1.5 2 2-7 0-5.5-1-5zM561 192l-1.5 3 0 5.5 1 3 1.5-4 0-3.5zM750 191l-1.5 4 0 4 1 3.5 1.5 1 2-6.5-1.5-5.5zM435 190l-1.5 2-1.5 5.5.5 5.5 1.5 3.5 1-.5 2-8-.5-5zM267 188l-1 5.5 0 8.5.5 3.5 1 1.5 1-5 0-8.5-1-5.5zM190 188l-1.5 9.5 1.5 10 1-5 0-9.5zM134 188l-1 4.5 0 10 1 4.5 1-8zM372 187l-1 1.5-1.5 6 .5 8 1 3.5 1 1 1.5-3 1-5-.5-7zM785 164l-1 .5-1.5 4.5 0 3 2 5 1.5-2 1-4-.5-3.5zM589 163l-1.5 5 0 5 1.5 5 1.5-5.5 0-4zM393 162l-1.5 1.5-2 7 1 5 2 2.5 2.5-6.5 0-6.5zM447 161l-1.5 5 0 10 1.5 4.5 1.5-7 0-6.5zM290 161l-1 5 0 8.5 1 5.5.5 0 1-5.5 0-8.5-1-5zM209 161l-1 12 1 7 .5 0 1-12-1-7zM150 161l-1 7 1 12 1-5.5 0-8zM122 139l-.5 2.5.5 6 .5-1.5zM819 137l-2 4 0 3.5 1.5 4 1 0 1.5-4.5-.5-4.5zM617 134l-1 .5-1.5 8 1 7 1 2.5 1-2 1-6zM463 134l-1 5 0 8 1 5 .5-3zM167 134l-1 9 1 10 1-5 0-9.5zM313 133l-1.5 8.5.5 7 1 4 1.5-7.5 0-4.5zM229 133l-1.5 9.5 1.5 10 1-5 0-9.5zM483 110l-.5 2 .5 9.5.5-1.5zM136 110l-.5 3 .5 8.5 1-5.5zM644 107l-1 2-1 6 .5 5.5 1.5 5 1-2 1-5.5-.5-7zM334 106l-1.5 10 1 8 1 1 1-6 0-6.5zM248 106l-1 6.5 0 6.5 1 6 1-3 0-5 .5-.5-.5-7zM184 106l-.5 3 .5 16 1-5 0-8.5zM506 82l-.5 2.5.5 11 1-6.5zM672 79l-1 2.5-1 7.5 1.5 8 1 .5 1.5-6.5 0-5.5-1-5zM357 79l-1 1.5-1 7.5 1.5 10 1.5-6.5 0-6.5zM268 79l-1.5 8 .5 8 1 3 1-6 0-7.5zM201 79l-1 6 0 7 1 6 1-7.5zM150 79l-1 7.5 1 11.5 1-6 0-7zM700 62l-4 0 2 9 1.5-4zM528 62l1 6 .5-6zM378 62l-2 0 0 3 1 3zM288 62l-2 0 1 6zM218 62l-1 0 .5 6zM166 62l-1 0 .5 6z"/>
<path fill-rule="evenodd" fill="#00dfff" d="M223 439l-.5 3 1.5 0-.5-3zM446 433l-1.5 3.5-1 5 5.5 0-1.5-7zM118 433l-1 2.5-.5 6 2.5 0 0-4zM373 432l-2 4-1 5.5 6.5 0 0-5-2.5-4zM262 410l-1 3 0 3 1.5 3 1-3 0-3zM148 410l-.5 1.5.5 7.5 1-4.5zM395 405l-1.5 2-2 7.5 0 4.5 3 5 1-1 2-7.5 0-7.5-1-2zM100 384l-1.5 2.5 0 2.5 1 2 1.5.5 2-3.5-1.5-3.5zM409 382l-1.5 2-1 3.5 0 3.5 1 1.5 1-.5 1.5-4 0-4.5zM299 379l-2 5-.5 5.5 1.5 5.5 1 1.5 1 0 1.5-3.5 1-6-1.5-6zM178 379l-1 2-1 6.5 1 7 1 2 1.5-5.5 0-6.5zM551 360l0 1.5.5-.5zM421 353l-1.5.5-2 5.5 0 7.5 1 1.5 2-1 1.5-5 0-8zM208 353l-1 4.5 0 6.5.5 3 1 1.5 1-4.5 0-6.5-.5-3zM333 352l-2.5 7 0 3.5 1.5 5 2 2 2.5-5 .5-5.5-2.5-7zM126 352l-1 1-1 6.5 1.5 10.5 1.5-5.5 0-7.5zM587 328l-2 5 .5 3 1.5 3 1-1 1-3.5-.5-4zM237 325l-1 4.5 0 8 .5 3 1 1.5 1-3.5.5-6.5-1-6zM149 325l-1 4.5 0 8 1 5 1.5-9zM364 324l-1.5 2.5-1.5 6.5 1.5 6.5 1 2 1 .5 1.5-2.5 1.5-6.5-1.5-6.5-1-2zM433 323l-1.5 2-1.5 6 0 10 2.5 3 1.5-2 2-8.5-.5-6zM112 301l-.5 2 .5 8.5 1-3.5zM620 300l-1.5 2.5-.5 4.5 1 3.5 1.5 1 1.5-2.5.5-4.5-1.5-4zM450 297l-1.5 6 0 7 2 5.5 1.5-4.5.5-7-1.5-6.5zM267 297l-1 2-1 6.5 1.5 9 1-1 1-5.5 0-4zM173 297l-1.5 6 0 5.5 1.5 6 1-4.5 0-8.5zM388 296l-1 .5-1 2-1.5 6 0 3 2.5 7 1.5-.5 2-6 0-7.5-1-3zM403 278l-.5 2 1-1zM475 276l-.5 4 1 1.5 1-3-.5-2zM653 273l-1.5.5-1.5 4 .5 4 1.5 3 1.5-1 1-3 0-3.5zM131 271l-1 3.5 0 9.5 1 3.5 1-6zM294 270l-1.5 10 1 6 1 1.5 1.5-6 0-6-1-4.5zM197 270l-1 5.5 0 6.5.5 3.5 1 1.5 1-5 0-6.5-1-5.5zM685 246l-2 4 0 3 2 4 2-4.5-.5-4zM220 243l-1.5 8.5 1.5 8.5 1.5-7.5-.5-6.5zM150 243l-1 5.5 0 6 1 5.5 1.5-8-.5-6zM322 243l-2 6.5 0 5 1.5 6 1.5-1.5 1-5.5-.5-6zM531 224l.5 0 0 .5-.5 0zM118 220l-.5.5 0 8.5.5.5.5-2.5zM717 219l-1.5 4 0 2.5 1 3.5 1 .5 2-5-1-4zM348 216l-2 7 0 3.5 1.5 6.5 1 .5 1.5-4 .5-6.5-1-5zM244 216l-1.5 6.5.5 8.5 1 2.5 1-5 0-7.5zM170 216l-1.5 8.5 1.5 9 1-6zM561 193l-1.5 3 0 3 1 3.5 1.5-4.5zM751 192l-1 0-1.5 4.5.5 3.5 1.5 2.5 2-4 0-2.5zM435 191l-1.5 2-1 3.5.5 6.5 1 2 1.5-1.5 1-4.5 0-4zM267 189l-1 5.5.5 10 1 1.5 1-5.5 0-6-1-5.5zM190 189l-1 4 0 9 1 4.5 1-5.5 0-7zM134 189l-1 4.5 0 8 1 5 .5-3zM372 188l-1.5 3-1 5 1 7.5 1.5 2.5 1.5-3 1-5-1-7zM784 165l-2 5 1.5 5.5 1.5-.5 1-3-.5-5zM589 164l-1.5 5 .5 6 1 2 1.5-6-.5-4.5zM393 163l-1.5.5-2 6 .5 5 1.5 2.5 1.5-1.5 1.5-5 0-3zM447 162l-1.5 5.5 0 7 1.5 5.5 1.5-7.5 0-4zM290 162l-1 5.5 0 6 1 5.5.5 0 1-5.5 0-6-1-5.5zM209 162l-1 10 1 7 .5 0 1-10-1-7zM150 162l-1 7 1 10 1-6 0-5zM122 140l-.5 2 .5 4 .5-2zM819 138l-1 1-1 3.5 1.5 5 1.5-1 1-3.5zM463 135l-1 5 0 5.5 1 5.5.5-3zM616 135l-1.5 5.5 0 5.5 1.5 5.5 1.5-4.5 0-7.5zM313 134l-1.5 9 1.5 8.5 1.5-7.5-.5-6.5zM229 134l-1 4.5 0 9 1 4 1-5 0-7zM167 134l-.5 3 .5 14.5 1-5 0-7zM483 111l-.5 2.5.5 6.5.5-1.5zM136 111l-.5 3.5.5 5.5.5-.5zM645 108l-1 .5-1 4.5 0 6.5 1.5 5 1-2 1-6zM334 107l-1 4.5 0 8 .5 3.5 1 1 1-10.5zM248 107l-1 6.5 1 10.5 1-3.5 0-10zM184 107l-.5 3 .5 14 1-5.5 0-6zM506 83l-.5 2.5.5 9 .5-1.5zM672 80l-1.5 5.5 0 6 1 4.5 1 .5 1.5-6.5 0-3-1-5.5zM357 80l-.5 0-1 4.5 0 8 1 4.5 1.5-6.5zM268 80l-1 3 0 5-.5.5 1.5 8.5 1-6 0-5zM201 80l-1 7 1 10.5 1-8zM150 80l-1 8 1 9.5 1-6.5zM700 62l-3.5 0 0 3 1.5 5 1-2zM528 62l1 5 .5-5zM376 62l1 5 .5-5zM288 62l-1.5 0 .5 5zM218 62l-1 0 .5 5zM166 62l-1 0 .5 5z"/>
<path fill-rule="evenodd" fill="#00bfff" d="M223 440l-.5 2 1 0zM446 434l-1.5 3.5-.5 4 5 0-1.5-6zM118 434l-1 7.5 2.5 0-.5-6zM373 433l-1.5 2.5-1.5 6 6.5 0-.5-5-1.5-2.5zM262 411l-1 4 1.5 3 1-4zM148 411l-.5 1.5.5 5.5.5-1zM395 406l-1 0-2.5 7.5 0 5.5 2.5 4 1-1 1.5-5.5 0-8.5zM100 385l-1 1.5 0 2 2 1.5 1.5-2.5-1-2zM409 384l-1 .5-1 3 .5 4.5 1-.5 1-2.5zM299 380l-2.5 8 1.5 6 1 1.5 1 0 2-5.5 0-4.5-2-5.5zM178 380l-1.5 5 0 5.5 1.5 5 1.5-5.5 0-4.5zM421 354l-1.5.5-2 6 0 3.5 1.5 3 1.5-1 1.5-5.5 0-4zM208 353l-1.5 5.5 1 8.5 1-1.5.5-3.5zM333 353l-2.5 8 1.5 5.5 2 2 1.5-2 1.5-6.5-2.5-7zM126 353l-1 1-.5 2.5 0 8.5 1 4 1.5-6zM586 329l-1 2.5 0 3 1 2.5 1 0 1-2.5 0-3-1-2.5zM237 326l-1 5 0 5.5 1.5 5 1.5-8-1-6.5zM364 325l-1.5 2.5-1 7 2 6 1 .5 1.5-2.5 1-7-2-6zM149 325l-1 5 0 6 1 5 1-4 0-8zM433 324l-1.5 2-1.5 6 0 7 2 4 2-2 1.5-6 0-6zM112 302l-.5 2 .5 6 1-4zM620 301l-2 5 1.5 4 1 .5 2-4.5-1-3.5zM267 298l-1.5 4.5 0 6.5 1 4.5 1-1 1-6zM173 298l-1.5 6.5.5 6.5 1 2.5 1-4.5 0-6.5zM451 298l-2 6.5.5 7.5 1.5 3 2-8-1-7zM388 297l-1 .5-1 2-1.5 6 1 5 1.5 3 1.5-.5 2-6-.5-7zM475 277l-1 1.5 1 2 .5-1zM652 274l-1.5 3 0 3.5 1 2.5 1 .5 1.5-2.5.5-3-1-3zM131 272l-1 3.5 0 7.5 1 3.5 1-6.5zM294 271l-1.5 8 1 6 1 1.5 1.5-6-.5-7zM197 271l-1 10 1 5.5.5 0 1-10-1-5.5zM685 248l-1.5 4 1.5 4 1 0 1-2.5 0-3-1-2.5zM150 244l-1 1.5-.5 4.5 1 9 1-3zM322 244l-1 1.5-1 5.5.5 5 1.5 4 1-2 1-5.5-1-6.5zM220 244l-1 4.5 0 7 1 4.5 1.5-8zM118 221l-.5 1 0 6 .5.5.5-3zM718 220l-2 4 1.5 4.5 1-.5 1-3-.5-3.5zM348 217l-1 2-1 6 1.5 7 1 .5 1-2 1-6-1.5-7zM244 217l-1.5 7 .5 6 1 2.5 1-5 0-5.5zM170 217l-1 3.5 0 8.5 1 3.5 1-6.5zM561 194l-1 4 1.5 3 .5-5zM751 193l-1.5 1-.5 1.5 0 3 1.5 3 1.5-2.5 0-3.5zM435 192l-1 .5-1 3 0 5 1.5 3 2-6.5zM267 190l-1 9.5.5 4 1 1.5 1-9-.5-4zM190 190l-1 4.5 0 6.5 1 4.5 1-5.5zM134 190l-1 5 0 5.5 1 5 .5-3zM372 189l-1.5 3-1 5 2 8 1.5-1.5 1-4 0-5zM784 166l-1.5 3 0 2 1 2.5 1 .5 1.5-4.5-1-3zM589 165l-1.5 5.5 1.5 5.5 1-3 0-5.5zM393 164l-1 .5-1.5 4 0 5 1.5 2.5 1-.5 1.5-4 0-5zM447 163l-1.5 6 .5 8 1 2 1.5-8zM290 163l-1 9.5 1 5.5.5 0 1-9.5-1-5.5zM209 163l-1 7.5 1 7.5.5 0 1-7.5-1-7.5zM150 162l-1 8 1 8 1-6.5zM122 141l0 3.5.5-1.5zM819 140l-1 0-1 2 0 2.5 1.5 2.5 1.5-3zM463 136l-1 5.5 1 8.5.5-3.5zM616 136l-1.5 5.5 0 3.5 1.5 5.5 1.5-5 0-4.5zM313 135l-1 4 0 7.5 1 4 1-3.5 0-8.5zM229 135l-1 4.5 0 6.5 1 4.5 1-5.5zM167 135l-.5 3 .5 12.5 1-5.5zM483 112l-.5 2.5.5 4.5.5-1.5zM136 112l-.5 3.5.5 3.5.5-1zM644 108l-1.5 5.5 0 4.5 1.5 5 1.5-4.5 0-5.5zM334 108l-1 5 0 5.5 1 5 1.5-7-.5-6zM248 108l-1 6.5 1 9 1-4 0-8zM184 108l-.5 3.5.5 11.5 1-5.5zM506 84l-.5 2 .5 7 .5-1.5zM672 81l-1.5 5.5 0 3.5 1.5 6 1-1.5 1-6-1-6zM356 81l-1 5 .5 9 1 1.5 1-8.5zM268 81l-1 3.5 0 8.5 1 3.5 1-6.5zM201 81l-1 7 1 8.5.5-2zM150 81l-.5 2.5.5 13 1-6.5zM700 62l-3 0 .5 4.5 1 2.5 1-2zM530 62l-1 0 .5 3.5zM376 62l1 4 .5-4zM288 62l-1 0 .5 4zM218 62l-1 0 .5 4zM166 62l-1 0 .5 4z"/>
<path fill-rule="evenodd" fill="#009fff" d="M223 440.5l.5 0 0 .5-.5 0zM446 435l-2 6.5 4.5 0-1-5zM118 435l-1 6.5 2.5 0-.5-5zM373 434l-1.5 2.5-1 5 5.5 0 0-4-1.5-2.5zM262 412l-.5 4 1 1 .5-3.5zM148 412l-.5 2 .5 3 .5-1zM395 407l-1.5.5-2 7 0 3.5 2.5 4 1-1 1.5-5.5 0-5.5zM101 386l-1 1 .5 1.5 1.5-.5zM409 385l-1.5 1.5.5 3.5 1-1.5zM300 381l-1.5.5-1.5 5 .5 5 2 3.5 1-1 1.5-5-.5-4.5zM178 381l-1.5 5 1 8.5 1-.5 1-5-.5-5.5zM421 355l-1.5.5-1.5 4 0 4.5 1 2 1.5-1 1-3.5zM208 354l-.5 0-1 5.5 1 7 1.5-5.5zM334 353l-2 4-.5 4.5 2 5.5 1.5 0 1.5-3.5.5-4.5-2-5.5zM125 353l-1 4.5 0 5.5 1 4.5 1.5-6-.5-6zM587 330l-1 .5-1 2.5 1 3 1 0 1-2.5zM364 326l-2.5 7 1 4.5 1 2 1 .5 1.5-2.5 1-4.5-1-4.5-1-2zM237 326l-1.5 5.5.5 6.5 1 2 1-4 0-6zM149 326l-1 5 1 9 1-4 0-5.5zM433 325l-1.5 2-1.5 6 .5 6.5 1.5 2.5 1 0 1-2 1.5-6.5-.5-5zM112 303l-.5 2 .5 3.5.5-.5zM620 302l-1 1.5-.5 3 1 2.5 1 .5 1-1.5.5-3-1-2.5zM267 299l-1.5 5 0 4 1 4.5 1-1 .5-2.5 0-6.5zM173 299l-1.5 6.5 1 7 .5 0 1-4.5 0-4.5zM451 299l-1 1.5-1 5.5 1.5 8 1-.5 1-4.5 0-5.5zM388 298l-1.5.5-2 6 .5 5 2 3.5 2.5-5 0-6zM474.5 278.5l.5 0 0 .5-.5 0zM652 275l-1.5 4 2 3.5 1.5-3-.5-3.5zM131 273l-1 3.5 0 5.5 1 3.5.5-2zM294 272l-1 4 0 5.5 1 4 .5 0 1.5-7.5-1-5.5zM197 272l-1 7.5.5 4 1 2 1-8-1-5.5zM685 249l-1 3.5 1 2.5 1 0 1-3.5-1-2.5zM322 245l-1 1.5-1 5.5 2 7 1.5-4.5 0-5zM220 245l-1 4.5 0 5 1 4.5 1-3.5 0-7zM150 245l-1 6.5 1 7.5 1-3.5 0-7zM118 222l-.5.5.5 4.5zM718 221l-1.5 2.5 1 4 1.5-1.5 0-3zM348 218l-1.5 4.5 0 4.5 1 4 1 .5 1.5-4.5 0-4.5-1-4zM244 218l-1 3 0 8 1 2.5 1-5zM170 218l-1 3.5 0 6.5 1 3.5 1-6.5zM561 195l-.5 4 1 1 .5-3zM751 194l-1.5 3 1 3 1 0 1-2.5-.5-2.5zM435 193l-1 .5-1 3 .5 4 1 1.5 1.5-4zM267 191l-1 7.5.5 4 1 2 1-7.5-.5-4zM134 191l-1 5 1 8.5.5-3zM372 190l-2 5.5 0 3.5 1.5 5 1.5-1.5 1-4-.5-5zM190 190l-1 5 0 4.5 1 4.5 1-5.5zM784 167l-1.5 3 1 2.5 1 .5 1-2-.5-3.5zM589 166l-1 2.5 0 4 1 2.5 1-3 0-3zM393 165l-1 .5-1.5 4.5.5 3.5 1 1.5 1-.5 1.5-4-.5-4zM447 164l-1.5 6 .5 5.5 1 2.5 1-4 0-7zM290 164l-1 7 .5 4 1 2 1-7-.5-4zM209 164l-.5 10.5.5 2.5.5 0 .5-10.5-.5-2.5zM150 163l-.5 2.5.5 11.5 1-7zM122 142l.5 0 0 .5-.5 0zM819 141l-1 0-.5 1 0 2.5 1 1.5 1-1.5zM463 137l-1 5.5 1 6.5.5-3.5zM616 137l-1.5 6 1.5 6.5 1.5-5-.5-5.5zM313 136l-1 4.5 0 5 1 4 1-3.5 0-6.5zM229 136l-1 4.5 0 4.5 1 4.5 1-5.5zM167 136l-.5 3.5.5 10 1-5.5zM136 114l0 4.5.5-1zM483 113l0 5 .5-2zM644 109l-1.5 5.5.5 5 1 2.5 1.5-4.5-.5-6.5zM335 109l-1 1.5-.5 3.5 1 8.5 1-3zM248 109l-.5 2 .5 11.5 1-4 0-6zM184 109l-.5 3.5.5 10 1-6zM506 85l-.5 2.5.5 4.5.5-1.5zM672 82l-1 1-1 5 1.5 7 1.5-4 0-5zM356 82l-1 8.5.5 3.5 1 1.5.5-10.5zM268 82l-1 4 0 6 1 3.5 1-6.5zM201 82l-.5 1.5.5 12.5.5-2.5zM150 82l-.5 2.5.5 11.5.5-2zM700 62l-3 0 1.5 6 1-2zM529 62l.5 2.5 0-2.5zM377 62l-1 0 .5 2.5zM288 62l-1 0 .5 3zM218 62l-1 0 .5 3zM166 62l-1 0 .5 3z"/>
<path fill-rule="evenodd" fill="#0080ff" d="M446 436l-1 1-1 5 4 0zM118 436l-1 3 0 3 2 0zM373 435l-1 1-1.5 5.5 5.5 0-.5-4-1.5-2.5zM262 414l-.5 1 1 1.5.5-1.5zM148 413l0 3 .5-1.5zM395 408l-1.5.5-1.5 5 0 4.5 2 3 1-1 1-3.5 0-7zM100.5 387.5l.5 0 0 .5-.5 0zM408 387l-.5 1.5.5 0zM300 382l-1.5.5-1.5 5 1 4.5 1.5 2 2-4 0-4zM178 382l-1.5 5.5 1.5 6.5 1-3 0-6.5zM421 356l-1 .5-1.5 4.5.5 3 1 1 1.5-2.5zM208 355l-.5 8.5 1 2 .5-8.5zM334 354l-1.5 2.5-1 4 2 5.5 1.5 0 2-6-2-5.5zM125 354l-1 4.5 1 8 1.5-6zM587 331l-1 2.5 1.5 1.5.5-3zM364 327l-1.5 3-.5 4.5 1.5 4 1 .5 2-4.5 0-2.5-1-3.5zM237 327l-1.5 5.5.5 4.5 1 2 1-4 0-4zM149 327l-1 5.5 1 6.5 1-4.5zM433 326l-1 .5-1.5 5.5 0 5.5 1.5 3.5 1 0 2-6 0-5.5zM112 304l0 3.5.5-.5zM620 304l-1 1.5 0 2 1.5 1.5 1-1.5 0-2zM266 300l-1 7 1.5 5 1-4 0-4.5-.5-2.5zM173 300l-1 2.5 0 6.5 1 3 1-5zM451 300l-1.5 4 0 5.5 1 3.5 1-.5 1-4.5 0-3.5zM388 299l-2 1-1.5 5.5 1 4.5 1.5 2 1.5-2 1-3.5-.5-5zM652 276l-1 3.5 1.5 2 1-1.5 0-2.5zM131 274l-1 3.5 1 7 .5-2zM197 273l-.5 9.5 1 2 .5-9.5zM294 273l-1.5 4.5 0 3.5 1 4 1.5-3 0-5.5zM685 250l-.5 3 1 1 1-2.5zM322 246l-1.5 4 0 4 1.5 4 1.5-4.5 0-3zM220 246l-1 4.5 1 7.5 1-4 0-4zM150 246l-.5 2 .5 10 1-3.5 0-5zM118 223l-.5.5.5 2zM717 223l-.5 3 1 1 1-2.5zM348 219l-1.5 4.5 0 2.5 1 4 1 .5 1-2 .5-5-1-4zM244 219l-1 3 .5 8.5 1-1.5.5-3.5zM170 219l-1 3.5 0 4.5 1 3.5.5-2zM561 196l-1 1 .5 1.5zM751 195l-1 1.5.5 2.5 1 0 .5-1 0-2zM434 194l-1 2 0 2.5 1 2 1-2 0-3zM267 192l-.5 9.5 1 2 .5-9.5zM372 191l-2 5.5 1.5 6.5 1 0 1.5-6-1-4.5zM190 191l-1 5 1 7 1-6zM134 191l-1 5.5 1 6.5.5-3zM784 168l-1 2.5 1.5 1.5.5-3zM589 167l-1 2.5 1 4.5 1-3zM393 166l-1 .5-1 2.5 0 3.5 1 1.5 1-.5 1-2.5 0-2.5zM209 165l-.5 8.5.5 2.5.5 0 .5-8.5-.5-2.5zM447 164l-1 3 0 6.5 1 3 1-4 0-5zM290 164l-.5 9.5 1 2 .5-9-.5-2.5zM150 164l-.5 2.5.5 9.5.5-1.5zM818 142l-.5 1.5.5 1 1 0 0-2zM616 138l-1 2.5 0 5.5 1 2.5 1.5-5zM463 138l-.5 1 .5 9.5.5-3.5zM313 137l-1 4.5 1 7.5 1-4 0-4.5zM229 137l-1 4.5 1 7.5 1-6zM167 137l-.5 3.5.5 8 1-5.5zM482.5 114.5l.5 0 0 .5-.5 0zM136 115l0 2.5.5-1zM644 110l-1 2.5 0 6 1 2.5 1.5-5-.5-4zM184 110l-.5 3.5.5 8 .5-1 0-10zM334 110l-1 5.5 1 6.5 1-3 0-6zM248 110l-.5 2.5.5 9.5 1-4 0-4zM506 86l-.5 2.5.5 2.5.5-2zM672 83l-1.5 3 0 5 1 3 1.5-4zM356 83l-1 5.5 1 6.5 1-3 0-6zM268 83l-1 4 0 4 1 4 .5-2.5zM201 83l-.5 1.5.5 10.5.5-2.5zM150 83l-.5 2.5.5 9.5.5-1.5zM700 62l-2.5 0 0 2.5 1 2.5zM529 62l.5 1.5 0-1.5zM376 62l.5 1.5 0-1.5zM288 62l-1 0 .5 2zM217 62l.5 1.5 0-1.5zM165 62l.5 2 0-2z"/>
<path fill-rule="evenodd" fill="#0060ff" d="M446 437l-1 1-1 4 3.5 0zM118 437l-1 5 1.5 0zM373 436l-1 1.5-1 4.5 4.5 0-.5-4zM261.5 414.5l.5 0 0 .5-.5 0zM147.5 414.5l.5 0 0 .5-.5 0zM395 408l-1.5 2-1 4 0 2.5 1.5 3 1 0 1.5-4-.5-6.5zM178 383l-1 2 0 5.5 1 2.5 1-3 0-4zM300 382l-2 4 0 2.5 1.5 4 1.5-1 1-3-.5-4zM421 357l-1 0-1 2.5 0 2 1 1.5 1.5-2.5zM208 356l-.5 6.5 1 2 .5-6.5zM334 355l-2 4 0 2.5 1.5 3.5 1 .5 2-4 0-2.5-1.5-3.5zM125 355l-1 4.5 1 6 1-2.5 0-5.5zM587 332l-.5.5.5 1.5.5-.5zM364 328l-2 5 1 3.5 1.5 1.5 2-5-1-3.5zM237 328l-1 2 0 6 1 2 1-4zM149 328l-.5 1.5.5 8.5 1-4.5zM434 327l-1.5.5-1.5 5.5.5 5 1 2 1 0 2-6-.5-5zM112 306l0 1 .5-.5zM620 305l-1 1.5 1.5 1.5 1-1.5zM266 301l-.5 8 1 2 1-6.5-.5-2.5zM173 301l-.5 7 1 3 .5-8.5zM450 301l-1 7 1 4 .5 0 1.5-6-1-4.5zM388 300l-1.5 1-1 3.5 0 2.5 1.5 4 1.5-.5 1-3 0-4zM652 277l-.5 2.5 1 1 1-2zM131 275l-1 3.5 1 5 .5-2zM197 274l-.5 7.5 1 2 .5-7.5zM294 274l-1.5 4.5 1 5.5 1.5-3 0-3.5zM685 251l-1 1 1 1 .5-.5zM322 247l-1.5 4 .5 4.5 1 1.5 1.5-5zM220 247l-1 4.5 1 5.5 1-4zM150 247l-.5 2 .5 8 1-4zM118 224l.5 0 0 .5-.5 0zM717 224l-.5 1 1 .5.5-1zM348 220l-1.5 5 1 4 1 1 1.5-5-1-4.5zM244 220l-1 3 0 4 1 3 .5-2zM170 220l-1 4 1 6 .5-2.5zM561 197l.5 0 0 .5-.5 0zM751 196l-.5 1.5 1 .5zM434 196l-.5.5.5 3 .5-.5zM267 193l-.5 7.5 1 2 .5-7.5zM372 192l-1 3 0 4 1.5 3.5 1.5-4 0-3-1-3zM190 192l-1 5 1 5 .5-1.5zM134 192l-.5 1 0 8.5.5.5.5-3zM785 169l-1 .5.5 1.5 1-1zM589 168l-1 2.5 1 2.5.5-1zM393 167l-1 .5-1 3 1 2.5 1.5-1.5zM447 165l-1 3 0 4.5 1 3 1-4.5zM290 165l-.5 7.5.5 2.5.5 0 .5-7.5-.5-2.5zM209 165l-.5 7 .5 2.5.5 0 .5-6.5-.5-3zM150 165l-.5 2.5.5 7.5.5-1.5zM818.5 142.5l.5 0 0 .5-.5 0zM616 139l-1 3 0 3 1 2.5 1-2 0-4zM463 139l-.5 1 .5 7.5.5-3.5zM167 138l-.5 3.5.5 6 .5-.5zM313 138l-1 5 1 5.5 1-4zM229 138l-1 5.5 1 5 .5-2zM482.5 115.5l.5 0 0 .5-.5 0zM136 115.5l.5 0 0 .5-.5 0zM644 111l-1 2.5 0 4 1 2.5 1-2 0-5zM334 111l-.5 2 .5 8 1-3 0-4zM248 111l-.5 2.5.5 7.5 1-4zM184 111l-.5 4 .5 6 .5-1zM505.5 87l.5 0 0 .5-.5 0zM672 84l-1.5 3 0 3 1 3 1-1.5.5-3zM356 84l-.5 1.5.5 8.5 1-3 0-4zM268 84l-1 4 1 6 .5-2.5zM201 84l-.5 1.5.5 8.5.5-2.5zM150 84l-.5 2.5.5 7.5.5-1.5zM699 62l-2 0 1 4 1-2zM529 61.5l.5 0 0 .5-.5 0zM376 61.5l.5 0 0 .5-.5 0zM287 61.5l.5 0 0 .5-.5 0zM217 61.5l.5 0 0 .5-.5 0zM165 61.5l.5 0 0 .5-.5 0z"/>
<path fill-rule="evenodd" fill="#0040ff" d="M446 438l-1 4 3 0-1-3.5zM118 438l-1 4 1.5 0zM373 437l-2 5 4.5 0-.5-3zM395 409l-2 4 0 3.5 1 2 1 0 1-2.5 0-5.5zM300 383l-2 4 1.5 4.5 1 0 1.5-4zM178 383l-1 2.5 0 3.5 1 2.5 1-3zM420 359l-.5 2.5 1 .5.5-2.5zM208 357l-.5 4.5 1 2 .5-4.5zM334 356l-2 4 1.5 4 1 .5 2-4.5-1.5-3.5zM125 356l-.5 1.5.5 7 1-2.5 0-3.5zM586.5 333l.5 0 0 .5-.5 0zM364 329l-1.5 3 0 2 2 3.5 1.5-3.5 0-2-1-2.5zM237 329l-1 2 .5 6 1-1 .5-3zM149 329l-.5 1.5.5 6.5.5-1zM433 328l-2 4 0 4.5 1.5 3.5 2-4.5 0-4.5zM620 306l-.5.5 1 .5.5-.5zM173 302l-.5 5 1 3 .5-6.5zM267 302l-1 2.5 0 4 1 2 1-4zM451 301l-1.5 4.5 1.5 5.5 1-3 0-4.5zM388 301l-1 .5-1.5 4.5 2 4.5 2-4zM653 279l-.5-.5-.5 1zM131 276l-.5.5 0 5.5.5.5.5-2.5zM197 275l-.5 5.5 1 2 .5-5.5zM294 275l-1 2 0 4.5 1 2 1-3.5zM685 251.5l.5 0 0 .5-.5 0zM322 248l-.5 6.5 1 1.5 1-2 0-4-.5-1.5zM220 248l-.5 1 .5 7 1-4zM150 248l-.5 2 .5 6 1-4zM170 221l-1 4 1 4 .5-2.5zM348 220l-1 3 0 3 1.5 2.5 1-2.5 0-3zM244 220l-1 3.5 1 5 .5-2zM434 197l.5 0 0 .5-.5 0zM372 193l-1 5 1.5 3.5 1.5-5-1-3zM267 193l-.5 6 1 2 .5-5.5-.5-2.5zM190 193l-.5 1 .5 7.5.5-2zM134 193l-.5 1 0 6.5.5.5.5-3zM784 170l.5 0 0 .5-.5 0zM589 169l-.5.5.5 2.5.5-1zM393 168l-1.5 1.5.5 2 1.5-1.5zM447 166l-1 3.5 1 5 1-4.5zM290 166l-.5 5.5.5 2.5.5 0 .5-5.5-.5-2.5zM209 166l-.5 5 .5 3 .5 0 .5-5-.5-3zM150 166l-.5 2.5.5 5.5.5-1.5zM616 140l-1 3 1 3.5 1-2zM463 140l-.5 1 .5 5.5zM167 139l-.5 3.5.5 4.5.5-1 0-6.5zM313 139l-.5 1.5.5 7 1-4zM229 139l-.5 1.5.5 7 .5-2zM644 112l-1 3 1 4.5 1-2.5 0-3zM334 112l-.5 2 .5 6 1-3zM248 112l-.5 2.5.5 5.5.5-.5 0-7zM184 112l-.5 4 .5 4 .5-1zM505.5 88l.5 0 0 .5-.5 0zM672 85l-1 4 1.5 3 .5-5.5zM356 85l-.5 1.5.5 6.5 1-3zM268 85l-1 4 1 4 .5-2.5zM201 85l-.5 1.5.5 6.5.5-2.5zM150 85l-.5 2.5.5 5.5.5-1.5zM699 62l-2 0 1 3z"/>
<path fill-rule="evenodd" fill="#0020ff" d="M446 439l-1 3 2.5 0-.5-2.5zM118 439l-1 3 1.5 0zM373 438l-1.5 4 3.5 0-.5-3zM395 410l-2 4 .5 3 1 1 1.5-3 0-2.5zM300 384l-1.5 2.5 0 2 1 2 1 0 1-2.5 0-1.5zM178 384l-1 2.5 1 4 1-3zM208 358l-.5 2.5 1 2 .5-2.5zM334 357l-1 1-.5 3 1 2 1 .5 1.5-2.5-.5-3zM125 357l-.5 1.5.5 5 1-2.5zM237 330l-.5 4 1 2 .5-5zM149 330l-.5 1.5.5 5 .5-1.5zM364 330l-1.5 3.5 1 3 1 .5 1.5-3.5zM433 329l-2 4 .5 4 1 2 2-4.5-.5-4zM267 303l-1 2.5.5 4 1-1zM173 303l-1 3 1 3.5.5-1.5zM451 302l-1 2 0 4 1 2 1-3 0-2.5zM388 302l-1 .5-1 2.5 0 2 1.5 2.5 1.5-2.5 0-2.5zM131 277l-.5.5.5 4 .5-2.5zM294 276l-.5 4.5 1 2 .5-5.5zM197 276l-.5 4 1 2 .5-3.5-.5-2.5zM150 249l-.5 2 .5 4 .5-.5 0-5zM322 248l-1 2 0 3 1 2 1-2.5zM220 248l-.5 1.5.5 5.5.5-1zM348 221l-1 4 1.5 2.5 1-3.5zM244 221l-.5.5 0 5.5.5.5.5-2zM170 221l-.5 1 0 5 .5.5.5-2.5zM372 194l-1 3 1.5 3.5 1-2 0-3zM267 194l-.5 4 1 2 .5-3.5-.5-2.5zM190 194l-.5 1 .5 5.5.5-2zM134 194l-.5 1 .5 5.5zM589 170l-.5.5.5.5zM392 170l.5 1 .5-.5zM447 167l-.5.5.5 6 .5-1.5zM290 167l-.5 3.5.5 2.5.5 0 .5-3.5-.5-2.5zM209 167l-.5 3 .5 3 .5 0 .5-3-.5-3zM150 167l-.5 3 .5 3.5.5-1.5zM616 141l-.5.5.5 4.5 1-2.5zM463 141l-.5 1 .5 3.5zM313 140l-.5 1.5.5 5 .5-1zM229 140l-.5 1 .5 5.5.5-2zM167 140l0 6.5.5-1zM644 113l-.5.5.5 5 1-2.5zM334 113l-.5 2 .5 4.5 1-3.5zM248 113l-.5 2.5.5 3.5.5-.5 0-5zM184 113l0 6 .5-1zM672 86l-.5 4.5 1 1 .5-3.5zM357 86l-1 1.5.5 4.5 1-3zM268 86l-.5.5 0 5 .5.5.5-2.5zM201 85l-.5 2 .5 4.5.5-2.5zM150 85l-.5 3 .5 3.5.5-1.5zM699 62l-1.5 0 .5 2z"/>
<path fill-rule="evenodd" fill="#0000ff" d="M446 440l-.5 2 2 0-.5-1.5zM118 440l-.5 2 1 0zM373 439l-1.5 3 3.5 0-.5-2zM395 412l-1 .5-.5 3.5 1 1.5 1-1.5zM299 385l-1 2.5 1.5 2.5 1-1.5 0-2.5zM178 385l-.5.5.5 4.5.5-1zM208 359l0 2.5.5 0 0-2.5zM334 358l-1 1 0 2 1.5 1.5 1-1.5 0-2zM125 358l-.5 1.5.5 3 .5-.5zM364 331l-1 3 .5 1.5 1 .5 1-3-.5-1.5zM237 331l-1 2.5 1 2.5.5-1.5zM149 331l-.5 2 .5 3 .5-1zM433 330l-1 2.5 0 3 .5 1.5 1 .5 1-2.5 0-3.5zM267 304l-1 2.5.5 2 1-1zM173 304l-.5.5.5 4 .5-1.5zM451 303l-1 2 1 4 1-3zM388 303l-1.5 1.5 0 2.5 1 1.5 1.5-2.5zM131 277l-.5 1 .5 2zM294 277l-.5 2.5 1 2 .5-3.5zM197 277l0 4.5.5 0 0-4.5zM150 250l-.5 2 .5 2 .5-.5zM322 249l-1 2 1 3 1-2.5zM220 249l-.5 1.5.5 3.5.5-1zM348 222l-.5 3.5 1 1 .5-3.5zM244 222l-.5.5.5 4 .5-2zM170 222l-.5.5.5 4zM267 195l0 4 .5 0 0-4zM190 195l-.5 1 .5 3.5.5-2zM134 195l-.5 1 .5 3.5zM372 195l-1 1.5 0 2 1 1.5 1-2zM447 168l-.5.5.5 4 .5-1.5zM290 168l0 4 .5 0 0-4zM209 168l0 4 .5 0 0-4zM150 168l0 5 .5-2zM463 142l-.5 1 .5 1.5zM616 141l-.5 1 .5 2.5.5-.5zM313 141l-.5 1.5.5 3 .5-1zM229 141l-.5 1 .5 3.5.5-2zM167 141l0 4.5.5-1zM644 114l-.5.5.5 3 .5-.5zM334 114l-.5 2 .5 2.5.5-.5zM248 114l0 4.5.5-1zM184 114l0 4 .5-1zM672 87l-.5 2.5 1 1 .5-1.5zM356 86l-.5 2 .5 2.5.5-.5zM268 86l-.5 1 .5 3.5zM201 86l-.5 2 .5 3zM150 86l0 5 .5-2zM699 62l-1 0 .5 1.5z"/>
<path fill-rule="evenodd" fill="#0000df" d="M445 442l1.5 0 0-.5-1-.5zM118 440.5l.5 0 0 .5-.5 0zM372 442l2.5 0-1-2zM395 413l-1 .5.5 2.5 1-1.5zM300 386l-1 0-.5 1 1 2 1-1.5zM178 386l-.5.5.5 2.5.5-1zM207.5 360l.5 0 0 .5-.5 0zM333 359l-.5 1 1.5 1.5 1-1.5-.5-1zM125 359l0 2.5.5 0 0-2.5zM364 332l-.5 2.5 1 .5.5-2.5zM237 332l-.5.5.5 2.5.5-1.5zM149 332l0 3 .5-1zM433 331l-1 3 1.5 2.5 1-3.5-.5-1.5zM388 305l-1 0-.5 1.5 1 1.5 1-1.5zM267 305l-.5.5.5 2.5.5-1.5zM173 305l-.5 2.5.5 0zM451 304l-.5.5.5 3.5.5-1zM130.5 278l.5 0 0 .5-.5 0zM294 278l0 2.5.5 0 .5-1.5zM197 278l0 2.5.5 0 0-2.5zM322 250l-.5.5.5 2.5.5-.5zM220 250l-.5 1.5.5 1.5.5-1zM150 250l0 3 .5-1zM348 223l-.5 1.5 1 1 .5-1.5zM244 223l-.5.5.5 2zM170 223l-.5.5.5 2zM267 196l0 2.5.5 0 0-2.5zM134 196l-.5 1 .5 1.5zM372 196l-1 1.5.5 1.5 1-.5zM190 196l-.5 1.5.5 1.5zM447 169l-.5 1 .5 1zM290 169l0 2 .5 0 0-2zM209 169l0 2 .5 0 0-2zM150 168.5l.5 0 0 .5-.5 0zM463 142.5l.5 0 0 .5-.5 0zM616 142l0 1.5.5-.5zM313 142l0 2.5.5-1zM229 142l-.5 1 .5 1.5zM167 142l0 2.5.5-1zM644 115l-.5 1 .5 1 .5-.5zM334 115l0 2.5.5-.5zM248 115l0 2.5.5-1zM184 115l0 2.5.5-1zM672 88l0 2 .5-.5zM356 87l0 3 .5-.5zM268 87l-.5 1 .5 2zM201 87l.5 0 0 .5-.5 0zM150 87l.5 0 0 .5-.5 0zM698.5 61.5l.5 0 0 .5-.5 0z"/>
<path fill-rule="evenodd" fill="#0000bf" d="M117.5 441.5l.5 0 0 .5-.5 0zM446 441l.5 0 0 .5-.5 0zM372 441l0 .5 1.5 0-.5-1zM394 414.5l.5 0 0 .5-.5 0zM300 387l-1 .5.5.5zM178 387l-.5.5.5.5zM334 360l-.5.5 1 .5.5-.5zM125 359.5l.5 0 0 .5-.5 0zM364 333l-.5.5 1 .5.5-.5zM237 333l-.5.5.5.5zM149 332.5l.5 0 0 .5-.5 0zM433 332l-.5 2 1 1 .5-2zM388 306l-.5-.5-.5.5zM266 305.5l.5 0 0 .5-.5 0zM173 306l-.5.5.5.5zM451 305l-.5.5.5 1.5.5-1zM196.5 278.5l.5 0 0 .5-.5 0zM294 278l.5 0 0 .5-.5 0zM322 251l-.5.5.5.5.5-.5zM220 251l.5 0 0 .5-.5 0zM150 251l0 1 .5-.5zM347.5 224l.5 0 0 .5-.5 0zM244 224l.5 0 0 .5-.5 0zM169.5 224l.5 0 0 .5-.5 0zM266.5 197l.5 0 0 .5-.5 0zM134 197l.5 0 0 .5-.5 0zM373 197l-.5-.5-.5 1zM189.5 196.5l.5 0 0 .5-.5 0zM446.5 170l.5 0 0 .5-.5 0zM208.5 170l.5 0 0 .5-.5 0zM289.5 169.5l.5 0 0 .5-.5 0zM150 169.5l.5 0 0 .5-.5 0zM166.5 142.5l.5 0 0 .5-.5 0zM312.5 142l.5 0 0 .5-.5 0zM229 142l.5 0 0 .5-.5 0zM644 115.5l.5 0 0 .5-.5 0zM183.5 115.5l.5 0 0 .5-.5 0zM334 115l0 1 .5-.5zM247.5 115l.5 0 0 .5-.5 0zM671.5 88.5l.5 0 0 .5-.5 0zM356 88l0 1 .5-.5zM267.5 88l.5 0 0 .5-.5 0zM201 88l.5 0 0 .5-.5 0zM150 88l.5 0 0 .5-.5 0z"/>
<path fill-rule="evenodd" fill="#00009f" d="M372.5 441.5l.5 0 0 .5-.5 0zM432.5 333l.5 0 0 .5-.5 0z"/>
</g>
<g fill="none" stroke="#000" stroke-width="3.3" stroke-linecap="round" stroke-dasharray="3 6.8">
<path d="M127.6 61.0 L94.6 118.3"/>
<path d="M167.1 58.5 L150.3 88.4 L136.4 115.6 L122.3 142.8 L104.6 170.0 L88.0 195.0"/>
<path d="M217.2 58.5 L201.2 88.4 L183.9 115.6 L166.9 142.8 L150.3 170.0 L134.1 197.2 L118.1 224.4 L95.8 253.8"/>
<path d="M290.0 58.5 L267.6 88.4 L247.9 115.6 L229.2 142.8 L209.0 170.0 L189.7 197.2 L169.6 224.4 L149.9 251.6 L130.3 279.4 L111.6 305.0 L90.9 330.6"/>
<path d="M382.0 59.0 L356.4 88.4 L334.4 115.6 L312.8 142.8 L290.0 170.0 L267.0 197.2 L244.1 224.4 L220.3 251.6 L197.0 278.8 L173.1 306.0 L149.3 333.2 L125.4 360.4 L104.7 388.6"/>
<path d="M435.0 58.5 L428.0 88.4 L419.0 115.6 L408.7 142.8 L392.2 170.0 L372.2 197.2 L348.0 224.4 L322.2 251.6 L294.1 278.8 L266.6 306.0 L237.1 333.2 L208.0 360.4 L177.7 387.6 L148.0 413.2 L115.5 437.0"/>
<path d="M226.0 437.5 L262.0 414.8 L299.7 387.6 L334.0 360.4 L364.0 333.2 L387.3 306.0 L404.2 278.8 L416.0 251.6 L426.0 224.4 L434.3 197.2 L446.7 170.0 L463.1 142.8 L482.8 115.6 L505.8 88.4 L528.5 59.5"/>
<path d="M373.4 441.5 L393.6 414.8 L408.4 387.6 L419.5 360.4 L433.5 333.2 L450.7 306.0 L475.1 278.8 L502.7 251.6 L531.6 224.4 L560.9 197.2 L588.7 170.0 L616.3 142.8 L644.3 115.6 L671.9 88.4 L698.3 64.3 L701.0 61.0"/>
<path d="M446.1 441.5 L476.6 416.5 L514.5 387.6 L550.9 360.4 L586.8 333.2 L620.5 306.0 L652.6 278.8 L685.2 251.6 L717.6 224.4 L750.8 197.2 L784.4 170.0 L818.7 142.8 L848.8 116.3"/>
<path d="M655.0 441.0 L664.0 434.4 L708.6 412.6 L750.2 387.7 L791.7 359.6 L835.3 332.6 L838.4 331.6"/>
</g>
<path d="M110.2 61.4 L115.6 65.0" stroke="#000" stroke-width="1.4" stroke-linecap="round"/>
<path d="M143.9 64.7 L149.3 61.4" stroke="#000" stroke-width="1.4" stroke-linecap="round"/>
<defs><linearGradient id="cba" x1="0" y1="0" x2="0" y2="1"><stop offset="0.0000" stop-color="#800000"/><stop offset="0.0156" stop-color="#800000"/><stop offset="0.0156" stop-color="#8f0000"/><stop offset="0.0312" stop-color="#8f0000"/><stop offset="0.0312" stop-color="#9f0000"/><stop offset="0.0469" stop-color="#9f0000"/><stop offset="0.0469" stop-color="#af0000"/><stop offset="0.0625" stop-color="#af0000"/><stop offset="0.0625" stop-color="#bf0000"/><stop offset="0.0781" stop-color="#bf0000"/><stop offset="0.0781" stop-color="#cf0000"/><stop offset="0.0938" stop-color="#cf0000"/><stop offset="0.0938" stop-color="#df0000"/><stop offset="0.1094" stop-color="#df0000"/><stop offset="0.1094" stop-color="#ef0000"/><stop offset="0.1250" stop-color="#ef0000"/><stop offset="0.1250" stop-color="#ff0000"/><stop offset="0.1406" stop-color="#ff0000"/><stop offset="0.1406" stop-color="#ff1000"/><stop offset="0.1562" stop-color="#ff1000"/><stop offset="0.1562" stop-color="#ff2000"/><stop offset="0.1719" stop-color="#ff2000"/><stop offset="0.1719" stop-color="#ff3000"/><stop offset="0.1875" stop-color="#ff3000"/><stop offset="0.1875" stop-color="#ff4000"/><stop offset="0.2031" stop-color="#ff4000"/><stop offset="0.2031" stop-color="#ff5000"/><stop offset="0.2188" stop-color="#ff5000"/><stop offset="0.2188" stop-color="#ff6000"/><stop offset="0.2344" stop-color="#ff6000"/><stop offset="0.2344" stop-color="#ff7000"/><stop offset="0.2500" stop-color="#ff7000"/><stop offset="0.2500" stop-color="#ff8000"/><stop offset="0.2656" stop-color="#ff8000"/><stop offset="0.2656" stop-color="#ff8f00"/><stop offset="0.2812" stop-color="#ff8f00"/><stop offset="0.2812" stop-color="#ff9f00"/><stop offset="0.2969" stop-color="#ff9f00"/><stop offset="0.2969" stop-color="#ffaf00"/><stop offset="0.3125" stop-color="#ffaf00"/><stop offset="0.3125" stop-color="#ffbf00"/><stop offset="0.3281" stop-color="#ffbf00"/><stop offset="0.3281" stop-color="#ffcf00"/><stop offset="0.3438" stop-color="#ffcf00"/><stop offset="0.3438" stop-color="#ffdf00"/><stop offset="0.3594" stop-color="#ffdf00"/><stop offset="0.3594" stop-color="#ffef00"/><stop offset="0.3750" stop-color="#ffef00"/><stop offset="0.3750" stop-color="#ffff00"/><stop offset="0.3906" stop-color="#ffff00"/><stop offset="0.3906" stop-color="#efff10"/><stop offset="0.4062" stop-color="#efff10"/><stop offset="0.4062" stop-color="#dfff20"/><stop offset="0.4219" stop-color="#dfff20"/><stop offset="0.4219" stop-color="#cfff30"/><stop offset="0.4375" stop-color="#cfff30"/><stop offset="0.4375" stop-color="#bfff40"/><stop offset="0.4531" stop-color="#bfff40"/><stop offset="0.4531" stop-color="#afff50"/><stop offset="0.4688" stop-color="#afff50"/><stop offset="0.4688" stop-color="#9fff60"/><stop offset="0.4844" stop-color="#9fff60"/><stop offset="0.4844" stop-color="#8fff70"/><stop offset="0.5000" stop-color="#8fff70"/><stop offset="0.5000" stop-color="#80ff80"/><stop offset="0.5156" stop-color="#80ff80"/><stop offset="0.5156" stop-color="#70ff8f"/><stop offset="0.5312" stop-color="#70ff8f"/><stop offset="0.5312" stop-color="#60ff9f"/><stop offset="0.5469" stop-color="#60ff9f"/><stop offset="0.5469" stop-color="#50ffaf"/><stop offset="0.5625" stop-color="#50ffaf"/><stop offset="0.5625" stop-color="#40ffbf"/><stop offset="0.5781" stop-color="#40ffbf"/><stop offset="0.5781" stop-color="#30ffcf"/><stop offset="0.5938" stop-color="#30ffcf"/><stop offset="0.5938" stop-color="#20ffdf"/><stop offset="0.6094" stop-color="#20ffdf"/><stop offset="0.6094" stop-color="#10ffef"/><stop offset="0.6250" stop-color="#10ffef"/><stop offset="0.6250" stop-color="#00ffff"/><stop offset="0.6406" stop-color="#00ffff"/><stop offset="0.6406" stop-color="#00efff"/><stop offset="0.6562" stop-color="#00efff"/><stop offset="0.6562" stop-color="#00dfff"/><stop offset="0.6719" stop-color="#00dfff"/><stop offset="0.6719" stop-color="#00cfff"/><stop offset="0.6875" stop-color="#00cfff"/><stop offset="0.6875" stop-color="#00bfff"/><stop offset="0.7031" stop-color="#00bfff"/><stop offset="0.7031" stop-color="#00afff"/><stop offset="0.7188" stop-color="#00afff"/><stop offset="0.7188" stop-color="#009fff"/><stop offset="0.7344" stop-color="#009fff"/><stop offset="0.7344" stop-color="#008fff"/><stop offset="0.7500" stop-color="#008fff"/><stop offset="0.7500" stop-color="#0080ff"/><stop offset="0.7656" stop-color="#0080ff"/><stop offset="0.7656" stop-color="#0070ff"/><stop offset="0.7812" stop-color="#0070ff"/><stop offset="0.7812" stop-color="#0060ff"/><stop offset="0.7969" stop-color="#0060ff"/><stop offset="0.7969" stop-color="#0050ff"/><stop offset="0.8125" stop-color="#0050ff"/><stop offset="0.8125" stop-color="#0040ff"/><stop offset="0.8281" stop-color="#0040ff"/><stop offset="0.8281" stop-color="#0030ff"/><stop offset="0.8438" stop-color="#0030ff"/><stop offset="0.8438" stop-color="#0020ff"/><stop offset="0.8594" stop-color="#0020ff"/><stop offset="0.8594" stop-color="#0010ff"/><stop offset="0.8750" stop-color="#0010ff"/><stop offset="0.8750" stop-color="#0000ff"/><stop offset="0.8906" stop-color="#0000ff"/><stop offset="0.8906" stop-color="#0000ef"/><stop offset="0.9062" stop-color="#0000ef"/><stop offset="0.9062" stop-color="#0000df"/><stop offset="0.9219" stop-color="#0000df"/><stop offset="0.9219" stop-color="#0000cf"/><stop offset="0.9375" stop-color="#0000cf"/><stop offset="0.9375" stop-color="#0000bf"/><stop offset="0.9531" stop-color="#0000bf"/><stop offset="0.9531" stop-color="#0000af"/><stop offset="0.9688" stop-color="#0000af"/><stop offset="0.9688" stop-color="#00009f"/><stop offset="0.9844" stop-color="#00009f"/><stop offset="0.9844" stop-color="#00008f"/><stop offset="1.0000" stop-color="#00008f"/></linearGradient></defs>
<rect x="877.7" y="61.5" width="18.6" height="380.9" fill="url(#cba)"/>
<rect x="877.7" y="61.5" width="18.6" height="380.9" fill="none" stroke="#333" stroke-width="0.6"/>
<line x1="894.1" x2="896.3" y1="404.3" y2="404.3" stroke="#333" stroke-width="0.8"/>
<line x1="894.1" x2="896.3" y1="366.2" y2="366.2" stroke="#333" stroke-width="0.8"/>
<line x1="894.1" x2="896.3" y1="328.1" y2="328.1" stroke="#333" stroke-width="0.8"/>
<line x1="894.1" x2="896.3" y1="290.0" y2="290.0" stroke="#333" stroke-width="0.8"/>
<line x1="894.1" x2="896.3" y1="251.9" y2="251.9" stroke="#333" stroke-width="0.8"/>
<line x1="894.1" x2="896.3" y1="213.9" y2="213.9" stroke="#333" stroke-width="0.8"/>
<line x1="894.1" x2="896.3" y1="175.8" y2="175.8" stroke="#333" stroke-width="0.8"/>
<line x1="894.1" x2="896.3" y1="137.7" y2="137.7" stroke="#333" stroke-width="0.8"/>
<line x1="894.1" x2="896.3" y1="99.6" y2="99.6" stroke="#333" stroke-width="0.8"/>
<g opacity="0.999"><text x="92.0" y="80.5" font-family="Liberation Serif" font-weight="bold" font-size="26" fill="#fff">P<tspan font-size="17.5">1</tspan></text>
<text x="95.5" y="145.0" font-family="Liberation Serif" font-weight="bold" font-size="26" fill="#fff">P<tspan font-size="17.5">2</tspan></text>
<text x="98.5" y="210.5" font-family="Liberation Serif" font-weight="bold" font-size="26" fill="#fff">P<tspan font-size="17.5">3</tspan></text>
<text x="98.9" y="283.4" font-family="Liberation Serif" font-weight="bold" font-size="26" fill="#fff">P<tspan font-size="17.5">4</tspan></text>
<text x="94.2" y="352.0" font-family="Liberation Serif" font-weight="bold" font-size="26" fill="#fff">P<tspan font-size="17.5">5</tspan></text>
<text x="140.1" y="385.7" font-family="Liberation Serif" font-weight="bold" font-size="26" fill="#fff">P<tspan font-size="17.5">6</tspan></text>
<text x="223.5" y="416.5" font-family="Liberation Serif" font-weight="bold" font-size="26" fill="#fff">P<tspan font-size="17.5">7</tspan></text>
<text x="374.5" y="385.6" font-family="Liberation Serif" font-weight="bold" font-size="26" fill="#fff">P<tspan font-size="17.5">8</tspan></text>
<text x="504.2" y="358.6" font-family="Liberation Serif" font-weight="bold" font-size="26" fill="#fff">P<tspan font-size="17.5">9</tspan></text>
<text x="660.0" y="409.8" font-family="Liberation Serif" font-weight="bold" font-size="26" fill="#fff">P<tspan font-size="17.5">10</tspan></text>
<text x="78.5" y="73.0" font-family="Liberation Serif" font-weight="bold" font-size="32" text-anchor="end" fill="#222">2.4</text>
<text x="78.5" y="127.4" font-family="Liberation Serif" font-weight="bold" font-size="32" text-anchor="end" fill="#222">2.2</text>
<text x="78.5" y="181.7" font-family="Liberation Serif" font-weight="bold" font-size="32" text-anchor="end" fill="#222">2</text>
<text x="78.5" y="236.1" font-family="Liberation Serif" font-weight="bold" font-size="32" text-anchor="end" fill="#222">1.8</text>
<text x="78.5" y="290.4" font-family="Liberation Serif" font-weight="bold" font-size="32" text-anchor="end" fill="#222">1.6</text>
<text x="78.5" y="344.8" font-family="Liberation Serif" font-weight="bold" font-size="32" text-anchor="end" fill="#222">1.4</text>
<text x="78.5" y="399.1" font-family="Liberation Serif" font-weight="bold" font-size="32" text-anchor="end" fill="#222">1.2</text>
<text x="78.5" y="453.5" font-family="Liberation Serif" font-weight="bold" font-size="32" text-anchor="end" fill="#222">1</text>
<text x="88.3" y="480.8" font-family="Liberation Serif" font-weight="bold" font-size="32" text-anchor="middle" fill="#222">0.7</text>
<text x="172.9" y="480.8" font-family="Liberation Serif" font-weight="bold" font-size="32" text-anchor="middle" fill="#222">0.9</text>
<text x="257.4" y="480.8" font-family="Liberation Serif" font-weight="bold" font-size="32" text-anchor="middle" fill="#222">1.1</text>
<text x="342.0" y="480.8" font-family="Liberation Serif" font-weight="bold" font-size="32" text-anchor="middle" fill="#222">1.3</text>
<text x="426.5" y="480.8" font-family="Liberation Serif" font-weight="bold" font-size="32" text-anchor="middle" fill="#222">1.5</text>
<text x="511.1" y="480.8" font-family="Liberation Serif" font-weight="bold" font-size="32" text-anchor="middle" fill="#222">1.7</text>
<text x="595.6" y="480.8" font-family="Liberation Serif" font-weight="bold" font-size="32" text-anchor="middle" fill="#222">1.9</text>
<text x="680.2" y="480.8" font-family="Liberation Serif" font-weight="bold" font-size="32" text-anchor="middle" fill="#222">2.1</text>
<text x="764.7" y="480.8" font-family="Liberation Serif" font-weight="bold" font-size="32" text-anchor="middle" fill="#222">2.3</text>
<text x="849.3" y="480.8" font-family="Liberation Serif" font-weight="bold" font-size="32" text-anchor="middle" fill="#222">2.5</text>
<text x="467.2" y="521.8" font-family="Liberation Serif" font-weight="bold" font-size="36.5" letter-spacing="0.15" text-anchor="middle" fill="#222">Wavelength(<tspan font-style="italic">&#956;</tspan>m)</text>
<text transform="translate(29,253.4) rotate(-90)" font-family="Liberation Serif" font-weight="bold" font-size="36" text-anchor="middle" fill="#222">Refractive index</text>
<text x="904.8" y="415.4" font-family="Liberation Serif" font-weight="bold" font-size="29.5" fill="#222">0.1</text>
<text x="904.8" y="377.3" font-family="Liberation Serif" font-weight="bold" font-size="29.5" fill="#222">0.2</text>
<text x="904.8" y="339.2" font-family="Liberation Serif" font-weight="bold" font-size="29.5" fill="#222">0.3</text>
<text x="904.8" y="301.1" font-family="Liberation Serif" font-weight="bold" font-size="29.5" fill="#222">0.4</text>
<text x="904.8" y="263.1" font-family="Liberation Serif" font-weight="bold" font-size="29.5" fill="#222">0.5</text>
<text x="904.8" y="225.0" font-family="Liberation Serif" font-weight="bold" font-size="29.5" fill="#222">0.6</text>
<text x="904.8" y="186.9" font-family="Liberation Serif" font-weight="bold" font-size="29.5" fill="#222">0.7</text>
<text x="904.8" y="148.8" font-family="Liberation Serif" font-weight="bold" font-size="29.5" fill="#222">0.8</text>
<text x="904.8" y="110.7" font-family="Liberation Serif" font-weight="bold" font-size="29.5" fill="#222">0.9</text>
<text x="2" y="36.6" font-family="Liberation Serif" font-weight="bold" font-size="48" fill="#111">(a)</text></g>
<g clip-path="url(#clipb)" filter="url(#bl)">
<rect x="88" y="571.5" width="761" height="380.5" fill="#800000"/>
<path fill-rule="evenodd" fill="#8f0000" d="M849 929l-7-3-7-1-6 .5-7 2-10.5 6-6.5 6.5-4 6-2 5.5 50 0zM849 818l-3 1-3.5 2.5-5 5.5-9.5 16.5-20.5.5-12.5 3-9.5 4.5-5.5 3.5-7.5 6-9 9.5-5.5 0-10 1.5-12.5 4.5-12.5 8.5-12 12.5-13 1.5-11 3.5-7.5 4-7.5 5.5-6.5 6-6 7-5.5 0-6 1-11 4.5-4 3-6 6.5-4 6.5-2 5 98 0 .5-.5 9 0 7.5-1 11-3 12.5-6 7.5-5.5 4-4 5-7 13.5-2 8-3 4.5-2.5 8.5-6.5 7-7.5 4.5-6 8.5-.5 6-1.5 8-3.5 4.5-3zM88 952l49.5 0 1.5-1.5 3.5 0 2 1 5.5 0 2.5-1.5 3-3.5 2.5-4.5 4.5-12.5.5-3.5 2-2.5 4-.5 5.5 1.5 5.5 0 4.5-1.5 3-2 7.5-8 5.5-9 3-6.5 9-.5 5-3 2.5-3 4.5-8.5 3.5-11.5 1-1 9 .5 6-1.5 3-2 7-8 7.5-16 11.5-.5 5.5-3 4-4 5.5-9.5 3.5-10 8.5 0 4-1 4-2 8-8 8-16 9.5-1 7.5-4 5.5-6.5 2.5-5 3-10.5 8.5-1 6-3 5.5-5.5 3.5-5.5 3-6.5 1.5-5.5 9-1.5 6.5-4 7.5-9.5 6-12.5 5.5-.5 5.5-1.5 17-8.5 2 0 3 1.5 4.5 6.5 1 2.5.5 16-1.5 3.5-4.5 5.5-.5 2.5-4 3.5-7 8.5-9.5 14-1.5 1.5-4 .5-10 3.5-12 6.5-8.5 6.5-9 10-5 2-5 3.5-8 9-6.5 12.5-6.5 2-8.5 5-9.5 9.5-7 11-4.5 1-4 2-8 7-5.5 8-4 8.5-4.5 1.5-5 4-4.5 6.5-4.5 8.5-5 7-1 .5-10.5 0-6 2-4.5 3-5 5-10 15-2 2-1.5.5-8-.5-4 1.5-4.5 4.5-2 3-4 8-6 9.5 45.5 0 3-1.5 6 0 3 1 7.5 0 3.5-1 4-2 5-4 16.5-19.5 1-.5 9.5 0 5-1.5 3.5-2 6-6 7.5-11.5 5-6 15-.5 10.5-3 6-3 8-6 6-7 4.5-7.5 9-1 8-2.5 8.5-4.5 13.5-10 5-2 2.5.5 3 3 3 7.5 1.5 9-11 10-7 9-5 8.5-10 2-11.5 5-12 8.5-11 12-4.5 1-8 5-6.5 8.5-3 6-2 6 177 0 19.5-16.5 11.5-11 2.5-1 4.5-3.5 4.5-5 5-7.5 4-9 5-5 2.5-4.5 3.5-10.5 1-6.5 1-1.5 8.5-.5 9-3.5 4.5-3.5 5-5.5 8.5-14 9.5-1 8.5-3.5 3-2 7-7 9-14 4.5 0 5-1 10-5 5-4.5 5-6 6.5-10.5 5.5-.5 5-1.5 6.5-4 4.5-4.5 5-7 5-10 9-.5 9-4.5 7.5-8 8-14 10-.5 8.5-3.5 10-10 7.5-13 8.5-.5 5-1.5 8-5.5 7-9 6-11 11.5-.5 6-2.5 0-74.5-4.5 7-4.5 12.5-.5 3.5-1 1-8.5.5-4.5 1.5-5.5 3.5-9 9.5-7.5 12-11 .5-5 1.5-4.5 2.5-6 5.5-3.5 4.5-7 12.5-11.5 1-8.5 4-6 5.5-3.5 4.5-7 12.5-10.5.5-8.5 3.5-8.5 8-4.5 6.5-4.5 8.5-11.5 1-10 5-5 4.5-5 6-7 11-6.5 0-4.5 1-11 5.5-10 10-7 10.5-6 .5-4.5 1.5-8 5-3 3-5 7-5 10-7.5 1-8 4-8 8.5-8 14-7.5.5-9.5 3.5-4.5.5-2-1-3-4-.5-27 6-12 6-15 6-6.5 7-13 6.5-16.5 3-18.5 6.5-1 3-1.5 4-4 3.5-6 2.5-6 2-7.5 1.5-2 10 0 4.5-2 4-3.5 5-7.5 6-14 8.5 0 3.5-1 4.5-3 5.5-7 4.5-9 1.5-5 1.5-2 9-.5 5-2.5 4-4 3-4.5 3.5-7 2.5-7.5 1-1 9-.5 4-1.5 4-3 5.5-7.5 6.5-15 8 0 6.5-3 4-4 3-4.5 6.5-15-53.5 0-5.5 1.5-2.5 1.5-4.5 4.5-3 4.5-4 8-2 6-1.5 1.5-10 .5-5 3-6 7.5-4.5 9-2 6-1 1-9 .5-4 2-5 5-3.5 5.5-4 8.5-1.5 5-9.5 1-5 2.5-4 4-3 4.5-2.5 5-3.5 10-1 1-8 0-5.5 2.5-4 4-3 4.5-6.5 12.5-2.5 3.5-5 0-1-1-2-5-2.5-11.5-1.5-10-1-30-.5-.5-1.5-24 2-1 4.5-5.5 4-9 3-11 3-1.5 3-3 2-4 3-9.5 2-9.5-108 0 2 26.5-7.5 5-5 5.5-11 17.5-6 1.5-9 5.5-7.5 7.5-7.5 11.5-1.5 1.5-6.5 3-6 6-5 7.5-4 9.5-3 2-5.5 6.5-3 6.5-3.5 12.5-6.5 1-6 3-5.5 5.5-6.5 11.5-2 6-9.5 2-3.5 2-5 5-4 6-4.5 9.5-.5 2.5-1 1-7 .5-4 2-4 3.5-4 5.5-7 15.5-6.5 0-4 1-3.5 2-4 4-2.5 3.5-4 8-3 8.5-10 .5-6.5 3.5-6 7.5-3.5 7-2.5 8-1 1-8.5 0-5 2-4.5 4.5-2 3-3 6.5-2.5 9.5-1.5 2-6 0-.5-.5-7 .5-6 2.5-11.5 7.5-4 0-3.5-4.5-1.5-6 6.5-1 5.5-4 6-10.5 3.5-11.5 1-1 9-.5 3.5-2 3-3 5.5-10 3.5-11.5 8-.5 3-1.5 3.5-3.5 4.5-8 4-13 8-1 3-1.5 5.5-6.5 3-6 3-9 .5-3.5.5-.5 7.5 0 3.5-1.5 2.5-2 5-7.5 3-7.5 2-8 .5-.5 6.5 0 3-1 5.5-5 4-7 3-8 1-5 1-1 4 0 4-1 5.5-4.5 5-8.5 4.5-13 8-1 3.5-2 2.5-2.5 4.5-7.5 4.5-14 7.5-1 3.5-2 3-3 4.5-8.5 3.5-12.5 7-1 5.5-3 3-3.5 3.5-6.5 3-8.5 1-5 6.5-1 2.5-1.5 2.5-3 4.5-10.5 2.5-11-32 0-.5.5-6.5-.5-2.5.5-4.5 2.5-5.5 7-4.5 9.5-2 6.5-1 1-5 .5-2.5 1-3.5 3-2.5 3.5-5 11.5-2 7.5-.5.5-6 0-5 2.5-4.5 5.5-3.5 7-3.5 11.5-9 1.5-3 2-3 3.5-5 9.5-3 10.5-1.5 1-7 .5-6 5-5.5 11-2.5 9.5-1 1-8 .5-3 1.5-3.5 3.5-4.5 8-4 13-8.5 1-3 1.5-4 4-5 9-3.5 12-9 1-2.5 1.5-4.5 4.5-4 7.5-2 6-1 6-1 1-7 0-6 2.5-5.5 5.5-3 4.5-3.5 8-1 6-7.5 1-4 1.5-3.5 0-2-2 4.5-2 3-3 3-5.5 2-9 .5-7.5 7.5-1.5 5-4.5 4.5-8.5 2.5-8 .5-4.5 1-1 5 0 3-1.5 4-4.5 4.5-11 1.5-9 1-1 6-.5 2-1 3.5-3.5 4.5-9 2.5-8 .5-4 1-1 5-.5 2-1 4.5-5 3-6 4-14.5 7-1 4.5-4 4.5-9 3.5-13 5-.5 2.5-1 2.5-2 2.5-3.5 4-10 2-9.5 2-1.5 6-.5 3.5-3 4.5-8.5 4-14.5 7-1 4-4 4-9 3-13-29.5 0-.5.5-5-.5-3 1-4 4-4.5 9-3.5 12.5-1.5 1-4.5 0-2 1-4.5 5-4.5 11-2 9.5-7.5 1-4 3-3 4.5-3 7-3 11.5-6.5 1-2 1-4 4-4.5 9-3 11.5-2 1.5-3.5 0-2.5 1-3 2.5-2.5 3.5-4.5 11-1.5 8.5-7 1-6 5-4.5 9.5-2 11.5-8.5 1.5-7 4.5-2 0-1.5-1.5-1-4 4-1 2.5-1.5 3.5-4.5 4-9.5 1.5-7 0-3.5 5.5-1.5 3-2.5 2-3 3.5-9 2-11.5 6-1 3.5-3.5 4-9.5 2-10 0-3 6.5-1 4-4 3.5-8.5 2.5-13.5 1-1 5.5 0 2-1 2.5-3 4-9.5 2.5-10.5 0-2.5 4.5-.5 2-1 3-4 2.5-7 3-14.5-28.5 0-3.5 1.5-3 4-2.5 5.5-2.5 8.5-1 7-1 1-5 0-2 1-2 2-2.5 4.5-3.5 11-1 8-.5.5-5.5 0-2 1-5 6-3.5 9.5-1.5 10-6.5 1-8 5-2-1.5-1.5-4 4-1 2-1.5 3-4.5 3-9 1.5-11 4.5-1.5 3-3 3-6.5 2-7.5 1-9 6-1 3.5-4 3-7.5 2.5-14.5-28.5 0-4 2-4.5 4.5-2.5-2.5-.5-4-49.5 0z"/>
<path fill-rule="evenodd" fill="#9f0000" d="M849 935l-5.5-5.5-6-3-7.5.5-6 3.5-5 5.5-4 6-4.5 10 38.5 0zM146 898l-3 1.5-2 2-2.5 4.5-1.5 7.5-.5 12.5 2 10.5 4 10 3.5 4 3 0 3.5-4.5 4-12.5 1.5-7 0-15-1-5.5-3-5-3.5-2.5zM210 844l-3.5 0-3.5 3-4.5 9-3.5 13 0 16-.5.5-5-6.5-6-6-4.5-2-2 0-3.5 1.5-3 3-3.5 5.5-7 16 .5 6 1.5 4 8.5 12.5 5.5 4 5-.5 3-2.5 4-6 6.5-16.5 0-11.5.5-.5 8.5 9 3 1.5 3 0 2-1 3-3.5 2.5-5 4.5-15.5-.5-13-1.5-4.5-2.5-4-3-3.5zM849 820l-4 3.5-5 9-3.5 10-2 3-2 1-4 0-9.5-2-7 0-5 1-6 2.5-6 4-8.5 8.5-7.5 10-18 1-9.5 3-5 3-7 6-5.5 6.5-5 7.5-18.5 1.5-7.5 2.5-8 5-8.5 8.5-7 10-2 1-15 0-5 1-5 2-5 3.5-5 5.5-4.5 7-3 6.5 59 0 2-2 3.5-1 15.5 2 6.5 0 6.5-1 9-3.5 8.5-6 7.5-8 5-7.5 17.5-1.5 5-1.5 8-4.5 10-10 6.5-10 16.5-1 9.5-3.5 9-7.5 9-13zM849 606l-2.5 6-3 13.5-2.5 1.5-2-.5-7 .5-5 3-6.5 8-4 7.5-3 7.5-2 2-2 .5-11.5-2-4 1-3.5 2-6 6.5-9 18-1 .5-14-.5-5.5 2.5-3 2.5-5.5 7.5-4 8-1 3.5-2.5 3.5-4.5.5-3.5-1-6 0-5.5 2-5.5 5-3.5 5-7 15-1 .5-12.5-.5-5 1.5-2.5 1.5-6.5 6.5-3.5 5.5-6 12-13.5.5-3.5 1-3.5 2-7.5 7.5-4.5 7-4.5 9-11 .5-3 1-4.5 2.5-4.5 4.5-3.5 5-6 13.5-1 .5-9.5 0-4 1-3.5 2-5 5-2 3-7.5 16-1 .5-6.5 0-.5-.5-4.5.5-4.5 2-6.5 6.5-10 18-11.5 0-1-1.5-2-19.5.5-34 3-6.5 6-20 5-4.5 2.5-3.5 5.5-12 2-7 5-4 2-3.5 3.5-11.5 1.5-9 1.5-1.5 9 1 4.5-3.5 5-10.5 3-11 .5-6.5 1.5-2 2 .5 3.5 3 4.5 2.5 4 0 2-1 3-3 5-10 3-9.5 1-5.5 1.5-1.5 2 0 7 3.5 4 0 2-1 3.5-3.5 4.5-8.5 4.5-15 1.5-1.5 2.5 0 6 2.5 3 0 2.5-1 4-4 3.5-6.5 3-8 2-8.5 1.5-2 1.5-.5 7 3 5 0 2-1 3-3 4.5-8 5-16 1.5-1.5 2.5 0 5.5 2.5 4 0 3-1.5 2.5-2.5 4-7 5-15-32.5 0 0 1.5-2 2-3-.5-4-2-4.5-.5-4 2-4 5-3 6-4.5 15-1.5 2-3 0-5-2.5-5 0-2 1-3.5 3.5-4 7.5-4.5 14.5-1.5 2.5-2 .5-6-2.5-4 0-3 1.5-2 2-5 9-3 8.5-1.5 7-2 2.5-1.5 0-7.5-3.5-3.5.5-4 3-5.5 10.5-3.5 11.5-.5 5.5-1 1.5-2 0-7.5-5-3.5 0-2 1-3.5 4-3 6-4.5 15.5-1.5 2-3.5 0-3.5-1.5-5.5 0-8.5 4-3-.5-3-3-1-4-1.5-25-.5-.5-.5-22-.5-.5-1.5-30.5 1.5-1 2.5 0 2-1 2.5-2.5 3.5-7 4.5-16 5.5-1 2.5-2.5 3-7.5 4-16-25.5 0-.5.5-3-.5-4 .5-1.5-.5-61 0 1.5 10.5 1 16-1 1-4.5 1-3 2-4 4.5-6.5 12-2.5 7-7 1.5-6 3.5-5 5-4.5 6.5-5 10.5-4.5 1-4.5 2-5.5 5-6 10-3 8.5-1.5 1.5-2.5 0-3 1.5-5 5.5-4 9-2.5 10.5-1.5 1-9.5 0-4.5 2.5-4.5 5.5-3.5 7-3.5 11-2 1.5-4-.5-6.5.5-2 1-4.5 4.5-4.5 8.5-3.5 11-2 2.5-4 0-4.5-1-3.5 1-3.5 3-5.5 10-4.5 15.5-1.5 1.5-3-.5-6-3-3.5 0-2 1-3.5 3.5-4.5 9-4 13.5 0 3.5-2 3-1.5-.5-5.5-4.5-4-1.5-4 1-3.5 3.5-3.5 6.5-4 12-.5 11 1.5 6 6 9 3 2.5 3.5 1.5 4-1 3-3 4-7 4.5-13.5.5-6 2-3 10 6 4.5 0 2.5-1.5 2-2 4-7 3-8 2-9.5 2-3 1.5 0 8 4 4 0 4.5-2.5 3.5-4.5 3.5-7 4-12.5 1.5-1.5 11 1 4.5-2 4-4 4.5-8.5 3.5-12 3-1.5 7.5 1 2.5-.5 4.5-2.5 5-6.5 2.5-5 4-12 1-1 10 0 5-2.5 5.5-7 5-11 1.5-5.5 1.5-1 9.5-.5 7.5-4 7.5-8.5 8.5-14 4.5 0 8.5-1.5 4.5 1.5 1 1.5 4.5 25 .5 14.5-1.5 5-6.5 6-1 2.5-7 7.5-13 20.5-2.5 0-6 2-7.5 4.5-9 8.5-9 12-4.5 1-4 2-4.5 3.5-5.5 6.5-7.5 13-1 1-9.5 2.5-6 4-7 7.5-8.5 13.5-6.5.5-5 2-3.5 2.5-5.5 6-10 16-7.5.5-5 3-4.5 6.5-6 11.5-3 4.5-3 3-2.5 1-3 0-5.5-2-5 0-4.5 2.5-6 7.5-11 19-4 3.5-3 0-5-4-3-1.5-3.5 1-2.5 3-7 16.5-3 5.5 30.5 0 1-2 3.5-3.5 2-1 7 .5 8.5 5 4 0 2.5-1 6-6 8.5-14.5 6-7 2-1 2.5 0 4.5 2 4.5 1 2.5-.5 3.5-2 2.5-2.5 8-14 6-8 3-1 15 .5 4-1 5-2.5 3.5-2.5 5.5-5.5 10.5-15 12-1 9.5-4 10-9 9.5-13 9-2 16.5-9 2.5 0 3.5 3 3 8 0 18-1 9-5.5 5-4 5.5-5 9-3 7.5-2 1-8 1-10.5 5.5-8.5 8-9 12.5-8.5.5-3.5 1-4.5 2.5-5.5 5.5-5.5 9-3 8 156 0 9-10 10-16 1.5-1.5 6.5-3 5.5-5.5 5.5-8.5 4-9.5 6-1.5 4.5-3.5 4.5-7.5 2.5-7 1.5-7 1-1.5 1-.5 11.5.5 4-1 3.5-2 5.5-5.5 6.5-11.5 2-6 1-1 14-.5 6-2.5 7-7 3-4.5 6-12.5 12.5-.5 7-3 7-7 5.5-9 3.5-7.5 1-.5 9.5 0 2.5-.5 5-2.5 5-5 3-4.5 4.5-9 1-3.5 1.5-2 1-.5 12.5 0 5.5-2.5 7.5-8.5 4.5-9 2-6 1.5-1.5 5-.5 3.5 1 5.5 0 5.5-2 7.5-7.5 5.5-10 2.5-6.5 1.5-1.5 4.5-.5 7 1 5.5-1.5 3-2 6.5-8 4-8 2-6 2.5-3 4-.5 5 1.5 6 0 5.5-2.5 5.5-6zM393 572l-21.5 0-.5 4.5-1.5 1.5-1.5-.5-4-3.5-5-1.5-1.5.5-3.5 3.5-4.5 9.5-3.5 13.5-2 2-7-2-2.5 1-3 3.5-4.5 11.5-2 10-1.5 4-2 .5-5-3-3.5 0-3 2.5-4 7.5-5 19-1 1-1.5 0-5.5-3-3.5.5-2 1.5-4 7-5.5 20-1 1-1.5 0-4.5-2.5-4 0-4 4-4 9.5-3.5 16.5-1.5 1.5-7.5-4.5-2.5 0-3.5 2.5-2.5 4-3 8-3.5 16.5-2 1-3.5-3-4-2-3.5 1-2.5 2.5-3 6-2 6-3 14.5-2 1.5-6.5-4-3 0-2.5 1.5-3 4.5-3 8-3.5 17.5-1.5 1-8-5.5-3 0-2.5 1.5-3.5 5-2 4.5-4 14-.5 4.5-1.5 1.5-1 0-4-3-2.5-1-2 0-2.5 1.5-2 2.5-3 6-5 16.5-2.5 2-4.5-1.5-5.5 0-.5-.5 2-12 .5-15 1.5-1 3 .5 2.5-.5 3-2.5 3.5-8 2.5-11 .5-5.5 1-2 2-.5 3 2 3.5.5 3.5-3 4-9.5 2.5-10 .5-5 1.5-2.5 1.5 0 4 2.5 3.5 0 2.5-2.5 2.5-5 2-6.5 3-15 1-1 1.5 0 4.5 3 2 0 3.5-3 3.5-8.5 3.5-16.5 2-1.5 3.5 2 3 .5 3.5-3 4-10 3-15.5 1-1.5 2 0 3.5 2.5 3.5 0 2.5-2.5 2.5-5 2-6.5 3-15.5 2-1 5 3.5 2 0 3-2.5 2-4 2.5-8 2.5-14.5 2-1.5 3.5 2.5 3 1 1.5-.5 2.5-2.5 4-10 3.5-18.5 1.5-.5 5.5 4.5 2 0 2-1.5 2-3.5 2-6 3-15-19.5 0-.5 5-1.5 1.5-6-5.5-2.5-.5-2.5 1.5-4 8-4.5 20-1.5 1-4.5-3-1.5-.5-2 .5-2 2-2.5 5-2.5 8.5-2.5 14-1 1-1.5 0-4.5-3.5-2.5 0-3 2.5-4 9.5-3.5 17-1 1-1.5 0-3.5-2.5-3-.5-3.5 3-4 10-3.5 15.5-1.5 1-6-2.5-1.5.5-3.5 4-3.5 9.5-3 15-1.5 1.5-5-3-3 0-2 1.5-2 3-3.5 10-3 15.5-2 .5-5.5-3.5-3.5 1-2.5 3-3 6.5-2.5 8-1.5 8-1.5 1.5-7.5-1-3.5 1.5-3 0-1.5-2 3-4.5 1.5-5.5 2-18 1.5-1.5 3.5 1.5 2.5 0 2-2 3.5-8.5 3.5-17.5 1.5-1 3.5 2 1.5 0 3-2.5 3.5-9.5 3-18 2-1 4 3.5 2.5 0 1.5-1.5 2-4 2.5-9.5 1.5-9 .5-8.5 1-1 4 5 2 1.5 1.5 0 2-2 1.5-3 2.5-9 2-12 .5-8.5.5-.5 6 7.5 1.5.5 3-2.5 3.5-10 2.5-14 0-4 1.5-1.5 4.5 4.5 1.5 0 1.5-1 2-4 2-7.5 2-13.5-16 0 0 4-1 2-1 0-4.5-5-2-.5-1.5 1-2 3.5-2.5 8.5-2 10.5-.5 10-1 1-4.5-6-1.5-1-3 .5-2 3.5-3.5 13.5-2 16-.5.5-6-7-2 0-1.5 1-2.5 5-2 7-3 18.5-1 .5-5.5-5-2.5.5-1.5 1.5-3.5 8-2.5 9.5-1 7-1.5 1.5-3-1-3 0-4.5 2.5-2-.5-1-2.5 2.5-4 1-4 2-20 1-1 5 1 2-1.5 1.5-3 2.5-9 2-14 1-1 1.5 0 3 1.5 2-1 2-3.5 2.5-9 2.5-18 1.5-.5 4.5 4.5 3-1.5 3.5-10.5 2-14-16 0 0 4-1 1.5-1 0-4-4.5-2-.5-2 2-2 4-4.5 21.5-2.5.5-1.5-1-2 0-2.5 1.5-1.5 0-1.5-2 1.5-2.5 1-4 1-9.5 0-10.5.5-.5-45.5 0 0 380 43.5 0-2-12.5-4-9.5-3.5-3.5-2-1-4.5-.5 2.5-1.5 5.5-6 8-13 1.5-6.5 2-2 2.5-7 2.5-20.5 2-1.5 4.5 2.5 3.5.5 4-3.5 4.5-11 3-13 0-2.5 1.5-2 2 .5 5.5 4 4 0 4-3.5 2.5-4.5 3-8.5 2-8 .5-5.5 1-1.5 2.5.5 6 4 2.5 0 3-2 3.5-6 4.5-15.5.5-5 1.5-2.5 1.5 0 6.5 4 2 0 4-3 2.5-4.5 2.5-7 3.5-16.5 1-1 1.5 0 6 4.5 3.5 0 4-3.5 4.5-10.5 3.5-16 2-1.5 7 4.5 2.5 0 3-2 4.5-8.5 2.5-8 2-10 1.5-1.5 1.5 0 4 2.5 3 .5 2.5-1 2-2 4-8 4.5-17.5 1.5-1.5 1.5 0 4.5 2.5 3.5 0 3-2 4.5-8.5 5-18.5 2.5-.5 5 2.5 2.5 0 2-1 3-3.5 2.5-5.5 5-18.5 3-.5 5 2 3-.5 1.5-1 3.5-4.5 2.5-5.5 2.5-8 2-10 2-1 5 3 2.5 0 2.5-2 2.5-4.5 2-6z"/>
<path fill-rule="evenodd" fill="#af0000" d="M641 951l0 1 46 0-.5-12.5-1.5-3-5-3.5-6-3-7.5-2-6.5.5-4.5 2-6 5.5-5.5 8.5zM849 941l-5-8.5-3.5-3.5-4-2-4 0-4 2-5 5.5-4.5 8-3.5 9.5 33.5 0zM224 926l-1.5.5-2 2-2 4-6 19 23 0 1-5.5 0-5.5-6-6.5-2.5-4.5zM147 899l-2.5 2.5-2 4.5-2 9-1 11.5 1.5 9 3 10.5 3 4.5 2 0 2.5-3.5 2-6 3-14.5 0-4-1.5-11-2-7-2.5-4.5-1.5-1zM177 872l-2.5 1.5-2 2.5-3.5 7-4.5 14 0 2 4 13 3.5 7 3.5 4 4 .5 2.5-2 3.5-6 4-11.5 1.5-7-2-9-3.5-9-4.5-6-2-1zM207 845l-2.5 2.5-3 6.5-3.5 14 0 6.5 2 10 3.5 8.5 2.5 3 3.5.5 2.5-2.5 3-6.5 4-17-1.5-9-3-10-4-6zM849 822l-2 2-3 5.5-4 11.5-1 8-2 3-1 .5-2.5-.5-8.5-4.5-6.5-2-7 0-3.5 1-6 3.5-7 7-5 7-3.5 6.5-2 2-7.5.5-4.5-1-8 0-4.5 1-7.5 4-5 4.5-6.5 8.5-4 7.5-3.5 2-16-.5-8 2-4.5 2.5-9 8.5-8 12.5.5 10 1 2 3.5 3 6.5 4 7 3.5 6 2 9.5.5 4.5-1 7.5-4 8-7.5 4.5-6 4-7 3.5-1.5 15.5.5 6-1.5 5.5-3 7-6.5 5-7 3-6 3-3.5 1.5-.5 18 .5 3.5-1 5.5-3 7.5-7.5 4-6 4-8.5 3-2 3 .5zM237 817l-3.5 3-3.5 7-3.5 12.5-.5 5.5 2 9 4.5 11 2.5 3 3.5 1 4.5-4.5 3-7 3.5-13 0-4-1.5-8-4.5-11-3-3.5zM149 817l-2.5 2-2 4-3 10-2 11 1.5 10.5 2 6.5 2.5 5 3 3 2 0 2-2 3-7 3.5-15.5 0-4-1.5-10-2-6.5-2-4-3-3zM266 790l-3.5 3-3 6-3.5 11.5-1 7 2 10 4 9.5 3.5 4 3 1 3-1.5 4-6.5 5-17 0-4-2-10-3-7-4-5-2-1zM174 790l-3 .5-3 4-2 5-3.5 14 0 6.5 1 6 2.5 8 3 5.5 3.5 2.5 3.5-2 2.5-4.5 5-19.5-1-8-2-8-3-6.5zM196 763l-2.5 3-3 7.5-3 13.5 0 4.5 1 7 3.5 11 3.5 4.5 3 .5 2-2 2.5-5 4.5-19-1.5-11-2.5-8-4-6zM220 736l-2 1.5-2.5 4.5-3 10-2 10.5 1 8 2.5 9.5 2.5 5 2.5 2.5 2.5.5 2.5-2.5 3.5-8.5 3-13.5 0-5-1-6.5-2.5-8.5-3-5.5-1.5-1.5zM150 736l-2.5 2.5-3 7.5-3 13.5 0 9.5 2.5 10.5 3 6 2 2 2 .5 3-3 2.5-7 3-14 0-6-1.5-9.5-2-6-2-4-2-2zM244 709l-2.5 2.5-3.5 8.5-2.5 10.5-.5 7.5 2.5 12.5 3.5 7.5 2.5 2.5 3 0 2.5-3 3-7.5 3-13 0-6.5-1.5-8.5-3.5-9-3-3.5zM172 709l-2 0-2 2-1.5 3-2.5 9-2 11.5 2 15.5 3 7.5 3.5 3.5 3-2 1.5-3 2.5-8.5 2-11-.5-10.5-1.5-7-2.5-6.5zM560 682l-3 3-3.5 8-3.5 14 0 8.5 1 6.5 3.5 6.5 4.5 4.5 3.5.5 3-2.5 2-3.5 2.5-7 3-13-2.5-13.5-3.5-8-4-4zM268 681l-3 2.5-2.5 5-4.5 19 1.5 10.5 2.5 8 2.5 4.5 2 2 3 .5 3-3.5 3-8 2.5-10.5.5-7-1.5-10-1.5-4.5-3-5.5-2.5-2.5zM191 681l-3 2-1.5 3-2.5 8.5-2 10.5 0 7 2 11 3.5 8 2 2 2 0 3-4 2.5-8 2.5-13.5-.5-9-1.5-7.5-2.5-6zM589 654l-3 2-3.5 6-3 9-2 10.5 2 10 3.5 8.5 3.5 4.5 1.5 1 3 0 3.5-3 2.5-5 4-12.5 1-7-2-11-4-8.5-4-4zM291 654l-3.5 3.5-3 8-3 13 0 5.5 1 7 2 6.5 2.5 5 3 3 2 .5 3-2.5 2.5-5 3-10.5 1.5-10-1.5-10.5-2.5-7-2-3.5-2.5-2.5zM209 654l-2 2-2.5 6-3.5 16.5 0 6 1 8 2 6.5 3.5 6 2.5 1 2.5-2 2.5-6 3.5-17 0-4.5-1-8-3-9.5-3-4.5zM150 654l-2.5 3.5-2.5 9-2 11.5 0 10 1.5 8 2 5.5 1.5 2.5 2 2 1 0 3-4.5 1.5-5.5 2-11 .5-7.5-1.5-11-3.5-10.5-2-2zM617 627l-2.5 1.5-1.5 2-3.5 7-4 14 0 4.5 1.5 8 3 7.5 5.5 6.5 4 .5 3.5-3 3-5.5 3-9 2-10-1.5-10-3.5-8-4.5-5-2-1zM313 627l-2.5 2.5-3.5 8.5-3 13 0 6.5 1.5 9 2.5 6.5 4.5 5.5 3 0 2-2 2-4 2-6 3-14-1-9-2-7.5-3-6-3-3zM228 627l-3 4.5-3 10.5-1.5 8 0 9 1 6.5 2 6.5 3 5.5 1.5 1 2 0 1.5-1.5 3-7.5 3-14.5 0-6.5-1.5-9.5-1.5-5-2.5-5-2-2zM167 627l-3 6-3 16.5 0 9.5 1 7.5 2 7.5 1.5 3 1.5 1.5 1.5 0 2-3 2.5-9.5 1.5-9.5 0-9-2-12-3-7.5-1-1zM849 610l-4 17.5-1.5 1.5-6.5-1.5-2 0-4 1.5-3.5 3.5-3 4.5-6.5 15.5 0 8.5 2 7 7.5 8 6 3 3.5 0 3.5-1.5 3.5-3.5 5-9zM646 600l-2.5 1-4 5-4.5 12-2 8 1 9.5 2 6.5 4.5 7 4.5 3 3.5-.5 3.5-4 4-9 3-11-.5-9-2.5-8.5-4-6.5-3-2.5zM337 600l-4 4-2.5 6.5-3 13 0 9 2 9.5 2.5 5.5 4 4.5 2.5 0 2.5-2.5 3-7 3.5-15.5 0-6.5-1-7.5-2.5-6.5-3.5-5zM249 600l-3 3-2 5.5-3 14.5 0 9 1.5 9 2.5 7 2.5 3.5 2.5.5 1.5-1.5 3-7.5 2.5-12 .5-9-1-8-2-7-2.5-5zM185 600l-1.5 1-2 4.5-3.5 20 1.5 14.5 3 10 2 2 1 0 1.5-2 1.5-4.5 3-17 0-6-1.5-11-2.5-8.5zM136 600l-3 4-2 6.5-2 14.5.5 13.5 4.5 11.5 2 2 1 0 2-3 2.5-10 1.5-11 0-11-1-7-1.5-4.5-2-4-1.5-1.5zM677 573l-3.5.5-3.5 3.5-3 6-4.5 15 .5 8 2 7.5 4 7 3.5 3.5 3 1 3-1 3-3.5 3.5-7.5 4-14-1-9-2-6.5-3.5-6-3.5-3.5zM359 573l-3.5 3.5-4 10-2.5 10.5 0 10 .5 3.5 3.5 8.5 4 5 3.5 1 3-2.5 3-6 4-15.5 0-6-1.5-8-4.5-10.5-3-3zM269 573l-2.5 1-2.5 5-4 17.5 0 8 1.5 9 4 9.5 2.5 2 3-2 1.5-3 2.5-8.5 2-11 0-5-2-11.5-2.5-7-1.5-2.5zM202 573l-2 1-2.5 6.5-3 17.5 1 11.5 2 9 1.5 4 2.5 2.5 1.5-1 2-4.5 3.5-19-.5-9.5-1.5-8.5-1.5-5zM151 573l-1.5.5-2 4-3.5 19 .5 16 2.5 8 1.5 3 2 1.5 1.5-1 2-5 3-17.5 0-7.5-1.5-10.5-2.5-8zM691 572l1 10 3 8 5.5 6.5 2 1 2.5 0 2-1 2.5-3 3.5-7.5 3.5-14zM815 666l-6.5-7.5-6.5-4-3.5-.5-5 2-3.5 3.5-5.5 10-3.5 9.5-.5 6-2 2.5-12-6-6.5.5-5.5 4.5-6 10.5-3.5 9.5-.5 6.5-2 2.5-2.5-1-6.5-4.5-4-1.5-4 0-3.5 1.5-2.5 2-4 5.5-4 8-3 8.5-.5 3.5-1.5 2-3 0-5-2.5-5-1.5-3 0-3 1-5 4-3.5 5-4 8-2.5 7.5-2 3-4.5.5-4.5-1.5-5-.5-4 1-3.5 2-3.5 3.5-3.5 5-4 8-2 6-1.5 2-2.5 1-4.5-1-7.5 0-5 2.5-3.5 3.5-6 10.5-3 9-2 3-3 .5-6.5-2-4 0-4.5 2-3.5 3.5-5 8.5-4 10.5-.5 3.5-2 2.5-2.5 0-6.5-3-5.5 0-3 1.5-5.5 6.5-4 8.5-2.5 8-3 3-4 0-4.5-1-13.5 0-1.5-1 0-10.5-.5-.5 0-24.5.5-.5.5-19 4.5-11 4-15 2.5-1.5 4-4 2.5-4 3.5-8 3-10 4-1 3-3 2-3.5 4.5-17.5 0-10.5-1-5-2-4-2.5-3.5-4-4-2-1-3.5 0-2 1-3 3-6 8.5-3.5 3-1 0-2-2-3.5-9-1.5-9 0-7.5-.5-.5 0-7.5-1-8.5-.5-24-.5-.5 0-9-1-10 .5-10.5 2-1.5 5.5 0 2.5-2 3.5-6.5 5-18 1.5-1.5 5 1 2-1.5 3-7.5 2.5-11.5 2-5.5-20.5 0-2 2-2.5 0-1.5-1-4.5 0-4.5 2.5-2.5 0-2-1.5-1-2-47.5 0 2.5 16.5.5 10.5-7.5 1.5-3.5 2-2.5 2.5-5 8.5-4.5 12.5-9 2-3.5 2-4 4-3.5 5-4.5 9-1.5 4.5-1 1-7 1-3 1.5-3.5 3-3 4-4 8-3 9-1 1-4.5 0-3.5 1.5-4 4.5-2.5 5-2.5 7.5-2 9.5-1 1.5-3.5.5-4-2-5 0-2 1-3 3-4.5 8.5-3 9-1.5 8-1.5 1.5-1.5 0-6-3.5-4.5-.5-2 1-3 3-3.5 6.5-3.5 10-1.5 7.5 0 6.5-2 1-7-7-3.5-1.5-3.5 1-2.5 2.5-4.5 9.5-3.5 12.5 0 2 2.5 12 4.5 8.5 4.5 4 3.5 0 1.5-1 3-3.5 5-12 2-7.5 1-11.5 1-.5 6 6 5 3 3 0 3-1.5 3-3.5 3.5-7 2.5-7.5 2-10.5 1.5-1.5 2 0 3.5 2.5 5 2 3.5-.5 4.5-4 4-7.5 5-16.5 1.5-1.5 2 0 5.5 2.5 4.5 0 2-1 3.5-3.5 4-7.5 4.5-14 1.5-1 10 0 5.5-2.5 4-4 3.5-5 7-15 4 0 7-1.5 13-7 3.5.5 3 3 2.5 5 1 15.5.5.5 1 26-1.5 3.5-14 14-5.5 8-8 14.5-8.5 2-5.5 3-8 7.5-10 15-6 1-4 2-4.5 3.5-7.5 10-6 10.5-8.5 1.5-8 5-6 7-8.5 14-5.5 0-5 1-6.5 4-5 6-8 14-2.5 3-4.5.5-5-1-3.5 1.5-4.5 6-5 11.5-5.5 10-3 3-2 1-4 0-8.5-5-3 0-3.5 2-4 5.5-9 17.5-2 8.5 0 3.5 1.5 2 7 3.5 8.5 8 4 .5 2-1 4-4.5 11.5-23 3.5-4 4-1 3.5 1.5 6.5 5 2.5.5 2.5-1 4.5-5.5 6.5-14 5.5-7.5 3.5-1.5 3.5 0 7 2 6.5 0 4-1.5 3-2 5-5 11.5-17.5 13.5-1 7.5-3 4-3 5.5-6 9.5-14 10-2 6.5-4 5.5-5.5 12.5-16 9.5 0 2 8 1 10 0 8.5.5.5-1.5 19.5-1 2.5-.5 5-5.5 5-3.5 5-5 10-2.5 7-2 1.5-9 1-4.5 2-5 3.5-7.5 8.5-7.5 12-12.5.5-8 4-6 7.5-4 8-2 6.5 49 0 1.5-1 7 0 5 1 83 0 2.5-2 6-8 8.5-16.5 1-1 4.5-1 2.5-1.5 5.5-5.5 6.5-11.5 2.5-7 9-1.5 2-1 3-3 5-10 3-10.5.5-4 1.5-2.5 1.5-.5 11 4.5 4.5-.5 3.5-2 5-6 4-8 3.5-10.5 2-2.5 2-.5 10.5 3 6-1.5 7.5-7.5 4.5-8.5 3-8.5 1.5-2 5.5-.5 3 1 7 0 3.5-1.5 5-4.5 2.5-3.5 4.5-8.5 2-6 2.5-4 3.5-.5 5 1.5 5.5 0 5-2.5 3-3 3-4.5 5-11 2-7.5 1.5-2 2-.5 8.5 3.5 5.5 0 4.5-2.5 4.5-5.5 4-8 3.5-10.5 0-4.5 2-3 2 .5 5.5 4 6 2.5 3.5 0 5-2.5 5.5-7 3-6 3.5-9.5.5-5.5 2-2.5 2.5.5 6 4 5.5 1.5 3-.5 4-2.5 4.5-6 6.5-15.5 0-10zM374 572l.5 9.5 2.5 9.5 2 4 2.5 2.5 1.5 0 2.5-2.5 2.5-6.5 3-16.5zM280 572l.5 8.5 2 9.5 2.5 5.5 2 2 1 0 1.5-1 3-7.5 3-17zM212 572l0 6.5 2 12 2.5 6 2 1 2-3 1.5-5.5 2.5-17zM160 572l0 5.5 2 12.5 2 5.5 1 1.5 1.5.5 2-3 1.5-5 2.5-17.5zM88 572l0 380 40.5 0-2-12.5-2.5-7.5-2-3.5-3-2.5-3.5 0-3.5 1-2-1-.5-1 3.5-2 5-5.5 6-11.5 2.5-8 3.5-1.5 1.5-2 3-8.5 2-13 0-6-1.5-10-1.5-4.5-2.5-4.5-4-3.5-4.5 0-2 1-3 0-2-2 2-2.5 2-7 1.5-9.5.5-9.5 1-3 2-.5 4 3.5 2 .5 3-2.5 2-4.5 3.5-16.5 0-10.5-1.5-8.5-3-7-3.5-3-2.5.5-3.5 4.5-5 13-1.5 8-1 1-2.5 0-2-1 2-12 .5-15 3.5-1 1.5-2 2.5-8.5 2-15.5 0-12 1-1 1 1 4 8.5 2 2 1.5 0 1.5-1.5 2-5 3.5-19-.5-12-1-5-2-5.5-1.5-2.5-2-1.5-1.5 0-2 2-2.5 5.5-3 12.5-1 11-1 .5-3.5-4-5.5-1.5 3-7.5 1.5-8 1-11.5 2-.5 2.5-3 2-7.5 1.5-11.5 0-20-1.5-4.5-3.5-6-4-.5-2.5 1-1.5-2 7-10.5 3.5-8 1-8.5 2-2 1.5-5 1.5-20z"/>
<path fill-rule="evenodd" fill="#bf0000" d="M645 952l38.5 0-3-10.5-4-6-4-3.5-4-2-5.5-.5-5.5 2.5-4.5 4.5-3 4.5zM818 950l0 1.5 30.5 0 0-5.5-3-7.5-4.5-7.5-4-3.5-4.5-.5-3 1.5-4.5 5.5-2.5 4.5zM223 927l-1.5 1.5-2 4-5 19 18.5 0 0-7.5-1.5-4.5-6-12zM147 899l-2.5 3-2 6.5-2 12.5 0 6.5 2 11.5 2 7 2.5 3.5 1.5 0 2-3.5 2.5-9.5 1.5-9 0-7-1-7.5-2.5-10-2-3.5zM177 872l-2 1.5-3.5 6.5-4.5 15.5 0 4 2 8 4.5 11.5 3 3.5 2.5 0 2-1.5 3-5.5 2.5-7.5 2.5-11.5-2.5-11-2.5-7-3.5-5.5-1.5-1zM835 861l-2.5-3.5-6-6-5.5-3.5-5.5-1.5-2.5 0-6.5 2.5-7.5 7-4.5 6.5-4 7.5-.5 5-2 3.5-1 .5-3-.5-7.5-3.5-5.5-1.5-9.5.5-7.5 4.5-5 5.5-5.5 8.5-2.5 5-1 4-2 2-4.5 0-10.5-3-6.5 0-5 1.5-5.5 3.5-7.5 8.5-6 10.5 0 1.5 3 7.5 3 4.5 5.5 5.5 7.5 4.5 3.5 1 7 0 6-2.5 3-2 7-7.5 4.5-7 3.5-8.5 1.5-1.5 3.5-.5 10.5 3 8 0 4.5-1.5 4.5-3 4.5-4.5 4.5-6.5 4.5-8.5 1-6 2-2 2 0 7 3 7.5 2 6.5-.5 6-3 5.5-5.5 2.5-3.5 6-11.5-1-6.5zM207 845l-2.5 3.5-2.5 7.5-2.5 12 0 5 1.5 8.5 2.5 8.5 2 4 1.5 1.5 2 0 1.5-1 3-6.5 3-12.5.5-8-1.5-8.5-2.5-8.5-2-4-1.5-1.5zM849 824l-3.5 6.5-4 13 1.5 14 1.5 4 4.5 5zM587 818l-4 2-4 5-4.5 10-2.5 8 1 9.5 3.5 8 6 6.5 4.5 2 2 0 5-3 5.5-9 4.5-13 0-10.5-.5-3-1.5-3-7-7-3.5-2zM237 818l-1.5 1-2 3-2.5 6.5-3 12.5 0 5.5 4 15.5 3 5.5 2 1.5 1.5 0 1.5-1 2-3 2-5 4-16.5-3-14.5-2.5-6.5-3-4zM149 818l-2 2-2 5-3.5 16.5 0 5 1.5 9 2.5 8.5 2.5 4.5 2 .5 2-2 2-5 2.5-11 1-9.5-3.5-17.5-2.5-5zM266 791l-3 3.5-3 7.5-3 12.5 0 4 4 16 3 5.5 1.5 1.5 2 .5 2.5-1.5 3-5.5 4.5-17 0-4.5-2-9.5-4-10-3-3zM174 791l-2 0-3 4-2.5 7.5-2.5 12 .5 7.5 2 9.5 3.5 8.5 2.5 2 3-2 3.5-9 2.5-12 0-6-2-10.5-2-6-2-4zM197 764l-1.5 1.5-3 7.5-3 14.5 0 4 2 11.5 2 6.5 1.5 3 2 2 1.5 0 2-2 3-8 2.5-12.5 0-6.5-2-11-2-6-3-4.5zM296 763l-1.5.5-2 2-2 3.5-3.5 10.5-2 10 2 10 4.5 11 2.5 3 3.5.5 2.5-2 3.5-7 4-14.5 0-5.5-1.5-8-4-9.5-3-3.5zM130 763l-1.5 1.5-3 7.5-2.5 11-.5 10 3 14 3 6 2.5 1.5 1.5-1 2.5-5.5 3.5-20-1.5-12-2.5-9-3-4zM698 739l-3.5-2-4-.5-3.5 1.5-4 4-6.5 13.5-2 6-.5 9-1.5 1.5-8.5-6-4-2-2.5-.5-3.5.5-3 1.5-3.5 3.5-3.5 5.5-4 9-2 6-.5 4.5-1.5 1.5-2 0-8.5-4.5-5.5 0-3 1.5-3.5 3.5-4.5 8-4 11 0 12 2 4.5 7 7 4 2.5 4 1 5.5-2 2.5-2.5 2.5-3.5 4-8 3-8.5.5-5 1.5-3 1.5-.5 10.5 5.5 5.5 0 3.5-2 3-3 5-8.5 4.5-12 0-6 1.5-2.5 1.5 0 6.5 5 4.5 2 5.5-.5 5-4.5 5.5-10.5 3-9 0-4.5-1-6-2-5-3-4.5zM323 736l-3 2.5-3.5 6.5-4.5 15.5 0 3.5 1.5 8 3 8 4 5.5 2.5 1.5 2.5 0 4-3.5 3-6 4.5-16-2-13-3-6.5-5-5.5zM220 736l-2 2-2.5 6.5-3.5 17 2 12.5 2 7 2 4 2 2 1 0 2-1.5 3-7.5 3-14.5 0-4.5-3.5-16.5-2.5-5-1.5-1.5zM150 736l-2.5 3.5-2.5 8.5-2 10.5 0 7 1.5 9 3.5 10.5 2 2 1 0 3-4.5 2-7 2-11 0-7-3-15-3-6zM726 709l-2.5 1-3.5 3.5-4.5 8-4 11.5 0 6.5 1.5 7 4 7 5.5 5 2.5 1 4 0 2-1 5.5-6.5 4-9 2.5-8 0-2.5-1.5-7.5-3.5-8-6-6.5-3.5-1.5zM246 709l-2 0-2.5 3.5-2.5 7.5-2.5 12.5.5 7.5 2.5 11.5 2.5 6 3 2.5 2.5-2 2-4 4-17.5 0-5.5-2.5-12.5-3-7.5zM170 709l-2 3-2.5 8.5-2 12 0 4.5 2.5 14.5 2.5 6.5 2.5 2 1.5-1 1.5-3 2-7 2-11.5 0-7.5-1.5-9.5-2-7-1.5-3-1.5-1.5zM352 709l-4 2.5-4 7-4.5 14.5 0 6.5 1.5 7.5 3.5 7.5 4 4.5 1.5 1 3 .5 4-2.5 4.5-8.5 4-13.5 0-10-1-5-3.5-6-4.5-4.5zM762 682l-3 1.5-5 6.5-3 6.5-3.5 11 2 10 5 9.5 5 4.5 2.5 1 2.5 0 4-2 4.5-6 4.5-10.5 2-8-2.5-11-3.5-6.5-5.5-5.5-2.5-1zM561 682l-2.5 2.5-3 7.5-3 13 0 6.5 1.5 8.5 2 6 4 6 3 .5 2-2 4-10 2.5-11.5 0-4-1.5-8.5-2.5-8-3-5.5-1.5-1zM268 682l-2.5 2.5-3 8-2.5 12 0 7 3.5 15.5 2 4 2 2 1.5 0 2-2 2.5-6 2.5-10.5 1-8.5-2-12-1.5-5-2-4.5-2-2zM190 682l-1.5 1-1.5 3-2 7-2 11.5 0 7.5 1.5 9.5 2 7 1.5 3 1.5 1.5 1.5 0 2-3 2-6.5 2.5-14 0-5-3-16-3-6zM133 682l-2 3.5-1.5 5-2 11-.5 9 3 16 2.5 6 2 .5 2-3.5 2-8.5 1.5-10.5 0-8-3-16.5-2.5-4zM797 655l-2 1-4.5 5.5-4.5 10-2.5 8 0 2 2.5 11 3.5 6.5 5 5 2 1 4.5 0 5-4.5 4-7.5 3.5-10 .5-5.5-2.5-9.5-4-7.5-4.5-4.5-2-1zM590 655l-2.5 1.5-3 5.5-4.5 16.5 0 4.5 2.5 11 3.5 8.5 2 2.5 3.5.5 2.5-2.5 3.5-8.5 3-12.5 0-4-1-6-3-10-2.5-4.5-2-2zM291 655l-2 2-2.5 6-3 13-.5 6.5 1.5 9.5 2.5 8.5 1.5 3 2.5 2.5 1 0 2-1.5 2.5-5.5 4-19-2-12.5-2-6.5-2-4-2-2zM209 655l-3 5.5-3.5 17.5 0 6.5 1.5 9.5 2.5 8.5 1.5 2.5 2 1 2.5-3 2.5-8.5 2-11.5 0-6-1.5-10-2.5-8.5-2.5-3.5zM150 655l-2 3.5-1 3.5-3 19 1 9.5 2 9.5 2 5 2 1 1.5-2 1.5-4.5 3-19-3-19.5-2-5zM617 628l-3 3-2 4-4 14-.5 7 2 9.5 3 8 3.5 4.5 3.5.5 2.5-2.5 2.5-5 3.5-12 1-7.5-2.5-12-3.5-8-3.5-3.5zM315 628l-2 0-2.5 3.5-2.5 7.5-2.5 12.5.5 8.5 2.5 11 2.5 5.5 3 2.5 2.5-2 2-4 4-17 0-6.5-2.5-12.5-3-7zM230 628l-2 0-2.5 4.5-4 20 2.5 17.5 3 7.5 2 1.5 1.5-1 2.5-6 3.5-18.5-3-18-1.5-4.5zM168 628l-1.5 0-2 4.5-3 17.5 0 7.5 1.5 11 2 7.5 2 3 1.5-1 2-5.5 2.5-16 0-7.5-1.5-10.5-1.5-6.5zM849 613l-2 12.5-1.5 5-2.5.5-6.5-3.5-4 1-4.5 5-3.5 7-4 11.5 1.5 9.5 3 7.5 3 4.5 3 3 3 1.5 4-.5 4-3.5 4-7 3-8zM647 600l-2 .5-2 2-2.5 4.5-5 18 1 8 2 7.5 3 6.5 4 4 3-.5 3.5-4.5 2.5-6.5 3-12-.5-8-2.5-9.5-3.5-7-2.5-2.5zM337 600l-2 1.5-3.5 9-2.5 12.5 0 6.5 1.5 9 2.5 8 3.5 4.5 1.5 0 1.5-1 3.5-8.5 2-9 1-9-1.5-10-2-7-3-5.5zM249 600l-2 2-2 5.5-2.5 13-.5 7 1.5 11 2.5 9 2.5 3.5 1.5 0 3-6.5 3.5-19-1.5-11.5-2-8.5-1.5-3.5zM185 600l-1 .5-2 5-3 19.5 2 17 2 7 1.5 2 1 0 2-4.5 3-18.5 0-5.5-1.5-11.5-2-8zM136 600l-1 .5-2 4.5-3 19 2 18 1.5 5.5 2 3.5 1.5-1 1.5-3.5 3-19 0-5.5-1.5-12-2-7.5zM675 573l-3.5 3-2.5 5-4 13.5-.5 6.5 1.5 7.5 2.5 7.5 3.5 6 4 2 3-2 3.5-6.5 2.5-8 2-10-2.5-12-2.5-6.5-3-4.5-2.5-1.5zM359 573l-3 3.5-2.5 7-3 13 0 5 1.5 9 2 6.5 3 5.5 2 1.5 1.5 0 2.5-2.5 2.5-6 3-12.5.5-7-4-16.5-3-5.5-1.5-1zM268 573l-1.5 1.5-2 5-3.5 20 1.5 11 2 8 2 4 1.5 1.5 1 0 3.5-7 3.5-18.5-1.5-11-2-8.5-2-4.5-1.5-1.5zM202 573l-1.5.5-1.5 3.5-3.5 21 2.5 18.5 1.5 5 2 2.5 1-.5 2-5 3-19-2-17.5-2-7zM150 573l-2 3-1 3.5-2.5 16.5 0 6.5 1.5 11.5 2 7.5 2 2.5 1.5-1.5 2-7 2-14 0-7-1.5-11-2-8-1-2zM693 572l1.5 10.5 3 8.5 4 5.5 1 .5 3.5-.5 4.5-7.5 4.5-17zM542 572l-18 0-3 4-2 0-3-2.5-3 0-4 3.5-3.5 4.5-2 1-2.5-2-3-8.5-39.5 0 3 18.5-.5 8-2.5 2-8 1-5 4.5-4.5 8.5-3.5 11-2 1.5-7.5 1-3 1.5-4.5 4.5-3.5 5.5-4 9-1 4-1.5 1.5-9 1-5.5 4.5-4 6.5-5 14.5-1 1-7 0-4.5 3-4 7.5-4 14.5.5 12.5 3 6.5 6 6.5 2 1 4 0 3-2.5 3.5-6 3.5-10 1.5-7 2-2.5 2.5-.5 4.5 1.5 4.5 0 3.5-1.5 4-4 3-4.5 4-8.5 2-6.5 1.5-1.5 9-.5 4.5-2 7-6.5 2.5-3.5 6-6 4-.5 2.5 2.5 2 4 3 13.5 0 28.5 1.5 7-.5 7-1 2-8 7.5-1 2-7 6-7.5 12.5-4 8.5-1 1-9 1.5-4.5 2.5-8.5 8.5-9 14.5-8 1.5-5 3-5 5.5-10 17-8 1-7 3.5-6.5 7-8.5 14.5-1.5 1.5-9.5.5-6 2.5-5 5-3 4.5-8.5 16-2 2.5-3.5.5-6.5-3.5-3 .5-2.5 2.5-3.5 6.5-2 6-5 10.5-2 7.5-3 4.5-3.5 0-3.5-1.5-7.5-7-2.5-1.5-2.5 0-3.5 3-9.5 20-1 6.5 2 6.5 11 13.5 3 .5 2-1 4-5.5 5-12.5 3-5.5 2.5-10.5 2.5-3.5 3 0 6 3 7.5 8.5 2.5.5 2-1 2.5-3 2.5-5 2-6 5-10.5 3.5-4.5 5.5-1.5 10.5 4 5.5 0 3.5-1.5 6.5-6.5 8.5-14.5 3.5-4 2-.5 10.5.5 4-1 4-2 6-5.5 10.5-16 2-2 9-1 5.5-3 5.5-5.5 11.5-17.5 6-.5 9.5-2.5 3.5 0 4.5 3.5-1 35-1.5 10.5-2 5-.5 3.5-4.5 3.5-4 5.5-5 10.5-2 6-2 2.5-9.5 1-7 3.5-7 7.5-4.5 7-3.5 7.5-2 2-4 .5-3.5-1-7.5 0-4.5 2-5 5-2.5 4-6 14.5 41.5 0 1-2 2.5-2 2.5 0 9.5 3 8.5 1 74 0 3-2.5 5.5-8 7-15.5 1.5-1.5 4-.5 3-1.5 6-6 5.5-10 3-8.5 1.5-1.5 5.5 0 .5.5 3.5-.5 4.5-3.5 3-5 3-8.5 2-8 0-4-1.5-8.5-3-6.5-4.5-5-3.5-2-4 0-2 1-4.5 5.5-3 6.5-4 13.5-1.5 2.5-4 .5-8.5-3-15.5 1-3-2.5 0-36 .5-.5.5-18 5-13 3-13 1.5-1.5 4-2 3.5-4.5 3.5-7.5 3-9 .5-3.5 6.5-1.5 4-5.5 4-15 .5-8-2.5-11.5-3-6.5-4-4.5-3 0-4.5 4.5-5 11-3 9.5-1 1-6.5 0-3-1-4-31-2-55-.5-.5.5-16.5 1-5 1.5-2 2-1 2.5 1 3 0 2.5-2.5 3.5-8.5 2-9 3-8.5 1.5-1.5 1 0 3.5 3 1 0 1.5-1.5 2.5-6.5 2.5-12.5zM375 572l2.5 16.5 3.5 8 2 .5 1.5-1.5 2-5 3.5-18.5zM281 572l2.5 17.5 2.5 6.5 2 1 1.5-1.5 2.5-8 2-15.5zM213 572l0 5.5 1.5 11 2 7 2 1.5 2.5-6.5 2.5-18.5zM171 572l-10.5 0 1 13 2 9 2 3 1-.5 1-2 1.5-6zM88 572l0 380 39 0-3-16-3-7.5-2-2-2.5 0-5 4.5-3.5 1.5-2.5-2.5-1.5-5 5.5-2 4-4 4.5-7.5 4.5-13 1-1 4.5-1 2-2.5 3-9.5 2-13.5-2.5-15-2.5-7-3.5-4-4 .5-8 9-1 0-1.5-2.5-1-8 2.5-1.5 1.5-2 3-10.5 1.5-11.5-.5-12-2.5-10.5-3-5-1.5-1-5.5 0-1-1 2.5-5 1.5-5.5 2-12 0-4 1.5-2 4.5.5 1.5-1.5 3-11 1.5-16.5-.5-.5-.5-10-1.5-7-3-5.5-2-.5-3.5 2.5-1.5 0-1.5-2 0-1.5 2-2.5 2.5-6.5 2-9.5 1-9 1.5-1 3 .5 2-3 2-8 1.5-13-1-15-3-11.5-1.5-1.5-1.5 0-3 5-4.5 16.5-.5 4-1 1-2.5 0-1.5-1 1-6 .5-13 1.5-8 2.5-2.5 8-12 3-7.5.5-5 2-1 2-2.5 2-11.5.5-12z"/>
<path fill-rule="evenodd" fill="#cf0000" d="M648 951l0 1 33 0-2-6.5-3.5-7-5-5.5-4.5-2-2.5 0-4 1.5-4.5 4.5zM832 928l-4 4-4.5 9-3.5 10.5 29 0-4.5-13-3.5-6.5-2-2.5-3-2zM223 928l-2 3-2 6-3.5 15 16.5 0-.5-6-2.5-9-3.5-8-1-1zM723 901l-8 .5-6 3.5-6.5 7.5-6 11 0 2.5 5 10 3 4 6.5 5.5 3 1.5 4.5 1 5.5-1 5-3 6-6.5 7-12.5 0-4.5-1-5-3-5.5-7.5-6zM263 900l-3 2.5-3 5.5-6 15.5 0 5.5 1.5 5 7 12 2.5 2.5 2.5.5 3-2.5 3.5-7 2.5-8 3-6.5 0-10-1-2.5-8-10.5-3-2zM147 900l-2 3-1.5 5-2.5 17 3 18 2 5.5 2 1 2-3 1.5-5.5 2.5-16.5-2.5-17-2.5-6.5zM769 874l-5 .5-6 3-7 8-6.5 12.5 1.5 10 2.5 4.5 8 6.5 3 1.5 6 1.5 4.5-.5 6-3 4.5-4.5 3.5-5 5.5-11-1.5-8-4-7-7-6-4-2zM179 873l-2 0-2 2-2 4-5 19 4.5 17.5 3 6 2.5 1.5 3-2.5 2.5-5.5 4-16-.5-5.5-2-8.5-2-6-2-4zM813 847l-5.5 2.5-6.5 7-7 13 0 4 2.5 8.5 5 6.5 7 4.5 3 1 5.5 0 6.5-3.5 4.5-5 7-13 .5-3.5-4.5-10-6.5-8-4.5-3-3-1zM207 846l-1.5 1.5-2.5 6.5-3 14.5 0 4.5 1.5 9 2.5 9 1.5 3 1.5 1.5 1.5 0 1.5-1.5 2.5-6.5 2.5-11.5.5-7.5-1.5-9-2.5-9-1.5-3-1.5-1.5zM849 826l-3 6.5-3 11 2 12.5 4 8zM588 818l-2.5 1-4 4.5-5 11.5-2 7 0 3 3 11 3 6 4 4.5 4.5 1.5 2.5-1 3-3 4-7.5 4-12.5 0-4-2-9-2.5-5.5-4.5-5.5-2.5-1.5zM237 818l-2 2-2.5 6-3.5 15.5 0 3 2 10.5 2.5 8 1.5 3 2 2 1.5 0 2-2 2.5-6 3.5-15.5 0-3-4-17.5-2-4-2-2zM149 818l-2.5 4-2 7.5-2 11.5 0 4.5 3.5 17.5 1.5 3.5 1.5 1.5 1 0 2-2.5 2-6.5 2.5-14 0-4-3-16.5-2-5-1.5-1.5zM625 791l-4 0-2 1-3.5 3.5-4.5 8.5-3.5 10.5 1 9 4 9.5 4.5 5.5 5.5 2.5 3.5-1 4-4 4-7.5 4-11.5-.5-9-2-6.5-4-6-3.5-3zM266 791l-3 4.5-2 6-3 15 4 17.5 2.5 5 3 2 2.5-2 2-4 2.5-8.5 2-11.5-4-17.5-2.5-5-1.5-1.5zM172 791l-2.5 4-1.5 4.5-2 9-1 9 2 11.5 2 7 2.5 4.5 1.5.5 2.5-2.5 2-5.5 3-14.5 0-5.5-2-11-2.5-8-2.5-3zM197 764l-2 3-2.5 8.5-2 11.5 0 3.5 2 12 2 7 2.5 4 1.5 0 2-2.5 3-10.5 1.5-9 0-6.5-3.5-16.5-2.5-4.5zM656 764l-3.5 1.5-5.5 6.5-6 14.5-.5 6 2 9 3.5 6 5 5 3 1.5 4.5 0 2-1 5.5-6.5 6-14.5.5-6-2.5-9.5-3.5-6-6-5.5zM296 764l-3 2.5-2 4-3.5 12.5-1 8 4 16 2.5 5 2 2 2.5 0 3-3.5 1.5-3.5 4.5-18-1.5-9-2.5-8.5-2.5-5-2-2zM131 764l-1 0-2.5 3.5-2.5 9-1.5 9 0 8 2 11.5 1.5 5 3 4.5 2-1.5 1.5-3.5 3.5-19.5-2.5-18.5-1.5-4.5zM691 737l-3 1.5-3.5 4-4.5 9.5-2.5 7.5-.5 4.5 2.5 11 3.5 6.5 4 4 3 1.5 3 0 3-1.5 4-5 4.5-10.5 2-7 0-3-3-11-3.5-6.5-4.5-4.5zM323 737l-2.5 2.5-2.5 5-3.5 11.5-1 8 3 13 3 6.5 3.5 3.5 2.5 0 2-1.5 3.5-6.5 4.5-17-1-7-3.5-11.5-2-3.5-2.5-2.5zM220 737l-3.5 7-3.5 18 3 17 2.5 6.5 1.5 1.5 1 0 2-2 2-5.5 3-15.5 0-4.5-2-11.5-2-7-2-3.5zM150 737l-2 3-2 7-2 12 0 7 3 15.5 2 4.5 2 1 2.5-4 1-3.5 3-17.5-3-18-2-5.5-1.5-1.5zM726 710l-4.5 3.5-2.5 4-2 4.5-4 13.5 2 9.5 3.5 8 3 4 2.5 2 4.5.5 4.5-3.5 4-7.5 3.5-10.5.5-5.5-1-4.5-4-10.5-5.5-6.5-2-1zM246 710l-2 0-2.5 4.5-4 18.5.5 7.5 2.5 12 2.5 6 2 1.5 2-1.5 2-4.5 3.5-17 0-5-2-11.5-2-6.5zM170 710l-1.5 2.5-2 7-2 12.5 0 6 2.5 15 2 5.5 2 1.5 1.5-1.5 2-5.5 3-18.5-3-18.5-2-5-1-1zM352 709l-3.5 2.5-3 5.5-4 13.5-.5 6.5 2 9.5 4 9 2 2.5 2.5 1.5 1.5 0 3.5-2.5 2.5-4.5 5-17 0-3.5-2-10.5-3-7-4.5-5zM762 683l-3 2-5 8.5-3.5 10-1 5 1.5 7 4 10 4.5 5.5 3 1.5 2 0 2-1 3-3 4-7.5 3.5-10.5.5-4.5-3-11-3.5-7-4.5-4.5zM561 683l-1.5 1.5-3 7.5-2.5 11-.5 7 1.5 9 2.5 8.5 1.5 3 2 2 1.5 0 1.5-1 3.5-8.5 3-16.5-1.5-9-2.5-9-2-4-1.5-1.5zM268 682l-2.5 3-3 10.5-1.5 8.5 0 6.5 3.5 16.5 2 4 1 1 1.5 0 1.5-1.5 2-5 2.5-11 1-8.5-3-16.5-2.5-6zM190 682l-1.5 1.5-1.5 3.5-3.5 21 3 18 2 5 1 1 1.5 0 2.5-5.5 3-16.5 0-6.5-2.5-14.5-2-5.5zM134 682l-1.5 2-1.5 5-2 12-.5 8 3 18 2 5 1.5 0 1.5-3 1.5-6.5 2-16.5-2.5-18-2-5.5zM797 656l-3 2.5-4 7-4.5 13.5 0 3.5 2 8.5 3.5 8 2.5 3.5 2.5 2 4.5.5 4-3.5 3-5.5 5-16-2-8.5-4-9.5-4-5-2-1zM590 655l-2.5 2-2 4-3 10.5-1.5 9.5 3 14 2 5.5 3 4 2.5 0 2-2.5 2-4.5 3.5-14 .5-4.5-3.5-16-2.5-5.5-2.5-2.5zM291 655l-1.5 1.5-2 5-2.5 11-1 9 2 12 2 7 1.5 3 1.5 1.5 1 0 2-2 1.5-3.5 4-19.5-1-7.5-3-12.5-2-4-1-1zM209 655l-1.5 2.5-2.5 9.5-1.5 9.5 0 8 2.5 14 2.5 6 1.5.5 2-2.5 2-7 2-12 0-8-2-12-1.5-5-1.5-3zM150 655l-2 4.5-1.5 7.5-1.5 15 3 19 1.5 3.5 1.5.5 1.5-2.5 1.5-6 2-14.5 0-4.5-3-18.5-1.5-3.5zM617 628l-2.5 3-2 4.5-3 11.5-1 7 2.5 12 2.5 7 3.5 4.5 2 0 2.5-2.5 3.5-9 2.5-11 0-5-1.5-8-2.5-8-4-6zM315 628l-2 0-2.5 4.5-4 18.5.5 8 2 10 3 7.5 2 1.5 2-1.5 1.5-3 4-18 0-6-1.5-9-2.5-8.5zM230 628l-2 1-2 5-3 17 .5 8.5 2 11 2.5 6.5 1.5 1 1.5-1.5 1.5-3.5 3.5-19-2-16-2-7zM167 628l-2.5 8.5-2 18 2.5 18 2 5 1 .5 1.5-2.5 1.5-6 2-18.5-3-19.5-1.5-3.5zM849 617l-1.5 8.5-.5 8.5-2 1-5-5-2.5-1.5-2-.5-2.5 1-2.5 2.5-2.5 4-5.5 15.5 0 4 3 11 4 7.5 3 3 2 1 2 0 2-1 4.5-6 6-17.5zM137 601l-1 0-1.5 2.5-3 19 0 6.5 1.5 12 1.5 6.5 2 3 1-1 1.5-5 2.5-18.5-2-18zM647 601l-2.5 1-2.5 4-2.5 7.5-2.5 11 0 4 2.5 11.5 3.5 8.5 2.5 2.5 3-.5 3.5-6 4.5-17.5-1.5-10-3-10-2-3.5zM337 601l-2.5 3-3 10.5-1.5 8.5 0 6.5 2 11.5 2 6.5 2.5 3.5 1.5 0 1.5-1.5 2.5-6.5 2.5-12.5.5-6-1.5-10-2.5-9-1.5-3-1.5-1.5zM249 601l-2 1.5-1.5 4-3 17 0 6 1.5 10.5 2.5 9 1.5 2 2-1 2-5 3-18-2.5-18.5-1-3.5zM184 601l-1.5 3-1.5 7-1.5 11.5 0 7.5 2 14.5 2 6 1 .5 1.5-2 1.5-6.5 2-17-2.5-18.5-1.5-5zM675 574l-2.5 2-3 6.5-4 16.5 1.5 8.5 3 10 2.5 4.5 1.5 1.5 2 .5 3-2.5 2-4 4-14.5.5-6-1.5-8-2.5-8-3-5.5-2-1.5zM359 574l-3 4.5-2 6.5-2.5 12.5 0 3.5 3.5 16.5 2 4.5 2 2 1.5 0 1.5-1.5 3-7.5 2.5-11.5.5-6-1.5-9-2.5-9-2-4-1.5-1.5zM268 574l-2 3-1.5 5.5-2 11-.5 7.5 3.5 19 1.5 3 2 1 2-3.5 1.5-5.5 2.5-17-1.5-11-2-8.5-1.5-3.5zM202 574l-1 0-1.5 3.5-3 18.5 0 6.5 2 14.5 1.5 5 1.5 2 2-3 1-4 2-14 0-9-2.5-15.5zM150 574l-1 1-1.5 5-2.5 18.5 2 18 1.5 5.5 1.5 2 1.5-2 1-3.5 2.5-18-2-19-1.5-5.5zM694 572l1.5 9 2.5 8.5 2.5 5 2 2 2.5 0 2-2 2-4 3-10 1.5-8.5zM541 572l-16 0-2 4-3 2-4.5-4-2 0-2 1.5-2 3-5 10.5-2.5 2-2.5-2-2-5.5 0-7.5-2-4-34 0 3 18-.5 4.5-1.5 4.5-4 3-6.5 0-4.5 3.5-3.5 6-5 14.5-1.5 1.5-9 1-5.5 4.5-5 8.5-4 11.5-1.5 1.5-9 .5-3 1.5-3 3-5.5 11-3 10.5-2 2.5-5-1.5-3 0-3 2-3 5-2 5.5-3 14.5 2 10.5 4 9 4 4 2 .5 1.5-.5 2.5-2 3.5-6.5 2.5-7.5 2.5-12.5 1.5-2 2.5 0 6.5 3.5 3.5 0 2.5-1 2.5-2 3.5-5 4.5-10 2-7 2-2 9.5 0 3.5-1.5 4-3.5 3-4 9-16.5 5-1 6 0 2 2.5 2.5 17.5-.5 37 2 6 0 7.5-1 2-9 8.5-.5 1.5-4 2.5-3 3-3 4.5-9 18-5.5.5-5.5 1.5-6 4-5.5 6.5-8.5 14.5-9 1.5-3.5 2-5 5-4 6-6 11.5-1.5 1.5-7.5.5-3.5 1-4 2.5-4 4-5 7.5-5.5 10.5-2 2-1.5.5-10-.5-5 2.5-3 3-11.5 20.5-1 4.5-2 3-1.5 1-1.5 0-9-7-2.5.5-2.5 2.5-9 23 0 7.5 9 14 3.5 3 2-.5 3-3.5 9-24 3-4.5 2-1 6 .5 10 5.5 5 0 2-1 6-6 9-16.5 2.5-3 2-1 13 1 5.5-2 6-5.5 12-18.5 7-.5 4-1 4.5-2.5 4-4 4.5-6.5 7-12.5 10-1.5 13.5-6 2.5.5 2.5 2 2.5 5.5-2 33-2 12-2 4.5-1 4.5-3 2-4 4.5-4.5 8.5-4.5 11.5-1.5 1.5-3 1-8 .5-5.5 3-4 4-5 7.5-4.5 9-1 6-2 2-3-.5-8-4-3.5-.5-5 1.5-4.5 4-3 4.5-3 6.5-3 9 36.5 0 1-3.5 4.5-3.5 2.5 0 9 5 4.5 1 6 0 2.5 1 68 0 4.5-4 3-4.5 4.5-9 3-8.5 1.5-1.5 2.5 0 5.5-2 5.5-5.5 5-9.5 4-12.5 1.5-1.5 1 0 5.5 2.5 4.5 0 4-3.5 2.5-4.5 2.5-7 2-8 0-5.5-1.5-7-3.5-8.5-2-3-4-3-4.5.5-4 5-4.5 11.5-2 7.5-.5 7-1.5 2-2 0-6.5-4.5-6-2.5-5 0-7 2.5-4 .5-2-1-3-4 0-24 .5-.5.5-26.5.5-3.5 3-6.5 2-6.5 3-13.5 5.5-2.5 3.5-4 4-8.5 3.5-12.5 1.5-1.5 2.5.5 3-.5 2.5-2 3.5-8.5 3-15.5-1.5-8.5-4-12-2-3-1.5-1-2.5 0-3.5 4-4 10.5-2.5 10.5-1.5 2-2.5.5-4-1.5-8-.5-1-1-2.5-25.5-1-28.5-.5-.5-.5-28-.5-.5.5-13.5 1.5-9.5 1.5-3.5 3.5-3 3.5 2 2 0 2.5-2.5 3-8 2.5-11 3-8 2.5-2 1.5 1 2.5 3.5 2-1 1.5-3.5 2-10.5zM376 572l.5 6.5 2.5 12.5 2 4.5 2 1 1.5-2 2-6.5 2.5-16zM282 572l.5 8 1.5 8.5 2 6.5 2 1.5 2-3.5 1.5-6 2-15zM222 572l-9 0 1.5 16 1.5 6.5 1.5 2 1.5-2 1.5-6.5zM161 572l2 18 2 6 1 0 1-1.5 1.5-6 2-16.5zM88 572l0 380 38 0-3-16.5-3.5-8-3-.5-1.5 1.5-6.5 13-2 2.5-2.5.5-2-2.5-1.5-4-2.5-12 1.5-1.5 3 0 5-2 4-4 4.5-8 4-11 0-1.5 1-1 4.5 0 3-2.5 3-8.5 2-12 0-6.5-2-11-2-6.5-3-4.5-3.5.5-3 4.5-4 11.5-1.5 9-1.5 1.5-2.5.5-9-2.5 2.5-4.5 2-7 1.5-15 1-1 3.5-.5 3-5.5 3-17 0-8-1.5-10-3.5-10-1.5-1.5-2 0-5.5 3.5-1.5-.5-3.5-4 4-3 3-6.5 3-14.5 1-11 1-.5 5 6.5 1 0 2-2.5 1.5-5.5 2-15 0-6-1.5-12.5-2-7.5-2-2.5-2.5 2-3.5 9-2 9-1 8.5-1.5 1-4.5-3-.5-1.5 1.5-3 1.5-6.5 1-9 0-7.5 2.5-2 3.5-7 2-8 2-15.5 1-.5 4.5 4 1.5-1.5 1-3 2.5-16.5 0-9.5-2.5-16-1-3-2-1.5-2.5 5-2 9-2 19-1.5.5-3-4-3-2.5-3-1-3 0-1-1 1.5-1.5 1.5-3.5 3.5-21 4.5-4.5 1-2.5 7-10 2-4 2-8 1.5-1.5 2 0 1.5-2 1.5-7.5 1-15-9 0 0 2.5-2 2.5-9-4.5-2.5-.5z"/>
<path fill-rule="evenodd" fill="#df0000" d="M88 938l0 13.5 5.5 0-3.5-12-1-1.5zM650 951l0 1 28.5 0-1.5-6-3.5-7-4.5-5-3.5-1.5-2 0-3.5 1.5-3 3zM832 929l-3.5 3.5-2 3.5-5.5 16 26 0-3.5-11.5-3-6.5-2.5-3.5-3-2zM224 928l-1.5 1.5-2 5.5-3.5 16.5 14.5 0-.5-5.5-2-8.5-3.5-9zM119 927l-1.5 0-1.5 1.5-2 4-5.5 19 17 0-3-17.5-1.5-4.5zM716 902l-5.5 3-3 3-4 5.5-5.5 11 4.5 10 3 4.5 6.5 6 3 1.5 5 .5 6-2.5 5-5 4-6 4-8 0-3-3.5-9.5-2-3-5-5-6-3zM264 901l-2 .5-2.5 2.5-3.5 8-4 12 0 4 2 7 5.5 11 1.5 2 2 1 1.5-.5 2-2 2.5-5 5.5-16 0-6-1-4.5-7-12zM148 900l-1.5.5-2 5-2.5 16 0 6 3 17 2 4 1.5-.5 1.5-3.5 3-16.5 0-7.5-1.5-10.5-1.5-6.5zM765 875l-5 2.5-4.5 4.5-4 6-3.5 7-1 4 2.5 8.5 4.5 7 4 3.5 3.5 2 3 1 4 0 5.5-2.5 5-5 7-12.5 1-4-3-9-3.5-5.5-4-4-5-3zM179 873l-2 0-3 4.5-2 6-3 14 4.5 18.5 2 4 2 2 3-2 2-4.5 4-16.5 0-3.5-3-13.5-1.5-4.5zM301 873l-2.5 2-3 6.5-5 15.5 0 7 8 16.5 1.5 1.5 2 .5 2-1.5 2-3.5 6.5-18.5 1.5-8.5 0-4-10.5-13zM812 848l-4 2-5 5.5-5 8.5-2 4.5-.5 3 2.5 8 4.5 7.5 3 3 4 2.5 7 .5 4-2 5.5-6 5.5-10.5 1.5-5-3-7.5-5.5-8.5-3-3-4.5-2.5zM554 846l-3 2.5-3.5 7-4 14 0 6.5 1 8 3.5 7 5 4 3.5 0 3.5-3 2-3.5 2.5-7 2.5-12.5-2-9-3.5-9-3-4-1.5-1zM207 846l-3 6-3.5 18.5 3.5 18.5 2 4.5 1 1 1.5 0 3-6 3.5-18.5-3.5-18.5-2-4.5-1-1zM849 828l-2 4.5-2.5 9.5 1 10.5 3.5 9.5zM588 819l-1.5.5-3 3-3 5.5-4 12-.5 5.5 1.5 6.5 4 10 3.5 4.5 4 1.5 1.5-.5 3-3 3.5-6.5 4-13 0-4.5-3-11-2.5-5-4-4.5zM237 819l-2 2.5-2 5.5-3 14.5 0 4.5 2 10.5 2.5 8 2.5 3.5 1.5 0 2-2.5 2-5.5 3-14.5 0-4.5-3.5-16-2-4.5-1.5-1.5zM149 819l-1.5 2-2 7-2.5 15.5 3.5 20 1.5 3.5 2 1 2-3 1.5-5.5 2.5-16-3-18.5-2-5zM621 792l-4.5 4-3 5.5-4.5 13.5 0 3.5 3 10.5 4 7.5 4.5 4 4 0 4-3.5 2.5-4 5-13.5.5-5.5-3-11.5-3-5.5-4.5-4.5zM268 792l-2 0-2.5 3-3 10-2 10.5 1 8 2.5 10.5 2.5 5.5 1.5 1.5 2-.5 2.5-4 2.5-8.5 2-10.5-2.5-15.5-2-6zM172 792l-2 3.5-2 7-2 11 0 6 2.5 13.5 2.5 6.5 2 1.5 2-2 1.5-4 2-8.5 1.5-11-2.5-14.5-1.5-5-2.5-4zM88 789l0 135 13.5-.5 5.5-2.5 4-5 4.5-9.5 3.5-11.5 2.5-.5 2.5 1.5 1.5 0 2-1.5 3-8 2.5-16.5-3.5-18.5-2-4.5-2.5-2-2.5 2-1.5 3-3 10-2 14-2 3-10-5.5-8.5-.5-3-1 2-.5 4-3.5 2.5-5 2-6.5 2-12 1.5-1.5 4 1 2-1.5 1-2 3-14.5.5-12.5-3-16-1.5-3.5-1.5-1.5-2 .5-4.5 7.5-2 2-1.5 0-2-1.5-3.5-6-3-3zM197 765l-2 3.5-4 20.5 3.5 19.5 2 4.5 2 .5 1.5-2 2-6.5 2.5-17.5-3-16.5-2-5-1-1zM656 764l-2.5 1-4.5 5-4.5 10-2.5 8 0 2 3 11.5 4 7 3.5 3.5 2 1 4 0 4.5-4 4-7.5 4-12 0-2.5-2.5-9.5-3-6.5-3-4-2.5-2zM296 764l-2.5 3-2 5-3 12.5-.5 6 2.5 12 2.5 7 2.5 3.5 2.5 0 3-4.5 2-6 2.5-11 0-6-3.5-15-3-5.5-1.5-1zM131 764l-2 1-2 5-3 18 2 15.5 2 7 2 3 1.5-1 2-5 2.5-15 0-8-1.5-10.5-2-7.5zM691 737l-4.5 3.5-3.5 6.5-3.5 10-1 6 2 9 3.5 8 5 5.5 4 .5 4-3 4-7.5 3.5-10.5.5-5.5-2.5-9.5-3.5-7.5-4-4.5-2-1zM324 737l-3 3-2.5 6-2.5 9.5-1 7.5 2.5 11.5 2.5 7 3.5 4.5 2.5 0 3-3.5 2.5-6.5 3-12.5 0-5-4-15.5-3.5-5.5zM220 737l-1.5 2-2 6.5-2.5 14.5 0 3.5 3 16.5 2 5 2 1 1.5-1.5 1.5-4 3.5-19.5-3.5-19-1.5-3.5-1.5-1.5zM150 737l-1.5 2.5-1.5 5-2.5 15 0 4 3 17.5 1.5 4 2 1 1.5-2 1.5-5 2.5-15 0-5-2.5-15.5-2-5.5zM726 710l-1.5.5-2.5 2.5-2.5 4-4 11-1.5 7.5 1.5 7 4.5 11 4 4.5 4 .5 3.5-3 3.5-6.5 4-13 0-4-3-11-3-6-4-4.5zM244 710l-1.5 1.5-2.5 8-2 11.5 0 7 2.5 13.5 2.5 6.5 2 1 2.5-4 1-3.5 3-18-3-17-2.5-6zM352 710l-3.5 3-2.5 5.5-3 10.5-1 7.5 2.5 11.5 1.5 4 3 5.5 1.5 1.5 2.5.5 3-2.5 2.5-5 2-6 2.5-12-1-6.5-2.5-9-3.5-6.5zM171 710l-1 .5-1.5 3-3.5 19.5 2 17.5 2 7 1.5 2 1.5-1 1.5-3.5 3-17 0-7-1.5-10.5-2-7.5zM116 710l-3 8-2.5 18.5 1 9 2 9 2 4.5 1.5 1 1.5-2 1.5-6 2-18.5-2.5-19-1.5-4zM762 683l-3 2-4 7-4 12-.5 4.5 2.5 10 2.5 6 4.5 6 3.5 1 1.5-.5 3-3 3.5-6.5 4-13 0-3.5-2.5-9.5-4-8.5-3.5-3.5zM561 683l-2 3-2.5 8-2 10.5 0 6 3.5 16 2 4 2.5 1 1.5-1.5 2.5-6 3-15 0-4-3.5-16.5-2.5-5zM268 683l-1.5 1.5-2 5.5-2 9.5-1 9.5 3 16.5 2.5 6 2 .5 2-3 2-7 2-11.5 0-6-2.5-14-2.5-6.5zM191 683l-2 1.5-1 3-3 17 0 7 2.5 15 2.5 5.5 2-1 1.5-4 3-17.5-.5-8.5-3-15zM135 683l-2 1-1 3-3 20.5 3 20.5 1 3 1.5 1.5 1.5-2.5 1-4 2.5-18.5-2-16.5zM797 656l-3 2.5-3.5 6.5-4.5 15 2 9 4 10 4 4.5 3.5.5 3.5-3 3-5.5 4-12.5.5-4-3-11.5-3.5-7.5-4-4zM590 656l-2.5 1.5-1.5 3-4.5 18.5 0 3 2.5 12.5 2 6 2.5 4 3-.5 1.5-2.5 2.5-7.5 2.5-12.5-1-8.5-2-8.5-3-7zM291 656l-2 3-2 7-2 11.5 0 6.5 2.5 13.5 2.5 6.5 2 1 2-2.5 2.5-8.5 2-15.5-3-16-2.5-6zM210 656l-2 1-1.5 3.5-3 17.5 0 5.5 2.5 15.5 1.5 4.5 1.5 1.5 1.5-1 2-5.5 2.5-15.5 0-5.5-2.5-15.5zM150 656l-1.5 3.5-3 22 2 16 2.5 7.5 1 0 2.5-8 2-18-2.5-18-1.5-4.5zM88 654l0 134 9 0 2.5-1 1.5-1.5 3.5-8 3-15.5-.5-7-2.5-12-2.5-5-4-3-7 0-.5-.5 4.5-2 3-4 3-9.5 1.5-11.5 5-4 3-7 2.5-12 .5-7-2.5-13-3-6.5-2.5-2.5-3-1-4 1-4.5 0-2-1zM834 629l-3 3-2.5 4.5-3.5 10-1.5 7 2 8.5 4 10 4 4.5 2.5.5 4-3 3.5-7 4-13.5 0-6-2-7.5-4-7-3.5-3.5zM617 629l-3 5-1.5 4.5-3 13.5 0 2.5 1.5 8.5 3 10 3 4.5 2 0 2-2 3-8 2.5-11.5 0-6-1.5-8-2.5-8-2.5-4.5zM167 629l-1.5 2.5-1 4.5-2 19 2.5 18.5 1.5 4 1 .5 1-1.5 1.5-6 2-18.5-2.5-18.5-1-3.5zM314 628l-2 2-1.5 4-3.5 19 3.5 19 3 5.5 2-1 2-4.5 3.5-18.5-1-9-2-9.5-2.5-6zM229 628l-1.5 1.5-1 2.5-3.5 20 2 16 1.5 6 1.5 3 1 .5 1.5-1.5 1.5-4.5 2.5-14.5 0-8.5-1-7.5-2-9-1-2.5zM121 628l-2 3-1 4-2.5 17.5 1.5 17 3 8 2-.5 1-3 2.5-17.5-1-17-2-9.5zM849 621l-.5 3 .5 18.5zM137 602l-1.5.5-1 3-2.5 18 0 5.5 2.5 17.5 2 4 1-1.5 1.5-6 2-17-1.5-14.5-1.5-7.5zM647 601l-3 2-1.5 3-4.5 17.5 0 4.5 2.5 12 1.5 4.5 2 4 1.5 1.5 2 0 3-4 2.5-7.5 2.5-12-2.5-14.5-3.5-9zM337 601l-1.5 1.5-2 5.5-2 9.5-1 9.5 3.5 18.5 2 4 2 .5 2-3 2-7 2-11.5 0-6-3-16-2-4.5zM249 601l-1.5 1-1 2-3.5 20 1.5 15 2 8.5 1.5 2.5 2-1 1-2.5 3.5-21-2.5-17.5-1.5-5zM184 601l-1.5 3.5-2.5 17.5 0 7.5 2 15 1 4 1.5 1.5 1-1 1-3.5 2.5-20.5-2.5-19.5-1.5-4zM675 574l-1.5 1-2 3.5-2 6-3 14 2 11 2.5 8 1.5 3 2.5 2.5 1 0 3-3 2.5-6.5 2.5-10.5.5-6.5-2.5-12-2.5-7-3-3.5zM359 574l-2.5 4-2 7-2 11 0 5.5 3.5 16.5 2 4 1 1 1.5 0 2.5-4 2-7 2-11 0-5.5-2-11-2-6.5-2.5-4zM268 574l-1.5 2.5-1.5 5-2.5 17.5 2.5 17 2.5 6.5 1.5.5 2-4 2-9.5 1-7.5 0-8-2.5-14.5-2-5zM202 574l-1 0-1.5 4-2.5 17.5 0 6.5 2.5 17 2 4 1.5-2 1-4 2-14.5-.5-13.5-1.5-9.5zM150 574l-1 1.5-1.5 6-2 16.5 1.5 15.5 1.5 7 1.5 2.5 1-1 1.5-6 2-16-2-19.5-1.5-5.5zM695 572l2 11.5 3 9 2 3 3 .5 2-2.5 2.5-6.5 3-15zM540 572l-14 0-1.5 3.5-3 3.5-2.5 0-3-4-2.5-.5-2 2-7 18-4 4-2.5-2-2.5-7.5-.5-5 1-4 0-3.5-2-4.5-29.5 0 2 12 0 6.5-3 9-4 3.5-1.5.5-6-.5-4 3.5-3.5 7-3.5 11-3 4-7.5 0-2.5 1-3 2.5-5.5 9.5-3.5 9.5 0 1.5-2.5 3.5-2 .5-2.5-1-5 0-4.5 3-5.5 10.5-3.5 11-.5 7-2 .5-5-4.5-4-.5-2.5 2-2.5 4.5-3.5 11.5-1 5 0 5.5 2 9 3 7.5 3 4 3 1 3.5-3 4-9.5 3-12 .5-11 1.5-.5 5 5 5.5 3.5 3 0 2-1 3.5-3.5 4-7.5 4.5-14 2-2 10 1 4-2 5.5-7 6.5-15 2.5-2 6-1 5.5-3.5 3-.5 2.5 2 1 2 1 6 0 32-1 9.5 0 10.5 3 8 0 4.5-1 2.5-9.5 8.5-.5 2-5.5 3.5-2.5 3-6.5 12-4 9.5-3 1-7 .5-6 3-6.5 7-9 15.5-9 1.5-4 2-4 4-4 6-7.5 14-4 1-6 0-6 3-6 7-7.5 14.5-3.5 4-3 .5-5-1.5-4.5 0-3 1.5-6 7-8.5 17-1 12.5 3 2.5 7.5 4 5 4 4 1.5 3-.5 3-2 3-3.5 5.5-9.5 5-10.5 2.5-2.5 5.5-.5 6 2 4 0 5.5-2.5 4.5-4.5 11-18.5 2.5-1 9.5-.5 4.5-2.5 3-3 4.5-6.5 7-13.5 3-1 4 0 4.5-1 4-2 12.5-9 2.5 0 2.5 2 3 9.5-1.5 27-1 9.5-1 2.5-1 7-3.5 9.5-5.5 5-2.5 3.5-8.5 19-1.5 1.5-2 1-9.5.5-3 1.5-4.5 4-5 7.5-5 11 0 5-2.5 3.5-2.5 1.5-2.5 0-4-4-5-3-3.5-.5-4 1.5-2.5 2-3.5 5-4.5 10.5-1.5 6 33 0 0-2 1-2 2.5-2.5 5-2.5 2.5.5 7 5.5 5.5 1.5 8 0 2.5 1.5 64 0 2.5-2 5-7 4-8.5 3-9 1-1 8-1.5 3.5-2.5 3.5-4.5 3.5-7 3.5-10 0-5.5-2-7-4-6-4.5-4.5-5.5-3-5 0-9.5 5-2.5.5-1.5-.5-2.5-2.5-2-4 0-28 .5-.5.5-23.5.5-3.5 2-3.5 3-9 3-14 1-1 5-1.5 2.5-2.5 2.5-4 4-11 2-9 1.5-1.5 6 1.5 3-2.5 3-7.5 3-16-4-17.5-2.5-5-2.5-2-3 2-2.5 5-3.5 12-1.5 9.5-1.5 2-8.5-4-2.5-.5-5.5.5-3-2-.5-15-1.5-13.5-2-54.5.5-.5.5-12 2-11 2.5-4.5 2.5-2.5 2 0 3 2.5 1.5 0 1.5-1.5 3-7.5 4.5-18 2-4 1.5-1.5 1.5 0 3.5 5.5 1.5-.5 2-5zM376 572l2.5 17 1 3.5 1.5 3 1 .5 2-2.5 1.5-5.5 2-16zM293 572l-10.5 0 2.5 19 2.5 5 1.5-1.5 1.5-5zM222 572l-8 0 1 13.5 1.5 7.5 1.5 3 1-1 1-3.5 1.5-10zM162 572l1.5 16 1.5 6 1.5 1.5 2-6.5 2-17zM130 572l-7.5 0 0 9-1.5 2.5-6-5.5-6.5-4.5-3 0-4.5 2.5-4.5 1.5-6.5-.5-1.5 1.5 0 74 7.5 0 2.5-1.5 2-4 1.5-5.5 2.5-15.5 4.5-3 3-6.5 6-9 2.5-6 1.5-7.5 1-1 1 0 1.5 2 1.5 0 2-8z"/>
<path fill-rule="evenodd" fill="#ef0000" d="M651 952l25.5 0-1.5-5.5-3.5-7-3.5-4-3-1.5-4.5 1-3 3-4.5 8zM832 930l-2.5 3-2.5 5-2.5 7-1.5 7 23.5 0-4-13-3-6-2.5-3-2-1zM224 929l-2.5 4.5-3.5 18.5 12.5 0 0-3.5-2.5-12-2.5-6.5zM118 927l-2 1.5-2 4.5-3.5 14-.5 4.5 14.5 0-3.5-19.5-1.5-3.5zM718 903l-5 2-5.5 5.5-7.5 14.5 5 11 3.5 5 2.5 2.5 4 2.5 5.5.5 5-2.5 3.5-3.5 4-6 4.5-9.5-2-6.5-5.5-9.5-4.5-4-3-1.5zM263 901l-2.5 2-2.5 5-4.5 14-.5 4.5 2.5 9 5 10.5 3 2 2.5-2 2-4 5.5-17 0-2.5-2.5-10.5-4.5-8.5-2-2zM148 901l-2 3-1 4-2 14 0 6 2 13.5 2.5 7 1.5-.5 1.5-4 2.5-15.5 0-7.5-1.5-11-2-7.5zM765 876l-4 2-4 4-6.5 11.5-1.5 3.5 0 2 2 6.5 4.5 8 4.5 4.5 3 1.5 6 .5 4-2 5.5-6 6.5-13 0-2.5-2-6-5-8.5-3.5-3.5-4.5-2.5zM179 874l-2 0-2.5 4-2.5 8.5-2 10.5.5 5 3 13 2.5 5.5 1.5 1.5 2.5-1.5 1.5-3 4.5-19.5-3.5-17zM301 873l-2.5 2.5-2 4.5-5 17 0 3.5 2 7.5 3 7 3 5.5 2.5 1 1.5-1 2-3.5 6-19 0-9.5-6.5-13-2.5-2.5zM97 872l-8.5 2 0 47 5.5 2 7 .5 5.5-2.5 3-3.5 2.5-4.5 5-14 0-8-1-4.5-2-4-6-7.5-4.5-2.5zM813 849l-3.5 1.5-5.5 6-6.5 13 0 3 2.5 7.5 4.5 7.5 4.5 4 3.5 1.5 3 0 3.5-1.5 4.5-4.5 2-3 5.5-12 0-2.5-4-9.5-4-6-4-3.5-3.5-1.5zM554 847l-3 3-2 4-4 13.5-.5 6 1.5 9.5 3 7.5 3.5 4 4 .5 2-1.5 3.5-6.5 3-10.5 1-6.5-2-9.5-4-10-2.5-3zM208 846l-1.5 1-2 4.5-3 16 0 6 2 11.5 1.5 5.5 2 3.5 1.5 0 2-3.5 3.5-17.5 0-6-2-11.5-2-7zM126 846l-1.5.5-2 3-3 10.5-1.5 8.5.5 18.5 2 4.5 4 4.5 2.5-.5 1.5-2.5 2-6.5 2-13 0-5.5-2-12-2-6.5zM849 830l-4 13.5 1 6.5 3 9.5zM589 819l-3 1-3 4-3 7-3 11 .5 5 3.5 11.5 3 5.5 2 2 2.5 1 2.5-1 2.5-3 3-6.5 3.5-12-1-8.5-2.5-8-3-5.5-3-3zM237 819l-2 3-1.5 4.5-3 17.5 3.5 17.5 2 4.5 1 1 1.5 0 2-3 1.5-4.5 3-17.5-4-19-2.5-4zM149 819l-1.5 2.5-1.5 5.5-2 12.5 0 7 2.5 15 2 5 1.5.5 1-1 2.5-9.5 1.5-9.5 0-8-3-16.5-1-2.5zM621 792l-3 2-4 7-3 8.5-1.5 7 2 8.5 4 9.5 4 4.5 4.5.5 2.5-2 4-7 3-8.5 1.5-7-3-12-3.5-7-3.5-3.5zM266 792l-2 2.5-2.5 8-2 10.5 0 6 2 10.5 2 6.5 1.5 3 2 1 1.5-1 2.5-6 3-14 0-6.5-2-10.5-2-6.5-2.5-3.5zM172 792l-1.5 2.5-1.5 5-2.5 14.5 0 4 3 16.5 1.5 4 2 1.5 1-.5 1.5-3 1.5-5.5 2-11.5 0-7.5-2-11.5-2-6.5-1.5-2zM111 791l-2 1-2 4-3 9.5-3 4-1 0-2-2-5-11-2-3-3-2 0 77.5 4.5-1.5 3.5-3.5 2.5-5 3-10 2-11.5 1.5-1 4.5 4.5 1.5 0 2.5-4.5 2-10 1-12.5-2-14-2-7zM656 765l-4 2.5-4.5 8-4 12 0 4 2.5 9.5 4.5 8.5 4 3.5 3.5 0 2.5-1.5 2-2.5 3.5-7 4-13-2-8.5-4-9.5-4.5-5zM296 765l-2.5 3.5-2 6-2.5 12 0 5.5 4 16.5 1.5 3 2.5 2 2-1.5 3-7.5 3-16.5-1.5-9-2.5-9-1.5-3-2-2zM198 765l-2 2-1 3-3 16 0 6.5 2 12.5 1.5 5 2 3 1.5-.5 2-5 3-17.5-2.5-17.5-2-6zM131 765l-2 1-1 2.5-3 16.5 0 8.5 1 7.5 2 9 2 3.5 1.5-1 1.5-4 2.5-15.5 0-8-2.5-15.5zM691 738l-4 3.5-2.5 4.5-5 16.5 2 9 4.5 10.5 3.5 3.5 3.5.5 3.5-3 3-5.5 3.5-10.5 1-6.5-3-11-3-6.5-4-4.5zM324 738l-2 2-3 7-3 13 0 4 4 16.5 3.5 5.5 2.5 0 1.5-1.5 3.5-8.5 3-14.5-1.5-8.5-3-10-1.5-3-2-2zM220 738l-1.5 2.5-1.5 5-2.5 18 3 17 2 5 1.5.5 2-3 2-8 1.5-9.5 0-7.5-2.5-14-2-5zM150 738l-2 4.5-1.5 7-1.5 14.5 3 18 1.5 3.5 1.5.5 2-4 3-17.5 0-5-3-17.5-1.5-3.5zM94 736l-2.5 1.5-3.5 4 0 40 4.5 4.5 2 1 3 0 3-3 2.5-6.5 2.5-11.5.5-6-1.5-10-2.5-8.5-1.5-3-2-2zM726 711l-2.5 1.5-4 7-3 9-1.5 7 2.5 10.5 4 9 3 3 3.5.5 3.5-3.5 3-6.5 3.5-12 0-3.5-1.5-6.5-4-10.5-4-4.5zM352 710l-2.5 2-2.5 5-3.5 13-.5 6.5 2 9.5 3 8.5 2 3 1.5 1 1.5 0 2.5-2 2-4 3-10 1.5-9.5-1.5-8.5-2.5-8-2-4-2-2zM245 710l-1.5 1.5-1.5 4-3 16 0 6 2 12 1.5 5.5 2 3.5 1 0 1.5-2 1.5-4.5 2.5-14 0-7.5-2-12-2-6.5zM171 710l-1 .5-1 2-1.5 6-2 14 2 18 1.5 5.5 1.5 2.5 1.5-1 1-2.5 3-17.5 0-7-1.5-10.5-2-8zM118 710l-2 1-1 3-3 19 2 18 2.5 7.5 1 .5 1.5-2.5 1-4.5 2-16.5-1.5-16.5zM762 684l-3 2.5-3 5.5-3 9-1.5 7.5 2 8.5 4 10 3 3.5 3 1 3.5-2.5 3-5.5 3.5-10.5 1-7-1.5-6.5-4-10.5-3-4-1.5-1zM561 684l-1.5 1.5-2 5-2.5 12-.5 7.5 3.5 17 1.5 3 1.5 1.5 1 0 3.5-7 3-18-3.5-17.5-1.5-3.5-1.5-1.5zM268 683l-2 3-2 7.5-2 14.5 3 17.5 2 5 2 .5 2-3.5 3.5-18 0-5-3-16.5-2-4.5zM191 683l-1.5 1-1.5 4-2.5 15.5 0 7.5 1 7.5 2 9.5 1.5 3 2-1 1-3 3-18-1.5-15.5-2.5-9.5zM135 683l-1.5.5-1 2.5-2.5 16 0 10 1.5 11.5 1.5 6 1.5 2 1-1.5 1.5-6 2-16.5-1.5-15zM379 683l-2.5 2.5-2 4-4.5 18.5 2.5 12 2.5 7 3.5 4.5 2 .5 2.5-2 3-6 3-11 1-8.5-1-9-3-8-3.5-4zM797 657l-3 3-2.5 5-4 13.5 0 4.5 3.5 12.5 2.5 5 2.5 3 3.5.5 2.5-2 2.5-4.5 3-8.5 2-9.5-2.5-10-3.5-8.5-3-3.5zM590 656l-2 2-2 5-3.5 17 2 11.5 2.5 8.5 2.5 3.5 1.5 0 1.5-1.5 2-5 3.5-17-3.5-17.5-2.5-5.5zM291 656l-2 3.5-1.5 6-2 12 0 5 3 16.5 2 4.5 1.5.5 2-3 1.5-5 2.5-17-3-17.5-2.5-5.5zM210 656l-2 1-1 2.5-3 18 0 5.5 1.5 11 2 8 1.5 2 1.5-1 1-2.5 3-18 0-5.5-1.5-11zM150 656l-2.5 10-1.5 15.5 2.5 18.5 1.5 4 1 0 2.5-9 1.5-17.5-2-15.5-2-6zM104 656l-2.5 0-4 2.5-6 6-3.5 6 0 62.5 3-1 3-3 2.5-5 2-6.5 1.5-10 1.5-1.5 3-1 2-2 2-4 2-7.5 2-11.5-1-7-2.5-10-2.5-5zM837 630l-3.5.5-2.5 3-2.5 5.5-4 14 4 15.5 4 7 3 1.5 1.5-.5 2.5-2.5 2-3.5 5-16.5-.5-6-2.5-8.5-3-6zM618 629l-2 2-2.5 7-2.5 12 0 6 4 16.5 2.5 4 2 0 1.5-1.5 2.5-6.5 2-8.5 1-9-4-17.5-1.5-3-1.5-1.5zM167 629l-1.5 3-1 5.5-1.5 18 2 16 1.5 5 1 .5 1.5-3.5 1-5.5 1.5-17.5-2.5-18.5-1-2.5zM122 629l-1.5.5-1 3-2.5 16.5.5 15 2 10.5 1.5 2.5 1.5-1 1-3.5 2-15.5-.5-14-1.5-9.5zM314 629l-1.5 1.5-2 5.5-2.5 14.5 0 6 1.5 10 2.5 9 1.5 2 2-1 2-5.5 3-17.5-3.5-20-1-2.5zM229 629l-2.5 4.5-3 19 2 16.5 3 8.5 1.5-1 1-2 3-17 0-8.5-1.5-10.5-1.5-6.5zM848.5 624l.5 0 0 .5-.5 0zM136 602l-2.5 10.5-1 16.5 2 15.5 1.5 4.5 1 0 2.5-12 1-13-2-17-1.5-5zM646 602l-1.5 1.5-3 7.5-3 16 3.5 16.5 3 6 2.5.5 2.5-3.5 2-6 2.5-12 0-5-3.5-15.5-2.5-5zM337 602l-3 6-3 19 3 17.5 2 5 2 .5 1-1 2-6 2.5-14.5 0-5-3-16.5-2-4.5zM249 602l-1.5 1-1 2.5-3 18.5 1.5 16 1 5 2 5 2-1 1-3 3-20-2.5-18zM184 602l-1.5 4.5-1.5 10-.5 15 2 14.5 1 3.5 1 .5 1.5-3 1-5.5 1.5-17.5-2-16.5-1-4zM675 575l-2 2-2.5 6.5-2.5 11-.5 6 3.5 16 2 4.5 2 2 1 0 1.5-1 2.5-5 4-18.5-4-18-2-4-1.5-1.5zM359 575l-2 3.5-2 7-2 11.5 0 4 2 12 2 7 2 3 1.5 0 2-3.5 2-7 2-11.5 0-4-3.5-17.5-2-4zM268 575l-2.5 6.5-2.5 18 1.5 12 2 9 1 2 1.5.5 1.5-3 2-9.5 1-7.5 0-8.5-2.5-15-1.5-4zM201 575l-1 2.5-2 12.5-.5 13.5 2 15 1 3.5 1.5 1 2-7 2-17-2.5-20-1.5-4zM150 575l-2 5.5-2 16.5 1.5 18 1 5 1.5 3 2-5 2-16.5-1.5-19-1-4.5zM107 574l-3 1.5-5.5 8-3 8.5-.5 6-4.5 3.5-2.5 5.5 0 34.5 2.5 5.5 3 3.5 3-.5 1.5-2.5 2.5-9.5 2-14 1.5-1.5 3 0 1-1 4-9.5 5-8 2-6.5.5-7-1.5-5-2-3zM696 572l1.5 10.5 2.5 8.5 1.5 3 1.5 1.5 1.5 0 2-2 2-5 3.5-16.5zM540 572l-13 0-2 5-3.5 3.5-1.5 0-4.5-5.5-1.5 0-3 5-4 13.5-5 10-3 2.5-1 0-1.5-2.5-.5-5.5-2-6 0-9 1.5-4 0-2-2.5-5-25.5 0 1.5 9.5 0 6-2 7.5-3.5 6.5-4 3-7-.5-2.5 2-3.5 6.5-4 12-1.5 3-2 2-7.5-.5-2.5 1-4 4-5 10.5-3 10-2 3-2.5.5-4-2-4 0-3.5 2.5-4.5 8-4 12.5 0 6 1 4.5 3.5 8 2.5 3.5 3.5 3 4 .5 3.5-2.5 4.5-8 5.5-17 2.5-2 1.5 0 5.5 2.5 2.5 0 2.5-1 5-5.5 4-8 3.5-10 2.5-2 3.5 0 3-1 10-10 2 0 2.5 3.5 2 9.5-2.5 55.5 3.5 7 .5 6-.5 2-2 2.5-6.5 4-2.5 3-.5 2-5 3-2 2-4 6.5-5 12.5-2.5 4-2.5 1-8 .5-6.5 3.5-6 7.5-6.5 13-1.5 1.5-9 1-2.5 1-4 3-5 7-6.5 13.5-2.5 2.5-10.5.5-3.5 1.5-2.5 2-5.5 7.5-8 16.5-2 2-4 .5-6-2.5-4 0-2 1-4 4-2.5 4-7 15-.5 6.5 1.5 6 12.5 11.5 4 1 3.5-1.5 2.5-2.5 3.5-5.5 8-17.5 2.5-2.5 3.5-1 9.5 3.5 4 0 2.5-1 6.5-6.5 7.5-14 3.5-4.5 1-.5 9.5 0 3-1 6-5.5 3.5-5.5 6-12.5 1.5-1.5 2-1 8-.5 5.5-2.5 15-14.5 3-.5 2.5 2 2 6 1.5 12-.5.5-2.5 32.5-2.5 8.5 0 2-4 10.5-7.5 7.5-9 19.5-2.5 2.5-11 1-3 1.5-4.5 4.5-7 13-2 5 .5 4-3 4-3.5 2.5-4 .5-6.5-7-3.5-1.5-4.5 1-2.5 2-2.5 3.5-4 8.5-3 9.5 30.5 0 1-3.5 3.5-3.5 5.5-3 3.5.5 4.5 4.5 4.5 2.5 2.5.5 10-.5 3 2.5 59.5 0 5.5-5 2.5-4 5-11.5 2-6.5 1.5-1 6-.5 4-2 3-3 4.5-8 4-11.5 0-3-1.5-6-3.5-7.5-6-7-4-2-4 0-3.5 1.5-6 5-4 2-2-.5-3-4-2-6.5 0-20.5.5-.5.5-23.5.5-.5 0-9.5 2.5-4 2-5.5 4-17.5 1-1 3-.5 3-1.5 3-3.5 2.5-5 4.5-15.5.5-7.5 1-.5 4.5 4.5 2 1 2-.5 2-2.5 3.5-11.5 1.5-12.5-2-10.5-2-6.5-2-4-2.5-1.5-2 1.5-3.5 8.5-3 13 0 9-1 3.5-1 0-8.5-8.5-1.5-.5-9.5.5-2.5-2-1-7 0-8-.5-.5-1-25-.5-.5 0-10-.5-.5-.5-33.5 1.5-12 2-10 1.5-3.5 2-3 3-2.5 1 0 3.5 3.5 2.5-1 2.5-6 5.5-21.5 3.5-5 1 0 2 2 2 4.5 1.5-.5 2-6 1-7.5zM377 572l2.5 17.5 1 3.5 2 2.5 2-3 3-16.5 0-4zM293 572l-9.5 0 1.5 14.5 1 5 2 4 2.5-5zM222 572l-7.5 0 0 5.5 1.5 12.5 2 5.5 2-5.5zM162 572l1.5 17 1 4.5 1.5 1.5 2-7.5 1.5-15.5zM129 572l-6 0 0 12.5 1 6 1.5 3.5 1.5-1.5 1-5z"/>
<path fill-rule="evenodd" fill="#ff0000" d="M653 951l0 1 22.5 0-.5-3-3-7-4.5-5.5-2.5-1-3.5 1-3.5 3.5zM836 930l-1.5-.5-1.5.5-2.5 2.5-3 6-4 13.5 22 0-5-16-2-3.5zM224 929l-2 3.5-1.5 6-2 13 11.5 0-.5-6.5-2.5-11-1.5-4zM118 928l-1.5 1-2 4.5-3.5 18.5 13 0-2.5-16-1.5-5zM718 904l-5.5 3-3 3.5-6 11-1 4.5 4.5 10 3.5 5 5 4 6 .5 3-1.5 4-4 3-4.5 4.5-9.5 0-2.5-1.5-4.5-5-9-5.5-5-3-1zM262 902l-3 5-5 16.5 0 3 1.5 6.5 3 8 3 5.5 2.5.5 2-2 2-4.5 4.5-15.5 0-3-2.5-10-3.5-7.5-2-2.5zM148 901l-1.5 2-1 3.5-2 14 0 8 2.5 15.5 1.5 3.5 1 0 2-5.5 2.5-17.5-2-16-1.5-5.5zM766 876l-3.5 1.5-4.5 4.5-4.5 7.5-3 7 0 2 3 8.5 4 6.5 4.5 4 5.5 1.5 4-1.5 5-5 7-14 0-2.5-1.5-4.5-6-10.5-4-3.5-3.5-1.5zM177 874l-3.5 8-3 16 2.5 13 3 8.5 1.5 1.5 1 0 2.5-4 2.5-9 1.5-8 0-5.5-4-17-2-3.5zM301 874l-2 2-2.5 6-4 15 0 3.5 1 5 4 11 2.5 4.5 2 .5 1-.5 2-3.5 5.5-18.5 0-8-1-4-4.5-10-2.5-3zM96 873l-5.5 2.5-2.5 2 0 40.5 6.5 4 5 1 4.5-1.5 5-6 6-16 0-5-2.5-9.5-2.5-5-3-4-4.5-3zM813 850l-3.5 2-3 3.5-5.5 10-2 5.5 3 9 4.5 7.5 2.5 2.5 3.5 2 4 0 3.5-2 3.5-4 4.5-8.5 2.5-7-2-5.5-5.5-10-5-4.5zM554 847l-3 3.5-3.5 9.5-2 8.5 0 5 2 10.5 2.5 6 3.5 4 3 0 2.5-2.5 2.5-5.5 2.5-9 1-8.5-2.5-11-3.5-8-2.5-2.5zM208 847l-2 3-1.5 5.5-2 12 0 6.5 3 16 1.5 3.5 2 .5 1.5-2.5 2-8 1.5-9.5 0-6.5-3-16-1.5-3.5zM126 846l-1.5.5-1 1.5-2 5.5-3 16.5 1 12.5 1.5 6.5 1.5 3.5 2.5 2.5 1 0 1.5-1.5 1.5-3.5 3-17 0-5-2-12.5-1.5-5.5zM849 832l-3 10.5.5 5.5 2.5 9.5zM589 820l-2 .5-2.5 2.5-3 6.5-3.5 12.5.5 6 3.5 11.5 2.5 4.5 2.5 2.5 3 0 2.5-2.5 2.5-5 4-13.5 0-4.5-3-11.5-3.5-7zM237 820l-2 3.5-2 7.5-2 13.5 3 16 2.5 6 2 .5 2.5-5 3.5-19-3-16.5-2.5-6zM149 820l-1.5 3-3 16.5 0 8 2.5 15 1.5 4 1.5.5 1.5-2.5 1-4 2.5-17-1.5-12-2-9-1-2zM88 794l0 74.5 3.5-2 2.5-3 3.5-7.5 3-11.5 0-8-.5-.5 0-7.5-2-10.5-6.5-18.5zM621 793l-3 2.5-3 5.5-3.5 10.5-1 6 3.5 12.5 3 6 3.5 3.5 3 0 3-2.5 3-5.5 3.5-10.5 1-5.5-2-9-3.5-8.5-3-4-1.5-1zM267 792l-2.5 3.5-2 7-2 11 0 5 3.5 16.5 2 4 2 .5 1.5-2 2.5-8 2-11 0-5.5-3.5-16.5-1.5-3zM173 792l-1 .5-2 4.5-3 16.5.5 8.5 3 14.5 2 3 1 0 2-4 3-16 0-7.5-1.5-9.5-2-7.5zM111 792l-2.5 3.5-5.5 20.5 1 9 2 7.5 3 7 1.5 1.5 1.5-.5 1.5-3.5 3-19-2.5-20-1.5-4.5zM656 765l-4 3-3.5 6.5-4 12.5 0 4 3 10.5 2.5 5.5 4 4.5 4 .5 3-2.5 3.5-6.5 4.5-14.5-3-11.5-3.5-7.5-3-3.5zM296 765l-2.5 4-1.5 5-2.5 12.5 0 4.5 3.5 16 1.5 3.5 2.5 2 1.5-1 3-7.5 3-16-2-11.5-2-7-1.5-3-1.5-1.5zM198 765l-1 .5-2 5-2.5 14.5 0 7.5 1.5 10 2 7.5 1.5 2 1.5-.5 1.5-4 3-17.5-2.5-18.5-1-3.5zM130 765l-1.5 2.5-2 9.5-1 7.5 0 8.5 3 17 1 2 1 .5 1-1 1.5-5 2.5-18-2.5-18-1.5-4.5zM691 738l-1.5.5-2 2-3 5.5-3 9-1.5 7.5 2 8.5 4 10 4 4 2.5 0 2.5-2 3.5-6.5 4-13.5 0-3-1.5-6.5-4.5-11.5-2.5-3zM220 738l-2.5 6.5-2.5 18.5 3 17.5 1.5 4 1.5.5 1.5-2 1.5-5.5 2.5-16-3-18.5-1.5-4zM150 738l-2 5-2.5 16 0 5 3 18 1 2.5 1.5.5 2-4.5 2.5-16 0-6-2.5-16-1.5-4zM325 738l-2.5 2-2 4-4 17 1 8 2.5 10 2 4.5 2 2 2 0 3-5 4-16.5 0-4.5-2.5-12-3-7.5zM96 737l-1.5.5-2.5 2.5-4 8.5 0 27 4.5 9 2.5 2 2.5 0 2.5-3 2-5.5 3-16.5-1.5-10-2.5-9-2.5-4.5zM726 711l-3 2.5-2 3.5-3 8.5-2 10 2.5 10.5 3.5 8 2.5 3 3 .5 3-2.5 2.5-5 4.5-15.5-4.5-16.5-2.5-4.5-2-2zM536 711l-2 1-2 4-4 16 0 11.5 1.5 8 3 6 2.5 2 2-.5 2-3 2.5-8.5 2-12-3-16.5-3-7zM352 711l-2 1.5-2 4-2.5 8-2 11 4 17 2 4 2 2 1.5 0 2-1.5 3.5-8.5 2.5-11 0-6-4-15.5-2-3.5zM245 711l-1.5 1.5-1.5 4.5-2.5 14.5 0 7 3 16 2 4 1.5-.5 2-5 3-18-2.5-16.5-2.5-7zM170 711l-2.5 7-2 14.5 0 5 2.5 16.5 1.5 4 1 .5 2-4 2.5-15.5 0-8.5-2.5-15.5-1-3zM117 711l-2 5-1.5 9.5-.5 15 2 13.5 1.5 4 1 .5 1.5-3 1-5 1.5-18.5-2-16-1-3.5zM762 684l-2 1.5-3.5 6.5-3.5 11.5-.5 5 4.5 15.5 2 3.5 2.5 2.5 2 .5 3.5-3 2.5-5 4-13.5 0-4-1.5-6.5-4-10.5-3-3.5zM561 684l-2 3-2 7-2 11.5 0 3.5 3 16 1.5 4 1.5 1.5 1 0 2.5-4.5 2-8.5 1.5-11-3-16.5-2-5zM269 684l-2 1-1.5 4-3 18 2.5 17.5 1 3.5 1.5 3 1 .5 2.5-4.5 3-17 0-5-1.5-10.5-1.5-6.5zM191 684l-1.5 1-1 3-2.5 15.5 0 9 2.5 15 2 4 2.5-5 2.5-16.5 0-5-2-14.5-1-4zM379 683l-2 2-3 7-3 13.5 0 3.5 4 16 2 4 1.5 1.5 2 .5 3-3 3-8 2.5-11 0-6.5-1.5-9-2.5-6.5-3.5-4zM134 683l-1 1-1.5 5.5-2 16.5 2 18.5 1 4.5 1.5 2 1-1.5 1-4.5 2-16-1.5-17.5-1.5-7zM798 657l-2.5 2-3 6-4 15.5 2 9 4.5 11 2 2 3 .5 2.5-2.5 2.5-5 4-14 0-3-2-8.5-4-10-3-3zM104 657l-3 1-3.5 4.5-3.5 7-3.5 10.5-2 .5 0 51 1.5-.5 2.5-2.5 2.5-5 2.5-8.5 1.5-8.5 1.5-1.5 4-1 2-2 3.5-10 2-11.5-1-7.5-3-11-1.5-3zM590 657l-2 1.5-1.5 3-3.5 16 0 6 1.5 8.5 2 7.5 3 4.5 2-1.5 2.5-6.5 2.5-13 0-5.5-2-11-2-6.5zM291 657l-2.5 6-2.5 15 0 5.5 3 16.5 1.5 3.5 1.5.5 1.5-2 1.5-5 2.5-17.5-1.5-11-2-8.5-1.5-3zM209 657l-1 1-2 8-1.5 11 0 7 2 14 1.5 5 1.5 1 1-1 2-8 1.5-11 0-7-2-14-1.5-5zM150 657l-2.5 11.5-1 15.5 2 15.5 1.5 4.5 1 0 2.5-10.5 1-9 0-8-2-15-1.5-4.5zM834 630l-2.5 2.5-2.5 5-4 14 0 2.5 2.5 10.5 2.5 6.5 3.5 4.5 3 0 2.5-3 2-4 4-14 0-4-1.5-7-4-10-2.5-3zM619 630l-1.5 0-1.5 1.5-1.5 3.5-3.5 16 0 4.5 2.5 13 3 7.5 1.5 1 2-1.5 2-4.5 3.5-17-3-17zM121 630l-1.5 4.5-1.5 10-.5 14.5 2 14.5 2 3.5 1.5-3 1.5-9.5.5-17.5-2-14-1-2.5zM314 629l-1.5 1.5-1.5 4.5-2.5 14.5 0 7 1.5 10 2 7.5 1.5 2.5 1.5-.5 2-5 3-18-2.5-16.5-2.5-7zM229 629l-1.5 2-1 3.5-2.5 17 1.5 15 1.5 7 1.5 3 1.5-1 1.5-4.5 2.5-17.5-2.5-19-1-3.5zM167 629l-1.5 4-1.5 10.5-.5 14 2 15 1 3.5 1 .5 1-2 1.5-8 1-9.5 0-8.5-2-15.5zM136 603l-2.5 12.5-.5 16 1.5 12.5 1 4 1 1 1-1.5 1-4.5 1.5-13.5 0-7-2-16-1-3zM646 602l-3.5 6.5-3.5 17 1.5 9.5 2.5 9.5 1.5 3 1.5 1.5 1.5 0 3.5-7 3-14.5 0-4-4-17.5-2-3.5zM338 602l-2 1-1.5 4-3 18 2.5 17.5 1 3.5 1.5 3 1 .5 2.5-4.5 3-17 0-5-1.5-10.5-1.5-6.5zM249 602l-1.5 1-1 3-2.5 16.5 0 6.5 1.5 11.5 2.5 8.5 1.5-.5 1.5-4.5 2.5-17.5-2-17.5zM184 602l-2 8-1.5 17.5 2 17 1 4 1 .5 1-1.5 2.5-18 0-8-2-15.5-1-3.5zM108 576l-1.5 0-3.5 5-3 8-1 5 0 4.5-1 1.5-3 .5-2.5 3-3 10.5-1 6 0 11.5 3.5 14 1.5 3 2 1.5 2.5-3.5 1.5-5.5 2-12.5.5-8 2-1 2 2 2-.5 3-8 5.5-10.5 1.5-5.5 0-5-1.5-5zM675 575l-1.5 1.5-2.5 6.5-3 16.5 3.5 16.5 2 4.5 1.5 1.5 1 0 2-2 2-5 3-14 0-5.5-3.5-15.5-2-4-1-1zM359 575l-1.5 2.5-1.5 5-2.5 14 0 4 3.5 18 1.5 3 2 .5 1.5-2.5 2-7 2-16-3-16-2-5zM268 575l-1 1.5-1.5 6-2 17.5 2.5 17 1.5 4.5 1.5.5 2.5-8 2-16-2.5-17.5-2-5.5zM201 575l-2 8.5-1.5 16 2 17 1 4 1.5 1.5 2-8 1.5-17.5-2.5-19-1-2.5zM150 575l-2 6.5-1.5 13 1 18 1 6 1.5 3.5 1-1.5 1-4.5 1.5-12.5-.5-15.5-1.5-10zM697 572l.5 5 3 13 2 4 1 1 1.5 0 1.5-1.5 2.5-6.5 2.5-12 0-3zM539 572l-12 0-2.5 6.5-3 3-2 0-2-2-1.5-3-2-1-3 4.5-2.5 10-4 10.5-3 5.5-4.5 4-1.5 0-1.5-2-1-9.5-1.5-5 0-6.5 2.5-8 0-2-2-4-1-1-21.5 0 1 7-.5 8-3 9-3.5 6-4 3.5-7.5-.5-2.5 2.5-3.5 7-4 12-3.5 4-8.5-.5-3.5 2.5-4 7-5.5 17-2 2.5-2.5.5-5-3-3.5 0-3.5 3-3 5.5-5 15.5.5 3.5 3 10 4 7 4 3 2.5 0 3.5-3 3.5-6.5 4-11.5 1.5-6.5 3-3 2 0 3.5 2.5 3 1 3.5-1 3.5-3.5 4-7.5 4.5-13.5 2.5-2 7-.5 5.5-6.5 4-8 3-3 1.5 0 2 2.5 1.5 4.5 1.5 11-1 9.5-1 26.5-1.5 14.5 0 8.5 4.5 8 0 6.5-2.5 3.5-4.5 2-3.5 2.5-2 4-4.5 3-3.5 3.5-4 7.5-4.5 12-2 2.5-3.5 1.5-8 0-4 2-4.5 4.5-3 4.5-7 14-4 1.5-7 0-3 1.5-5.5 6-8.5 17.5-2 2-2.5 1-9.5-.5-3 1.5-4.5 4.5-9.5 18-1 4-2.5 3-3.5.5-7.5-4-4 0-4 3-5.5 9.5-5 11.5 1 9 3 5 8 8.5 3 1.5 2 0 2-1 5-6 6-12.5 3-8 3-3 2-1 2 0 9.5 4.5 4 0 3-1.5 3.5-3.5 3-4.5 7-14 2.5-3 1-.5 10.5.5 3.5-1.5 4-4 3-4.5 8-16 4.5-1.5 6.5 0 4.5-2 3.5-3 9.5-12.5 6-5.5 3 0 2 2 2 7 .5 10 .5.5 0 9.5-2 17 0 5.5-1 8-2.5 6.5-.5 4-4.5 10.5-7 7-8 17.5-4 5-2 1-3.5-.5-6 .5-6 5-3.5 5.5-5 11.5-.5 6-3.5 4-5.5 3.5-3 0-1.5-1-2-3.5-4.5-4-1.5-.5-3.5.5-3.5 3-2 3-6.5 17.5 28.5 0 1-3.5 3.5-3.5 7-4 3 0 4.5 5 5 3 4 .5 5.5-1.5 3.5 0 4 4 56 0 5-4 3-4.5 4-9 3-9.5 2-1.5 7-.5 3-1.5 3-3 3.5-6 5-14.5-3-10.5-5.5-9.5-4-3.5-5.5-.5-3 1.5-9.5 9.5-3 1-3.5-3.5-3-11 0-22 .5-.5 1-32.5 2.5-3.5 3-8.5 3-15 2-1.5 5.5-1.5 3-3.5 2.5-5 2.5-7.5 2-10-2-11-1.5-3.5-4-6-3.5-2.5-4.5 0-5.5 2-3-2.5-1-2-1.5-25-.5-.5-1-30-.5-.5 0-25.5 2-14.5 2.5-11.5 3.5-6 3-3 1.5 0 4 4 2-1.5 2-5 5.5-22 3.5-5.5 1.5-.5 1.5 1.5 2 5.5 1.5.5 2-5 1.5-10.5zM387 572l-10 0 2.5 18 2.5 5 1.5-2 1-3.5zM284 572l1.5 15.5 2 7 1 0 2-5.5 2-17zM221 572l-7 0 1.5 16.5 2 6.5 1-1.5 1-5zM162 572l2 18.5 1 3.5 1 .5 2-9 1-13.5zM129 572l-5.5 0 0 10 2 10.5 1-.5 1-3.5 1-16z"/>
<path fill-rule="evenodd" fill="#ff1000" d="M654 952l20.5 0-1.5-5-3-6-3.5-3.5-1.5-.5-3.5 1-2 2-3 5zM832 931l-2 2.5-2.5 5.5-3.5 13 20 0-2.5-10.5-4-9-2-2zM223 930l-2 5.5-2.5 16 10.5 0-.5-6.5-2.5-11.5-1.5-3.5zM118 928l-1.5 1-2 5.5-3 17 12 0-2-14.5-1.5-6zM717 905l-3 1.5-4.5 5-5 9.5-1.5 4.5 4.5 10 3 4.5 4.5 4 4.5 1 3.5-1.5 4.5-4.5 7-14-3-8.5-3.5-6-4-4-3-1.5zM263 903l-1.5 1.5-2.5 5.5-4 15.5 1.5 7 3 9 2 4 1.5 1.5 1.5 0 3-4.5 5-17.5-2-10.5-2.5-6.5-2.5-4.5zM148 902l-1.5 2.5-1 4-2 17 2.5 18 1 3 1.5 1 2-6 2-18-2-15.5-1-4zM765 877l-3 1.5-4.5 5-4 7.5-2.5 6.5 2.5 7.5 4.5 8 4.5 4 2.5 1 3 0 3-1.5 4.5-5 4-7.5 2.5-7-2.5-7-4.5-8-3.5-3.5-3-1.5zM177 875l-3 7-3 16 3.5 17.5 2 4.5 2 1 2-3 2.5-9 1.5-8.5 0-5.5-3.5-16-1-2.5-1.5-1.5zM301 874l-3 4.5-5 19 1 6.5 3.5 11 2 4 1.5 1.5 2-.5 3-7 4-15.5 0-2.5-1.5-8.5-3-8-3-4.5zM98 873l-5.5 3-4 4.5 0 33.5 4 4.5 3 2 2.5 1 4 0 2-1 3-3 3-5.5 4-11.5.5-5-3-11-4-7.5-4-3.5zM815 850l-3.5 1-4 4-4.5 8-2.5 6.5 0 2 4.5 11.5 2 3 3.5 3.5 2 1 4 0 2-1 3.5-3.5 4-7 3-8 0-2-4.5-10.5-5-6.5zM554 848l-1.5 1.5-2.5 5-3 10.5-1 7 1.5 9 2.5 8 3 4.5 3 .5 2-1.5 2.5-5 2.5-8.5 1.5-9-4-16-2-4-2-2zM208 847l-2 3.5-3 16 0 7.5 2.5 14.5 1.5 4 1.5 1 2-3.5 3-16 0-7.5-2.5-14.5-1.5-4zM126 847l-2 1.5-1.5 3.5-3 15.5 0 9 1 7.5 2 7.5 2.5 3.5 2-1 2-5 2.5-15 0-6-2-12.5-1.5-5.5zM849 833l-2.5 9.5 2.5 12zM588 820l-3 2-2 3.5-5 17 1 6 3 10 2.5 5 2 2 3 0 2.5-3 3-7 3-11.5-1-7-3-10-2-4-2.5-2.5zM237 820l-1.5 2.5-1.5 5-2.5 16.5 3 16.5 2 5 2 .5 1.5-2.5 1.5-5 2.5-16.5-3-16.5-2-5zM150 820l-1.5.5-1.5 5-2.5 17 2.5 18.5 1 3.5 1.5 2 1.5-2 1-3.5 2.5-16.5-2-17.5zM88 796l0 71 3-2.5 3.5-6 4.5-15.5-2.5-20-4-16-2.5-7.5zM621 793l-2 1.5-2 3-2.5 6-2.5 8.5-.5 5.5 1.5 6.5 3.5 9.5 3.5 4.5 3.5.5 2-1.5 2-3 2.5-6 3-10.5 0-3.5-2-8.5-3.5-8.5-3-3.5zM267 793l-2 2.5-2 7-2 11 0 5.5 3.5 17 1.5 3 2 .5 1.5-2.5 2-6.5 2-11.5 0-5.5-2.5-13.5-2-5.5zM173 793l-1 .5-1.5 3.5-3 16.5 0 6 1.5 10 2 8 1.5 2 1 0 1.5-3 3.5-19.5-2-15-2-7zM111 792l-2.5 4.5-4 19.5 2 13.5 2.5 8.5 1.5 2 1 0 1.5-3 3-19-1.5-16-2-8zM656 766l-3 2-3 5-5 16.5 2 8.5 3.5 9 3.5 4.5 4 .5 2-1.5 3.5-6 4-12.5.5-3.5-2-8.5-4-9.5-3.5-4zM296 766l-3.5 8-2.5 13 0 4.5 2.5 13 2.5 6.5 2 1.5 2-2 2-5.5 3-16-2-12-2-7-2.5-4zM198 766l-1.5 1.5-1.5 5-2.5 16.5 2 15 2 7 1 1 1 0 2-5 2.5-15.5-1.5-15.5-2-8zM130 766l-1 1.5-1.5 6-2 16.5 2.5 17.5 1 3.5 1.5 1.5 1.5-2.5 1.5-7 1.5-15.5-2.5-17.5-1-3zM691 739l-2.5 1.5-2.5 4-3.5 10-1.5 6 0 3.5 2 8.5 4 9.5 2.5 2.5 2.5.5 3-2.5 2-3.5 5-17-4-15-2.5-5-2.5-2.5zM220 739l-2 5-2.5 15.5 0 5 3 17.5 1.5 3 1 0 1-1 1.5-5 2.5-18-3-18-1-3zM150 739l-1.5 3.5-2.5 16 0 7.5 2.5 15.5 1 3 1.5.5 1-1.5 2-9.5 1-7.5 0-9-2.5-15.5-1-2.5zM324 738l-2 2-2.5 6.5-3 15.5 4 18 1.5 3 2.5 2 2.5-2.5 2.5-7 2.5-12.5 0-3.5-1.5-8.5-2.5-8.5-1.5-3zM96 738l-4 5.5-3.5 11.5 0 14 4 12.5 1.5 2.5 3 2 2-1.5 2.5-6 2-9 1-9-1.5-9.5-2.5-9-3-4zM727 712l-3 1.5-3 5.5-4 13.5 0 5 3.5 12.5 1.5 3.5 3.5 4 3-.5 2-2.5 3.5-8.5 2.5-10-.5-5-3.5-12-3.5-6zM536 711l-1.5.5-2.5 5-3.5 15.5 0 7.5 1 7.5 1.5 5.5 2 4 2 2 1 0 3-4 1.5-5 2.5-14.5-1.5-10.5-2-8-1.5-3.5zM352 711l-1.5 1-2.5 5-4 17.5 4 17.5 2 4 1.5 1.5 2 0 3-5 1.5-4.5 2.5-11.5 0-5-4-16-2-3.5zM245 711l-2 3-3.5 20.5 2.5 16.5 2.5 6.5 1 0 1.5-2.5 3.5-20-2-15.5-2-7zM170 711l-2.5 8-1.5 11.5 0 8 2 14 1 3.5 1.5 1.5 1-1 1.5-6 2-17.5-2.5-17.5-1.5-4zM117 711l-2 6.5-2 17 2 17 1.5 5.5 1 .5 1-1.5 1.5-8 1-9 0-9.5-2-15-1-3zM764 685l-2 0-2.5 2.5-2 4-4.5 16 4 15.5 2.5 5 2 2 1.5.5 3-2 2.5-4.5 4.5-15.5-1-6.5-3-10-3-5.5zM561 685l-1.5 2-1.5 4.5-2.5 14 0 4.5 3 16 1.5 3.5 2 1 2-3.5 1-3.5 2.5-17-3-16.5-1.5-4zM269 684l-2 1-1 3-3 17.5 2 17 2.5 7.5 1 .5 2-3.5 3-16.5 0-7-3-16.5zM191 684l-1.5 1-1 3.5-2.5 17.5 1.5 15 1.5 7 1.5 2.5 1.5-2 1-3.5 2-14 0-8-1-8.5-1.5-7.5zM379 684l-1.5 1.5-2.5 5.5-2.5 10-1 7.5 1.5 8.5 2.5 8.5 2.5 4.5 2.5 1 2.5-2.5 3-8 2.5-11.5 0-4-1.5-9.5-2-6.5-3.5-5zM134 684l-1 1-1 3.5-2 16 1 15.5 1 6.5 1.5 4.5 1-.5 1-3.5 2-15-.5-14.5-1.5-10zM103 658l-3 2.5-2.5 4.5-3.5 10-1 5-2 2-3 0 0 48.5 3-3 2.5-5.5 4-17.5 1.5-1.5 5.5-.5 2.5-4.5 1.5-5 2-11 0-4-1.5-8.5-2.5-8zM798 658l-1.5 1-3 5.5-4 14 0 4 4 14.5 2.5 4.5 2 1.5 1.5 0 3-3 2.5-5.5 3.5-14.5-4.5-16.5-4-5.5zM590 657l-2 2.5-2 6.5-2 11 0 6 2.5 13 2 5.5 2 1.5 2-2.5 2.5-9 1.5-8.5 0-6-3-15-1.5-3.5zM291 657l-1.5 3-3 16.5 0 7 2.5 15 1.5 4 1.5.5 1-1 1.5-4.5 2.5-15.5 0-4-3-17.5-1.5-3.5zM209 657l-2.5 7-2 16.5 2.5 18 1.5 4 1 .5 1-1.5 1.5-6 2-16-2.5-18-1-3.5zM150 657l-1.5 5.5-1.5 12 0 11 2 14.5 1 3 1 0 2-8 1.5-16-2.5-19.5-1-2.5zM834 631l-2 2-2 4-4.5 16.5 4 15.5 3 5.5 1.5 1 2 0 2.5-2.5 2.5-5.5 3.5-15-2-9.5-2.5-7-3-4.5zM121 630l-2 5.5-2 17 2 19 1 3.5 1 1 1.5-3.5 2-17-1-15.5-1-6.5zM618 630l-1.5 1.5-2.5 6.5-2.5 13 0 4.5 3 15 2.5 5.5 1.5.5 1.5-1.5 2-5.5 3-17-3-16-2-5zM315 630l-1.5 1-1 2-3.5 20 2.5 17 2.5 6.5 1 0 1.5-2.5 3.5-19.5-2.5-18.5zM229 630l-1.5 2-1 4-2 14 1 15 1.5 8 1.5 3.5 1.5-1 1-3 2.5-17-1.5-16.5-1-5zM167 630l-2 8-1.5 16.5 2.5 20 1.5 2 2-7.5 1.5-17-2-17.5-1-3.5zM136 603l-1 1.5-1 4.5-1.5 14.5 1 14.5 2 10 1-.5 1-3.5 2-18-1.5-16zM646 603l-2 3-1.5 4.5-3 15.5 2 12 2.5 8.5 2 2.5 1.5 0 1.5-2 2.5-8 2-11 0-4-3.5-16.5-1.5-3-1.5-1.5zM338 603l-2 1-1 3-3 17.5 1.5 14.5 1.5 6.5 2 4 1.5-1 1.5-4 2.5-15 0-7-2.5-15zM249 603l-1 .5-1.5 4.5-2 13.5.5 14 1.5 9 2 5 1.5-2 1-4 2-14.5 0-6-1.5-12-1.5-6.5zM184 603l-1.5 5.5-1 8-.5 14 1.5 13.5 2 5.5 1.5-4.5 2-19.5-2-18.5-1-3.5zM107 577l-2 1.5-3 7.5-1.5 6.5-1 10.5-1.5.5-1.5-1.5-2.5.5-2 4.5-3 16.5 0 5 3 15 2.5 5 1 0 1-1.5 2.5-10 1.5-11-.5-.5.5-12.5.5-.5 1 .5 3 6 2 1 1.5-2.5 2-7 5-11.5-.5-9-6-11zM675 576l-3.5 7-3 17 4 18 1.5 3 2 1 1.5-1.5 2.5-6.5 2.5-12.5 0-5.5-1.5-8.5-2.5-8.5-2-3zM359 576l-2 4.5-3 16 0 5 3 16.5 1.5 3.5 2 .5 2-4.5 3-16 0-5-2.5-14.5-2-5.5zM268 576l-1.5 3.5-2.5 16.5 0 6 2 14.5 1.5 5 1.5.5 2.5-9 1.5-16-2-15-2-6zM201 576l-2.5 14-.5 12.5 2 16 1 3 1 .5 1.5-5.5 1-8 .5-14.5-2-15-1-3zM150 576l-1 2-2.5 20 1.5 17 1.5 6.5 1 0 1.5-6 1.5-14.5-1.5-18.5-1-5zM697 572l3 16.5 2 5 1 1 1.5 0 3-5.5 2.5-11 .5-6zM539 572l-11 0-2 6.5-4 4-2 0-2-2-2-4-1.5-.5-2.5 4-2.5 10.5-4 11-4.5 7.5-5 4-2 0-1.5-2-1-5.5 0-5-1.5-6.5 1-8 2.5-7 0-2.5-1-2-2.5-2.5-17.5 0 .5 9-1 5-3.5 9.5-4.5 7.5-4 3.5-3.5 0-2.5-1-1.5.5-2 2-3 6-4.5 13-3 4-4 .5-2-1-3.5 0-3.5 3-5 10.5-1.5 6-1.5 3-.5 3.5-2.5 3.5-2.5 1-6-4-3 0-3.5 3.5-2.5 5-4.5 14.5 1 6.5 2.5 7.5 3.5 6.5 3.5 3 2 0 2-1 4-6 4.5-12.5 1-6 1.5-3 2.5-2.5 3 0 5 3.5 3 0 3.5-2.5 5-9.5 4.5-14 2-2 6.5.5 4-3.5 9-19 0-3 1-2.5 3.5-4 1.5 0 1 1 0 5-1 3.5 1.5 4.5 1.5 9 0 13-1.5 8.5-.5 16-.5.5 0 7-.5.5-1.5 22 1 3 4 5 1 5.5-.5 3-2 3-9 4.5-2 4-8 6.5-4.5 8.5-4.5 12-4 3.5-9.5 0-3.5 1.5-4.5 4.5-2 3-8.5 16.5-2 1-5.5 0-.5-.5-3.5.5-4.5 3-4 5.5-8 17.5-2 2-4 .5-2.5-1-6 0-5 3.5-3.5 5-7.5 15.5 0 2.5-1.5 3-2.5 2.5-3 1-7.5-5-5-.5-4 3.5-5.5 10.5-3.5 9 0 5.5 1.5 5 5.5 8 4.5 4.5 2 1 2 0 2-1 4-5 3-6 6-15.5 4-4 3.5-1 10 5.5 4 0 2-1 6-7 8.5-17.5 1.5-1.5 2.5-1 5.5 1.5 4.5 0 2.5-1 2.5-2 4-5.5 7.5-16.5 3-2.5 9.5 0 5-2.5 3.5-3.5 9.5-14.5 3.5-4 4.5-1 4 0 1.5 1.5 1.5 7.5 0 6.5.5.5 0 16.5-1.5 11-.5 10.5-1 8-3 7-.5 4-4.5 10-5 4.5-2.5 3.5-7 15.5-3 5-2 2-2 1-8.5-.5-3 1.5-3.5 3.5-4 6.5-4.5 11.5 0 3.5-1 2-4.5 4.5-6 3.5-2.5 0-7-8.5-2-1-3.5.5-3.5 3.5-2.5 4.5-5 15 26.5 0 1-3 4.5-4.5 4.5-3 4-1.5 2.5.5 6.5 7 4.5 1.5 3.5-.5 6-2.5 2 0 3.5 3 1 3 53 0 4.5-3 3-4 4.5-9.5 3-10.5 3-2.5 7.5 0 2-1 3.5-3.5 3.5-6.5 4-12 0-3.5-3-9.5-4.5-8-3-3-2-1-4 0-2 1-4.5 4.5-4 6-4 4-2 .5-2.5-2-3-8.5-1.5-8.5.5-31 .5-.5 1-24 1.5-1.5 2-4 2-6 3-15 2-2 4-.5 2-1 2.5-2.5 2.5-5 4.5-15.5 0-2.5-2.5-11.5-2.5-5.5-3.5-4.5-2-1-3.5 0-6 3.5-1.5 0-1.5-1-2.5-5-1-8-1.5-33.5-.5-.5 0-10-.5-.5 0-26.5 2.5-16.5 3.5-14 3-5 3.5-3.5 1.5 0 4 4.5 2-1.5 1.5-4 3-14 1.5-3.5 0-2 1.5-4.5 3.5-5.5 1.5 0 1.5 1.5 2.5 6.5 1 0 1.5-3.5zM387 572l-9 0 1.5 14 1.5 6.5 1.5 2 1.5-2.5 1-4zM284 572l2 17 1.5 5 1 0 1-2 1.5-7.5 1-12.5zM215 572l1 15 1 5.5 1.5 1.5 1.5-6.5 1.5-15.5zM169 572l-6.5 0 1 14 2 8 1-1.5 1-5zM129 572l-5 0 1 15 1.5 4.5 1.5-5z"/>
<path fill-rule="evenodd" fill="#ff2000" d="M655 952l18.5 0-3-8-2-3-3.5-2.5-1.5 0-3 2zM833 931l-2.5 2.5-1.5 3-4.5 15.5 19 0-4-14.5-3-5.5-1.5-1zM224 931l-1 1-1.5 5.5-2 14.5 9.5 0-1.5-13-2-7zM118 929l-1 .5-2 5-3 17.5 11 0-2-15.5-1.5-5.5zM717 906l-3.5 2-4.5 6-4 8.5-.5 4 6 12 4.5 4.5 2.5 1 2.5 0 3-1.5 4.5-5 5-10 .5-4-2.5-6.5-3.5-6-4-4-2-1zM263 903l-2 2.5-2 5.5-3 12 0 4 4.5 15.5 2.5 3.5 1.5 0 3.5-6.5 3.5-13.5 0-4.5-1.5-7-4-10-1.5-1.5zM148 902l-1.5 3-1.5 7.5-1 15 3 18 1.5 1 2.5-10 1-8.5 0-7.5-2-14-1-3.5zM765 878l-4 3-3.5 5-3.5 7.5-1 5.5 2 5.5 4 7.5 4 4 2 1 3.5 0 3-1.5 3.5-4 4-7.5 2.5-6.5-3-8.5-5-8-4-3zM301 875l-1.5 1.5-2 5-3.5 14.5 0 5 4.5 16 2.5 3.5 1.5 0 3-6.5 3.5-14 0-7.5-4-13.5-2.5-4zM178 875l-2 2-1.5 4.5-3 15.5 3 17.5 3 6 1 0 1.5-2 2-6.5 2-11 0-6.5-1.5-8.5-2-7.5zM99 874l-4 2-3.5 3.5-3 5 0 26.5 3.5 5.5 3 3 4 2 2.5 0 4.5-3.5 4-7.5 3.5-11.5 0-3-2.5-9.5-3.5-7.5-4.5-4.5zM813 851l-2 1-5 6-4 8.5-1 5 2 6 5 9 3.5 3 3.5.5 2.5-1 5-6 4-9 1-4.5-3-8-3.5-6-3.5-3.5-2-1zM554 848l-1.5 1-2.5 5-2.5 8.5-1.5 8.5 1.5 9 2 7 2 4 2 2 2 0 1.5-1 2-3.5 2.5-8 2-10.5-4-16.5-2-4-1.5-1.5zM208 848l-1.5 2.5-1.5 5.5-2 16 3 17.5 1.5 3.5 1 .5 1.5-2.5 1.5-5.5 2-16-3-17.5-1.5-3.5zM126 847l-2 1.5-1 2.5-3 15.5 0 9.5 1 7.5 2 7.5 2 3 2-1 1.5-4 2.5-14.5 0-8-1.5-10-2-7.5zM849 835l-2 8 2 9.5zM587 821l-2.5 2.5-2 4.5-4 15 4 15.5 3 5.5 1.5 1 2 0 1.5-1 2.5-4.5 2.5-7.5 2-9.5-2.5-11-2-5.5-3.5-5zM237 821l-3 8.5-2 12 0 4 2.5 14.5 2 5.5 2 .5 3-8.5 2-12 0-4-2.5-14.5-2-5.5zM149 820l-1.5 2.5-1 4-2 14 0 5 2.5 16.5 2 4 1.5-2 1-4 2-14 0-6-1.5-11.5-1.5-6.5zM88 799l0 67.5 3-3.5 2.5-5 4-14-3-22-2-6.5-1.5-8.5zM621 794l-2.5 2.5-2.5 5-4 15.5 3 12 3 6.5 2 2.5 3.5.5 2.5-2.5 2.5-5 4-15.5-2.5-10.5-3.5-8-2-2.5zM267 793l-2 3-1.5 5-2 11.5 0 7 3.5 16.5 1.5 2.5 1.5 0 2-4 3-15 0-7.5-2.5-13-2-5zM173 793l-2.5 6.5-2.5 16.5 3 18.5 1 3 2 1 2.5-7.5 2-17-3-17.5-1-2.5zM111 793l-1.5.5-1 2.5-3.5 19 2 16 3 8.5 1.5-1 1.5-4.5 2-15 0-6.5-1.5-11.5zM657 766l-2 .5-2.5 2.5-3.5 7.5-3 10.5.5 6 3 10 2.5 5 3 3 1.5.5 1.5-.5 3.5-4 2-4.5 3.5-12 0-4-4-13.5-2.5-4.5-2-2zM296 766l-1.5 2.5-2 6.5-2 11 0 5.5 2.5 13 2 5.5 2 1.5 1-.5 2.5-6 3-17-2-12-2-7-2-3zM198 766l-1.5 1.5-1.5 5.5-2 14 2 17.5 1 4 1.5 2.5 1 0 1.5-3.5 2.5-15 0-7.5-1.5-10.5-2-7.5zM130 766l-1.5 3.5-1.5 8-1 14 2 14.5 1 3.5 1.5 2 1-1.5 1.5-6 1.5-12 0-7-2-14.5-1.5-4zM691 739l-3 2.5-1.5 2.5-3 8.5-2 10 2 9 2.5 7 3.5 5 2.5.5 2.5-2 3-6 3-10.5.5-6-4-14-2.5-4.5-1.5-1.5zM220 739l-1.5 3.5-2.5 15 0 8 2.5 15 1.5 3.5 1 0 1.5-2.5 1-4 2-14 0-4.5-3-17.5-1-2zM324 739l-1.5 1.5-2.5 6-3 16 2.5 13.5 2.5 7 2.5 2 1.5-1 2.5-6 2.5-11 .5-7-3.5-16-2-4zM150 739l-2 4.5-2.5 17.5 1.5 14.5 1.5 7 1.5 2.5 2-4 2.5-17.5-1.5-15.5-1-5zM96 739l-1.5 1.5-3 7.5-3 14.5 4 16.5 2.5 5 1 1 1.5 0 2-2.5 1.5-4.5 3-16-2.5-14.5-1.5-5-2.5-3.5zM727 712l-3 2.5-2 4-4 14 0 3.5 3.5 13.5 2.5 5 1.5 1.5 2.5.5 2.5-2.5 2.5-5.5 3.5-15-4-15-2-4-2-2zM536 712l-2 1.5-3 8.5-2 10.5 0 6.5 1.5 10 1.5 5 3 4.5 1 0 2.5-3.5 2-7 2-12-2.5-16-1.5-4.5zM352 712l-2 2-2.5 6.5-2.5 11.5 0 6 2.5 11.5 2 5.5 2 2.5 2 0 3.5-7 3-13.5 0-4.5-3-14-3-6zM245 712l-1.5 1-1 2.5-3 18 1.5 14 1 5 2 5 1.5-.5 1-2.5 3-17.5-1.5-15.5-1.5-6.5zM170 712l-2 6-2 18 2.5 18 1 3 1 .5 1-1.5 1.5-6 1.5-12 0-6.5-2-14.5-1-3.5zM117 712l-1.5 4.5-1 6.5-1 14 1.5 13.5 1 5 1.5 2 2-7 1.5-17-2-17.5-1-3.5zM764 685l-1.5 0-2.5 2-2 4-4 14 0 4.5 3.5 13 3 5.5 2.5 1.5 2.5-1.5 2.5-4.5 4.5-16-3.5-14.5-2.5-5.5zM561 685l-2 3.5-3 16 0 6 3 15.5 1 2.5 2 1 1.5-2.5 1.5-5.5 2-12 0-4.5-2.5-14.5-2-5zM269 685l-1 0-1.5 2.5-3 17 0 6.5 2.5 15 2 4.5 1.5-1 2-7 2-14.5-2-15.5zM190 685l-1 1.5-1.5 6-1.5 12 0 6.5 2 14.5 1 3.5 1.5 1.5 2.5-9 1.5-15.5-2-15.5-1.5-5zM379 684l-4 8-3 16 2 10.5 2 6.5 2.5 4.5 2 .5 2-2 2.5-6 3-13.5 0-3.5-3-15-3-5.5zM134 684l-1 1-1 4-2 18 2 18 1.5 5 1-.5 1.5-6.5 1.5-14-1.5-18zM104 660l-2.5.5-3 5.5-4 14-.5 4.5-1 1-1.5 0-3.5-1.5 0 45.5 1.5-1 3.5-8 2.5-11 1-8.5 1.5-1 4 2.5 2-.5 2.5-4 2-7.5 1.5-11-2.5-12.5zM798 658l-2 2-2 4-3 10-1 7.5 4 15 1.5 3 2.5 2.5 1.5 0 1.5-1 2.5-4.5 4.5-16.5-2.5-11-2.5-7-2.5-3.5zM590 658l-3 6-3 16.5 3 16.5 2 5 1.5 1 3-6 3-16.5-3-17-1.5-4zM209 658l-1.5 3-1 5-1.5 17 2 15 1 3.5 1.5 1.5 1.5-3 1-5 1.5-17-2-15-1-3.5zM291 657l-2.5 6-2.5 16.5 2 15.5 2.5 7.5 1 0 1.5-2.5 3-17 0-6.5-1.5-10.5-2-7.5zM150 657l-1.5 4-2 16.5 1 15.5 1 6 1.5 4 1-1.5 1-4.5 1.5-13.5-1-17-1.5-8zM835 631l-1.5 1-2.5 4.5-3.5 12-.5 6.5 4 14.5 1.5 3 2 2 2 0 2-2 1.5-3 4.5-17-3.5-14.5-2.5-5-2-2zM121 631l-1.5 3.5-2 16.5 1 16 2 8.5 1.5-1.5 2-15-.5-16.5-1-7.5zM618 630l-2 2.5-2 6.5-2 11 0 5.5 3 15 1.5 3.5 2 1.5 2-3 2-7 2-14.5-3-15.5-2-4.5zM315 630l-1.5 1-1 2.5-3 17.5 1.5 14.5 1.5 7 1.5 3 1.5-.5 1-2.5 3-17.5 0-5-1.5-10.5-1.5-6.5zM229 630l-1 1-1.5 5.5-2 16 2 16.5 2 6.5 1.5-1 1-3.5 2-14 0-8.5-1-8.5-1.5-7.5zM167 630l-1 2.5-1.5 10.5-.5 14.5 1.5 13 1 4 1 1 1.5-5 1-8 .5-14.5-1.5-13-1-4zM136 604l-1.5 4-1.5 12.5.5 16.5 1.5 9.5 1 1.5 1.5-4.5 1.5-13.5-1-18-1-6zM646 603l-1.5 2-1.5 4.5-3 16.5 2 12 2 7 2 3 1.5 0 2-3.5 1.5-5.5 2-11 0-5-2-11-2-6.5-2-2.5zM338 603l-1 0-1.5 2.5-3 17 0 6.5 2.5 15 2 4.5 1.5-1 2-7 2-14.5-2-15.5zM249 603l-1 .5-1 2.5-2.5 17.5 1.5 17 1 5 1.5 3 1-1 1.5-5.5 2-16.5-2-16.5zM184 603l-2 10-1 14.5 1.5 14.5 1 5 1 1.5 1.5-5 1-8 .5-14.5-1.5-13.5-1-4zM95 603l-1.5 3-3 16.5 0 5.5 2.5 14 1.5 4 1.5.5 1.5-3.5 2.5-14.5 0-9.5-1.5-12-1.5-3.5zM106 578l-2 4-2 7.5-1 10 2 11.5 2.5 6.5 1.5.5 1.5-2.5 2-8 3.5-9 0-5.5-1-4-5-10.5zM675 576l-3 6-2 9-1 8.5 3 15.5 2 5 2 1 1.5-1.5 2-5.5 3-15.5-3-16-2.5-6zM359 576l-1.5 3-3 16 0 7 2.5 14.5 2 4.5 1.5 0 1.5-3 3-16 0-7-3-16-1.5-3zM150 576l-2 8-1 10 0 9 2 16 1.5 1.5 1-3.5 1.5-13 0-11-1.5-13zM268 576l-1 1-1.5 6-2 16 2 16 2 6.5 1 0 1.5-4.5 2-14 0-8.5-2.5-15.5zM202 576l-1 2-1 5.5-1.5 16 2.5 20.5 1.5 1.5 2-10 1-14.5-1.5-14.5-1-5zM698 572l1 8.5 2 8.5 2 4.5 2 .5 2-3 1.5-5 2.5-14zM539 572l-10.5 0-1 4.5-2 4.5-2 2-2.5 1-3-2.5-1.5-3.5-2-1.5-2 3-3 12.5-5 13.5-4 5.5-2.5 2.5-4 2.5-2.5-.5-1-1.5-2-12.5 0-9 2-8 2.5-6-.5-2.5-4-4-12.5 0-1 4 0 3.5-3 9.5-4.5 10-3.5 5-4.5 3.5-5.5-1-3 2-2 3.5-5 14-4 6-3.5.5-3-1.5-2.5 0-4 3.5-3 6-5 16.5-3.5 4.5-2.5.5-4.5-4-3.5-.5-3 2.5-2.5 4.5-5 16 3 11.5 3.5 7.5 2 2.5 2 1 2.5-.5 2.5-2.5 2.5-5 4-11.5.5-4.5 2-4.5 3-3 1.5-.5 3 1.5 3.5 3 3 0 3.5-3 4-8 5-16 2-2 7 1 2-1.5 3.5-6 3.5-10 2-3.5.5-4 2-4 5.5-6 3-1 1.5 2-.5 16 1 5.5 0 9.5-2.5 16.5-3 47 6 8 .5 5.5-.5 2.5-2 3-6 2-3.5 2-1.5 1.5-1 3-8 6.5-4 7.5-4.5 12.5-5 4.5-9.5-.5-3 1.5-5.5 6-5 9.5-3 7.5-3 2.5-3.5 0-3.5-1-3.5.5-5 4-5 8.5-6 14.5-1.5 1.5-4.5.5-3.5-1.5-3.5-.5-4 1.5-3 3-3 4.5-7 16-.5 3.5-4.5 5-2.5 1-2-.5-5.5-5-2-1-3.5 0-3 2.5-4 7-5.5 14 1 6 3 6.5 4.5 6.5 4.5 3.5 3-.5 3.5-3.5 5.5-11.5 3-8 0-1.5 1.5-3 3-3 2.5-1.5 3.5-.5 9 6 4 0 2.5-1.5 5-6.5 7.5-16.5 2.5-3.5 4-.5 5 2 4 0 3-1.5 2.5-2.5 3.5-5.5 6.5-15.5 2-2.5 1-.5 10.5.5 2.5-1 6-6 7.5-13 4-5 5.5-1 5-3 2.5 1.5 1.5 6 0 7 .5.5 0 20.5-1 5.5-1.5 20-1.5 7-2 3.5-1.5 6-4.5 10-5.5 5-10.5 21-5 5.5-3 .5-3-1-3 0-4.5 2.5-2.5 3-6 12.5-1.5 4.5 0 3-2 3.5-6.5 5.5-6.5 2.5-2-1.5-2-4-2.5-3-2.5-1.5-2 0-2 1-2 2-3 5.5-4.5 14.5 25 0 .5-2.5 3-3.5 4.5-3.5 6-3 3 0 5 6 4 2.5 5 0 6-3.5 4.5-.5 2.5 2.5 2 5.5 49.5 0 3-1.5 6-7 3.5-8 4-12.5 2-1.5 3 .5 6.5-.5 3-2.5 4-7 4.5-14-3-10.5-2.5-5.5-3.5-5-5-2.5-3 1-4.5 4.5-8 13-3 2.5-2-.5-2.5-4-2.5-10-1-7 0-29 .5-.5 1-28 2.5-3 2-4 3-10.5 2-10.5 2.5-2 4 0 2-1 4-6 4.5-15.5 0-5-3-11.5-2.5-5-3-3.5-4-.5-7 5.5-2 0-2.5-2.5-1.5-4-1.5-9.5-1.5-30.5-.5-.5-.5-37 2-13.5 4-18.5 4.5-8 3.5-3.5 1.5 0 3.5 4.5 1 .5 1-1 2-5 4.5-20.5 3.5-8 1.5-1.5 1.5 0 2.5 4 1.5 5 1 0 1.5-4 1.5-11zM378 572l2.5 18 1 3 1.5.5 2.5-10 1-11.5zM284 572l1.5 15.5 1 4.5 1.5 1.5 2-7 1.5-14.5zM215 572l1.5 17 1 4 1 .5 1.5-7.5 1-14zM169 572l-6 0 1.5 16 1.5 5.5 1-1.5 1-5.5zM129 572l-4.5 0 .5 12 1.5 6 1.5-5.5.5-12z"/>
<path fill-rule="evenodd" fill="#ff4000" d="M656 952l16.5 0-3.5-8.5-1.5-2-2.5-1.5-2.5.5-2.5 2.5zM833 931l-2.5 3-2 4.5-3.5 13 18 0-4-14.5-2-4-2-2zM224 931l-2.5 7-2 13.5 9.5 0-2-14-1.5-5zM118 929l-1 .5-2 5.5-2.5 16.5 10 0-1.5-14-2-7.5zM719 906l-3.5 1.5-3 3-5 9-1.5 4 0 2 3 7.5 3 5 3.5 3.5 2 1 3.5 0 2.5-1.5 4.5-5.5 4-8.5.5-3.5-3-8-3.5-5.5-2.5-2.5zM263 904l-3.5 7-3 12.5 0 4 4 14.5 2.5 4 1.5 0 2-3 2-6 2.5-10.5 0-4-3.5-13.5-2-4-1-1zM148 903l-1 0-1 2.5-2.5 19 2 16 2 5.5 1-1 1.5-6.5 1.5-13-1.5-15.5zM766 879l-4.5 2.5-3 4-5 11 0 3 2 5.5 4 7.5 4.5 4 3 .5 4.5-2.5 2-2.5 4-7.5 2.5-6.5-3-8.5-3.5-6-3.5-3.5zM301 875l-3 5.5-3.5 15 0 4.5 1.5 7.5 3.5 10.5 1.5 1.5 1.5 0 2.5-5.5 3.5-14.5 0-6.5-1.5-7.5-3-8.5-1.5-2zM178 875l-1 .5-2 4.5-3 16 2 14.5 2 7 1.5 2 1.5-.5 1.5-3 3.5-18-3-17.5-1.5-4zM100 874l-3.5 1.5-3.5 3.5-4.5 8 0 20.5 5 8.5 4.5 4 3 .5 1.5-.5 3.5-3.5 4.5-10 2.5-9-1.5-7-4-10.5-3.5-4.5zM813 852l-4 3.5-2 3-4 9-.5 4 3 8.5 2.5 4.5 4 4 4 .5 2-1 3.5-4 5-11 .5-4-2-5.5-4-7.5-3.5-3.5zM554 849l-3 4-2 6-2.5 12 2 11.5 2 6 3 4.5 2 0 2-2 2-4.5 3.5-16-4-16.5-2.5-4.5zM208 848l-1.5 2.5-1.5 6.5-1.5 10.5 0 5.5 3 17 1 2 1 .5 1.5-2.5 1.5-6.5 1.5-10.5 0-5.5-3-17-1-2zM126 848l-1.5 1-1.5 3.5-3 17.5 2 16.5 1 4 2 3.5 2-1 1-2.5 3-18.5-2.5-18.5zM849 837l-1.5 6 1.5 7zM587 822l-2 2-3.5 9-2 8.5 0 4 3.5 13.5 2 4 2 2 2 0 2-2 2.5-5.5 3.5-14-2.5-11.5-2-5.5-2.5-4zM237 821l-1.5 3-3 16 0 6 3 16 1.5 3 1.5 0 1.5-3 3-16 0-6-3-16-1.5-3zM149 821l-2 4.5-2 13.5 0 9 2.5 15.5 1.5 2.5 1-1 1.5-5.5 2-15.5-2-16.5-1.5-5.5zM88 801l0 64.5 2-2.5 3-6.5 3.5-13-2.5-17.5-3.5-17zM621 794l-2 2-2.5 5-4 15 2 9 4 10 2.5 2.5 2.5 0 2-2 2.5-5 4-15-2-9-4-10-2.5-2.5zM267 794l-2 3-1 3.5-2.5 17 3 16.5 2 4.5 1.5 0 3-8.5 2-14.5-3-17-1.5-3.5zM173 794l-1.5 3-1.5 6.5-1.5 15 3 17.5 1 2 1.5.5 2-6 1.5-8.5.5-11-2.5-15-1-3zM111 794l-1 0-1 2-3.5 20 2.5 18 1 3.5 1.5 2 1-1 1.5-5.5 1.5-11.5-.5-14.5-1.5-9zM657 767l-2 .5-2 2-2.5 5-4 13.5 1 7 3 9.5 2.5 4.5 2 2 1.5.5 1.5-.5 3.5-4.5 5-16-1-7.5-3.5-10.5-2.5-4zM296 767l-2 4-3.5 18 3 16.5 2 5 2 1 3-7 2-10.5.5-6.5-1.5-9.5-2.5-9-1.5-2zM198 767l-1.5 2-1 3.5-2 13 0 7.5 2.5 15 1.5 3 1 0 1.5-4 2.5-16.5-2-17-1-4zM130 767l-1.5 4-1.5 9-.5 14 2 13.5 2 4 2-5.5 2-18-2-16-1-3.5zM691 740l-2.5 2-1.5 2.5-3 8.5-2 9.5 2.5 11 2 5.5 3 4.5 2.5.5 2-1.5 3-6 3.5-13 0-3-4-14.5-2.5-4.5zM324 739l-1.5 1.5-2 5-2 9-1 8.5 2.5 13 2.5 6.5 2 1.5 2-2 2-5.5 2.5-12.5 0-5-3.5-16-1.5-3zM221 739l-2 4.5-2.5 16.5 2 17.5 1 4 1.5 2.5 1.5-2 1-3.5 2-13 0-8.5-1.5-10.5-1.5-5.5zM150 739l-2 5-2 14.5 1 15 1.5 7.5 1.5 3 1-1 1-3.5 2-14 0-8-1-8.5-1.5-7.5zM97 739l-2 1.5-1 2-4.5 18.5 3 15 1.5 4.5 2 3 1.5 0 2-3 3.5-16.5 0-5.5-1.5-9-2-7zM727 713l-2.5 2-2.5 5-3 11-.5 5.5 3.5 13.5 2.5 5 2 1.5 1.5 0 2-2 2-4 4-16-4-15.5-2-4zM536 712l-2 2.5-2 6.5-2 10.5 0 7.5 1.5 9.5 1.5 5 1.5 3 2 1 2-2.5 2-6.5 2-16-2.5-13.5-2-5.5zM352 712l-2 2-2 5.5-3 15 4 18 2.5 4 2 0 2.5-4.5 3.5-15 0-5.5-4-16.5-1.5-2.5zM245 712l-2 2-3 17 1 14.5 1.5 7.5 1.5 3.5 1.5-.5 1-3 2.5-14.5 0-8.5-2.5-14.5zM170 712l-1 2-2.5 16.5 0 8 2 14 1 3.5 1 .5 2-5.5 2-17.5-2.5-18.5-1-2.5zM117 712l-1 1-1 4.5-1.5 12.5.5 14 1 7.5 1.5 5 1-.5 2.5-17-.5-15-1-7.5zM763 686l-2.5 2.5-2.5 5.5-3 12 0 3.5 3.5 13.5 2 4 2 2 2 0 2-2 2-4 4-15.5-4-15.5-2-4-1.5-1.5zM561 686l-2.5 6-2.5 16 3 17.5 1.5 3.5 1.5.5 2-4.5 2.5-14 0-7-3-15.5-1-2zM269 685l-1.5.5-1 2.5-3 18.5 2 16 2.5 7 1-.5 1.5-3.5 2.5-16-1-13-2-9.5zM190 685l-2 5.5-2 17.5 2 16 1 4 1.5 1.5 1.5-4 2-14.5 0-8-2-14-1-3.5zM379 685l-3.5 7-3 16.5 3.5 16 1.5 3.5 2 2 1 0 2-2 2-5 2.5-11 .5-6.5-1.5-9.5-2.5-8-2.5-3zM134 685l-1.5 3-2 16.5 1 16.5 2 9 1-.5 1-4 1.5-13-.5-15.5-1-7.5zM88 685l0 43.5 2.5-3.5 4-15.5-.5-15-2.5-6zM103 661l-2.5 3.5-4 14 0 10 1.5 6 3.5 6 2.5.5 1.5-1.5 1.5-3.5 3-16-2-11-2.5-6.5-1.5-1.5zM798 659l-2 1.5-2.5 5-2.5 9-1 7.5 4 15 1.5 3 2 2 1.5 0 2-2 3-7 2.5-10.5 0-4.5-4-14.5-1-2-2.5-2.5zM590 658l-2 3-1.5 5.5-2 14.5 3 16.5 1.5 3.5 1.5 1 1.5-2 1.5-4.5 2.5-17-3-16-1.5-3.5zM291 658l-1.5 2.5-3 17.5 1 13 1.5 8 1.5 3.5 1.5-.5 1.5-4 2.5-17-2.5-18-1-3.5zM209 658l-1.5 4-1.5 9-.5 14.5 1.5 11.5 1 4 1.5 1.5 1.5-3.5 1.5-9 .5-14.5-1.5-11.5-1-4zM150 658l-1 2-1 5.5-1.5 15 2 18.5 1.5 4 1-1.5 2.5-20-1.5-17-1-5zM835 632l-2 2-3 7-2.5 10.5 0 4 3.5 13.5 2 4 1.5 1.5 2 0 1.5-1.5 2-4 4-15.5-3.5-15-2.5-5zM121 632l-1.5 6.5-1 9.5 0 11.5 1 9.5 1 4.5 1 1.5 1-2 1-6 1-16.5-1.5-14-1-4zM618 631l-1.5 1.5-2 6-2.5 15 3 16.5 1.5 4 2 1.5 2-3 1.5-5.5 2-11.5 0-5-3-15-1.5-3.5zM315 631l-2 2-3 17 0 7 2.5 15 1.5 3.5 1.5-.5 1-3 2.5-14.5 0-8.5-2-13zM229 631l-1 1-1 3.5-2 15 1 14.5 2.5 10.5 1.5-1 1-4 2-15.5-1.5-16-1-5zM167 631l-2 9.5-1 15 2 17.5 1.5 2.5 2-9.5 1-15-1.5-14.5-1-4.5zM96 605l-1 0-1 2-3 18 2 15 1.5 5 1 1 1-1 1.5-5.5 1.5-10.5-1-17-1.5-6zM136 604l-1.5 4.5-1.5 14 1 16.5 1 6 1 2 1.5-5 1.5-15.5-1.5-17.5zM647 604l-1.5.5-1.5 3-3.5 17.5 2.5 16.5 1.5 4.5 2 2.5 1.5-1 1.5-3.5 3.5-18-2.5-14.5-2-6zM338 604l-1.5.5-1.5 4-2.5 17 2 16 2.5 7 1.5-1 1-3 2.5-16-1-13-2-9.5zM249 604l-1 .5-1 3-2 14 0 9.5 1 8.5 1.5 7.5 1 1.5 1-1 1-3.5 2-15-1-15-1-6zM184 604l-1.5 6.5-1 10 0 11.5 1.5 13 1.5 3.5 2-9.5 1-15-1.5-15-1-4.5zM107 579l-1.5 1-1 2.5-2.5 13 0 5.5 1.5 8.5 1.5 5 1.5 2.5 1.5-2 4.5-15.5-.5-9-3-8.5zM675 577l-1.5 2-1.5 4.5-2 10-.5 7.5 2.5 13.5 1.5 4.5 1.5 2 1 0 1.5-1.5 2-6 2.5-15.5-3-15.5-2-5zM359 577l-2.5 7.5-2 15.5 3 17.5 1.5 3.5 1.5 0 2.5-7.5 2-15.5-3-17.5-1.5-3.5zM150 577l-1.5 5-1.5 19 1.5 15 1 4 1 .5 2-12.5.5-12-1.5-14.5zM268 576l-2 5-2 14.5 1 14.5 2.5 10.5 1 0 1-2.5 2.5-18-1.5-16-1-5zM202 576l-1 2-2 16 0 9 1.5 13.5 1 3.5 1 .5 2.5-16.5 0-11.5-1.5-12.5zM698 572l.5 6.5 2 9.5 2 5 2 .5 2.5-5 3-16.5zM538 572l-10 0 0 2.5-2 7.5-1.5 2-2.5 1-2.5-.5-2-2-2-4.5-1-1-1 .5-2 4.5-2 10-5.5 15-2.5 3.5-6.5 6.5-4 2-2 0-2-2-2.5-9 0-6 3.5-14 3.5-9 0-2.5-2.5-3-3-1.5-7 .5-2 2.5-.5 3.5-5.5 13.5-6 11-4.5 4.5-2 1-5.5-1-2 1.5-2.5 4.5-5 14-4.5 5.5-2.5.5-2.5-1.5-3-.5-3.5 2.5-3.5 7-5 16.5-1.5 2.5-3.5 3-1.5 0-5.5-5-2.5 0-2.5 2-2 3.5-5 15.5 0 4 2.5 8.5 3 7 3 3.5 1 .5 2.5-.5 2-2 2.5-5 3.5-10 1-6.5 2-4.5 4-3.5 3.5.5 4.5 4 2 0 2.5-1.5 5-9.5 3.5-10.5 0-2 2-4.5 2.5-2 6 1.5 3-2.5 3.5-7.5 6.5-18 2-3 6.5-6.5 2.5-1.5 3-.5 1.5 2 0 2.5-2 13 0 14-1.5 12.5-2 9-3 45.5-.5.5 1.5 4 5.5 5.5.5 7-2.5 5-10 3.5-2 2-1.5 3.5-8 6.5-3.5 7-4 11.5-5 5.5-4 .5-3-1-3 0-2.5 1-3.5 3-5 8-4.5 11.5-2.5 3.5-4.5.5-2-1-4-.5-3 1-4 4-3.5 6-6.5 16.5-3 3-2.5 0-7.5-3-3 .5-3.5 2.5-6 10-4 9.5-1 5.5-4 5-3.5 2-2 0-7-6.5-4.5-.5-2 1.5-3.5 5.5-6 15.5.5 4.5 4 9.5 4.5 6.5 3 2 3-.5 3.5-4 3-6 4-10 1.5-6 4-4.5 3.5-2 3-.5 9 6.5 5-.5 4-4 9-18.5.5-3 2-2.5 1.5-1 2.5 0 6 3 5.5-.5 2-1.5 4.5-6.5 6.5-16 3-4 3.5-.5 4 1.5 3.5 0 2.5-1 4.5-4 3-4.5 9-17 5.5 0 2-1 6.5-7 1 0 1.5 2.5 1 7.5 0 8.5.5.5 0 21-1 5-1.5 20-1.5 8-3.5 6.5-.5 3.5-4.5 10-6.5 6.5-2 3-6 13.5-2.5 4.5-4 4.5-2 1-8-1-3 1.5-2.5 2.5-6.5 13-2 8.5-5 6-8 5-3 .5-2-1.5-2.5-5-3-3-3-.5-2 1-4 6-5 15.5 23.5 0 2-4 3-3 10-6 3.5 0 4 5 4.5 3.5 4.5 0 3-1.5 5.5-4.5 4-.5 2.5 3 2 8 47 0 3.5-2 5-5.5 4.5-10 3.5-12.5 2-2 5 1.5 5.5-.5 3-3 3.5-6.5 4-12.5 0-2-4-12.5-3.5-6-2.5-2.5-3.5-1-3 1.5-2 2-5 8-4.5 9.5-3 3-4-.5-1.5-1.5-3-13-1.5-12 0-17 .5-.5 0-13.5.5-.5 1-24 2-2 2.5-4.5 2.5-8 3-14.5 1.5-1.5 6.5-.5 2.5-2.5 2.5-5 3.5-12.5.5-5-3-12.5-2-4.5-2.5-3.5-1.5-1-3 0-8 8-2 0-3-4-2-7.5-2-18.5-1-26-.5-.5 0-20.5.5-.5 0-10 6.5-32 4.5-8 4-4 1.5 0 3.5 5 2-.5 2.5-8 4-19 3-8 1-1 2 0 1.5 1.5 3 8.5 1 0 1.5-4.5 1-8.5zM378 572l2 17 1.5 4 1 0 2-7.5 1.5-13.5zM284 572l2 17.5 1 3 1 .5 2-8 1-13zM221 572l-5.5 0 .5 12 1 7 1 2 1.5-4.5zM163 572l1 15 1 5 1 .5 1.5-7.5 1-13zM128 572l-4 0 1 13.5 1 3 1.5-6.5z"/>
<path fill-rule="evenodd" fill="#ff6000" d="M657 952l13.5 0-2.5-5.5-3.5-3.5-1.5 0-2.5 2zM834 932l-2 2-2 4-3.5 13.5 16 0-4-15-2-3.5zM224 932l-1.5 3.5-2.5 16 8.5 0-2-14-1.5-5zM118 930l-1 1.5-1.5 6-1.5 14 8.5 0 0-4-2-13-1.5-4zM718 908l-2 1-3.5 4-3.5 7-1.5 5 2.5 6.5 4 6.5 3 2.5 3 .5 3.5-2 3-4 3-6 1.5-5-2-5.5-3.5-6.5-3.5-3.5zM263 905l-2.5 3.5-3.5 14 0 5.5 3.5 13.5 1 2 2 1.5 1.5-1.5 2-5.5 2.5-11 0-5-3-12.5-2-4zM148 904l-1 .5-1 3-2 16 1.5 15 1 5 1 1.5 1.5-3 2-15.5-1-13.5zM765 881l-4.5 4-5 10.5-.5 3.5 2 5.5 4.5 8 3.5 2.5 3 0 4.5-4 5-10.5.5-4-2.5-6.5-3.5-6-3.5-3zM177 876l-2.5 6-2.5 16 3 16.5 1.5 3.5 1.5.5 3-8.5 1.5-9 0-7-2.5-13.5-1-3zM302 876l-2 1.5-2 5.5-3 15 3.5 16.5 1.5 3.5 1.5 1.5 1-.5 2-4.5 3.5-16-.5-6-2-9-1.5-4.5zM99 876l-3.5 2.5-3.5 5.5-4 10.5 0 6.5 3.5 9.5 3.5 6 3.5 3 2.5 0 3.5-3 2.5-5 4-14-2-8.5-4-9.5-3-3zM813 854l-4 3.5-5 10.5-.5 4 2 6 3.5 6.5 3 3 3 .5 2-1 3-3.5 4.5-10 .5-4-2-5.5-3.5-6.5-3-3zM554 850l-1.5 1.5-2.5 6.5-2.5 11.5 0 3 3.5 15 1.5 3 1.5 1.5 1.5 0 2-2.5 2-5.5 2.5-14.5-2-10-2-6-2.5-3.5zM208 849l-1 1.5-1.5 6-1.5 11 0 5.5 2 13.5 1 3.5 1.5 1.5 1-1.5 1.5-6 1.5-11 0-5.5-2-13.5-1-3.5zM126 849l-1.5 1-1 2.5-2.5 14.5 0 8.5 1 8 1.5 6.5 1.5 3 1 0 1.5-2.5 3-19-2.5-18zM849 841l-.5 2 .5 2.5zM587 823l-3 5-4 15.5 2 9.5 2.5 7.5 2.5 3.5 2 0 2-2.5 1.5-3.5 3.5-15-3.5-14.5-2-4-1.5-1.5zM237 822l-1.5 2.5-2 9-1 13 2.5 14.5 1.5 3.5 1 .5 1.5-2.5 3-16 0-6-2.5-14.5-1.5-3.5zM149 822l-2 5.5-2 16 2 16 2 5.5 1-1 1-4 2-15.5-1.5-15-1-5zM88 806l0 57.5 3-6 3.5-13-2.5-20zM622 795l-2.5 2.5-2 4.5-3.5 14 3.5 14 2.5 5 1.5 1.5 2.5 0 2-2.5 2-4.5 3.5-14-3.5-14-2.5-5-2-1.5zM267 795l-1.5 2-1 3.5-2.5 16 3 17.5 1.5 3.5 1.5 0 2.5-7.5 2-14-3-17.5-1-2.5zM173 795l-2 5.5-2 18 2.5 16 1 2.5 1.5.5 1.5-4.5 1.5-9 .5-11.5-2.5-15-1-2zM111 795l-2 5-2 14 1.5 17 2 7 1 0 1-2.5 2-14 0-10-1-8.5-1.5-7zM657 768l-2 .5-3 4.5-4.5 15.5 1 6.5 3 9.5 2.5 4.5 2.5 1.5 2.5-1.5 2.5-4.5 4-14-.5-5-3.5-12-2-3.5zM197 768l-1.5 4-1.5 9-.5 12.5 2.5 15 1 1.5 1 0 2-7.5 1.5-14.5-2-15-1-3.5zM130 768l-1.5 4.5-2 16.5 2 17 1 3.5 1 1 2-6.5 1.5-16.5-2-16-1-3zM297 767l-1 .5-2 5-2.5 13.5 0 5.5 2 11.5 1.5 5 1.5 2 1 0 2-4.5 3-16.5-2-13.5-1.5-5.5zM96 741l-2.5 4.5-3 17 3 15 1.5 3.5 2 1 2.5-6 2-11 0-7-2.5-13-1.5-3.5zM691 741l-2 1.5-2 4-3 10-1 6.5 4 15 1.5 3 2 2 1.5 0 2-2 3-7 2.5-10.5 0-3.5-4.5-15.5-3-3.5zM325 740l-2 1-2 5-3 15.5 3 16 1.5 4 1.5 1.5 1.5-.5 2-4.5 3-15.5-2.5-16zM221 740l-1.5 3-2.5 16.5 2 18.5 2 5 2-4 2.5-17.5-2-15.5-1-4zM150 740l-1.5 3.5-2 14 .5 13 1 7 2 5.5 1.5-3 2-13.5 0-10-2-13.5zM726 714l-4 8-2.5 10.5 0 4 3.5 13.5 1.5 3 2 2 1 0 1.5-1 2-3.5 3-10.5 1-6.5-4-15.5-3-4zM117 714l-1 3-1.5 12.5 0 10.5 1.5 12.5 1.5 3.5 1-3 1.5-12 0-12.5-2-14zM536 713l-2 3-1.5 5.5-2 11.5 0 3.5 3 16.5 1.5 3 1.5.5 2-3 1.5-5.5 2-14.5-3-16-1.5-3.5zM352 713l-1.5 2.5-2.5 8.5-1.5 8.5 0 4 2.5 12.5 2.5 6 1.5 1 2-2 1.5-4 2-8.5 1-8.5-2-11-2-6.5-2-2.5zM245 713l-1.5 1-3 17 0 7 1 8 2.5 9.5 1 0 1-2 2.5-14.5-.5-13.5-1-6.5zM170 713l-1 2.5-1.5 9.5-.5 14.5 1.5 11.5 1 3.5 1 1 1-1.5 1-5 1.5-16.5-2-16-1-3zM88 687l0 38.5 2.5-5 2.5-11 0-6.5-1-6.5-2-6.5zM763 687l-2 2-2.5 6-2.5 10.5 0 4.5 2 9 2 5.5 2.5 3.5 2 0 3-4.5 4-16-2.5-11.5-2-5.5-2-3zM562 687l-1.5.5-1 2.5-2.5 13.5.5 12 2 10 1.5 3 1.5-1 1-2.5 2.5-14-.5-10.5-1.5-8.5zM269 686l-1.5.5-1.5 5-2 15 1.5 13.5 1 5 1.5 3.5 1-.5 1.5-4.5 2-13.5-1-14zM190 686l-2 7-1.5 16.5 2 15.5 1 3.5 1 .5 1-2.5 1.5-9.5.5-14.5-1.5-11.5-1-4zM134 686l-1.5 3.5-1.5 13 .5 15.5 2 11 1.5-2.5 2-18-1.5-17zM381 685l-2 1-1.5 3-3.5 15.5 0 5.5 1.5 8 2 7 2.5 3.5 1 0 2.5-3.5 4-18-3-16-2-4.5zM103 663l-3 6.5-2 9 0 4.5 2.5 11.5 2 3.5 1.5 0 2.5-4.5 2.5-14.5-3-13.5-1.5-2.5zM798 660l-2 2-2.5 6-2.5 10.5 0 4 4 15 1.5 2.5 2 1 2-1.5 1.5-3 4-16.5-3-13-2.5-5.5zM590 659l-1 1-1.5 4.5-2.5 16 2.5 15 2 5 1 .5 2.5-5.5 2.5-16-3-17-1-2.5zM292 659l-1 .5-1.5 4.5-2 13.5 1 14 1.5 7.5 1.5 3 1.5-2 1-4 2-14.5-1.5-14-1-5zM209 659l-2 7.5-1.5 14.5 2 16.5 1 3.5 1 1 2-7.5 1.5-14.5-2-16.5-1-3.5zM150 659l-1.5 5-1.5 14.5 1 15 2 8.5 1.5-4.5 1.5-14-1-16.5-1-6zM836 633l-2.5 1.5-1.5 3-4 15.5 4 16.5 3 4 1 0 3-4 4-15.5-3-14.5-2-4.5zM121 633l-1.5 4.5-1.5 15 1 13.5 1 6 1 2 1.5-5.5 1-10-.5-15.5-1-7.5zM618 632l-2 3-3 15 0 6.5 2.5 13.5 1.5 3.5 1.5 1 1.5-2.5 1.5-5 2-15.5-3-16-1.5-3zM314 632l-1.5 4.5-1.5 9-.5 11.5 2 13.5 1.5 4 1 0 2-6 1-6.5.5-13.5-2.5-14.5-1-2zM229 632l-2.5 12.5-.5 12.5 1.5 12.5 1 4 1 1 1-1.5 1-4.5 1.5-12.5 0-5.5-2-15-1-3zM167 632l-2 11.5-.5 14 1.5 14 1.5 3 2-11 .5-14.5-2-16zM96 608l-1 .5-1 2.5-2 14 1 10 2 8 1 0 1-3 2-14-.5-.5-.5-10-1-5.5zM136 605l-1.5 5.5-1 10 .5 16 1 7 1 2.5 1.5-6 .5-10.5.5-.5-1-18zM646 605l-2.5 6-2.5 15.5 3 16.5 1.5 3.5 1.5 1 2-3.5 1.5-6 1.5-9.5 0-5-2.5-13.5-1.5-4zM249 605l-2 7-1.5 14.5 2 17 1 3.5 1 .5 2.5-12.5.5-13-2-14.5zM184 605l-1.5 8-1 14.5 2 18.5 1 1.5 2-11 .5-15-2-16zM337 604l-1.5 2-1 4-2 15 2 16.5 2 5.5 1-.5 1.5-4.5 2-13.5-1-14-1.5-7.5zM107 582l-2 5-1.5 12.5 2 12 1 2.5 1 .5 3-10 1-8.5-2-10-1.5-3.5zM515 578l-2 1-3.5 15-2 5 0 2-3 7.5-2.5 3.5-7.5 7.5-5 3.5-4 4-3 10.5-3 17-1.5 5-2.5 38.5-.5.5 0 8.5 2.5 3 4.5 2 2.5 2.5.5 5.5-2 6.5-3.5 3-5 0-5.5 1.5-2 2-1 3-4 4-4 2.5-3 5-6 15.5-3.5 4-2.5 1.5-3 0-5.5-1.5-5 3-5 8-6 15.5-2 2-3 .5-5-2.5-3.5-.5-4.5 3-5.5 10-4 10.5 0 2-4 5.5-3.5 1-8-4.5-4 1-2.5 2.5-4 7-3.5 8.5-1.5 7-1.5 3-5 5-2.5 1.5-3.5 0-5.5-6.5-3.5-1.5-1.5.5-2.5 2.5-3.5 7-4 11.5 1 7 6 12 3 3 3.5-.5 2-2 3-6 6.5-18.5 4.5-4.5 3.5-2 4-.5 7 6.5 2.5 1 3.5-1 3.5-4 7.5-16.5 1-5 3.5-4 3.5-1 7 4.5 4 0 3.5-3 2-3 4.5-10 2.5-8.5 1.5-3 2-2 4.5-.5 3.5 2 3 .5 3-1 3-2.5 2.5-3.5 7-14 .5-5.5 1-2 2-2 2 0 2.5 2 2.5 0 2.5-2.5 5.5-14 3-4.5.5-5 2.5-4 1.5 1 0 4-1 3 .5 14-.5.5-.5 47-3 26.5-1.5 3.5-4 6-1.5 5.5-4 8-4.5 4-3 4-6.5 14-5 8-2 2-3 1.5-5-1.5-2.5 0-4.5 3.5-5 9.5-3 8.5 0 2.5-1.5 2.5-8.5 7.5-6 3-2.5 0-2-2-2-4.5-2.5-3-3.5-.5-2.5 2.5-2 3.5-5 15.5 21.5 0 2-4 5.5-5 5.5-3.5 5.5-2 2 .5 6 7.5 2 1 3.5 0 2.5-1.5 3.5-3.5 3.5-5 4.5-4 1 0 3 4 3 15.5 41 0 6.5-4 2-2 4-7.5 4-12.5 1-9.5 1-1 1.5 0 6.5 5 4 0 2.5-2 4-7.5 3.5-11.5 0-3.5-3.5-11-3-5.5-4-3.5-3 .5-3 3-8 17.5-.5 5-1 1.5-2 0-3.5-2.5-5.5-2-2-1.5-2.5-22.5 0-30 .5-.5 1-28 3-2.5 3-5 3-10.5 2.5-14 1.5-1.5 5 2 3.5-1.5 3-5.5 4-15.5-3-14-2.5-5.5-3-3-2 0-2 1.5-5.5 9.5-3 3.5-1.5 0-2-2-3-9-1.5-10.5-2-7-1.5-9.5 0-10-.5-.5.5-23.5.5-.5 1-21 7-32 4.5-9.5 4.5-5.5 2-.5 2.5 2.5 2 3.5 1.5-1 2-6.5 2-11 1-2 1-10.5-3.5-3.5zM150 578l-1.5 6-.5 10-.5.5.5 15 1 7.5 1 2.5 1-2 1.5-13-.5-17-1-7zM675 577l-2.5 4.5-3 16 2 14 1.5 5.5 1.5 2.5 1 0 1.5-2 2-7 1.5-9 0-6.5-1.5-9-2-7zM359 577l-2 4.5-2.5 18 2.5 16 1.5 4 1 .5 2-4.5 2.5-18-2.5-16-1.5-4zM268 577l-1.5 3-2 14.5 0 8 2 14.5 1.5 3 1.5-3.5 2-15.5 0-5.5-1.5-12.5-1-4.5zM202 577l-1.5 5.5-1 15.5-.5.5.5.5 1 15.5 1.5 5.5 1.5-5 1.5-15-1.5-18.5zM488 574l-4-1-3.5 1.5-12.5 25.5-7.5 8.5-2 1-6-.5-1.5 1.5-2.5 5-4.5 12.5-2.5 4-3.5 2.5-1.5 0-3-2-3.5 0-2 2-3 6-4 12-.5 3.5-2 4-4.5 4-2 0-5.5-5.5-2 0-2.5 2.5-2.5 5.5-4 13.5 4.5 15 3.5 5.5 2.5.5 3-3 5.5-15 1-7 3-5 3-2.5 2.5-.5 5.5 5 1.5.5 2.5-1 2-2.5 2.5-5.5 4-12 0-2.5 2-4.5 3-3 2.5 0 3.5 1.5 3-2.5 9.5-24.5 3.5-5 11.5-12 4.5-8 5-13 0-2.5zM710 572l-11 0 2 14 1 3.5 1.5 3 1 .5 2.5-4.5zM529 572l-.5 7.5 3 7.5 1.5 6 1 0 4-21zM386 572l-7 0 1 12 2 8 1-.5 1-3zM285 572l1.5 15.5 1 4 1 .5 1.5-6 1.5-14zM220 572l-5 0 1 14 1.5 6 1.5-5.5zM163 572l2 18.5 1 1 1.5-9 .5-10.5zM128 572l-3 0 .5 9 1 4.5 1-3z"/>
<path fill-rule="evenodd" fill="#ff8000" d="M659 952l9.5 0-.5-2-2-3-1.5-1-2 .5-2 2zM224 934l-2 6.5-1.5 11.5 7.5 0-2-14.5-1-3zM834 933l-2 1.5-1.5 3-3.5 14 14 0-3-13-2-4zM118 931l-2 6-1.5 14.5 8 0-2.5-17.5-1-2.5zM719 910l-3.5 1.5-2.5 3-4.5 10 0 1.5 3 7 3 4.5 3 2 2.5 0 2.5-1.5 2-2.5 4.5-10-1.5-5.5-2.5-5-3.5-4zM263 906l-3 6-2.5 11.5 0 3.5 3.5 14 1 2 1.5 1 3-6 2.5-11.5 0-3.5-3-13-1-2.5zM148 905l-1 .5-1 3.5-1.5 12.5 1 15 1 5.5 1 2 1.5-4 1.5-11.5-.5-13zM766 882l-2.5 1.5-2.5 3.5-4 9 0 2.5 3 8 2.5 4 3.5 2.5 2 0 4.5-4 5-11.5-2-6-3.5-6.5-2.5-2.5zM178 877l-1.5.5-1 2.5-3 16.5 2 14.5 1.5 5 1.5 2 2-3.5 2.5-13.5-.5-11-1.5-8zM102 877l-3 0-3.5 4-2.5 5-3.5 11 2.5 9 4 8.5 3 3 1.5.5 1.5-.5 2-2 2.5-4.5 4-13.5-3.5-13-2.5-5zM522 877l-3 2-3.5 6-4.5 12.5 1 9 3.5 8 4 4.5 4.5.5 3.5-4 2.5-5.5 3-10.5 0-3-3.5-11.5-2-4-3-3.5zM302 877l-1.5 1.5-2 6.5-2 11 0 4.5 3 14 1 2.5 2 1.5 1.5-2.5 3.5-15.5 0-6.5-2.5-12-2-4.5zM814 855l-4 3.5-1.5 2.5-3.5 9.5 3 8.5 2 3.5 3 3 3 0 4-4 4.5-11.5-2.5-7-3.5-6-3-2zM554 851l-2 3-1.5 4.5-2.5 12.5 1.5 9 2 7 2.5 4 1.5 0 2-3 1.5-4.5 2.5-13-3.5-15.5-2.5-4zM208 850l-1.5 3.5-2 13 0 7.5 2 13 1 3 1 .5 1.5-3.5 2-13 0-7.5-2-13-1-3zM126 850l-1.5 1-3 16 .5 13 1.5 8.5 1.5 3.5 1.5-.5 1-2.5 2.5-17-1.5-14-1.5-6.5zM588 824l-1.5 1.5-3 7.5-2 12 4 15 2.5 3 1 0 2-2 2-5 2.5-10.5 0-4-3.5-13.5-2.5-4zM237 823l-2.5 7-1.5 10.5 0 6.5 2.5 14 1 2.5 1 .5 2.5-7 1.5-10.5 0-6-2.5-14.5-1-2.5zM149 823l-1.5 3.5-2 15.5 1.5 16 1 4.5 1 1.5 2-5.5 1.5-12.5-1.5-17.5zM88 810l0 50.5 3-7.5 2-8.5-1.5-16zM622 796l-3 4-3.5 12-.5 5 3.5 13.5 2.5 4.5 2.5.5 2-2 2-4.5 2.5-9.5.5-5-3.5-13.5-1.5-3-2-2zM267 796l-1 1-1.5 5.5-2 14.5 2 13.5 1.5 5 1.5 1.5 2-4.5 2.5-16.5-2.5-16-1-3zM173 796l-1 2-1.5 7.5-1 13.5 2 14 2 4 1-1.5 2-10.5.5-13.5-2-12.5-1-2.5zM111 796l-1.5 3.5-2 15 1 13.5 1.5 7.5 1 1.5 1-1.5 1-4.5 1.5-14-1.5-14.5-1-5zM657 769l-1 0-3.5 4.5-4 14 .5 6 3 10.5 1.5 3 3 2.5 3-2.5 1-2 4-14 0-4-3-11.5-2.5-5zM197 769l-1.5 4.5-2 16 2 15.5 1 3.5 1 1 2-6 1.5-17-2-14-1-3zM130 769l-2 9-1 13 1.5 13 1 4.5 1 1 1-2 1-5.5 1-16.5-2.5-16zM296 768l-1.5 2.5-1.5 6-1.5 9.5 0 5.5 2.5 13.5 1 3 2 1 2-5 2.5-16-2.5-15-1.5-4zM96 743l-2.5 6-2 14.5 2.5 13 1 3 1.5 1.5 1.5-2 2.5-11.5.5-7.5-2.5-13.5-1-2.5zM691 742l-2 2-3 7.5-2 8.5 0 4 3.5 13.5 1.5 3 1.5 1.5 1.5 0 1.5-1.5 2-4 3.5-15-3.5-14-2-4zM324 741l-1.5 2-2 7-1.5 8.5 0 6 3 14.5 1 2 2 1 1.5-2.5 1.5-5.5 2-13.5-3-15.5-1.5-3.5zM221 741l-1 1.5-1.5 7.5-1 14.5 2 14 1 3 1 .5 2-7 1.5-14.5-2-15-1-3.5zM150 741l-2 6.5-1.5 14 2 17 1.5 3.5 1-1.5 1-4.5 1.5-13-1.5-16-1-4.5zM514 741l-1.5 0-2.5 2-2 3.5-5.5 14-2 2.5-1.5 0-2-1-1.5-3-6.5-26-2-1.5-5 1.5-6-1.5-4 0-2.5 1-4 6.5-5.5 4-3.5 4-5 13.5-2 4-4 4.5-3 1.5-2.5 0-3-1.5-3.5 0-3.5 2.5-4.5 7.5-3.5 8.5-1.5 6-3.5 4-3.5 1-5-3.5-3.5-.5-1.5.5-3 3-5 10-3 8-.5 4-3.5 5-3 2-3 0-6.5-5-2.5 0-3 2-3 4.5-6 15-.5 4-1.5 3-4.5 5-4 2.5-4 0-4-5.5-3.5-3-2.5.5-2.5 3-3 6.5-3.5 10.5 0 2.5 2.5 8 3.5 7 3 3.5 1.5.5 3-2 3-5.5 6-18.5 3-4 3-2.5 4-2 3-.5 1.5.5 5.5 6 2.5 1.5 2 0 2.5-1.5 2-2.5 3.5-7 4-10 .5-4 2-3.5 2.5-2.5 2-1 2.5 0 6.5 5 1.5.5 2.5-.5 5-6 5.5-13.5 1-5 1.5-3 2.5-2.5 2-1 2.5 0 5 3 3.5 0 3.5-2.5 3-4.5 6-13 0-4.5 1-3 4-4.5 2 0 3.5 2.5 2-.5 2.5-4.5 2.5-8 2.5-5 1.5-8 2.5-6 3.5-5.5 2.5-2.5 2-.5 1.5 2 0 5-2.5 14.5-1.5 21.5-.5.5 0 34.5-4 32-6 8-.5 3-5 10.5-6.5 6.5-3 4.5-6.5 14-3.5 5.5-3.5 3.5-2 1-2.5 0-3.5-1.5-2 0-2.5 1.5-3.5 5-2 4.5-4 13-6 6.5-6.5 4.5-3 1.5-3.5.5-2.5-2-2.5-5.5-2.5-2.5-2.5 0-2 2-2.5 5-4 13.5 20 0 1-3 3.5-4 6-4.5 7-3.5 4 0 6.5 8 1 .5 4-.5 6-7 7-13-.5-.5 0-5 2-2.5 2 1.5 4 9.5 2 14 .5 10 36 0 3.5-3 4-1.5 3.5-3.5 3-6 4-13-.5-7-1-5.5-2.5-6-4.5-4.5-7-3-1-1-2-26.5-.5-.5 0-21.5.5-.5 1-32.5 5.5-4.5 2-3.5 4-15.5.5-9 1-4.5 1-1 5 4.5 3.5.5 2-2 3-7.5 2.5-10.5 0-3-4.5-16zM726 715l-1.5 1.5-2.5 6-2.5 12.5 3 13 2 4.5 2.5 1.5 2-2 2.5-6.5 2-9 0-4.5-2-9-2-5.5-2-2.5zM117 715l-1.5 8-1 12.5 1.5 15 1 4 .5 0 1.5-6.5 1-15.5-1.5-14.5zM536 714l-1.5 2-1.5 5-2 15 2.5 15 1.5 3.5 1.5 1 1.5-2 1.5-5.5 2-14-2.5-15-1.5-4zM245 714l-1 0-3 15.5.5 14 1.5 8.5 1.5 3 2-5 2-15-1.5-14zM170 714l-2 9-1 12.5 2 16.5 1.5 3 1.5-4.5 1-7.5.5-12.5-2.5-16zM353 714l-1 .5-2.5 6-2.5 13 1.5 11.5 2 7.5 2 3 1.5-.5 2-4.5 3-15-2.5-15-2-5zM88 690l0 33 2-4.5 2-9.5 0-5-2.5-11.5zM764 688l-2.5 1.5-1.5 3-3.5 14 0 2.5 2.5 11 3.5 7 2 0 2.5-4 3.5-13.5 0-3.5-2.5-11-2-5zM562 688l-1 0-1.5 3.5-2.5 16 2 14.5 2 5.5 1.5-1 1-3 2-12-.5-11.5-1-6zM269 687l-1 1-1 3.5-2 14.5 1.5 15.5 2 6.5 1.5-1.5 1-4 1.5-11 0-7.5-1-8.5-1.5-7zM190 687l-1.5 4.5-1 7.5-.5 12.5 2.5 16 1 .5 2-9 1-12.5-2-16.5zM134 687l-1.5 8-1 14 1.5 15 1 4 .5 0 2-11 .5-13-1.5-14zM380 686l-2 2-1.5 4.5-2 9.5-.5 7 3.5 15.5 2 3 1.5 0 3-7.5 2-10.5 0-5.5-3.5-15.5zM104 665l-2 2-3 11.5 1 9.5 1.5 5 1.5 2.5 1 0 1.5-2 2.5-11 0-5-1.5-7.5zM799 661l-2 1.5-1.5 3-3.5 14.5 2 11 3 7.5 2 1.5 3-4 3.5-14 0-3.5-2-9-3-7.5zM590 660l-1.5 2.5-1 4-2 14 3 17 1 2 1 .5 1.5-2.5 1-4 2-14-2.5-15.5-1.5-3.5zM291 660l-1 1.5-1.5 7-1 8 0 8 1.5 11 1 4 1.5 1.5 2.5-10 1-12.5-2-14.5zM209 660l-2 8.5-1 14.5 1.5 13 1 4 1 1 2-8.5 1-14.5-1.5-13-1-4zM150 660l-1 2.5-1.5 13 .5 15.5 1 7.5 1 2.5 1-2 1.5-12.5-.5-17.5-1-7zM834 634l-3.5 8-2 9 0 3.5 3 12.5 2 4 2 1 1.5-1.5 2.5-6.5 2-9 0-4.5-3.5-13.5-2-3zM121 634l-1 2-1.5 13.5.5 13 1 7.5 1 2 1.5-6.5.5-11.5.5-.5-1-13zM618 633l-1.5 2-3 15 0 6.5 2.5 13.5 1 2.5 1.5 1 1.5-2.5 1.5-6 1.5-13.5-2.5-14.5-1.5-3.5zM315 633l-1 0-3 15.5.5 14 1.5 8.5 1.5 3 2-5 2-15-1.5-14zM229 633l-1.5 6-1.5 14.5 2 17 1.5 3.5 1-2 1.5-9.5.5-14-2-14zM167 633l-1.5 8-1 13 .5.5 1.5 18 1 1 1.5-7.5 1-13.5-2-18.5zM502 616l-4.5 3-9 8-3.5 9.5-5.5 23-1.5 24.5-.5.5 0 7.5-.5.5 0 12.5-.5.5.5 1.5 2 1.5 3.5 0 2-3 3-19.5 2.5-26.5 7.5-32 3.5-7.5zM95 610l-1 2-1.5 9.5 0 8 1 6.5 1.5 4 1-1.5 1.5-9-.5-12.5-1-5.5zM136 607l-1 2.5-1.5 15 1 14.5 1.5 6.5 2-12.5 0-14-1-9zM646 606l-2.5 7-2 13.5 2.5 15 1.5 4 1.5 1 2-4 1.5-7 1-12-2-12-1.5-4.5zM337 605l-1 1-1 3.5-2 14.5 1.5 15.5 2 6.5 1-.5 1-2.5 2-13.5 0-8-1-8-1.5-7zM249 605l-2 8.5-1 14.5 1.5 13.5 1 4 1 .5 1.5-6 1.5-14.5-1.5-14.5-1-4.5zM185 605l-1.5 5-.5 10-.5.5 0 10 2 15.5 1-1 1.5-18.5.5-.5-1-13.5zM107 584l-2 7-.5 10 2 10 1 .5 2-6.5 1-8-2-11.5zM515 579l-1.5.5-1.5 4-4 19-2.5 8 .5 1 1-.5 3 .5 4 6.5 1-.5 1-2 4-18 0-5.5.5-.5-.5-2.5-2.5-3.5zM150 579l-1.5 7-.5 12-.5.5 1 13.5 1.5 6.5 1-2.5 1.5-15-1-15.5zM676 578l-1.5 1-1.5 4-2.5 14.5 2.5 16.5 2 4.5 2-1 1-2.5 2.5-13.5 0-6.5-2.5-13zM359 578l-1.5 3-1 5-1.5 14 2 14 1 3.5 1.5 1.5 1.5-3 1-5 1.5-14-2-14-1-3.5zM268 578l-1.5 3.5-2 17 2 17 1.5 3.5 1.5-4 1.5-12-.5-14-1-7zM202 578l-1.5 6-.5 10.5-.5.5.5 13 2 11 1.5-5.5.5-10 .5-.5-.5-15-1-7.5zM488 576l-4-.5-1.5 1.5-5.5 8.5-7 14.5-3 4.5-7 6.5-1.5.5-5-.5-2 2-5.5 12.5-.5 2.5-3 5.5-4.5 3-5-2.5-2 0-2.5 2.5-2.5 5.5-4.5 15.5-3.5 6-3.5 2.5-2 0-2-1.5-3.5-4.5-2 0-1.5 1.5-3.5 8-3 12 4 13 2 4 2 2 1.5 0 3-3.5 4.5-13 1-7 3-6 4.5-3.5 3 0 5 5 3-.5 3.5-5.5 4.5-13.5 0-2.5 3-6.5 4-3 1.5 0 3 1.5 2.5-1.5 3-6 1-4 2.5-5 .5-3.5 2.5-5.5 4.5-6.5 9-10 5-7.5 5.5-13.5 0-2.5zM709 572l-10 0 2 14 2.5 6 1.5-1 1-2.5zM537 572l-8 0 0 7.5 4 13 2-6.5zM385 572l-6 0 1 13 1 4.5 1 1.5 2-7zM291 572l-5.5 0 1 13.5 1.5 5.5 1.5-3.5zM220 572l-4.5 0 .5 11.5 1.5 7.5 1.5-6.5.5-12zM168 572l-4.5 0 .5 10 1.5 8.5 1.5-5.5zM128 572l-2.5 0 0 5 1 6 1-3.5z"/>
<path fill-rule="evenodd" fill="#ff9f00" d="M661 952l6.5 0-3-3-1.5.5zM834 935l-2.5 3.5-3.5 13.5 13 0-3.5-14-2-3zM224 935l-1.5 4.5-1.5 12.5 6.5 0-2-15zM118 932l-1.5 4-2 15.5 7.5 0-2-16-1-3zM718 912l-2 1-2.5 3-4 9 5.5 11 3 2 1.5 0 2.5-1.5 2-2.5 4-9-2.5-6.5-2.5-4-2-2zM264 907l-1.5 1-1.5 4-2.5 12 1.5 10.5 3 8 1.5 0 1.5-3 3-13.5-1-8.5-1.5-6zM148 906l-1.5 4.5-1 8.5 0 11 1 8 1.5 5 1.5-4.5 1.5-13-1.5-15.5zM768 884l-1.5 0-3.5 2.5-5 10.5 1.5 6 2.5 5 2.5 3 2.5 1 2.5-1 1.5-1.5 5-10.5 0-2-3.5-8.5zM178 878l-1.5.5-1 3-2.5 14.5 2 15.5 1 3.5 1.5 2 1-1 1.5-5 2-13-2.5-16.5zM100 878l-3 2.5-2.5 5-3 9-.5 3.5 4.5 13.5 4 5 2 0 2.5-2.5 1.5-3 4-14-3.5-12.5-2-4-2-2zM522 878l-3 3-2.5 5-3.5 10.5 0 4.5 1.5 6.5 3 7 3 3.5 3.5.5 2.5-2 3-6 3-10.5 0-4-5-14.5-2.5-3zM301 878l-1.5 3-3 15 0 4.5 3.5 15.5 1 1.5 1 0 2-4.5 2-9.5.5-9-2.5-12.5-1.5-3.5zM814 857l-2 1-2.5 3-3.5 8.5 0 3 2.5 6.5 2.5 4 2 1.5 2.5 0 3-3 2.5-5 1.5-4.5 0-2.5-1.5-4.5-3-5.5-2-2zM554 852l-2 3.5-3 12.5 0 5.5 3.5 14.5 1.5 2 1 0 1.5-1.5 1.5-3.5 2.5-11.5 0-5.5-3.5-14-1.5-2zM208 851l-2 6.5-1.5 13 2 15 1 3.5 1 .5 2-6.5 1.5-13.5-2-14.5-1-3.5zM125 851l-2 7.5-1.5 12.5 2 15.5 1.5 4.5 1 0 1.5-3.5 1-5.5 1-14-2-13.5-1-3zM338 850l-2 1.5-3 5.5-3 10.5-1 1.5 0 3.5 5.5 14 2.5 3 2 .5 2.5-2 2.5-5 3.5-9.5 1.5-7.5 4-7-6.5-.5-2-2-2.5-4.5-1.5-1.5zM588 825l-1.5 1.5-1.5 3.5-3 14 3.5 14.5 1 2 1.5 1.5 1 0 1.5-1.5 2.5-6.5 2-11.5-3-13-1.5-3-1.5-1.5zM237 824l-2 5.5-2 14 2.5 16.5 1 2.5 1 .5 1.5-3 2.5-16.5-2.5-16.5-1-2.5zM149 824l-2 7-1 16 2 14.5 1.5 1.5 2-10 .5-14-1.5-11.5-1-3.5zM88 815l0 44 4-14-1-12.5zM622 797l-1.5 1.5-2 4.5-3 13 3.5 14 1.5 3 1.5 1.5 1.5 0 3-4.5 3.5-14.5-3.5-14-1.5-3-1.5-1.5zM111 797l-1.5 1.5-2 14.5 1 15.5 2 7 1.5-4 1.5-13-.5-10.5zM267 797l-1 1.5-1.5 6-1.5 13.5 2 13 1 3.5 1.5 1.5 1-1.5 1.5-6 1.5-13.5-2-13.5-1.5-4zM173 797l-1 2-1.5 8.5-.5 13.5 1.5 10.5 1 3.5 1 1 1.5-3.5 2-17.5-2-14.5-1-3zM657 770l-1 0-3 4-4 14.5 1.5 8.5 2 6.5 1.5 3 2.5 2 2.5-2 1.5-3 3.5-13-.5-5-2.5-9.5-1.5-3.5zM197 770l-2 8-1 13.5 1.5 12 1 4 1 1 1.5-4 1-6.5.5-13-1.5-11-1-3.5zM130 770l-2 10-.5 13 1.5 12 1 3.5.5 0 1.5-5 1.5-14.5-1.5-14-1-4.5zM296 769l-2 4.5-2 12 0 6.5 2.5 13.5 1 2 1.5.5 2.5-8 1.5-12.5-2.5-14.5-1-3zM488 753l-1-.5-1.5 1.5-2 5.5-3.5 18.5-1 9 1 29.5-2.5 16.5-1 12-1.5 5.5-7 7-1 4-4.5 9-9 10-3.5 8-8.5 14.5-4.5 3.5-3.5 0-3-1.5-2 0-3.5 3-4 8-3 8.5 0 2-2.5 4-4.5 4.5-5.5 4-5 2.5-2.5.5-3-1.5-3-6.5-2-2-2.5 0-1.5 1.5-2.5 5-4 13 18.5 0 1.5-3.5 6.5-6.5 4.5-3 7-3 4 .5 4.5 6.5 2 1.5 3.5-.5 3.5-3.5 3.5-6.5 3.5-8.5.5-7 1.5-3 3-3 1.5 0 1 1 3.5 8.5 3 3 2 27 31 0 2.5-3.5 7-2.5 3.5-4 2.5-5.5 3-10-.5-8.5-2-7.5-2.5-4.5-3-3-7.5-2.5-2-2.5-1.5-24.5-.5-.5-.5-25.5.5-.5 1-31 2-2.5 4.5-2 3-4.5 4-16.5 0-11-1-8-2-4.5-2.5-2.5-4-1.5-1.5-1.5-2-6zM96 745l-2 5-2 12 2.5 14 1 2.5 1.5.5 2-6 1.5-12-2.5-14-1-2zM691 743l-2 2-1.5 3.5-3 14.5 3.5 14 1.5 3 2.5 1 2-2.5 2-5.5 2-9 0-4-3.5-13.5-1.5-2.5zM324 742l-1.5 2-2 8-1 6.5 0 6.5 3 14 1.5 2 1 0 2.5-6.5 2-14-2.5-14-1.5-4zM221 742l-1.5 4-1.5 10.5 0 10 1.5 10.5 1 3.5 1 .5 2-8 1-14.5-2-14zM150 742l-1.5 4.5-1.5 12.5 1 14.5 1 5.5 1 2 1.5-3.5 1.5-12.5 0-7.5-2-14zM513 742l-2.5 2.5-3.5 8.5-2.5 8.5 0 3.5 1 5.5 2.5 6.5 3.5 5 3 .5 3-4.5 4-16-3.5-14.5-2-4-1.5-1.5zM477 733l-3-1-2.5.5-1.5 1.5-2 4-4.5 4.5-3 1.5-2 2-2 3.5-5.5 14.5-6 6.5-3.5 1-4.5-2-3 0-3.5 3-4.5 8.5-5 14-4 4-3.5.5-6-4.5-2.5 0-3.5 3-2.5 4.5-3.5 9-2 8-2.5 4.5-2.5 2.5-2.5 1.5-3 0-6.5-5.5-2.5 0-3.5 3-5 10.5-2.5 7-1 5.5-4.5 7.5 4-1 3.5 0 2 1 5.5 6.5 1 .5 3-.5 2.5-2.5 3-5.5 4.5-11.5 0-3 1.5-3.5 4-4.5 2.5-1.5 3 0 7 6 3-.5 2.5-2.5 3-5.5 4.5-12 0-2.5 1.5-3.5 4-4.5 2-1 3 0 4 3 3.5.5 4-3 7.5-15.5.5-6 2-4.5 4-4 3 0 2.5 2 1 0 1.5-1.5 4-11 2-3.5.5-5.5 3-9 3-6 4-5.5zM726 716l-3.5 7-2 8.5 0 5.5 3 12 2 3.5 1.5.5 1.5-1.5 2.5-6.5 2-9 0-3.5-3.5-13.5-2-3zM117 716l-1 2-1.5 13 .5 13.5 1.5 9 1-1 1.5-12 0-11.5-1-9.5zM536 715l-1.5 2-1.5 6-1.5 13 2.5 15 1 2.5 1.5 1 2.5-6 2-15-3-16.5zM245 715l-1 0-1 3-2 14.5 1 12.5 1.5 7.5 1 1.5 1.5-3 2-14-1-14zM170 715l-2 10.5-.5 12.5 1.5 12.5 1.5 3.5 1.5-5.5 1.5-14.5-2.5-18.5zM353 715l-1 .5-2 5-2.5 13 2 14 1 3.5 2 3.5 1.5-.5 2-5 2.5-13.5-2.5-15-1.5-4zM88 693l0 28.5 1.5-4 2-10-1.5-9zM763 689l-1.5 1-1.5 3-3.5 14 2.5 12.5 2 5 1.5 1.5 1 0 2.5-3.5 3.5-14-2-11.5-2.5-6.5zM562 689l-1 0-1 2-2.5 15.5 1.5 13.5 2 6.5 1.5-1 1-3.5 2-14-1.5-12zM268 688l-2.5 11.5-.5 12 1.5 11 1 3.5 1 1 1.5-3.5 2-16.5-2-15-1-3.5zM190 688l-1.5 5-1.5 15 1.5 14 1 4.5 1 .5 2-10.5.5-13-1.5-12-1-3.5zM134 688l-2 15 0 9.5 1.5 13 1 1.5 1.5-7 1-12.5-.5-.5-1.5-18zM381 687l-1.5.5-2 5-2.5 13 0 3.5 2 11 1.5 4.5 2 2.5 1-.5 2-4.5 2.5-12.5 0-5-1.5-9-1.5-5.5zM104 668l-1.5 1-1 2.5-1.5 7 .5 7.5 1 4.5 1.5 3 2-1 2.5-10.5-1-8-1.5-5zM798 662l-1.5 2-2 6-2 10 3 13.5 2 4 2 .5 3-5.5 2-8.5.5-5.5-3-12.5-2.5-4zM590 661l-1.5 3-1.5 7-1 10.5 2.5 14.5 1 2.5 1 .5 1-1.5 1.5-6 1.5-13-2.5-14.5-1-2.5zM291 661l-1.5 3.5-2 16.5 2 15.5 1 3 1 .5 2.5-11.5.5-11.5-1.5-11.5-1-3.5zM209 661l-2 9.5-.5 15 1.5 11.5 1.5 3 2-9.5.5-15-1.5-11.5zM150 661l-1.5 6.5-.5 11-.5.5 1 14.5 1.5 6.5 1.5-5.5.5-10.5.5-.5-1-17zM835 635l-3 5.5-2.5 11 0 2.5 3.5 14 1.5 2.5 2 0 2.5-5 2.5-11 0-3.5-3-12.5-2-3.5zM121 635l-1 2.5-1 9 0 13 1 9 1 2.5 1-3.5 1-10 0-9.5-1-9.5zM618 634l-1 1-1.5 5-1.5 9.5 0 8 2 11 1 3 1.5 1 2.5-7 1.5-10 0-4.5-2.5-14-1-2.5zM167 634l-1.5 9-.5 15 1.5 13.5 1 1 1.5-8.5.5-15.5-1.5-13zM314 633l-2 6-1.5 12 1 12.5 1.5 7.5 1 1.5 1.5-3 2-14-1-14-1-5.5zM229 633l-1.5 4.5-1.5 12.5 1 15 1 5.5 1 2 1.5-4.5 1.5-13.5-1-13.5zM497 624l-4.5 2.5-2.5 4-3.5 9.5-4.5 17.5-1.5 15 0 9-.5.5 0 14 1 2.5 2-3 1.5-5.5 2.5-14 2-17 4.5-16 4-18zM95 613l-2 9 0 7 2 8.5 1-2 1-6.5 0-7.5-1-6.5zM136 608l-1 3-1 9.5 0 11 1 9.5 1 3 1-3.5.5-10 .5-.5-.5-14zM646 606l-2.5 6-2 14.5 3 16.5 2 2 2-4.5 2-11.5 0-6.5-2.5-13.5zM337 606l-2.5 11.5-.5 12 1.5 11 1 3.5 1 1 1.5-3.5 2-16.5-2-15-1-3.5zM249 606l-1 2.5-1 7-.5 15.5 2 13.5 1 .5 2-11 .5-11.5-1.5-13zM185 606l-1 2.5-1.5 15 .5 11 1.5 10.5 1-1 1.5-13.5-.5-16zM107 587l-1.5 5.5-.5 8 1.5 8 1 1 2-8 0-6.5-1-5.5zM514 580l-1.5 3.5-1.5 8.5-2 6.5-.5 9.5 3.5 4.5 1.5 4 1 .5 1.5-3 3-14 .5-8.5-4-10.5zM150 580l-2 14 .5 16 1.5 7.5 1-3 1-9.5 0-12-1-10zM676 579l-1.5 1-1 3-2.5 14 1.5 13 2 7 1 1 1.5-1.5 1-3 2.5-15-2-13zM359 579l-1.5 3.5-1 5.5-1 13.5 2 13 1 3 1 .5 1.5-3.5 1-5.5 1-13.5-2-13-1-3zM268 579l-1.5 4-1.5 13 1 15 1 5.5 1 1.5 1.5-4.5 1.5-13.5-1-13-1-6zM202 579l-1 3-1 16-.5.5.5.5 1 16 1 3 1.5-6 .5-11.5.5-.5-1-15zM486 578l-2.5 1-4 4.5-8.5 16.5-4 6-6 5.5-2 1-6 0-1.5 1.5-5.5 12-1 4-3 5-3.5 2.5-2.5 0-4-2.5-3 1.5-4 9 0 1.5-2.5 6-1 5.5-3.5 6.5-3.5 2.5-2 0-3.5-3-2-3-2-.5-1.5 1-2 3.5-4.5 15 4 13.5 2 4 1.5 1.5 1.5 0 2.5-3 4.5-13 1-7.5 3-6.5 3.5-3 4-.5 6.5 5.5 1.5-.5 2.5-3 1.5-3.5 1.5-6 2-4.5.5-4.5 2.5-6 3.5-3.5 3-.5 2 1 2 0 1.5-1.5 5.5-12.5 1.5-6.5 3-6 3-4.5 11-13 2.5-4 4-9zM709 572l-9 0 2 14.5 2 4.5 1.5-1 1-3zM537 572l-7 0 .5 9 3 10.5 1.5-4zM385 572l-6 0 1 11 1 5.5 1 1.5 1.5-4.5zM290 572l-5 0 1 11.5 1.5 6.5 1-1.5 1-6.5zM220 572l-4 0 .5 9.5 1.5 8.5 1.5-7.5zM168 572l-4 0 1 13 1 4.5 1.5-6.5zM127 572l-2 0 1 8 1-4z"/>
<path fill-rule="evenodd" fill="#ffbf00" d="M663.5 951.5l.5 0 0 .5-.5 0zM834 936l-2.5 4-3 12 12 0-3.5-13.5-2-2.5zM224 936l-1 1-1 4-1 11 5.5 0-1-11zM118 933l-1.5 4.5-1.5 14 6.5 0-1.5-14.5-1-3.5zM388 933l-2.5 3.5-3 10.5-2 4.5 17.5 0 1-3 6-7.5-4.5 1.5-3.5 0-3-3-2-5-2.5-2zM718 914l-3.5 3.5-2.5 5-.5 3.5 4 8 2.5 2 2.5 0 3.5-3.5 2.5-5 .5-3.5-3.5-7.5-3-2.5zM263 908l-2 5-2 13 2 10 1.5 4 1.5 1 2-3.5 2.5-14.5-2.5-12-1.5-3zM148 907l-1 2.5-1.5 12.5.5 10.5 1 7 1 2.5 1-2 1.5-11.5-.5-13-1-6.5zM765 886l-2.5 2.5-3 6-1 4 4 9 2 2 3 .5 3-2.5 1.5-2.5 2.5-8-5-10-1.5-1zM99 880l-2 2-2 4-3.5 12.5 2.5 8.5 3 6.5 2 2 2 0 1-.5 3-5.5 3-10.5 0-2-4-13.5-2-3zM178 879l-1.5.5-1 3-2 12.5.5 9 1 6 2 6 1.5-1 3-16-1.5-13.5zM524 879l-2 0-2.5 2.5-3 6.5-2.5 8.5 0 4 2.5 9.5 2.5 5 3.5 3 2.5-1 2.5-3.5 4.5-14.5 0-2-3-10.5-2-4.5zM301 879l-3 10-1 11.5 2 11 2 5 1 0 1.5-3 2.5-12.5 0-7-2-10.5-1.5-4zM813 859l-2.5 2.5-3.5 8 0 3 4 8.5 1.5 1.5 2.5.5 2-1.5 2.5-4 2-5.5 0-2.5-3.5-8-2.5-2.5zM554 853l-1.5 2.5-3 12.5 0 5.5 3 13 2.5 2.5 1.5-1.5 2.5-8.5 1-5.5 0-5.5-3-12.5-1.5-2.5zM208 852l-1 2-1 5.5-1 13.5 2.5 15 1 .5 1-2 1-5.5 1-13.5-2.5-15zM338 851l-1.5 1.5-2.5 5-4 13.5 2.5 8.5 3 6.5 2 2.5 2 .5 3-3 5.5-15 0-3 2-5 0-2-3-1-2.5-2.5-1.5-3.5-2-2.5zM125 851l-1.5 3.5-2 14 1 13 1.5 7 1 1.5 1-1 1-3.5 1.5-11 0-8.5-2-12.5zM483 838l-2.5 10.5-1.5 3-3 2.5-4 2-2 2-6.5 14-7 7-2.5 3.5-2 5-8.5 15.5-5.5 5-4 0-1.5-1-3-.5-3 2-4 7.5-4 12.5-8 9.5 6.5-2.5 3.5-.5 1.5.5 2.5 2.5 1.5 3 3 2.5 3-.5 3-3.5 3-6 1.5-5 1.5-2.5.5-7 2-4.5 3.5-4 2.5-.5 2 2 1.5 4.5 2.5 4.5 4.5 4.5 0 8 .5.5 1 18 26 0 1-3 2-2.5 1.5-1 6-.5 3-2.5 2.5-4.5 3-9 .5-7.5-2-8.5-2.5-5.5-4-3.5-5.5-.5-2-1-2.5-3.5-2.5-33.5-.5-.5 0-7.5-1.5-9.5 0-7.5zM588 826l-2 3-1.5 4.5-2 10.5 3 13 1.5 3 2 1 3-5.5 2.5-13-3.5-14-2-2.5zM237 825l-2 6-1.5 14 2 13.5 1 3 1 .5 1-1.5 1-4.5 1.5-14-2-13.5-1-3zM149 825l-1.5 4.5-1.5 15 1.5 13 1 4 1 .5 1.5-7 1-13.5-1.5-12.5-1-4zM88 819l0 38 3-11 0-7zM622 798l-3.5 7-2 8.5 0 5 3.5 12.5 2 2.5 1.5 0 2.5-4 3-11 0-5.5-2.5-10-2-4-1-1zM111 798l-1 2-1.5 11 .5 15 1 6 1 2 1.5-4.5 1-8.5-.5-15-1-6zM267 797l-1.5 3.5-1 5-1 13.5 2.5 14 1.5 1.5 1-1.5 2.5-14 0-6-1.5-10.5-1-3.5zM173 797l-1.5 3-2 14 1 12.5 2 8 1-.5 1-3.5 1.5-11-.5-12-1-6.5zM657 771l-1 0-1.5 1.5-1.5 3-3.5 13.5 3.5 14 1.5 3 2 1.5 2-1.5 1.5-3 3.5-13-1-6.5-2.5-8.5zM197 771l-1.5 5.5-1 8 0 9.5 1.5 10.5 1.5 3 1.5-4.5 1.5-15.5-2.5-16zM130 771l-1.5 7-1 12 1.5 14 1 3.5.5 0 1.5-5.5 1-16-2-14.5zM296 770l-2 5-2 14 2 13 1 3.5 1.5 2 1.5-2.5 1.5-7 1-11.5-3-15.5zM494 765l-5.5.5-2 1.5-2.5 6-2.5 13 .5 14 1.5 9 1 2 1 .5 4-2 5 0 2-1.5 3-7 2-9.5 0-10-1.5-9-2-5-1.5-1.5zM96 746l-1 2-2 10 0 7 2 10 1.5 2 2-5 1.5-12-2-11.5-1-2zM691 744l-1.5 1.5-2.5 6.5-2 11 3 12.5 1.5 3 1.5 1.5 1 0 2.5-4 3-12 0-4-3-12-1.5-3zM324 743l-1 1-1.5 5-2 12.5 2.5 14.5 1 3 2 1 2-5 1-5 1-10.5-2.5-13.5-1-2.5zM221 743l-1 2-1 5.5-1 13 2.5 16 1 .5 1.5-5.5 1.5-13-1.5-13-1-4.5zM150 743l-1.5 4.5-1 8.5 0 11 2 12.5 1 .5 1.5-7.5 1-12-1.5-13.5-1-4zM513 743l-1.5 1.5-2 4-4 13.5 2 10 2 5.5 3 4 1.5 0 2-2 2.5-6.5 2-9 0-4-3-12-2-4zM474 734l-2 .5-.5 1.5-5.5 6.5-5.5 3-2 2-7.5 18-5 5.5-3 1.5-2.5 0-4-2-2 0-4 3.5-5 10.5-2.5 9-1.5 2.5-4 4-3.5 1-6.5-5-2.5 0-2.5 2-4.5 9-3 8.5-.5 4-3 5.5-3 3-5 1.5-2-1-5-5-3 0-2.5 2.5-2.5 4.5-4.5 12 0 2.5-2.5 6 0 2.5 5 1 6 7 3.5.5 2.5-2.5 2.5-4.5 4-10.5 1-6 1.5-3 4.5-5 5-1.5 2 1 4.5 5 1 .5 3-.5 2-2 2.5-4.5 4.5-12 .5-4.5 2.5-4.5 3-3 3-1.5 2 0 5 3.5 2.5.5 1.5-.5 2.5-2.5 5.5-11 1.5-4 .5-5.5 3.5-7 4.5-3.5 5.5 1.5 2-2.5 4.5-11 0-3.5 2-8.5 3-8.5 3-5zM726 717l-3 6-2 9 0 5 2.5 10.5 2.5 4 1.5 0 3-6.5 2-12-3-12.5-1-2-1.5-1.5zM117 717l-2 17.5.5.5.5 11.5 1.5 5.5 1.5-9 .5-11.5-1.5-13.5zM537 716l-1 0-1.5 2.5-2.5 13.5 0 5 1.5 10.5 1.5 5 1 1 1-.5 1-2 2.5-14.5-1.5-14zM352 716l-1.5 2.5-1.5 5.5-1.5 12.5 2.5 13 1.5 3.5 1.5.5 3-8.5 1.5-11.5-2-11.5-2-5.5zM245 716l-1.5 4-1.5 11 0 7.5 2 13.5 1 1.5 1.5-3.5 1.5-10.5-.5-14-1.5-8zM171 716l-1.5 4-1.5 14 1 12 1.5 7.5 1.5-3 1.5-12-.5-12.5zM88 695l0 23.5 2.5-9.5-.5-7zM763 690l-1.5 1.5-1.5 4-2.5 12 3 13 1.5 3 2 1 1.5-1.5 2-5.5 2-11-3-13-1.5-3zM562 690l-1 0-1 2.5-2 12 .5 10.5 2.5 10.5 1-.5 1-2.5 2-13-1-11.5zM268 689l-2 8.5-1 11 1.5 12.5 2 5.5 2-7.5 1-14.5-1.5-11.5-1-3.5zM191 689l-1.5 3-1.5 12 .5 12.5 2 10 1.5-4 1.5-14-1-12.5zM134 689l-1.5 10-.5 10.5.5.5.5 11 1.5 5.5 1.5-8.5.5-15-.5-.5-1-12.5zM380 688l-1.5 2.5-1.5 5.5-1.5 9 0 4.5 2.5 12.5 1 2.5 2 1.5 1.5-2.5 2-7.5 1-6 0-6-3-14-1.5-2zM104 670l-1.5 1-2 8 1 7.5 2 4.5 1.5-1.5 2-9-1.5-8zM798 663l-3 7-2 10 3.5 14.5 1.5 2.5 1.5 0 1.5-2 1.5-4.5 2-11.5-3.5-14-1.5-2zM590 662l-1 1.5-1.5 6.5-1 12.5 2.5 14 1.5 1.5 2.5-8 1-13-2-12-1-2.5zM405 662l-3 4-4 13 0 3.5 4.5 13.5 1.5 2 2 .5 2.5-3.5 4.5-14 0-3.5 1.5-5 0-3-3-1-5.5-6.5zM291 662l-2 7-1 14.5 1.5 11.5 1 3.5 1 .5 2-8.5 1-11-1.5-12.5-1-4zM209 662l-2 10.5-.5 10.5 1.5 13 1.5 3 1.5-6.5 1-14.5-1.5-13zM150 662l-1 3-1 10 0 11.5 1 9.5 1 3 1-2.5 1-15.5.5-.5-.5-.5-.5-12zM121 637l-1 3-1 10 .5 13 1.5 7 1-4 .5-10.5.5-.5-.5-10zM835 636l-1.5 2-1.5 4.5-2 11.5 3 12.5 1 2 2 1 3-6 2-9 0-3.5-3-12-1-2zM618 635l-1 1-1 3.5-2 15 3 16 1.5 1 1.5-3 1.5-8 .5-11-2-11.5-1-2.5zM167 635l-1 5-1 15 .5.5.5 11.5 1 5 .5 0 1.5-10 .5-10.5-1.5-15zM314 634l-1.5 4-1.5 11 .5 12.5 1.5 8.5 1 1.5 1.5-3.5 1.5-10.5-.5-14-1.5-8zM229 634l-1.5 4.5-1 8.5.5 16.5 1 6 1 2 1.5-5 1-9-.5-14.5zM492 633l-3.5 6-4 13.5-1.5 9 .5 9 2-6 .5-5 2.5-6.5 2.5-10zM95 616l-1.5 6 0 7 1.5 5.5 1.5-5 0-8zM464 612l-5.5 2-4-.5-2.5 2-5 11-1.5 5.5-2 3.5-2.5 2.5-3 1-4.5-2.5-2.5 0-1.5 1.5-3 6.5-3 9 0 2.5-2.5 7.5.5 1 2.5 0 2.5 1 4 4.5 3-.5 3.5-7 .5-3 2.5-6 .5-5 3-7 3.5-3 2.5-.5 4 1 2-2 4.5-10 .5-3.5 3.5-9.5zM136 609l-1 3.5-.5 10.5-.5.5.5 11.5 1.5 8 1-4 .5-11.5.5-.5-1-14zM646 607l-1.5 2.5-1.5 7-1 11 2 12.5 1 3 1.5 1 2-5 2-14-1.5-10.5-1.5-5.5zM337 607l-2 8.5-1 11 1.5 12.5 2 5.5 2-7.5 1-14.5-1.5-11.5-1-3.5zM249 607l-1.5 6-1 15 2 15.5 1 .5 1.5-7.5.5-10.5.5-.5-1.5-14.5-1-4zM185 607l-1 2.5-1 9.5 0 13 1.5 12 1-1 1.5-15.5-.5-11zM107 590l-1 3.5-.5 6.5 1 5.5 1 1 1.5-5.5 0-5-1-5.5zM482 585l-1 0-1.5 1.5-2.5 4-1.5 3.5 0 2 1.5-1 3.5-5zM514 581l-1 2-2 11-1.5 4.5 0 8 4 9 1 .5 1-1.5 3.5-16.5 0-5-4-11.5zM150 581l-1 4-.5 11-.5.5.5 11 1.5 8.5 1-3 .5-10.5.5-.5-.5-13.5zM675 580l-1 1-2 8-1 12 2.5 13.5 1 2 1 .5 2-5 2-14.5-2.5-14.5-1-2.5zM359 580l-2 6.5-1.5 12 2 14.5 1 3.5 1 .5 2-6.5 1.5-12-2-14.5-1-3.5zM268 580l-2 13 0 11 1 8.5 1.5 4.5 2-9 .5-14-2-13.5zM202 580l-1 3.5-.5 10-.5.5.5 15 1.5 8 1-3 1-9.5 0-12-1-10zM700 572l2 13 1 3.5 1.5 1.5 1.5-2.5 1-4 1.5-11.5zM536 572l-6 0 0 6.5 2 10 1 2 1.5-4.5zM385 572l-5 0 1 12.5 1.5 4.5 1.5-5zM290 572l-4.5 0 .5 10 1.5 7 1.5-5zM220 572l-4 0 .5.5.5 12 1 4.5 1-3.5zM168 572l-3.5 0 .5 11 1 5 1-2.5zM127 572l-1.5 0 .5 5z"/>
<path fill-rule="evenodd" fill="#ffdf00" d="M224 937l-1 2.5-1.5 12 5.5 0-1.5-12zM835 937l-1.5.5-1 1.5-3.5 13 11 0-1.5-7.5-1.5-4.5zM388 934l-3.5 6.5-3 11 16 0 3.5-8-5-.5-1.5-1.5-3-6.5-2-1.5zM118 934l-1.5 3-1.5 15 6 0-1-10zM718 915l-3 2.5-3 6 0 2 3 6 2 2 2.5.5 3-2.5 3-6 0-2-3-6-2-2zM263 909l-1 1-2 7-1 9.5 1.5 8 1.5 4.5 1.5 1 1-1 1.5-5 1.5-8 0-3.5-2-10-1-2.5zM148 908l-1.5 6-.5 10-.5.5.5.5.5 10 1.5 6 1-2.5 1.5-12.5-1-12.5zM766 887l-3 3-2 4-1 4 3 7 2.5 2.5 2.5.5 3-3 3-6.5 0-2-3.5-7.5-2.5-2zM101 881l-3 2-2 4-3 10 1 5.5 2.5 7.5 3.5 4.5 3-1.5 2-4 3-11-3-11.5-2.5-4.5zM524 880l-2 0-2 2-2 4-3.5 11.5 1 6.5 2 6.5 2 4 3 2.5 2.5-1 2.5-4 4-14-3.5-12.5-2.5-4.5zM178 880l-1 1-1 3.5-2 13.5 1.5 11 2 6.5 1.5-1 2.5-13.5-.5-10.5-1.5-7.5zM302 879l-2 4-2 11 .5 10.5 1.5 7 2 4 1.5-2 3-15.5-1.5-11.5-1.5-5.5zM814 860l-3 3-3 7.5 3.5 8 2 2 2.5 0 2-2 3.5-8.5-4-8.5-2-1.5zM480 857l-4-1-3.5 1-2 2-6 12.5-3 4-6.5 6-10 20-5.5 6.5-4.5 1.5-3-1.5-3-.5-3.5 3-3.5 7.5-3 10-4.5 6.5.5.5 6.5-.5 3 3 3 4.5 1 .5 2.5-.5 4-5 4.5-11.5.5-6.5 2.5-6 4-4.5 3-.5 2 1.5 3 7.5 3 3 2 1 2.5 3.5 1.5 27 .5.5 20.5 0 2.5-6.5 2.5-2.5 2-.5 2.5 1 3.5 0 2.5-2 2.5-4.5 3.5-11.5-1.5-9-3-7.5-2.5-3-1-.5-8 .5-3.5-4.5-1-3-2-23-2.5-11.5.5-4zM555 854l-2.5 4.5-2.5 12 2 11.5 2 5 1.5 1 2.5-4.5 2.5-13-2-10.5-1.5-4.5zM208 853l-2 8-.5 14 2 12 1 .5 2-8 .5-14.5-2-11.5zM338 852l-2 2.5-2 4.5-3 10 0 3.5 2 6.5 3.5 7.5 1.5 1.5 2 0 1.5-1.5 4-9.5 2-6.5 1-8-3.5-3-3.5-6.5-1.5-1zM125 852l-1.5 4-1.5 10 .5 13 1 6 1.5 4 1-1 1-4 1.5-12-1.5-15-1-4zM588 827l-1 .5-2.5 6-2 10.5 3.5 14 1 1.5 1.5.5 3-6 2-11.5-3-12.5-1-2zM237 826l-2 6.5-1 7.5 0 7 1.5 10 1 3.5 1 .5 2-6.5 1-7.5 0-7-1.5-10-1-3.5zM149 825l-1 2.5-1.5 11.5.5 13 2 9 1.5-4.5 1-8.5 0-10-1-8.5zM88 823l0 32 2.5-10-.5-8.5zM622 799l-2 2-1.5 4-2 8.5 0 5 3 11 2 3 1.5 0 2-3 3-11 0-5-3-11.5-1-2zM111 799l-1 2.5-1.5 12.5 1 13.5 1.5 5.5 1-2 1.5-13-1-14zM267 798l-2 6.5-1.5 11.5 2 14 1 3 1 .5 2-6 1.5-12-2-13.5zM173 798l-1.5 3-1.5 10.5.5 13 2 9 1-.5 2.5-16-1.5-14.5zM657 772l-1 0-2.5 3.5-3 11 0 5.5 1.5 6.5 2 5.5 2.5 2.5 2-1.5 1-2 3.5-13.5-3-13zM197 772l-2 10-.5 9.5 1.5 11.5 1.5 3.5 2-8.5.5-13-2-12.5zM130 772l-2 13 0 8.5 1 9 1 4 .5 0 1.5-6.5 1-11.5-2-16zM296 771l-2 5.5-1.5 14 2 12.5 2 3.5 1.5-3 1.5-7.5.5-11-2.5-13zM494 768l-3.5 2.5-3.5 5.5-3 11 0 5 1 5.5 2 5 6 5 2.5 0 3.5-7 2-9.5 0-5.5-1.5-10-1.5-4.5-2-2.5zM97 748l-1.5 2.5-1.5 8 0 7 1 6 1.5 4 1 0 2.5-11.5-1-10.5zM467 745l-4.5 1-4 3-6.5 16.5-1.5 2.5-4 4-3 1.5-3.5 0-4.5-2-2.5 1-1.5 1.5-6.5 14-1 5-2 4-4 4-2 1-2.5 0-6-5-2.5 0-2 1.5-4.5 9-3 9-.5 4-3 6-2.5 3-2.5 1-4.5 0-6-6-3 0-2 2-2.5 4.5-3 8-3 12.5 4 2 5.5 7 3.5.5 2.5-2.5 4-9 2-6 1-6 3-6 2.5-2.5 3-1 3.5 0 7 6.5 3-.5 2.5-3 2.5-5.5 3.5-10 1-5.5 2-3.5 3-3 3-1.5 3.5 0 4.5 3.5 3 0 2-1.5 3.5-6 3.5-8.5.5-6 3.5-7.5 2-2.5 3.5-2 5.5 1 3-5 2.5-6 .5-6.5 1.5-6.5zM691 745l-2 2.5-1.5 4.5-2 11 3 12.5 1 2 2 1.5 1-.5 2-4 2.5-10.5 0-4-2.5-10.5-2-4zM221 744l-1 2-1.5 10.5 0 10 2 12 1 .5 2-10 .5-10.5-1.5-11.5zM514 744l-2 1-2 4-3.5 12.5 2.5 12.5 2 4.5 2 2 1 0 1.5-1.5 1.5-3 3-12.5 0-3.5-2.5-10.5-1.5-3.5zM325 744l-2 3-2.5 13.5 1.5 12.5 1.5 5.5 1.5 1.5 2-4 2-11 0-6-1-6.5-2-7.5zM150 744l-1 2.5-1.5 12.5.5 11.5 1 7 1 2.5 1-2 1.5-12-.5-13.5-1-6.5zM726 718l-2 3.5-2 7.5-.5 8 3 11.5 1.5 2 1.5 0 2.5-5.5 2-9 0-3.5-3.5-13-1.5-1.5zM117 718l-1.5 11.5 0 9.5 1 9.5 1 2 1.5-9.5 0-13.5-1-8zM536 717l-1.5 3-1.5 7.5-.5 11.5 2 11.5 1 2 1 .5 1-1.5 1.5-6 1-7 0-7-2-11.5-1-2.5zM352 717l-1 1.5-2 7.5-1 6 0 5.5 2.5 12.5 1 2 1.5.5 2.5-7 1.5-8.5 0-4-2.5-13-1-2.5zM245 717l-1.5 4.5-1.5 12 1 12 2 7 1.5-3.5 1.5-12-1-13.5-1-5zM171 717l-1 1.5-1.5 12 0 9 2 13 1.5-3 1.5-14-1-12zM88 698l0 18.5 2-8zM763 691l-2.5 4.5-2.5 12 2.5 11.5 1.5 3.5 2 1 3-6 2-11.5-2.5-11-1-2.5-1.5-1.5zM561 691l-1.5 5-1.5 12 1.5 11.5 1 4 1 1 1-1.5 1.5-7.5.5-12-1.5-9.5-1-2.5zM268 690l-2 9.5-.5 11.5 1.5 11 1.5 3.5 1.5-5 1.5-13-1.5-13-1-4zM191 690l-1.5 3-1.5 13.5 1 12.5 1.5 6.5 1.5-4.5 1-9 0-9zM380 689l-1 1.5-2 7.5-1 6 0 6 2 10.5 2 4.5 1 0 2.5-6 2-12-2.5-14-1.5-3.5zM134 689l-1 2.5-1 9.5 0 12.5 1 9 1 2.5 2-16-.5-10.5zM103 672l-1.5 3-1 5.5 1.5 6.5 1.5 1.5 1.5-3.5 1-5.5-1.5-6zM798 664l-3 6-2 10 3 13 1 2 2 1 2.5-5.5 2-9 0-3-2.5-11-1.5-3zM590 663l-1.5 3.5-2 13.5 2 13.5 1 3 1 .5 1.5-3.5 2-13.5-2-13.5-1-3zM406 663l-1 0-1.5 1.5-1.5 3-3.5 12 0 2.5 3.5 11.5 2 3.5 1 .5 2-1 2.5-5.5 2.5-8 1-7 0-5zM209 663l-2 12 0 11 1.5 11 1 1 2-12 0-11.5-1.5-10.5zM291 662l-1.5 5-1.5 13 1.5 13 1 4 1 .5 2-9.5.5-11.5-1.5-11zM150 662l-2 14.5.5 13 1.5 8.5 1-3.5 1-10 0-9.5-1-10zM121 638l-1 3.5-.5 10.5-.5.5 1 13 1 3.5 1.5-9.5 0-12zM836 637l-1.5.5-1 2-3 12 2 12 2.5 5 1 0 1.5-2 3-12 0-3.5-1.5-7.5-1.5-4.5zM431 637l-2.5 3.5-4 11.5-1.5 10 3 1.5 5 5 1.5 0 1.5-1.5 2-4 3.5-10.5.5-5.5 2.5-7.5-.5-.5-5 .5-4-2.5zM619 636l-1 .5-1 2.5-2 11.5.5 9.5 2.5 10.5 1.5-.5 1-3 2-12.5-1-10-1-5zM167 636l-1.5 11 0 13 1 9 1 2 1.5-11 0-13-1-9.5zM314 635l-1.5 4-1.5 12.5 1 12 2 7 1.5-3.5 1.5-12-1-13.5-1-5zM229 635l-1 2-1.5 12.5.5 12 1 7 1 2 1.5-5.5 1-10-1-14.5zM95 619l-1.5 6.5 1.5 6.5 1.5-6-.5-4.5zM460 615l-6.5 0-2 2-4 8.5-1.5 6.5-2 5 .5.5.5-.5 8 .5 2-2 4.5-11 1.5-6.5 0-2zM136 610l-1 4-.5 11.5-.5.5.5.5.5 11.5 1 4 1.5-10 0-11.5zM646 608l-1 1.5-2.5 12.5 0 7 2.5 13 1.5 1 2-5.5 1.5-14-2-12zM337 608l-2 9.5-.5 11.5 1.5 11.5 1.5 3 1.5-5 1.5-13-1.5-13-1-4zM249 608l-1.5 3-1.5 14.5.5.5.5 10.5 1.5 7 1.5-4.5 1-9.5-.5-13zM185 608l-1 2.5-.5 10.5-.5.5.5 14.5 1.5 7.5 1.5-11 0-14zM107 593l-1 7 1 4 .5 0 1-3.5-.5-6.5zM515 582l-1.5 2.5-3 13.5 0 7 4 10 2-3.5 2.5-13-.5-7.5zM150 582l-1.5 9.5 0 14 1.5 9.5 1-3.5.5-11.5.5-.5-1-14zM675 581l-1 1-1 3.5-2 13 2.5 15 1 2 1 .5 2-5.5 1.5-9.5 0-5-2.5-13.5zM359 581l-2 7-1 12.5 1.5 11.5 1 3.5 1 .5 2-7 1-12.5-1.5-11.5-1-3.5zM268 581l-1.5 5-1 9.5.5 12 1 7 1 2 1.5-5.5 1-10-.5-10zM202 581l-1 4-.5 11-.5.5.5 11.5 1.5 8.5 1-3 .5-10.5.5-.5-.5-13.5zM700 572l1.5 11.5 1 3.5 1.5 2 2-5 1.5-12zM536 572l-6 0 1 10.5 2 7 1-2zM385 572l-5 0 1 11 1.5 5 1.5-6zM286 572l1.5 14.5 1 1 2-15.5zM219 572l-3 0 .5 11 1 5 1-4zM168 572l-3.5 0 1.5 15 1-3 .5-11.5zM127 572l-1 0 .5 2.5z"/>
<path fill-rule="evenodd" fill="#ffff00" d="M834 938l-2 3-2.5 10.5 10 0-2.5-10.5-1.5-3zM224 938l-1.5 6-.5 7.5 4.5 0-1-10.5zM388 935l-2 3-4 13.5 15 0 .5-2.5 1.5-2.5 0-2-2.5-.5-2-1.5-3-6.5-1.5-1.5zM118 935l-1.5 3.5-1.5 13.5 5.5 0-1-12zM718 917l-2.5 2.5-2 4 0 2 2 4 2.5 2.5 2.5 0 2.5-2.5 2-4 0-2-2-4-2.5-2.5zM263 910l-1.5 2.5-2 9.5 0 5 2 9.5 1 2 1 .5 2.5-6.5 1-5.5 0-5.5-2-9-1-2zM148 909l-1 3-1 8.5 0 8 1 8.5 1 2.5 1-2 1-8 0-10-1-8zM767 889l-2 .5-1.5 1.5-3 6 0 2 2 4.5 2.5 3 1.5.5 3-2 3-6 0-2.5-2.5-5zM100 882l-2 2-2 4.5-2 7 0 3.5 4 11.5 1.5 2 2 0 1.5-1.5 2.5-6 1.5-6 0-3.5-1.5-6-2.5-6-1.5-1.5zM178 881l-1.5 2.5-2 12.5.5 8 2.5 10.5 1 0 3-15.5-1-10-1-5zM523 880l-3.5 3.5-4 12 0 4.5 3 10.5 2 3.5 2 1.5 2.5-1 2.5-4.5 3-10.5 0-4-2.5-9-2.5-5zM302 880l-1.5 2.5-2.5 14 1.5 11.5 1.5 5.5 1 1 2-4 2-11.5-1.5-13-1-4zM814 862l-2.5 2.5-2 4-.5 3 3 6.5 2 1.5 1.5 0 2.5-2.5 2-4 .5-3-2.5-5.5-2.5-2.5zM476 859l-3.5.5-7 13-11 11-11 22.5-4 3.5-3 1-7.5-2-4 4-3.5 8.5-1.5 6-3 6.5 5 .5 3 3 2 3.5 1.5 1 1.5 0 2.5-2 3-5.5 2-6.5 1.5-2.5 0-5 3-9 3.5-4 2.5-1 2.5.5 2 2 2.5 6 2 2 4 .5 3 3.5 1.5 8 1.5 23.5 14.5 0 3.5-10 3-3 3.5.5 4 2.5 3-.5 2-2.5 2-4 2.5-8.5-1-8.5-2.5-7-4-4-2 0-5.5 3-2-.5-2-2-3-9-2-16-2-4.5-1-1-1.5 0-4.5 3.5-1.5-1 2-6.5 2.5-4 .5-5.5 1.5-3zM555 855l-2.5 5-2 11.5 2 10.5 1.5 4 1.5 1 2.5-5 2-12-2.5-12-1-2zM208 854l-1.5 5-1 14 2 13 1 .5 2-9 .5-10-2-13zM126 853l-1 .5-1 3.5-1.5 11.5 1 12.5 2 7 1.5-3 1.5-10.5 0-8.5zM339 853l-2.5 1.5-2 4-3.5 11 0 3 2.5 8 2.5 5.5 1.5 1.5 2 0 2.5-3.5 4-11.5 1-6.5-.5-3-2.5-2.5-3.5-6.5zM588 828l-2 2.5-3 12 2.5 13 2.5 3.5 1-.5 1.5-3 2.5-10.5 0-3-3-12zM237 827l-1.5 4-1.5 14 1.5 11 1 3.5 1 1 1.5-4.5 1.5-13.5-1.5-11.5-1-3.5zM149 826l-1.5 5.5-1 10 1 13 1.5 5.5 1-2 1.5-12-.5-11-1-7zM88 826l0 26.5 2-8.5zM375 825l-2 .5-2 2-2.5 5-3.5 10-1 5.5 0 3 2.5 1.5 2.5 2.5 2 3.5 2.5 2 2-.5 2-2 2.5-5 3.5-9.5 0-3.5 2-6-1-2-3.5-1zM111 801l-1 2.5-1 8 0 10 2 11 1-2.5 1-8 0-11-1-8zM622 800l-2.5 3.5-3 12.5 3.5 13.5 1.5 2 1.5 0 3-6.5 2-9-3-12.5-1.5-3zM267 799l-2 7-1 12.5 1.5 10 1 3.5 1 .5 2-6.5 1-12.5-1.5-10.5-1-3.5zM173 799l-2 10-.5 9 1.5 11.5 1.5 3 1-2 1.5-10.5 0-8-1.5-10.5zM448 773l-4 1.5-5 0-2.5-1.5-3 0-3 3-5.5 12.5-1 5.5-2.5 5-3.5 3.5-5.5.5-5.5-5-1.5-.5-2 1-2 2.5-3 7-5 17.5 1 1 4 1 4.5 5.5 3.5.5 2-2 2.5-5 3.5-10 1.5-7.5 2.5-4.5 2.5-2.5 4.5-1.5 3 .5 4.5 3.5 2 0 3-2.5 5.5-12 1-7.5zM656 773l-2.5 4-3 12 3 12.5 1.5 3 2 1 3.5-7 2-10-3-12-1-2-1.5-1.5zM197 773l-2 11 0 10.5 1 7.5 1.5 3.5 1.5-5.5 1-13-2-13.5zM297 772l-1.5.5-1 3-1.5 9.5.5 11 1.5 7.5 1 2 1-.5 1-2.5 2-12.5-1-10zM131 772l-1 2-1.5 12.5.5 10 1.5 8.5 1-1 1.5-11-.5-14zM494 770l-2.5 3-2.5 5.5-2.5 8.5 0 3.5 4 10.5 3.5 4 1.5 0 3-6 2-12-2.5-13.5-1.5-3zM96 750l-1 2.5-1.5 10 1.5 9 1.5 2.5 1-1.5 1-4.5.5-9-1.5-7.5zM465 748l-3.5 0-3 2.5-8 20.5 4-1 5 1 1.5-1.5 4-9.5.5-5zM691 746l-2 3-1.5 4.5-1.5 9.5 2.5 11 1 2.5 2 1.5 1.5-1.5 1.5-3.5 2-9 0-4.5-2.5-10-1-2zM514 745l-3 3-3.5 12 0 4.5 3 11.5 2.5 3.5 1 0 2-2.5 3.5-13 0-4-3-11.5zM324 745l-1.5 3.5-1.5 7-.5 9.5 1.5 9 1.5 4.5 1 .5 1.5-2.5 1-4 1.5-11-2.5-14-1-2zM221 745l-1.5 5.5-1 9 1 14 1.5 5.5 1.5-4 1.5-12.5-1.5-13.5zM150 745l-1.5 6-.5 10-.5.5 1 11.5 1.5 6 1-2.5 1.5-12.5-1-13.5zM727 719l-2.5 2.5-3 12.5 2.5 12 2 3.5 1 0 2-3 2.5-10 0-4-2-9zM117 719l-1 2.5-.5 10-.5.5.5 11 1.5 6.5 1.5-10.5 0-9.5zM536 718l-2 5.5-1.5 13 2 12.5 1 2.5 1 .5 2-5.5 1.5-13-2-12-1-3zM352 718l-2.5 7-1.5 10 2 12 1.5 4 1.5.5 1.5-3 2-10.5 0-6.5-1.5-8.5-1.5-4.5zM245 718l-1 2-1 6-.5 13 2 12 1 .5 2.5-16.5-1.5-13zM171 718l-1.5 4.5-1 10 .5 10.5 1.5 8.5 1.5-3 1-9 0-9.5zM88 701l0 13 1.5-6zM763 692l-2.5 5-2 11 2.5 11 1.5 3 1.5.5 2.5-5 2-9 0-3-2.5-10.5-1-2zM561 692l-2 9-.5 9.5 1.5 10 1.5 3 1.5-3.5 1.5-14-1.5-10.5-1-3zM268 691l-1.5 6.5-1 11.5 1.5 12 1 3.5.5 0 1.5-5 1-15-2-13zM191 691l-1.5 3-1 9 0 9.5 2 12 1-2 1.5-12.5-.5-10.5zM380 690l-2.5 7-1.5 10.5 2.5 13.5 1 2.5 1.5.5 2.5-6.5 1.5-12-2.5-13-1-2zM134 690l-1 3-1 10 .5 14.5 1.5 6.5 1.5-10 0-13.5zM103 675l-1.5 3.5 0 4 2 4 2-6-1-4zM798 665l-2.5 5-2 10.5 3 12.5 2 2 1.5-1.5 3-11.5 0-4-2-9-1-2.5zM590 664l-2 6.5-1 11.5 1.5 10 2 4 2-6.5 1-11.5-1.5-10-1-3.5zM406 664l-1 0-2.5 3.5-3.5 11.5 0 3 3 10 3 4.5 1.5-.5 2.5-5 3-10 0-6 .5-.5-1-3.5zM209 664l-1.5 7.5-.5 12.5 1.5 12 1 1 1.5-7.5.5-12.5-1.5-12zM291 663l-1 2.5-1.5 11 .5 11.5 2 9 1.5-3.5 1.5-12.5-1-11.5-1-5zM150 663l-1 4-.5 11.5-.5.5 1 14 1 4 1-3.5.5-10.5.5-.5-.5-11.5zM121 639l-1.5 9 0 10.5 1.5 9 1.5-10.5 0-7.5zM835 638l-1.5 1.5-1 2.5-2 9 0 3.5 2.5 10.5 1 2 1.5.5 1.5-2.5 2.5-10 0-4.5-2.5-10-1-2zM433 638l-1.5 0-3 4-3.5 10-1 5.5.5 4 7 6 2-1 2-4 3.5-10 0-4 1-3.5 0-3zM619 637l-1 .5-1 2.5-2 13 1.5 11.5 2 5.5 1.5-2.5 2-11.5-.5-9.5-1.5-7.5zM314 636l-1 2-1 6-.5 13 2 12 1 .5 2.5-16.5-1.5-13zM229 636l-1.5 5.5-1 10 1 12.5 1.5 5.5 1-2.5 1-8.5 0-11.5zM167 636l-1.5 12.5 0 9 1 10 1 2 1.5-12 0-9-.5-.5-.5-10zM95 622l-1 3.5 1 4.5 1-3zM459 617l-5-1-2 1.5-4 8-1.5 7 .5 2.5 3 1 3 0 2-2 3.5-8 1-5.5zM136 611l-1.5 9.5 0 10 1.5 10 1.5-11 0-7.5zM647 609l-1 .5-1 2.5-2 12.5 1.5 12.5 1.5 5 1.5-.5 1-3 1.5-9-.5-11-1.5-7.5zM337 609l-1 3-1.5 14.5 1.5 12.5 1 3.5.5 0 1.5-5 1-15-2-13zM249 609l-1 1-1.5 11.5.5 13.5 1.5 7.5 1.5-5 .5-10 .5-.5-.5-9zM185 609l-1 3-.5 11-.5.5 1 16 1 3 1.5-12 0-10zM107 596l-.5 3.5 1 1.5.5-3.5zM515 583l-1.5 2.5-2.5 12 .5 9 3 7 1.5-1.5 2.5-12.5-.5-8.5zM150 583l-1.5 10.5 0 10 1.5 10.5 1.5-9.5 0-12.5zM675 582l-1 1.5-1.5 6-1 10.5 2 12 1 2.5 1 .5 2-6 1.5-10.5-2-13-1-3zM359 582l-1 2.5-1.5 10 0 9 2 11.5 1 .5 1-2 1.5-10 0-9-1.5-10zM268 582l-1.5 5.5-.5 10-.5.5 1 12.5 1.5 5.5 1-3 1-8.5 0-11.5zM202 582l-1.5 10 0 14 1.5 10 1-4 .5-11 .5-.5-1-15zM708 572l-7 0 1 9.5 2 6.5 1-.5 1-2.5zM536 572l-5 0 .5 9 2 7.5 1.5-5zM384 572l-4 0 .5 9.5 1.5 5 1.5-6zM286 572l1.5 13.5 1 1 1.5-14.5zM219 572l-3 0 .5 9.5 1 5 1-4zM167 572l-3 0 1.5 14 1-3.5z"/>
<path fill-rule="evenodd" fill="#dfff20" d="M224 940l-1 3-1 9 4.5 0-1-9zM834 939l-2 3.5-2 9 9 0-2.5-10.5-1.5-2zM388 936l-3 5-3 11 14 0 1.5-6-4.5-3.5-2.5-5.5-1-1zM118 936l-2.5 16 5.5 0-1.5-13.5zM718 919l-1.5 1-2 3-.5 3 3 4.5 2.5.5 3-3 1-2 0-2-2.5-4-1.5-1zM263 911l-1.5 3-2 11 2 10 1 2.5 1 .5 1.5-3 2-11-1.5-8.5-1.5-4zM148 910l-1 3.5-1 9.5 1 12.5 1 3 1-2.5 1-8.5-.5-11zM429 909l-2.5 2.5-2 4-4 12.5-1.5 2.5 0 1.5 4 1 5.5 6.5 2 .5 3-3 5-12 .5-7 1.5-6.5-5-.5-4-2zM767 890l-2 1-1.5 2-2 4.5 1.5 3.5 3 3.5 2 0 2.5-2.5 2-4.5-2.5-5.5zM100 883l-1.5 1-1.5 2.5-2 6-1 6 2.5 8.5 1.5 3 2.5 1.5 3-4 2.5-8.5 0-3-2.5-9-1-2zM178 882l-1 1-2 11 .5 11.5 1 5.5 1.5 3 1.5-3.5 1.5-9.5 0-6.5-1-7zM523 881l-3 2-4.5 13 0 3.5 2 8 2 4.5 2.5 2.5 1 0 2.5-2.5 4-12.5 0-4-2-7.5-2-4.5zM302 881l-1 .5-1 2-2 11 0 5.5 2.5 12.5 1 1 1.5-2.5 2-10.5-.5-10.5zM465 877l-6.5 4-3.5 4-6 11.5-1.5 4.5 0 2.5 4 1.5 2 2 2.5 5 2 1.5 2.5-1 3.5-3 1 0 1.5 1.5 1.5 5.5 2 23.5 2 11.5.5.5 5 0 4.5-12 3.5-5.5 3.5-.5 4.5 4.5 3 2 1.5 0 2-1.5 2-3.5 2.5-7.5.5-4-3.5-12-2.5-3-2-.5-2 1-6 5.5-2 0-1.5-1-2.5-5-3-14-2.5-5-1-.5-1.5.5-6.5 5.5-1.5 0-1.5-1-1-3 1-3 1-10-.5-1.5zM815 863l-3 2-2 4 0 2.5 2 4 2 2 2-.5 1.5-1.5 2-4 0-2.5-2-4zM555 856l-1.5 2-1.5 5.5-1 9 2 10 1.5 3 1 .5 2.5-5.5 1.5-8 0-3.5-2.5-11zM208 855l-1.5 3-1.5 12 1 10.5 1.5 5.5 1.5-3 1.5-11.5-1-10.5zM126 854l-1 .5-2 11.5 0 9 1.5 10 1 2 1.5-3.5 1.5-11-.5-9zM338 854l-3 4.5-3.5 11 0 3 4 11.5 2.5 3 1 0 1.5-1.5 2-4 3-9 .5-8-5.5-9.5zM88 830l0 21 1.5-7zM588 829l-1.5 1.5-1 2.5-2 9 0 3 2 9 1 2.5 1.5 1.5 2-2.5 2.5-10 0-4-1.5-7-2-5zM237 827l-2 8-.5 12 1.5 9.5 1.5 2.5 2-8 .5-12-1.5-9.5zM149 827l-2 10.5 0 11 2 10.5 1.5-5.5 1-10-1-11zM374 826l-2.5 2-3 6-3 9-.5 7 4.5 4.5 3 4.5 2.5.5 2.5-2.5 5.5-14 1-8.5-8-8zM111 802l-1 3-1 8.5.5 11 1.5 6.5 1-2.5 1-8.5-.5-12zM622 801l-1.5 1.5-1.5 4-2 10 2.5 10.5 1.5 3 2 .5 3-7 1.5-8-3-12zM267 800l-1.5 4.5-1.5 11.5 1.5 11.5 1 3.5 1 .5 1.5-4 1.5-12-2.5-15zM173 800l-2 11 0 10 1.5 9.5 1 1.5 1.5-5.5 1-12.5-2-13.5zM405 799l-2 1.5-3 5.5-3.5 10-1 9.5 3 1.5 5.5 6 2.5 0 2.5-3 5-13.5 2-11-4-1-5-5zM436 774l-3 .5-2.5 3-4 9-1.5 7-1.5 3.5.5 2.5 4.5.5 5 3.5 1.5 0 2-1.5 3.5-6.5 2.5-6 .5-6.5 1.5-4.5-.5-2.5-4 0zM656 774l-3 6-2 9.5 3 12 1 2 2 1 2-3 1.5-4.5 1.5-9-2.5-10-1.5-3zM197 774l-2 12 0 6.5 1.5 10.5 1 1.5 2-10 0-10.5-1-7.5zM131 773l-1 2-1 8 0 11.5 1.5 9.5 1-1 1.5-12-.5-10zM297 773l-1 1-1 3.5-1.5 10 1.5 13.5 1.5 4 1.5-1.5 2-11-.5-10.5-1-5.5zM495 772l-2 2-1.5 3-3 10 0 3 2 6.5 2 4.5 2 2 1 0 2-3 2.5-10.5-2-13-1.5-3.5zM97 751l-1.5 3-1 6 1 9 1.5 3 1.5-4 1-6.5-1-6.5zM462 750l-2 .5-3 4-4 12 0 1.5 1 1 3.5 1 2-.5 3.5-6 1-5.5 0-5-1-2.5zM691 747l-2.5 4.5-2 9 0 3.5 2.5 10 1 2 1.5 1 2-2.5 3-12.5-3-12.5zM514 746l-1.5 0-2 3-3 11 0 3.5 1.5 7 2 5.5 2 2 1.5-1 1.5-3 2.5-10.5 0-4-3-11.5zM324 746l-2 5.5-1.5 11 2 12 1 3 1 .5 2.5-7 1-11.5-2-11-1-2zM221 746l-1.5 6-1 9.5 1 10.5 1.5 6 1-1.5 1.5-10.5-.5-12.5-1-6zM150 746l-1 3-1 8.5 0 9 1 8.5 1 3 1-2.5 1-8 0-11-1-8zM727 720l-1.5 1-1 2-2.5 10.5 2 11 2 4 1 0 1.5-2 2.5-9.5-.5-8-2-7zM117 720l-1.5 8 0 13 1.5 7.5 1.5-12-.5-10.5zM536 719l-1.5 3.5-1 5.5-.5 10.5 2 11 1.5 1.5 1.5-3.5 1-5.5.5-10-1.5-9.5-1-3zM353 719l-1.5.5-1 2.5-2 11 1.5 12.5 1 3.5 1.5 2 2-4 2-11-1.5-11.5zM245 719l-1 2-1.5 11.5 1 13.5 1.5 5 1.5-4.5 1-8.5-1-15zM170 719l-2 16 1.5 14 1 1.5 1.5-7.5.5-11-1.5-12zM88 703l0 8 1-4zM764 693l-1 0-1.5 2.5-2.5 10 0 3 2 9 1 2.5 1.5 1.5 1-.5 1-2 2.5-10-1-9-1.5-5zM561 693l-1.5 6-1 9 1.5 11 1.5 3.5 1.5-4 1-6.5 0-8.5-1.5-9zM380 691l-1.5 3.5-1.5 7-.5 7.5 2 10.5 1 3 1.5.5 1.5-3 1.5-7 .5-9-2.5-11.5-1-1.5zM269 691l-1 1.5-1.5 10.5 0 8.5 2 11.5 1.5-2.5 1.5-12-1-11.5zM190 691l-1.5 8-.5 11 1.5 12 1 1 2-16-1.5-14zM134 691l-1 3-.5 10.5-.5.5 1 15.5 1 2.5 1.5-11 0-10zM103 677l-1 2 0 2.5 1.5 2 1-2 0-3zM798 666l-2 3.5-2 9 0 3 2 9 1.5 3 1 .5 2-3 2-8.5 0-5-2-8.5-1-2zM590 665l-1 2-2 13 2 13 1.5 2 1-2 2-13-1.5-11-1-3.5zM405 665l-2.5 4-3 10 0 3.5 4 11.5 2 1.5 1-.5 2-4 3-10 0-8-4.5-7zM292 664l-1.5 3-1.5 12 1 11.5 1.5 5.5 1-1.5 1.5-10 0-9zM209 664l-1.5 8.5-.5 9 1.5 13 1 1.5 1-4.5 1-13-1.5-13zM150 664l-1.5 10 0 12 1.5 10 1-3.5.5-11.5.5-.5-1-13zM121 640l-1.5 9.5 0 6.5 1.5 10 1.5-11.5-.5-9.5zM836 640l-1 0-1.5 2.5-2 8.5.5 7.5 1.5 5.5 2 3 2-2.5 2.5-11-1.5-8-1.5-4.5zM431 639l-1.5 1.5-2 4-2.5 7.5-.5 8 5 5.5 2.5.5 2-2.5 3.5-9.5 1-10-2-2.5-4-2.5zM618 637l-1.5 4-1.5 9.5 1 12 2 6 1-1 1-3.5 1.5-10.5-1.5-12-1-3.5zM315 637l-1 .5-2 13 1 13.5 1.5 5 1.5-4.5 1-8.5 0-6.5zM229 637l-1 2.5-1 8 0 10.5 1 8 1 2.5 1-3 1-9-.5-13zM167 637l-1 6.5-.5 12 .5.5.5 10.5 1 2 1-6.5.5-11.5-.5-.5-1-13zM95 625l-.5 1 .5 1 .5-.5zM455 617l-2.5 1-4.5 10 0 5 3 2 1.5 0 1.5-1 4-8 .5-6.5-1-1.5zM136 612l-1.5 10.5.5 12.5 1 4 1.5-12zM647 610l-1.5 1.5-2 11 .5 10 1 5.5 1.5 3.5 1-1 1-3.5 1.5-10-1.5-13zM184 610l-1 8.5 0 14.5 1.5 8.5 1-6 .5-13-.5-.5-.5-10.5zM337 610l-1 1.5-1.5 10.5 0 8.5 2 11.5 1.5-2.5 1.5-12-1-11.5zM249 610l-2 14 .5 10 1.5 8 1-2 1-8.5 0-11-1-8zM515 584l-1.5 3-2 9.5 0 7.5 3 8.5 1-.5 1-3 1.5-8.5 0-7.5-1.5-6zM150 584l-1.5 11.5.5 12 1 5.5 1.5-10.5 0-8.5zM675 583l-2 8-.5 11 1.5 9 1 2.5 1 .5 2-6.5 1-11-2.5-13zM359 583l-2 9-.5 9.5 1.5 10.5 1.5 3 2-9 .5-9.5-1.5-11zM268 583l-1 2.5-1 8.5 0 10 1 8.5 1 2.5 2-12 0-8-1-9zM202 583l-1.5 10.5 0 11 1.5 10.5 1.5-9.5 0-13.5zM701 572l1.5 11 2 4 2-5.5 1-9.5zM536 572l-5 0 1 10.5 1.5 5 1.5-5.5zM384 572l-4 0 .5 8 1.5 5.5 1-3zM290 572l-3.5 0 0 4.5 1.5 9 1-2.5zM219 572l-3 0 1.5 13.5 1-4.5zM167 572l-2.5 0 0 6 1 6.5 1-3.5z"/>
<path fill-rule="evenodd" fill="#bfff40" d="M224 941l-1.5 7 0 4 3.5 0-1-10zM834 940l-2 4-1.5 7.5 8 0-2-9-1-2zM388 937l-2.5 4-1.5 6.5-2 4.5 13.5 0 1-5.5-3.5-3-2.5-5.5-1-1zM118 937l-1.5 7.5-.5 7.5 4.5 0-.5-9-1-5zM718 921l-3 4 3 4 2.5 0 2.5-3 0-1.5-2.5-3.5zM263 913l-2 5-1 8.5 1.5 7.5 1 2.5 1 .5 2-5 1-8.5-2-9.5zM148 912l-1.5 7.5 0 11 1.5 7.5 1-2.5 1-9.5-1-11.5zM431 910l-2.5 0-2 2-3.5 7.5-3.5 11 .5 1 3 1 3.5 4.5 2.5 2 1.5-.5 2-2 2-4 .5-2.5 2.5-5 0-5 1-6-1-1.5-4-1zM475 906l-1.5 4.5-.5 16.5 2.5 6.5 2 .5 5-6 1.5-1 2.5 0 3.5 3.5 2 3.5 4 4.5 1.5.5 2-1 2.5-4.5 2.5-8-2-9-2.5-5-1.5-1-3 .5-6.5 9.5-2 2-2 .5-3-2.5-5.5-13.5zM766 892l-2.5 3-1 2.5 2 4 3 1.5 2-1.5 2-4.5-1.5-3-2-2zM100 885l-3 5-2 8.5 3.5 10.5 1.5 1.5 1.5 0 3-5.5 1.5-8.5-3-9.5-1-1.5zM177 883l-2 8.5-.5 8.5 1.5 10 1.5 3 1.5-3.5 1.5-13-2-12zM522 882l-2.5 3-3.5 11 0 3 2.5 9.5 1.5 3 2 2 1 0 2-2 1.5-3 2.5-9 0-4-3.5-11-1.5-2zM302 882l-2 5-1.5 11 2.5 13.5 1.5 1 2-7 1-9.5-1.5-9.5-1-3.5zM462 881l-2 0-2 1-3 3-6.5 13.5.5 3 4 3 3.5 5 1.5 0 2-2 3.5-9 0-1.5-1-1.5.5-13.5zM814 865l-2 2-1.5 3.5 3 5 2.5 0 3-5.5-2.5-4.5zM555 857l-1 1-2 7-.5 8.5 2 9 1 2 1.5 0 2.5-8 .5-8.5-2.5-10zM208 856l-2 11 0 7.5 1 7.5 1 3.5.5 0 2-11 0-7.5-1.5-10zM126 855l-1 .5-2 12.5.5 9.5 2 8.5 1.5-3.5 1-7 0-10zM338 855l-1.5 1.5-2 4.5-2.5 8.5 0 3 2.5 8 2 4 1.5 1.5 1 0 3-4.5 2.5-7 1-9-5-9.5-1-1zM88 834l0 15 1-5zM588 830l-1.5 2.5-1.5 5.5-.5 7.5 2 8 1 2 1.5.5 1-1 1.5-4.5 1.5-7.5-2.5-11-1.5-2zM237 828l-1.5 5.5-1 11.5 1.5 10.5 1.5 2.5 1.5-5 1-12-1.5-10.5zM149 828l-1 3-1 8.5.5 12 1.5 6.5 1-2.5 1-8-.5-14zM374 827l-2 2-3 6.5-2.5 7.5 0 6.5 3.5 4 2 3.5 2 1.5 1.5 0 3-3.5 4.5-12 .5-7.5-7-8zM111 803l-1 3.5-1 9.5 1 10.5 1 3.5 1-3 1-9.5-1-11.5zM623 802l-1.5 1-1 2-2.5 10 1.5 9 2.5 5.5 1 0 1.5-1.5 3-11-2-11-1-2.5zM267 801l-2 8-.5 10 1.5 9.5 1.5 2.5 2-8 .5-10-2-11.5zM173 801l-1.5 7-.5 11 1.5 10.5 1 1.5 2-10 0-10-1.5-9.5zM406 800l-2 .5-3 4.5-4 11.5-.5 8 8.5 8 3-2 2-4 3.5-10 0-3 1-3 0-3.5zM436 775l-3 .5-2 2.5-4.5 10-.5 4.5-1 2.5.5 3 4 1.5 4.5 3 1.5-.5 2-2 5-11 0-4 1-4 0-2.5-1-1zM656 775l-1.5 2-1.5 4.5-1.5 8.5 3 11.5 1 1.5 1.5.5 2-3 1.5-5 1-8-2.5-9.5-1-2zM496 775l-2 1.5-1 2-2.5 9 0 3.5 1 3.5 3.5 7 1 0 1.5-2 2.5-10-2-11.5zM197 775l-1 4-1 11.5 1.5 11.5 1 1.5 1.5-6.5.5-11-1-8zM131 774l-1 2.5-1 8 0 8.5 1.5 10 1-1 1.5-13-1-11zM296 774l-2.5 11 0 8 2 10.5 1 .5 1-1.5 1-4.5 1-10.5-2.5-13zM96 753l-1.5 6 0 5 1 4.5 1 1.5 1.5-4 .5-6-1-5.5zM462 752l-1.5 0-2 2-3 7.5-.5 5.5 2.5 1.5 2 0 1.5-1.5 2.5-5 0-7.5zM691 748l-1.5 2-2 7-.5 7.5 2.5 9.5 2 2 1.5-1.5 1.5-4.5 1.5-9-2.5-10-1-2zM513 747l-1.5 2-3 11 0 3.5 2.5 10 2 3 1.5 0 2.5-5.5 2-9.5-3-12-1.5-2.5zM324 747l-2 6-1 11.5 1.5 9 1 3 1 .5 2-5 1.5-10-2-12-1-2.5zM221 747l-2 11 0 8 1 8 1.5 3 1.5-8 .5-9-1.5-11.5zM150 747l-1 3-1 9 .5 11 1.5 7 1-2.5 1-8.5-.5-13zM117 722l-1.5 8 0 9.5 1.5 8.5 1.5-13zM727 721l-1.5 1-1 2-2 8.5 1 8.5 2.5 6.5 1 0 1.5-2 2.5-10.5-1.5-8.5zM536 720l-2 6.5-1 9.5 1.5 10.5 1 3 1 .5 2-6.5 1-9.5-1.5-10-1-3.5zM245 720l-1 .5-2 14 1 10 1.5 5.5 1-2 1.5-12zM170 720l-1.5 10.5 0 9 1 8 1 2.5 1-4 1-12-1.5-13zM353 719l-1.5 2-2 10 .5 10 1.5 6.5 1.5 2 2-4 1.5-8.5 0-5.5-2.5-11.5zM88 705.5l.5 0 0 .5-.5 0zM764 694l-1 0-1 1.5-2.5 9.5 0 4.5 1.5 6.5 2.5 4.5 2-2.5 2.5-11-1.5-7.5zM561 694l-2 10.5 0 6.5 1 7 1.5 3.5 1-2 1-5.5.5-8.5-2-11zM269 692l-1 1.5-1.5 11 .5 10 1.5 7.5 1.5-3 1-7.5 0-9zM190 692l-1 4-1 12 1.5 13 1 1 1.5-10.5 0-9-1-8zM134 692l-1 3-.5 11.5-.5.5.5.5.5 11.5 1 3 1.5-12-.5-12.5zM380 692l-2 4-1.5 8 0 7 1 6 1.5 5 1 1 2-3.5 2-11-1.5-11-1-3.5zM103 679l-.5 1 1 1 .5-1.5zM799 667l-1 .5-1 2-2 8 0 4.5 1.5 7 1.5 3.5 1 .5 2.5-5 1.5-7.5-1.5-8.5zM590 666l-2 7.5-.5 9 1.5 9 1.5 2.5 1.5-4.5 1-12-2-11zM405 666l-2.5 4-3 10.5 3.5 11.5 2.5 2.5 2.5-3.5 2.5-7.5.5-9.5-4-7zM292 665l-1.5 3-1 7.5 0 9 2 10.5 1-1.5 1.5-11-.5-10zM209 665l-1.5 9.5 0 11 1 8 1 1.5 1.5-9.5 0-11-1-8zM150 665l-1.5 10.5 0 9 1.5 10.5 1.5-9 0-12zM121 641l-1.5 11 .5 8 1 4.5 1-5.5 0-12zM835 641l-2 4.5-1.5 8 2.5 10.5 1 1.5 1 0 2-4 1.5-9-2-9-1-2zM431 640l-2.5 3.5-3 8.5-.5 6.5.5 1.5 5 5 1.5 0 2.5-4 3-8.5 0-8-4-4zM618 638l-1.5 4-1.5 10.5 1 8.5 2 6.5 1.5-2.5 1.5-9-.5-10-1-5.5zM229 638l-1 2.5-1 9 .5 12 1.5 6.5 1-3.5 1-9.5-.5-10zM167 638l-1.5 15 .5.5.5 11.5.5 2.5.5 0 1.5-15-.5-.5-.5-11.5-.5-2.5zM314 638l-1 2.5-1.5 12.5 1 10 1.5 5.5 1-2 1.5-12-1-11.5zM456 618l-2.5 0-2 2-2.5 5.5-.5 4 .5 2 1.5 1.5 2.5 0 1.5-1.5 2.5-5 .5-6.5zM136 613l-1.5 11.5.5 9 1 4.5 1-6 0-13zM647 611l-1.5 1.5-2 12 1 9.5 2 6.5 1.5-2.5 1.5-8.5 0-7.5-1-6.5zM337 611l-1 1.5-1.5 11 .5 10 1.5 7.5 1.5-3 1-7.5 0-9zM249 611l-2 15 .5.5 1 13.5 1 1 1.5-11 0-8-1-8.5zM185 611l-1.5 9.5 0 11.5 1.5 9 1.5-14zM515 585l-1.5 3-2 10.5.5 6 2.5 7 1-.5 2.5-12-1-9zM150 585l-1.5 12.5 1.5 14.5 1.5-11-.5-11.5zM675 584l-2 6-1 10.5 2 11.5 1.5 1.5 1-2 2-12.5-1.5-10.5-1-3.5zM359 584l-1.5 5.5-1 10 1.5 11.5 1.5 3 1.5-6 1-9.5-1.5-11.5zM268 584l-1 2.5-1 9 .5 12 1.5 6.5 1-3.5 1-9.5-.5-9.5zM202 584l-1.5 11.5 0 7 1.5 11.5 1.5-10 0-10zM707 572l-6 0 1 9.5 1.5 4.5 1.5-1.5zM535 572l-4 0 0 5.5 2 9.5 1.5-6zM384 572l-4 0 1 10 1 2.5 1-3zM290 572l-3.5 0 1.5 12.5 1-2.5zM219 572l-2.5 0 0 6.5 1 6zM167 572l-2.5 0 1 11.5 1-4z"/>
<path fill-rule="evenodd" fill="#9fff60" d="M224 942l-1.5 10 3.5 0-.5-6-1-4zM834 941l-2 3-1.5 7.5 7.5 0-2-8zM388 938l-2 3-3.5 11 12.5 0 1-4-.5-1.5-2-1.5-3-6-1-1zM118 938l-2 14 4.5 0-1-11zM719 922l-2.5 2 0 1 2 2 1.5 0 2-2 0-1zM263 914l-1.5 3-1 5 0 6 1.5 6.5 1.5 1.5 1-1.5 1.5-6.5 0-6-1.5-6.5zM148 913l-1.5 8 0 8 1.5 8 1.5-7 0-10zM498 912l-1.5 0-2 1.5-5.5 11 .5 2.5 4 7.5 3.5 3 2-1 1-1.5 3.5-10-2.5-9zM431 911l-2.5 0-2 2-4.5 10.5-1.5 6 .5 1.5 2.5 1 3.5 4.5 2 1.5 3-2 5-11.5 0-6.5.5-.5-.5-3.5zM767 894l-2 .5-2 3 1 2.5 2.5 2 3.5-3.5-1-3zM100 886l-2.5 4-2 7.5 2.5 8.5 1.5 2.5 1.5.5 2.5-3.5 2-6.5 0-3-3-9-1-1zM461 884l-2.5 0-2.5 2-5.5 11 0 3.5 6 6.5 1.5 0 1.5-1.5 2.5-6.5-.5-3 .5-10.5zM177 884l-1 3-1.5 11.5 1.5 10 1.5 3.5 2-6.5.5-11.5-1.5-8.5zM522 883l-3 4.5-2.5 8.5 0 3.5 3 10 2.5 3 1 0 3-4 3-11-2.5-9.5-2-4-1-1zM301 883l-2 8-.5 9 2.5 11.5 1 0 2-7.5.5-10-1.5-8.5-1-2.5zM814 867l-2.5 3 0 1.5 2.5 3 1.5 0 2.5-3 0-1.5-2.5-3zM555 858l-1 .5-1 2-2 9.5 1 7.5 2 6 2-1 2.5-11-1.5-9.5zM208 857l-1.5 7-.5 9 1 8 1 3.5.5 0 1.5-7 .5-9-1-8-1-3.5zM125 856l-1.5 5-1 9.5 1.5 12 1.5 2.5 1.5-7 .5-11-1-7.5-1-3.5zM338 856l-1.5 1.5-4 12 0 3 4 11 1.5 1.5 1 0 3-4.5 2.5-7.5.5-6.5-4.5-9.5-1-1zM88 837l0 9 .5-2zM588 831l-2 4.5-1.5 8 2.5 10 1 1.5 1 0 2-4 1.5-9-2-8.5-1-2zM237 829l-1.5 5.5-1 8.5 1.5 11.5 1.5 2.5 1.5-5.5 1-8.5-1.5-11zM149 829l-1 3-1 9.5 1 12.5 1 3 1-2.5 1-8.5-.5-11zM374 828l-2 2-2.5 5.5-2.5 7.5 0 5.5 5 7.5 1.5 1.5 2 0 2-2 2-4 3-8.5 0-7-6.5-8zM111 804l-1.5 8 0 8.5 1.5 8.5 1.5-7.5 0-10zM622 803l-2.5 4.5-1.5 6.5 0 3.5 2 8 1 2 1.5 1 2.5-4.5 1.5-6.5 0-3.5-2-8-1-2zM267 802l-1.5 5-1 10 1.5 10.5 1.5 2.5 1.5-5 1-10.5-2-12zM173 802l-1.5 7.5-.5 7.5 1 9 1.5 4 2-10.5 0-7-1.5-10zM405 801l-2 1.5-3 6.5-2.5 7.5-.5 6 .5 1.5 7 7.5 1.5 0 2-2 1.5-3 3.5-10 .5-8.5-7-7zM495 777l-2.5 6-1 7 2 6.5 1.5 2.5 1 0 2.5-5 1-6-2.5-10.5zM436 776l-2 0-3.5 4-3.5 8.5-1 5.5.5 3 6.5 4 2 0 2-1.5 5-10.5.5-9-1-1.5zM656 776l-2.5 5-1.5 6.5 0 3.5 2 8 1.5 3 1.5.5 1.5-2 2.5-9 0-4.5-2-8-1-2zM197 776l-1.5 8.5 0 9.5 1 7 1 1.5 1.5-7 .5-8-1-8.5zM131 775l-1 2.5-1 9 .5 10 1 5.5 1-1 1-8 0-9zM296 775l-2 8-.5 8.5 2 11 1 1 1.5-4 1-6.5 0-7.5-2-10zM97 755l-1 1.5-1 5.5 1 5.5 1 1.5 1.5-4.5 0-5zM461 754l-1.5 0-1 1-3 7 0 3.5.5 1 2 1 2.5-2 2-4-.5-6zM692 749l-1 .5-1.5 3-2 9 2 10 2 3.5 1.5-1 1-2 2-8.5-1.5-10zM513 748l-3 7-1 4.5 0 4 2 8.5 1.5 3 1.5.5 2.5-4.5 2-10-3-11.5-1-1.5zM324 748l-1.5 4-1.5 10.5 2.5 13 1 .5 1.5-3 1-5 .5-8.5-1.5-8.5-1-2.5zM221 748l-1.5 7-.5 9.5 1 8.5 1.5 3 2-14-1.5-12.5zM150 748l-1 3.5-1 9.5 1 11.5 1 3.5 1-2.5 1-9.5-.5-9.5zM117 723l-1.5 9 .5 11 1 3.5 1-6.5 0-10.5zM727 722l-2.5 5-1 4.5 0 5.5 2 7.5 2 2 2-4 1.5-6.5 0-3-2-8.5-1-2zM536 721l-2 7-.5 10.5 2 10 1 .5 2-7 .5-10.5-2-10zM353 720l-2 4-1.5 8.5.5 7 2.5 9 1.5-1 2.5-12.5-1.5-10.5-1-3.5zM245 720l-2 10.5 0 7.5 1 8 1 2.5 1-2 1-7.5 0-9.5-1-7zM171 720l-1 2.5-1 9 .5 11 1.5 6 1.5-9 0-10.5zM764 695l-2 1.5-2.5 10 2 10 2 3 1.5-1.5 2.5-10-1-7zM562 695l-1 1.5-1.5 10 1 10 1.5 4 1-2 1.5-10.5-1-8.5zM269 693l-1 1.5-1.5 12 2 14.5 1.5-3 1-8-.5-10.5zM190 693l-1.5 9 0 10.5 1 7.5 1 1 1-5.5.5-11-1-9zM134 693l-1 3 0 5-.5.5 0 11.5 1 8 1-1.5.5-10.5.5-.5zM380 693l-1.5 2.5-2 10.5 1 9.5 1.5 5.5 1 1 1.5-2 2-10 0-5-2-10zM798 669l-2 4-1.5 8 2.5 10 2 1 2-5 1-8-1.5-7-1-2.5zM590 667l-1.5 5-1 8.5 1.5 10 1.5 2.5 1.5-5 1-8.5-1.5-10zM406 667l-1 0-2 3-3 10 2.5 9.5 2.5 4 2.5-2.5 3-9 0-7.5zM291 666l-1.5 6.5-.5 10.5 1 8 1.5 3 2-14.5-1-9.5-1-4zM209 666l-1.5 10 0 8 1 8.5 1 1.5 1.5-10 0-8-1-8.5zM150 666l-1.5 11 .5 12 1 5 1.5-10 0-8zM121 643l-1 5 0 11 1 5 1-6.5 0-8.5zM835 642l-2 5-1 7.5 1.5 7 1 2.5 1.5.5 2.5-6.5.5-6.5-2-8-1-1.5zM433 641l-2.5 1-3 6.5-1.5 5.5.5 5 4.5 5 1 0 2-2 3.5-9.5-.5-8zM618 639l-2 7-.5 10 2 10 1 .5 1.5-5 1-10-1.5-9.5zM167 639l-1 7.5 0 12.5 1 7.5.5 0 1-7.5 0-12.5-1-7.5zM314 639l-2 10.5 0 7.5 1 8 1 2.5 1-2 1-7.5 0-9.5-1-7zM229 639l-1 3-1 10 1 12.5 1 3 1-3.5.5-10 .5-.5zM455 619l-3 1.5-2.5 5 0 4.5 2 2 2.5-1 2.5-4.5 0-6zM136 614l-1 5.5 0 12.5 1 5 1-6.5 0-10zM646 612l-1 1.5-1 5-.5 10.5 2 10 1 .5 2-8 .5-8-1.5-9zM337 612l-2 14.5 1 9.5 1 4 .5 0 1.5-6.5.5-10.5-1-8zM249 612l-1.5 9.5 0 9 1 8.5 1 1 1.5-16-1-9.5zM185 612l-1.5 10 0 8.5 1.5 9.5 1-7 0-14zM515 586l-1.5 3-1.5 8 .5 8 2 5.5 1-.5 2-9.5 0-6.5zM150 586l-1 6 0 13 1 6 1.5-12zM675 585l-1.5 4-1.5 10 2 12 1.5 1.5 2-7.5.5-8.5-1.5-9zM359 585l-2 10 0 8 1 7 1.5 3 1.5-6 .5-12-1-7zM268 585l-1 3-1 9.5 1 12.5 1 3 1-3.5.5-10 .5-.5-.5-.5-.5-10zM202 585l-1.5 12 .5 10.5 1 5.5 1.5-10.5-.5-13zM701 572l1.5 10.5 1.5 2.5 2-6.5.5-6.5zM535 572l-4 0 .5 8 1.5 6 1-3zM384 572l-3 0 .5 8.5 1 3 1-3.5zM289 572l-3 0 1.5 11.5 1-3zM219 572l-2 0 1 11.5 1-5.5zM167 572l-2 0 1 10.5 1-4.5z"/>
<path fill-rule="evenodd" fill="#80ff80" d="M224 943l-1.5 8.5 3.5 0-1-7.5zM834 943l-1 1.5-2 7.5 7 0-1.5-6.5-1-2zM388 939l-2.5 4.5-2.5 8.5 11.5 0 .5-4.5-2.5-3-2-4.5-1-1zM118 939l-1.5 8.5 0 4.5 4 0-1-10zM718 925l0 .5 2.5 0-.5-1zM263 915l-1.5 3.5-1 8 2 8 1 .5 1.5-3.5 1-7.5-1.5-7.5zM148 914l-1.5 9 .5 9 1 4 1.5-7.5 0-7zM498 913l-2 .5-1.5 1.5-4 9 1 3.5 3 6 1.5 1.5 2 0 2-2 2.5-7 0-3.5-1.5-5zM430 912l-1.5.5-2.5 3-4.5 12.5 0 2.5 3 2 3.5 4.5 1.5.5 3-3 4-9.5 0-8.5-2-2.5zM767 895l-2.5 2 1.5 2.5 2 0 1.5-1.5 0-1zM100 887l-1 .5-1.5 3-2 7 3 9 1 1 1.5 0 3-6.5.5-5-2-6.5zM460 886l-2 0-2 1.5-4.5 9 0 3 5 5 1 0 1.5-1.5 2-5zM522 884l-1.5 1.5-2 4.5-1.5 5.5 0 4 2 7.5 1.5 3 1.5 1.5 1 0 2-2 3.5-12.5-2.5-9-2.5-4zM178 884l-1.5 3.5-1 7 .5 9.5 1 5 1 1.5 1.5-4 1-7-1-11.5zM302 884l-1.5 3.5-1.5 9.5 1.5 11 1.5 3.5 1.5-3 1.5-9-1-10zM814 868l-2 1.5 0 1 1 1.5 1.5.5 1.5-1 .5-2zM555 859l-2 4.5-1 5 0 4.5 2 8.5 1.5 1 2-4.5 1-5 0-4.5-1.5-7-1-2zM208 858l-2 13 1 8.5 1 4 .5 0 2-13-1-9-1-3.5zM125 857l-1 2.5-1 7 0 7.5 1 7.5 1.5 2.5 1.5-7.5.5-7.5-1-8.5-1-3.5zM338 857l-2 2.5-3.5 11.5 4 11.5 1 1.5 2 0 4-9 1-4 0-4-4-9-1-1zM88 841l.5 0 0 .5-.5 0zM588 832l-2.5 7-.5 5.5 2 8 1 1.5 1 0 2.5-6.5.5-6.5-2-7.5-1-1.5zM237 830l-1.5 6-.5 10 1 7 1.5 3 1.5-6 .5-10-1-7zM149 830l-1 3-1 10 1 10 1 3.5 1-3 1-9.5-1-11.5zM376 829l-2 0-2.5 3-4 11 .5 6 4 6 2.5 2 1.5-.5 1.5-2 4.5-11.5 0-6zM111 805l-1.5 8.5 0 5 1.5 8.5 1.5-8 0-6.5zM622 804l-1.5 2-2.5 10 2 8.5 1 2 1.5 1 2-3 2-8.5-2.5-10zM267 803l-2 9.5 0 8 1 6.5 1.5 2.5 2-9 0-8-1.5-8.5zM173 803l-1 2-1 6.5 0 9.5 1.5 8.5 1.5-3 1-8.5-.5-8zM405 802l-3 4.5-3.5 10 0 6 4 5.5 2.5 2.5 1.5 0 2.5-3 4-11 .5-6.5-1.5-3-5-5zM495 779l-2.5 5.5-.5 6 2 5.5 1.5 1 1.5-2 1.5-7-2-8zM436 777l-2.5.5-2 2-3.5 7.5-1 5 .5 4 5.5 4 2 0 2.5-2.5 4-9 0-7.5-2-2.5zM656 777l-1.5 2.5-2 7 0 5 2 7.5 1 2 1.5.5 2.5-5 1.5-8-2.5-9.5-1.5-2zM197 777l-1.5 9 0 6 1 7.5 1 2 1.5-7.5 0-10-1-6zM131 776l-1 2.5-1 9.5 1.5 13 1-1 1-8.5 0-6zM296 776l-1.5 5.5-1 8 1.5 10 1.5 3 1-2 1-5.5.5-8-2-10.5zM97 756l-1.5 4.5.5 4.5 1 2 1.5-5zM461 756l-1.5 0-2.5 5 0 3.5 1.5 1.5 1.5-.5 2-3 0-4.5zM692 750l-1 .5-1 2-2 8 1 8 2.5 5.5 2-2 2.5-10-1.5-7zM513 749l-2 4-1.5 6 0 5 2 8 1 2 1.5.5 2.5-5 1.5-6.5 0-3-2-8-1-2zM221 749l-1 3.5-1 10 1.5 11.5 1 1 1.5-9 0-8-1-7.5zM150 749l-1.5 8 0 10 1.5 8.5 1-3.5 1-9.5-1-10.5zM325 748l-1.5 2.5-1.5 8 0 6 2 9.5 1 1 1.5-3.5 1.5-9.5-1.5-10.5zM726 724l-2 5-1 6.5 2 8.5 2 2 1.5-2.5 1.5-6 0-5-2-7.5zM117 724l-1.5 10 .5 8 1 3.5 1-7 0-7.5zM536 722l-1.5 4.5-1 10 2 11 1 .5 1.5-4.5 1-10.5-2-10.5zM352 721l-2.5 10 0 7 1.5 7.5 1 2 1 0 2-7 .5-9-2-9.5zM245 721l-2 11 .5 9.5 1.5 6 1-2.5 1-7.5-.5-11zM171 721l-1 2.5-1 10 1 11.5 1 2.5 1.5-9.5 0-7.5zM764 696l-2 2-2 7.5 1 8 2 4.5 1 0 1.5-2.5 1.5-6.5-.5-6.5zM562 696l-1 1.5-1 6 0 8 1 6 1 2 2-8.5-.5-10.5zM268 694l-1.5 9 0 8.5 1 7 1 2 1.5-7 .5-7.5-1.5-11zM190 694l-1.5 9.5 0 7 1.5 10 1-2.5 1-10-1-11.5zM134 694l-1.5 9 .5 14 1 3.5 1-7 0-13zM381 694l-1 .5-1 2-1.5 7.5.5 10 1.5 6 1 1 2-4 1.5-9-1.5-10zM798 670l-1.5 2.5-1.5 6.5 0 3 1.5 6.5 1 2 1.5.5 2.5-8 0-5-1.5-6-1-2zM590 668l-2 9 0 6 1 6.5 1.5 2.5 2-9 0-6-1-6.5zM406 668l-1 0-1.5 2-3 9.5 0 2 2.5 8 2 3 2-1.5 3-8.5 0-7.5-2-4.5zM291 667l-1 3-1 11 1 9 1.5 3 1.5-8.5 0-9-1-7zM209 667l-1.5 10.5 0 5 1 8.5 1 2 1.5-10.5 0-5-1-9zM150 667l-1.5 12.5 1.5 14 1.5-10.5-.5-11zM121 644l-1 5.5 0 8 1 5 1-6.5 0-5.5zM835 643l-1.5 2-1.5 6 0 4.5 2.5 8 1 0 1.5-3 1.5-7-1.5-7.5zM433 642l-2.5 1-4 10 .5 5.5 4 4.5 1 0 1.5-1.5 3.5-8.5-.5-7.5zM618 640l-1.5 4.5-1 9.5 2 11 1 .5 2-9 0-7.5-1.5-8zM167 640l-1 8 0 9.5.5.5 0 5 .5 2.5.5 0 1-8 0-9.5-.5-.5 0-5-.5-2.5zM314 640l-2 11 .5 9.5 1.5 6 1-2.5 1-7.5-.5-11zM229 640l-1.5 7.5 0 11.5 1.5 7.5 1.5-8.5 0-9.5zM455 621l-2.5.5-2 3.5-.5 3 1.5 3 1.5 0 3-4.5 0-4zM136 616l-1 5.5 0 9.5 1 5.5 1-7 0-7zM646 613l-1.5 4.5-1 10.5 2 10.5 1 .5 2.5-13-1.5-10zM337 613l-1.5 9 0 8.5 1 7 1 2 1.5-7 .5-7.5-1.5-11zM249 613l-1.5 10 0 6 1.5 10.5 1-3 1-10-1-11zM185 613l-1.5 10.5.5 11.5 1 4 1-7.5 0-11zM515 587l-1 1.5-1.5 7 0 8 2 6 1-.5 2-10-1-8.5zM150 587l-1 6.5 0 10 1 6.5 1-5.5 0-12zM676 586l-1 .5-2 10 .5 8.5 2 7 1.5-3 1.5-9.5-1-8.5zM359 586l-1.5 6.5-.5 8.5 1 8 1.5 3 1.5-6.5.5-8.5-1-8zM268 585l-1.5 7.5 0 11.5 1.5 7.5 1.5-8.5 0-9.5zM202 585l-1.5 13.5 1.5 13 1.5-11.5-.5-10zM707 572l-5 0 .5 7 1.5 5 1-.5zM535 572l-4 0 1 10 1 3 1-3zM384 572l-3 0 .5 7.5 1 3zM289 572l-2.5 0 0 5 1 5.5 1-3zM219 572l-2 0 1 10.5zM167 572l-2 0 1 9 1-4.5z"/>
<path fill-rule="evenodd" fill="#60ff9f" d="M224 944l-1 7.5 2.5 0-.5-6zM834 944l-1.5 3-1 5 6 0-1.5-6.5-1-1.5zM389 939l-2 2.5-3 10 11 0 0-4-4-7zM118 939l-1.5 5-.5 7.5 3.5 0 0-5zM263 916l-2 6.5 0 5 1 4.5 1.5 2 2-6.5 0-5-1.5-6zM497 915l-3 3.5-2.5 6.5 3 7 2 2 1.5 0 3-4.5 1-3 0-3-2-6-1.5-2zM148 915l-1.5 9.5 1.5 10.5 1.5-8-.5-8.5zM431 913l-2 .5-2.5 3-2.5 6-1.5 6 .5 2 6 5.5 2.5-.5 5-10.5-.5-8.5-2-2zM766 897l.5 1 2-.5zM100 889l-2 3.5-1.5 5.5 2 6.5 2.5 2.5 3-5.5.5-5.5-2.5-6.5zM459 888l-2 0-1.5 1.5-3 6.5.5 3.5 3.5 3 2.5-2 1-2.5zM522 885l-2.5 3.5-2.5 9 2.5 9.5 1 2 1.5 1.5 1 0 3-4.5 2-9.5-3.5-10.5-1-1zM178 885l-1 1.5-1.5 9.5.5 7 1.5 6.5 1-.5 2-11-1-8.5zM302 885l-1.5 3.5-1 6.5.5 9.5 1 4.5 1 1.5 1.5-3 1-6-.5-11zM813 870l.5.5 2-.5-1-.5zM555 860l-1.5 3-1.5 8.5 2 8.5 1.5 1.5 1.5-3 1.5-8.5-2-8.5zM208 859l-1.5 8 0 7.5 1 6.5 1 1.5 1.5-8 0-7.5-1-6.5zM125 858l-1.5 6.5-.5 8.5 1 7.5 1.5 3 1.5-8 0-9.5-1-6zM339 857l-2 2-3.5 11 2.5 9 1.5 3 1.5 1 1.5-1 1.5-3 2.5-8 0-4.5-3.5-8zM588 833l-2.5 7.5 0 5 2.5 7.5 1 0 1.5-3 1.5-7.5-2-8-1-1.5zM237 831l-1.5 6-.5 7.5 1 7.5 1.5 3 1.5-6 .5-7.5-1-7.5zM149 831l-1.5 8.5 0 8.5 1.5 8 1.5-7 0-10.5zM375 830l-2.5 2-4.5 11.5.5 5.5 3.5 5.5 2.5 2 1.5-.5 1.5-2 4-10.5-.5-6.5-3-4.5zM111 806l-1.5 9.5 1.5 10.5 1.5-8.5-.5-8zM622 805l-2 3.5-1.5 8.5 2 7.5 2 2 2.5-5 1-6.5-2-8zM267 804l-1.5 6-.5 9 1.5 8.5 1 1 2-9.5 0-5-1-7zM173 804l-1 2-1 7 0 6.5 1.5 9 1-1 1.5-11zM405 803l-2.5 3.5-3.5 9.5 0 6 3.5 5 2.5 2.5 1.5 0 1.5-1.5 2-4 2.5-7 0-7.5-5.5-6.5zM496 782l-1.5.5-2 6 1.5 6 1 1 1.5-1 1.5-5-1-5.5zM436 778l-1.5 0-2.5 2-4 8.5 0 6.5 5 4 2 0 2-2 4-8.5-.5-7.5zM656 778l-2 4-1.5 8 2 8 2.5 2.5 2.5-5.5 1-7-2.5-9zM198 777l-1 2.5-1 7.5 1.5 13 1-1 1-7 0-7zM131 777l-1 2.5-.5 4.5 0 9.5 1 6.5 1-1.5 1-8.5zM296 777l-2 9 0 6.5 1.5 8 1 1 1.5-4.5 1-8.5-2-11zM97 758l-1 2 0 3 1 2 1-2.5zM460 758l-2 1.5-1 2.5 1 2.5 1 0 2-2.5zM692 751l-1 .5-1 2-2 8.5 1.5 7 2 4 2-2 2-8-1.5-8.5zM513 750l-2 3-2 9 2 8.5 1 2 1.5 1 2-3.5 1.5-6.5 0-4-2-7.5zM325 749l-1.5 2.5-1.5 8.5 1.5 11.5 1.5 2.5 1-2 1.5-7.5 0-6-1.5-7.5zM221 749l-1.5 8 0 9 1.5 8 1-2.5 1-7.5-.5-9.5zM150 749l-1.5 8.5 0 8 1.5 8.5 1.5-7.5 0-10zM117 725l-1 4 0 11 1 4 1-7.5zM726 725l-2 5.5-.5 6.5 2 7 1.5 1 2-4.5 1-6.5-1.5-6.5-1-2zM536 723l-1 2-1.5 10 2 11.5 1 .5 1-2 1.5-10-2-11.5zM352 722l-2 7-.5 7 1.5 8 1 2.5 1 0 2-7.5.5-6-2-10zM245 722l-1 3-1 8.5 1 10 1 3 1-2.5 1-8-.5-8zM171 722l-1 2.5-.5 4.5 0 11 1.5 6.5 1.5-10-.5-9.5zM763 697l-1.5 2-1.5 5.5 0 5 1 4.5 1.5 3 1 0 1-1.5 2-8-1.5-7.5zM562 697l-1 2-1 6 .5 9 1.5 4.5 2-9-.5-7.5zM268 695l-1.5 9.5 0 5.5 1 7.5 1 2 1.5-7.5 0-9.5-1-6.5zM191 695l-1 1.5-1 8.5.5 9.5 1 5 1-2.5.5-4.5 0-11zM134 695l-1.5 9.5.5 11 1 4 1-7 0-10.5zM380 695l-1.5 2.5-1.5 8 0 4 2 9.5 1.5 1 2-7 .5-8-1-6zM798 671l-2 4.5-.5 7.5 1.5 5.5 1.5 1.5 2-4 1-6.5-2-7.5zM590 669l-1.5 5.5-.5 7 1.5 8.5 1 1 1.5-5.5.5-7-1-7zM406 669l-2 1-3 9 .5 5 1.5 4.5 2 3 2.5-2.5 2.5-8-.5-6-1.5-3.5zM209 668l-1.5 12.5 1 9.5 1 2 1.5-13-1-9.5zM291 668l-1.5 7.5 0 10 1 6 1 1 1.5-9 0-6-1-7.5zM150 668l-1 6 0 13 1 6 1.5-11.5zM121 645l-1 5.5 1 10.5 1-7zM835 644l-1 1-2 7.5 1.5 8 1.5 2 1.5-2 1.5-6-1-7zM433 643l-2.5 1-3.5 8.5.5 5 3.5 4.5 1 0 1.5-1.5 3-7.5-.5-6.5-1-2zM618 641l-1 2-1 6 0 7.5 1.5 7.5 1 .5 1.5-6 .5-8-1.5-8.5zM167 641l-1 15 .5.5 0 5.5.5 3 .5 0 1-15.5-.5-.5 0-5.5-.5-2.5zM314 641l-1 3-1 8.5 1 10 1 3 1-2.5 1-8-.5-8zM229 641l-1.5 8 0 8.5 1.5 8 1.5-9 0-6.5zM455 622l-1.5 0-2 3 0 3 1.5 1.5 1.5-1 1.5-2.5 0-2zM136 617l-1 6 0 6.5 1 6 1-7.5zM646 614l-1.5 4.5-1 8 2 11 1 .5 2-9 0-5.5-1-6.5zM337 614l-1.5 9.5 0 5.5 1 7.5 1 2 1.5-7.5 0-9.5-1-6.5zM249 614l-1.5 10.5 1.5 14 1.5-7.5 0-10-.5-4.5zM185 614l-1.5 11 .5 9 1 4.5 1-8.5 0-8zM515 588l-1 1.5-1.5 7.5.5 7.5 1.5 4 1-.5 1.5-7 0-6.5zM150 588l-1 7 0 7 1 7 1-6 0-9.5zM676 587l-1 .5-2 10.5 1 8.5 1.5 4.5 1-1 1.5-8 0-6zM359 587l-1.5 6.5-.5 6 1.5 10.5 1 1 2-12.5-1-8.5zM268 586l-1.5 8 0 9 1.5 7.5 1.5-9 0-6.5zM202 586l-1 6.5 0 12 1 6 1.5-12zM702 572l1 8.5 1.5 2.5 1.5-4.5.5-6.5zM535 572l-3 0 0 5 1.5 7 1-3zM384 572l-3 0 1.5 9.5zM287 572l.5 7.5 1 1.5 1-9zM219 572l-2 0 1 9.5zM167 572l-1.5 0 .5 8z"/>
<path fill-rule="evenodd" fill="#40ffbf" d="M224 946l-1 6 2.5 0-.5-4.5zM834 945l-1.5 2-1 5 5.5 0-1-4zM389 940l-1.5 1.5-3.5 10 10.5 0 0-4-3.5-6zM118 940l-1 2-1 9.5 3.5 0-.5-7.5zM263 917l-1.5 4-.5 4.5 1 5 1.5 1.5 1.5-4 .5-4.5-1-5zM497 917l-4 8 2.5 6 1.5 1.5 1.5 0 2.5-3.5 1-5-2-5.5-1.5-1.5zM148 916l-1 4.5 0 9 1 4.5 1.5-9zM431 914l-2 0-2 2-4 9 .5 5.5 5 4.5 2.5-.5 4.5-9.5-.5-7.5-1.5-2zM457 890l-2 1.5-2 5 .5 2.5 2 1.5 1 0 2-2.5-.5-6zM101 890l-2 1.5-2 6 1.5 5.5 1.5 2.5 1 0 1.5-1.5 2-6-1.5-5zM522 886l-2 2.5-2.5 9.5 2.5 9 2 2.5 1 0 2.5-3.5 2-7 0-3-3-9-1-1zM178 886l-1 1.5-1.5 10 1 7.5 1.5 4 2-8.5 0-6.5-1-6zM302 886l-1.5 4-1 6.5 1 9.5 1.5 3.5 1-1.5 1.5-8-.5-8-1-4.5zM555 861l-2 5-.5 7 1.5 6 1.5 1.5 2-5 .5-7-1.5-6zM208 860l-1 4-.5 9 1 7 1 1.5 1-4 .5-9-1-7zM125 859l-2 12 1 8.5 1.5 3 1.5-8.5 0-6.5-1-6.5zM339 858l-1.5.5-2 4-2 7 0 2 2 6.5 2.5 4 2-1 3.5-9.5 0-5-3-7zM589 834l-2 2-1.5 6 .5 4.5 2 5.5 1 0 2.5-7.5-.5-5.5zM238 832l-1.5 3.5-1 8 2 11.5.5 0 1-3.5 1-8zM149 832l-1.5 8.5 0 6 1.5 8.5 1.5-7.5 0-8zM374 831l-2 2-4 10 0 4 3.5 6.5 2 2 1.5 0 2-2.5 3.5-9.5-.5-6-2.5-4-2-2zM111 807l-1 4.5 0 8.5 1 5 1-4 0-10zM622 806l-2.5 5.5-.5 6.5 1.5 5.5 2 2 2-3.5 1-4 0-4-2.5-7.5zM267 805l-1 3-1 9.5 1 7 1.5 3 1-3 1-9-1-7.5zM173 805l-1 2-1 7.5 1.5 13 1-1 1-6.5 0-7.5zM405 804l-2.5 3.5-3 8.5 0 5 4.5 7 2.5.5 3-4.5 2.5-7 0-6.5-2-3.5-3-3zM496 784l-2 3.5 0 3 1.5 3 1 0 1.5-4-.5-3zM435 779l-2.5 2-3.5 7.5 0 5 1 2 4 2.5 3-1.5 4-8-.5-6-2.5-3zM656 779l-2.5 6-.5 6 2 7 2 1.5 1.5-2.5 1.5-5.5 0-4.5-2.5-7.5zM198 778l-1.5 6 0 9.5 1 5.5 1-1 1-7-.5-9zM131 778l-1.5 7.5 0 6.5 1.5 7.5 1-5.5 0-10.5zM297 777l-1 1.5-1.5 8.5.5 7 1.5 6 1-.5 1.5-7.5 0-6.5zM460 761l-1-.5-1 1 1.5.5zM97 760l-1 2 1 2 .5-1zM692 752l-1.5 1.5-2 7.5 1 6.5 2 4.5 1.5-1 2-7-.5-6.5-1.5-4.5zM513 751l-2.5 5-1 7 2 7.5 2 2 2.5-5.5 1-6-2-8zM324 750l-2 8 0 7 1 5.5 1.5 2.5 2-6.5.5-6.5-2-9.5zM221 750l-1.5 8.5 0 6 1.5 8.5 1-2.5 1-8-.5-7zM150 750l-1.5 9 .5 10 1 4 1.5-8 0-7zM117 726l-1 4 0 8.5 1 4 1-8zM727 726l-1 0-1 2-1.5 6.5 1 5.5 2 4 2-3 1-4-.5-6.5zM536 724l-2 8 0 5.5 1 6.5 1.5 2.5 1.5-5.5.5-8.5-1.5-8zM353 723l-1 0-1 2.5-1.5 8.5 1 7 2 5 1-1.5 1.5-7 0-6.5zM245 723l-1.5 7 0 8.5 1.5 7 1-2.5 1-8.5-1-9zM171 723l-1.5 7 0 8.5 1 7 1-1.5 1-9zM763 698l-1 1-2 7 .5 4.5 2 5.5 1 0 1-1.5 1.5-6-1-7zM562 698l-1 2-1 6.5 1 9 1 2 1-2.5 1-7.5-1-7zM268 696l-1.5 12.5 1 8 1 2 1.5-8 0-7-1-6.5zM191 696l-1 1.5-1 9 1.5 12 1.5-7 0-8.5zM381 696l-1 .5-1 2.5-1.5 8.5 2.5 11.5 1 0 2.5-10.5-.5-5.5zM134 696l-1.5 10.5.5 8.5 1 4 1-7.5 0-8zM798 672l-1.5 3-1 6.5 1.5 6 1.5 1.5 1.5-2.5 1-4 0-4-1.5-5.5zM590 670l-2 10 1 7 1.5 3 2-10-1-7zM406 670l-1 0-1.5 2-2.5 8.5 2 7 2 3 2-1.5 2.5-7.5-.5-6.5zM209 669l-1 6 0 10 .5 4 1 2 1-6 0-10-.5-4zM291 669l-1.5 8 0 7 1.5 8 1-2 1-8-1-11zM150 669l-1 6.5 0 10 1 6.5 1-5.5 0-12.5zM121 646l-1 6 1 7.5.5-2zM836 645l-1 0-2 6 .5 6 2 4 1.5-2 1-4 0-4.5zM433 644l-1.5 0-1 1-3 7.5.5 5 3 3.5 1 0 1.5-1.5 2.5-6-.5-6.5zM618 642l-1.5 5-.5 8 1.5 8 1 .5 1-3 1-8.5-1-7zM314 642l-1.5 7 0 8.5 1.5 7 1-2.5 1-8.5-1-9zM229 642l-1.5 8.5 0 6 1.5 8 1.5-9.5-.5-8.5zM167 642l-1 13 .5.5 0 6 .5 3 .5 0 1-13-1-9.5zM454 624l-2 1-.5 1 .5 2 2-.5.5-1zM136 618l-1 6.5 1 9.5 1-7.5zM646 615l-2 8 0 6 1.5 7.5 1 .5 1-3 1-9-1-7zM249 615l-1 1.5-.5 4 0 11.5 1 5.5 1.5-7.5 0-7.5zM185 615l-1 4.5 0 13.5 1 4.5 1-8.5zM337 614l-1 2.5-1 8 1 10.5 1 2 1.5-8 0-7zM515 589l-1 1.5-1.5 8 1 7 1 2 1-.5 1.5-7.5-.5-6.5zM150 589l-1 7.5 1 11.5 1-6 0-7zM675 588l-1 2-1 5.5 0 6.5 1.5 7.5 1 .5 1.5-6 .5-7-1.5-8zM359 587l-1.5 7.5 0 8 1 6 1 1 1.5-7 0-8-1-6zM268 587l-1.5 8.5 0 6 1.5 8.5 1.5-10-.5-8.5zM202 587l-1 7 0 9 1 7 1-5.5 0-12zM702 572l1 7 1.5 3.5 1.5-5 .5-5.5zM535 572l-3 0 .5 7.5 1 4 1-3.5zM381 572l1.5 8 1-4 0-4zM289 572l-2 0 1 8 1-3zM219 572l-2 0 1 8zM167 572l-1.5 0 .5 7z"/>
<path fill-rule="evenodd" fill="#20ffdf" d="M224 947l-1 5 2.5 0-.5-3.5zM834 946l-1 1-1.5 5 5 0-1-4zM389 941l-1.5 1.5-3 9 9.5 0 0-4-3-5zM118 941l-1 2-1 8.5 3.5 0zM497 918l-1.5 1.5-2 5.5 2 4.5 1 1 1.5 0 2.5-3.5.5-3.5-2-4.5zM263 918l-1.5 4 0 5 1 3.5 1 .5 1.5-4 0-5-1-3.5zM148 917l-1 5 0 6 1 5 1-4 0-8zM431 915l-3 .5-2 3-2.5 6.5 0 4 4.5 5 2 0 1.5-1.5 3.5-7-.5-7zM456 893l-1.5 2.5.5 2.5 2-.5zM100 891l-1.5 2.5-1 4.5 2 5 2 .5 1.5-2.5 1-4-2-5zM178 887l-1 1.5-1 6 .5 9 1.5 4.5 2-8.5-.5-8zM523 887l-2.5 2-2.5 8 1.5 8 2.5 4 1 0 1.5-1.5 3-9.5-2.5-8.5zM302 887l-1.5 4-1 7 1.5 9 1.5 1.5 2-11.5-1-6.5zM555 862l-1.5 3.5-1 5.5 1.5 7 1.5 1.5 1-1.5 1.5-8-1.5-6.5zM208 861l-1.5 10.5 1 7.5 1 1.5 1.5-11-1-7zM125 860l-1.5 7 0 7.5 1 6 1 1 1-4.5.5-8-1-7zM338 859l-3.5 8-.5 5 3 8 2 1 3.5-7 .5-7.5-2.5-6-1.5-1.5zM588 835l-2 4-.5 6 1 4 2 2 2.5-8-1.5-6zM237 833l-1.5 7.5 0 6.5 1 5.5 1 1.5 1.5-7.5 0-6-1-6zM149 833l-1.5 9 .5 8 1 4 1.5-8-.5-9.5zM373 832l-2.5 4.5-2 6 0 3.5 3 6 2 2 1.5 0 2-2.5 3-8 0-4-2.5-5.5-2.5-2.5zM111 809l-1 4.5 0 5.5 1 5 1-4 0-7zM622 807l-2 4-1 5.5 2 7 1.5 1 1-1 2-8-1.5-6-1-2zM267 806l-1 1-1 5.5 0 7.5 1.5 7 1-1.5 1-5.5 0-7.5zM173 806l-1.5 10.5 1 8 1 2.5 1.5-8 0-5-1-7zM406 804l-2.5 1.5-4 9.5.5 6.5 3 4.5 2 1.5 2.5-2 3.5-8.5-.5-8zM495 786l-1 3 .5 1.5 1.5.5 1-2.5-1-2.5zM437 780l-2 0-2 1.5-3.5 7 .5 5.5 3.5 3 1.5 0 2-1.5 3.5-7-.5-5-1-2zM656 780l-2 4.5-1 5 2 7.5 2 1.5 1.5-2.5 1.5-7.5-1.5-6-1-2zM198 779l-1.5 6 0 7.5 1 5.5 1-1 1-7.5zM131 779l-1.5 7.5.5 9 1 3 1-5.5 0-8.5zM297 778l-1.5 3.5-1 7 2 10.5 1-.5 1.5-8-.5-7.5zM96 761.5l.5 0 0 .5-.5 0zM692 753l-1.5 1.5-1.5 5.5.5 6.5 2 4.5 1.5-1 2-7.5-1-5.5zM513 752l-2 3.5-1 4 0 4 1 4.5 1.5 3 1.5 0 2-5.5.5-5.5-2-7zM324 751l-1.5 5-.5 7.5 1 6 1.5 2.5 1.5-4 1-6.5-2-10zM221 751l-1.5 9 1.5 12 1.5-6 0-9zM150 751l-1.5 9.5 1.5 11.5 1.5-8.5-.5-9zM117 727l-1 4.5 0 5.5 1 4.5.5-2.5zM727 727l-1.5 1-1.5 5.5 0 3 2 6 1.5-.5 2-6.5-1-5.5zM536 724l-1.5 5.5-.5 6 1.5 8.5 1 1 1-3 1-9-1.5-8zM245 724l-1.5 7.5 0 6 1.5 7.5 1.5-6.5 0-8zM171 724l-1.5 7.5.5 10.5 1 3 1-6 0-9.5zM353 724l-1.5 3-1 5.5.5 8 2 5 1-1.5 1.5-7.5-.5-6.5-1-4.5zM763 699l-1 1-1.5 5 0 4 2 6 1 0 1-2 1.5-6-1.5-6zM562 699l-1.5 5 0 7.5 1.5 5 1.5-6 0-6zM380 697l-2 8.5 0 4.5 2 8 1 0 2-7.5 0-6-2-7.5zM269 697l-1.5 6 0 9.5 1 5.5 1-1 1-7.5-.5-8.5zM190 697l-1 5.5 0 10 1 5.5 1.5-7.5-.5-10.5zM134 697l-1 4.5 0 12.5 1 4 1-8zM798 673l-2 5.5 0 4 1 3.5 1.5 2 2-4.5.5-3.5-1-4.5-1-2zM590 671l-1.5 6.5 0 5 1 5.5 1 1 1.5-6.5 0-5-1-5.5zM406 671l-2 1-2.5 7.5 1.5 7 2 3 2-1.5 2-5.5-.5-7.5zM291 670l-1.5 8.5.5 8.5 1 4 1-2.5 1-8-1-8.5zM209 670l-1 6.5 0 8 .5 4 1 2 1-6 0-8-1-6.5zM150 670l-1 6.5 0 8 1 6.5 1-5.5 0-10zM121 648l-.5 1 .5 10 .5-2.5zM835 646l-2 7 1 4.5 1 2 1 0 1.5-3.5.5-4-2-6zM433 645l-2 .5-3 6.5.5 5 2.5 3 1 0 1.5-1.5 2-5 0-4.5-1-2.5zM618 643l-1.5 5-.5 5.5 1.5 8.5 1 .5 1.5-6.5 0-6.5-1-5.5zM314 643l-1.5 7.5 0 6 1.5 7.5 1.5-6.5 0-8zM229 643l-1.5 8.5.5 8.5 1 4 1.5-10.5zM167 643l-1 10.5 1 10 .5 0 1-10.5-1-10zM453 625.5l.5 0 0 .5-.5 0zM136 619l-1 7 1 7 .5-2zM646 616l-1.5 5-.5 6.5 1.5 8 1 .5 1.5-6 0-7.5-1-5zM337 615l-1.5 6 0 9.5 1 5.5 1-1 1-7.5-.5-8.5zM249 615l-1 6 0 9 1 6 1.5-8-.5-9.5zM185 615l-1 5 0 11 1 5 1-9zM515 590l-1 1.5-1 5 0 4.5 1.5 5.5 1-.5 1-4.5 0-7zM150 590l-1 8 1 9 1-6.5zM675 589l-1.5 4.5-.5 7.5 1.5 7.5 1 .5 2-10.5-1.5-8.5zM359 588l-1.5 8 0 5 1 6.5 1 1.5 1.5-8 0-5-1-6.5zM268 588l-1.5 9 .5 8 1 4 1.5-10.5zM202 588l-1 7 0 6.5 1 7.5 1-6 0-9zM706 572l-4 0 .5 6 1.5 3.5 1-2.5zM535 572l-3 0 1.5 10.5 1-3.5zM383 572l-2 0 0 3.5 1 3.5zM289 572l-2 0 1 7 1-3.5zM219 572l-1.5 0 .5 7zM167 572l-1.5 0 .5 5.5z"/>
<path fill-rule="evenodd" fill="#00ffff" d="M224 948l-.5 4 1.5 0 0-2zM834 947l-1.5 4.5 4 0-1-4zM389 942l-1.5 1.5-2.5 8 8.5 0 .5-.5-.5-3-3-5.5zM118 942l-1 2.5-.5 7 3 0zM497 920l-3 5 2 4 2 .5 1.5-1.5 1-3.5-1.5-3.5zM263 919l-1.5 6.5 1 4 1 .5 1.5-6.5-1-3.5zM148 918l-1 5.5 1 8.5 1-4.5 0-5zM430 915l-2.5 1.5-3.5 7.5.5 5 4.5 4 2.5-2 3-6 0-4-1-3.5-2-2zM100 893l-1.5 2.5-.5 3 1.5 3.5 1.5 1 2-3 .5-2.5-1.5-4zM177 888l-1.5 11 1 6 1 2 1-2.5 1-7.5-1.5-8.5zM523 888l-1 .5-2 4-1 3.5 0 4 2.5 7 1 1 1.5 0 2.5-5.5 1-5.5-2-6.5zM302 888l-1.5 4-.5 8.5 1 5.5 1.5 1.5 1.5-6.5 0-6.5-1-5zM555 863l-1.5 3.5-.5 6 1.5 5.5 1 .5 1.5-3.5.5-6-1.5-5.5zM208 862l-1 4.5 0 8.5.5 3 1 1.5 1-4.5 0-8.5-.5-3zM125 861l-1 3.5-.5 8.5 1 6.5 1 1 1.5-10-1-7.5zM338 860l-2 3.5-2 7 3 8.5 2 1 2.5-4 1.5-5 0-2.5-2.5-7-1.5-1.5zM588 836l-1 1-1.5 5.5.5 3.5 2 4 1.5-2 1-4-1-6zM237 834l-1.5 7.5 0 4 1 6 1 1.5 1.5-7.5 0-4-1-6zM149 834l-1.5 9.5 1.5 9.5 1.5-8.5-.5-7zM374 833l-3.5 6.5-1 3 0 4 3.5 6.5 2.5.5 2-2.5 2.5-6.5 0-4.5-2-4.5-2.5-2.5zM111 810l-1 5 1 8 1-4.5 0-4.5zM622 809l-2 6 0 3 2 5.5 1 .5 2-4 .5-5-2-6zM267 807l-1.5 7 0 5 1 5.5 1 1.5 1.5-7 0-5-1-6zM173 807l-1 5.5 0 8 1.5 5.5 1.5-10.5-1-7.5zM406 805l-1 0-1.5 1.5-3.5 8.5.5 6 2.5 4 2 1.5 1.5-.5 1-1.5 3.5-9-1-6-2-3zM496 789l-.5-.5-.5 1zM437 781l-2 0-2 1.5-3 6 .5 4.5 3 3 1.5 0 2-1.5 3-6-1-5.5zM656 781l-1.5 3-1 6.5 2 6 1.5 1 2-4.5.5-5.5-2-6zM198 780l-1.5 6.5.5 8.5 1 2.5 1-5 0-8zM131 780l-1.5 8 1.5 9.5 1-6 0-5.5zM297 779l-1 1.5-1 5.5 0 5.5 1 5.5 1 1.5 2-9.5-1-7.5zM692 754l-2 3-1 4.5 1 5.5 1.5 3 1-.5 2-6-.5-5.5zM514 753l-1 .5-2.5 7.5 1 5.5 1.5 3.5 2-1 2-7.5-1.5-6zM324 752l-2 10 1.5 8 1 1 1.5-4 .5-7.5-1.5-7zM221 752l-1.5 9.5 1.5 9.5 1.5-6 0-7zM150 752l-1 4.5 0 10 1 4.5 1.5-9-.5-6.5zM117 729l-1 4.5 1 7.5.5-3zM727 728l-1.5 1-1.5 5.5 2 7 1.5-.5 1.5-4.5-.5-5.5zM536 725l-1.5 6 0 7 1 5 1 1 1.5-6 0-7-1-5zM170 725l-1 11 1.5 8 1-6 0-7.5-.5-4zM353 725l-1.5 3-1 5.5 1 8 1.5 3 1-1.5 1.5-8-1-6.5zM245 725l-1.5 8 .5 8 1 3.5 1.5-7 0-5.5zM763 701l-2 7 1.5 5.5 1.5 1 1.5-3.5.5-4.5-1.5-5zM562 700l-1.5 5.5 0 4.5 1.5 5.5 1.5-6.5-.5-6.5zM381 698l-1 0-2 8.5 1 7.5 1.5 3.5 1.5-3 1-5.5-.5-6zM269 698l-1.5 6 0 7.5 1 5.5 1-1 1-7.5zM190 698l-1 6 0 7.5 1 5.5 1.5-8-.5-8zM134 698l-1 4.5 0 10 1 4.5 1-8zM799 674l-1.5 2-1 4 1 5 1.5 2 2-5 0-3zM590 672l-1 3-.5 6.5 1 5.5 1 1 1.5-6.5 0-3-1-5.5zM405 672l-2.5 5-.5 5 2 5.5 2 1 2-4 1-5-2-6.5zM292 671l-1 1-1 8 1.5 10 1.5-6 0-7zM209 671l-1 12 1 7 .5 0 1-12-1-7zM150 671l-1 7 1 12 1-5.5 0-8zM121 649l-.5 1.5.5 7 .5-2zM836 647l-1.5 1-1 3.5 0 2.5 1.5 4.5 1 0 1.5-4 0-3.5zM433 646l-2 .5-2.5 5.5.5 4.5 2 2.5 1 0 1.5-1.5 2-5-1-4.5zM619 644l-1 .5-1 5 0 6.5 1.5 6 1-1.5 1-5.5 0-4zM167 644l-.5 15 .5 3.5.5 0 .5-15-.5-3.5zM314 643l-1.5 8 .5 8 1 3.5 1.5-7 0-5.5zM229 643l-1.5 9.5 1.5 10 1-5 0-9.5zM136 620l-.5 1.5.5 10 .5-2.5zM647 617l-1 .5-1.5 8.5 1 7 1 2.5 1-1.5 1-5.5 0-5zM337 616l-1.5 6 0 7 1 6 1-1 1-7.5zM249 616l-1 6.5 0 6.5 1 6 1-3 0-5 .5-.5-.5-7zM185 616l-1 5.5 0 8.5 1 5 .5-3zM515 591l-2 7 1.5 7.5 1-.5 1-5 0-3.5zM150 591l-.5 2 .5 13 1-7zM675 589l-1 2.5-1 7.5 1.5 8 1 .5 1.5-6.5 0-5.5-1-5zM359 589l-1.5 10.5 1 7 1 1.5 1-4 .5-7-1-6.5zM268 589l-1.5 9 1.5 10 1-5 0-9zM202 589l-1 7.5 1 11.5 1-6 0-7zM702 572l.5 5 1.5 3.5 1-2.5.5-6zM535 572l-2.5 0 0 5.5 1 4zM383 572l-2 0 1 6zM289 572l-1.5 0 .5 6zM218 572l-1 0 .5 6zM166 572l-1 0 .5 4.5z"/>
<path fill-rule="evenodd" fill="#00dfff" d="M224 949l-.5 2.5 1.5 0-.5-2.5zM834 948l-1 1-.5 2.5 3.5 0zM388 943l-3.5 8.5 8.5 0 0-2.5-3.5-6zM118 943l-1 2.5-.5 6 2.5 0 0-4zM498 921l-2.5 3 .5 2 1.5 1.5 1 0 2-3-1.5-3zM263 920l-1 2.5 0 4 1.5 2.5 1-2.5 0-4zM148 919l-1 5.5 1 6.5 1-4.5zM431 916l-3 1.5-3 6.5 0 4 4.5 4 2.5-2 2.5-5-.5-5.5-1-2zM100 894l-2 3 0 1.5 1 2.5 2 .5 1.5-4-1-2.5zM522 889l-2 3.5-1.5 6 2.5 7.5 1 1 1.5 0 2.5-5.5.5-5-2-6-1.5-1.5zM302 889l-1 .5-1.5 7 .5 6 1.5 4.5 2-7 0-4zM178 889l-1 2-1 6.5 1 7 1 2 1.5-5.5 0-6.5zM555 864l-1 2-1 5.5 1.5 5.5 1 .5 1-2 1-5.5-1-4zM208 863l-1 4.5 0 6.5.5 3 1 1.5 1-5 0-6-.5-3zM126 862l-1 1-1 6.5 1.5 10.5 1.5-5.5 0-7.5zM340 861l-2 .5-3 8 1.5 6.5 1.5 3 1 .5 2-2 2-6-.5-5.5zM588 837l-2 4.5.5 5 1.5 2.5 2-4 0-4zM237 835l-1.5 9 1 7 1 1 1.5-9-1-6.5zM149 835l-1 4.5 0 8 1 5 1.5-9zM374 834l-4 8 0 4.5 3 5.5 2 1 2.5-3 2-5.5 0-4.5-2.5-5-1.5-1zM111 811l-.5 1.5.5 9 1-4.5zM622 810l-2 6.5 2 6 1 .5 1.5-2.5 1-4.5-2-6zM267 808l-1.5 9.5 1 6 1 1.5 1-3.5.5-6.5-1-6zM173 807l-1.5 6 0 5.5 1.5 6 1-4.5 0-8.5zM406 806l-1 0-1.5 1.5-3 7 .5 6.5 3.5 4.5 2.5-1 3.5-8.5-.5-5-2-3.5zM436 782l-2 0-1.5 1.5-2.5 5 .5 4 2.5 2.5 1.5 0 1.5-1 3-5.5-.5-3.5-1-2zM656 782l-2.5 7 1.5 5.5 2 2 2-4.5.5-3.5-2-6zM198 781l-1.5 6.5.5 6 1 3 1-5 0-5.5zM131 781l-1 3.5 0 8.5 1 3.5 1-6.5zM296 780l-1.5 10 1 6 1 1.5 1.5-6 0-6-1-4.5zM692 755l-1.5 2-1 3.5 0 3.5 2.5 5 1.5-2.5 1-4-1-5zM513 754l-2 4-.5 5 1.5 5 1.5 1 1.5-2.5 1-6-2-6zM324 753l-1.5 5.5 0 6 1 4.5 1 1 1-2 1-7.5-1.5-7zM221 753l-1 4.5 0 8 .5 3 1 1.5 1-10.5-1-6.5zM150 753l-1 4.5 0 8 1 4.5 1-4 0-9zM117 730l-.5.5 0 8.5.5.5.5-2.5zM727 729l-2 4.5 0 2.5 1 3.5 1.5 1 1-1.5 1-4.5-1.5-5zM536 726l-1.5 6 0 5 1 5 1 1 1.5-6.5 0-4.5-1-5zM353 726l-1 1.5-1 4.5 0 6 1.5 5.5 1.5-1.5 1-4.5-.5-8zM245 726l-1.5 8.5 1.5 9 1.5-7-.5-7.5zM171 726l-1.5 8.5 1.5 9 1-6zM764 702l-1 0-1.5 4 .5 5 1.5 2.5 2-4 0-4zM562 701l-1.5 5.5.5 5.5 1 2.5 1.5-6.5zM269 699l-1.5 6 .5 9 1 2.5 1-4.5 0-8.5zM190 699l-1 6 1 11.5 1.5-8.5zM134 699l-1 4.5 0 8 1 4.5.5-2.5zM380 698l-2 6 0 6 1 4.5 1 1.5 1.5-3 1-5.5-1-6.5zM799 675l-2 4 0 3 1.5 3.5 1 0 1.5-5zM590 673l-1.5 7 1 6 1 1 1.5-7-1-6zM406 672l-2 2.5-1.5 5 1 4.5 2 3 1.5-.5 2-5.5-.5-5.5zM291 672l-1 4.5 0 8 .5 3 1 1.5 1-6-.5-9zM209 672l-1 10 1 7 .5 0 1-10-1-7zM150 672l-1 7 1 10 1-6 0-5zM121 650l-.5 2 .5 4.5.5-2.5zM835 648l-2 5 1 3.5 1 1 1-1 1-3.5-1-4zM433 647l-2 .5-2 4 0 3.5 2 3 1 0 1.5-1.5 1.5-3.5-.5-3.5zM618 645l-1.5 6 0 4.5 1.5 6 1-1.5 1-6-1-7.5zM167 645l-.5 13 .5 3.5.5 0 .5-13-.5-3.5zM314 644l-1.5 8.5 1.5 9 1.5-7.5-.5-7zM229 644l-1 4.5 0 9 1 4 1-5 0-7zM136 621l-.5 1.5.5 8 .5-2.5zM647 618l-1 .5-1 5 0 5.5 1.5 5.5 1-1.5 1-5.5zM337 617l-1.5 6 .5 9 1 2.5 1-4.5 0-8.5zM249 617l-1 6.5 1 10.5 1-3.5 0-10zM185 617l-1 5.5 0 6 1 5.5.5-3zM515 592l-1.5 4 0 5 1 3.5 1-1 1-5zM150 592l-.5 2.5.5 10.5.5-1.5zM675 590l-1.5 5.5 0 6 1 4.5 1 .5 1.5-6.5 0-3-1-5.5zM359 590l-1.5 8.5 1 7 1 1.5 1.5-8.5-1-7zM268 590l-1 4.5 0 9 1 4 1-5 0-7zM202 590l-1 8 1 9.5 1-6.5zM702 572l1 6 1 1.5 1.5-7.5zM534 572l-2 0 0 4 1 4.5 1-4zM383 572l-2 0 1 5zM289 572l-1.5 0 .5 5zM218 572l-1 0 .5 5zM166 572l-1 0 .5 3.5z"/>
<path fill-rule="evenodd" fill="#00bfff" d="M224 950l0 1.5.5 0 0-1.5zM834 949l-1.5 2.5 3 0zM118 944l-1 7.5 2.5 0-.5-6zM389 944l-2 3-1.5 5 7.5 0-.5-4-1.5-2.5zM497 923l-1 2 2 1 1-2zM263 922l-1 3.5.5 2 1 .5 1-3.5-.5-2zM148 920l-.5 1.5.5 8 1-5zM431 917l-1.5 0-1.5 1.5-2.5 5 0 4 3.5 3.5 2-.5 3-5-.5-5.5-1-2zM100 895l-1 3 2 2 1.5-3-1-2zM522 890l-2 3.5-1 5.5 2 6 1 1 1.5 0 3-8-2-6.5-1.5-1.5zM178 890l-1.5 5 0 5.5 1.5 5 1.5-5.5-.5-7.5zM302 889l-1.5 5 0 7 1.5 4.5 1-2 1-5.5-1-7zM555 865l-1.5 4 0 3.5 2 4 1.5-4 0-3.5zM208 863l-1.5 5.5 1 8.5 1-1.5.5-3.5zM126 863l-1 1-.5 2.5 0 8.5 1 4 1.5-6zM339 862l-1.5 1.5-2 6 0 3 3 6.5 2-1 2.5-7.5-1-4.5-1.5-3zM589 839l-1 0-1.5 4 .5 3 1.5 2.5 2-4zM237 836l-1 4 0 7 .5 3 1 1 1-4 0-7-1-4zM149 835l-1 5 0 6 1 5 1-4 0-8zM375 834l-2 1.5-3 7.5 1 4.5 3 4 1 0 2-2 2.5-6.5-1-5-1.5-2.5zM111 812l-.5 2 .5 6.5.5-1zM622 811l-1.5 2.5-.5 4 1.5 4 1 .5 2-4.5 0-2-1-3.5zM267 808l-1.5 8 1 6 1 1.5 1.5-7.5-1-6.5zM173 808l-1.5 6.5.5 6.5 1 2.5 1-4.5 0-6.5zM405 807l-3 4.5-1.5 5.5 2 5.5 2 2 1.5 0 3.5-6.5.5-4.5-2-5-1.5-1.5zM436 783l-2 0-1.5 1.5-2 4 .5 3.5 2 2 2.5-.5 3-5-1-4zM656 783l-2 5 0 2 2 5.5 1 0 1.5-3 .5-4.5-1.5-4.5zM198 782l-1 2.5 0 8 1 3 1-5zM131 782l-1 3.5 0 6.5 1 3.5 1-6.5zM296 781l-1.5 8 1 6 1 1.5 1.5-6-.5-7zM692 756l-1.5 2-1 3.5 1 4.5 1.5 2 2-4.5 0-3zM513 756l-2 6 2 6 1 .5 2-4.5 0-4-1.5-4zM221 754l-1 4.5 0 6 .5 3 1 1.5 1-8.5-1-6.5zM325 754l-1 1.5-1 5 .5 6 1.5 3.5 1.5-5 0-6zM150 754l-1 5.5 0 5 1 5.5 1-4.5 0-7zM117 731l-.5 1 0 6 .5.5.5-3zM727 730l-1.5 3 0 3.5 1 2.5 1 .5 1.5-3.5 0-2.5zM536 727l-1 3-.5 5.5 1 5.5 1 1 1.5-8.5-1-5.5zM353 727l-1 1.5-1 4.5 0 3.5 1.5 6 1.5-1.5 1-5-.5-5.5zM245 727l-1 4 0 7.5 1 4 1.5-7.5zM171 727l-1 3.5 0 8.5 1 3.5 1-6.5zM764 703l-1 0-1.5 4.5.5 2.5 1.5 2.5 2-4zM562 702l-1 2.5 0 6.5 1 2.5 1-3 0-5.5zM269 700l-1.5 6.5.5 6.5 1 2.5 1-5 0-6zM190 700l-1 6.5 1 9 1-3.5 0-8.5zM134 700l-1 5 0 5.5 1 5 .5-3zM380 699l-2 6.5.5 6 1.5 3.5 2-5.5-.5-7.5zM798 676l-1.5 4 1 3.5 1 .5 1.5-3 0-2-1-2.5zM590 674l-1 3.5 0 5 .5 2.5 1 1 1-3.5 0-5-.5-2.5zM406 673l-1.5 1.5-1.5 4.5 0 2 2 5 2-.5 2-5.5-1-4.5-1-2zM209 673l-1 7.5 1 7.5.5 0 1-7.5-1-7.5zM291 672l-1 5 .5 9.5 1 1 1-8.5zM150 672l-1 8 1 8 1-6.5zM121 651l-.5 1.5.5 2zM835 649l-1.5 3 0 1.5 1.5 3 1.5-2.5 0-2.5zM432 648l-1.5.5-2 4.5 2 4 1 0 1.5-1.5 1-2.5-.5-3zM618 646l-1.5 6.5 1.5 8 1.5-4 0-6.5zM167 646l-.5 11 .5 3.5.5 0 .5-10.5-.5-4zM314 645l-1 4 0 7.5 1 4 1.5-7.5zM229 645l-1 4.5 0 6.5 1 4.5 1-5.5zM136 622l-.5 1.5.5 5.5.5-2.5zM647 619l-1 .5-1 5 0 3 1.5 6 1-1.5 1-6zM337 618l-1 9 1.5 6.5 1-5 0-6-.5-3zM249 618l-1 6.5 1 9 1-4 0-8zM185 618l-1 5.5 1 9.5.5-3zM515 593l-1.5 4.5 1 6 1.5-3 0-4.5zM150 593l-.5 2.5.5 8.5.5-1.5zM675 591l-1.5 5.5 0 3.5 1.5 6 1-1.5 1-6-1-6zM359 591l-1 4.5 0 6 .5 3 1 1.5 1-4.5 0-6-.5-3zM268 591l-1 4.5 0 7 1 4 1-5 0-5zM202 591l-.5 2.5.5 13 1-6.5zM706 572l-3 0 .5 5 1 1.5zM534 572l-2 0 1 7.5 1-4zM383 572l-1 0 .5 4zM288 572l-1 0 .5 4zM218 572l-1 0 .5 4zM166 572l-.5 0 0 2z"/>
<path fill-rule="evenodd" fill="#009fff" d="M223.5 951.5l.5 0 0 .5-.5 0zM833 952l2 0 0-.5-1.5-.5zM118 945l-1 6.5 2.5 0-.5-5zM389 945l-2 3-1 4 7 0-1.5-5zM497 924.5l.5 0 0 .5-.5 0zM263 923l-.5 3 1 1 .5-3zM148 921l-.5 1.5.5 5.5.5-1zM431 918l-1.5 0-1.5 1.5-2 4 0 3.5 2.5 3 2 0 3.5-5.5-1-4zM101 896l-1.5 1 .5 1.5 2-1zM523 891l-1.5.5-2 5 .5 5 1 2.5 1.5 1.5 2-2 1.5-5-1.5-6zM178 891l-1.5 5 0 3.5 1.5 5.5 1.5-6-.5-5.5zM302 890l-1.5 5 0 4.5 1.5 5 1.5-4.5 0-5.5zM555 866l-1.5 5.5 2 4 1.5-5.5zM208 864l-1 7 .5 3.5 1 1.5 1-6.5-1-5.5zM125 863l-1 4.5 0 5.5 1 4.5 1.5-6-.5-6zM339 863l-2 1.5-2 6 1.5 5.5 1.5 2 2-1 2-5.5-1-5.5zM588 840l-1 4.5 1 2.5 1 0 1-2 0-3-1-2zM237 837l-1 4 .5 8 1 1 1-4 0-5-1-4zM149 836l-1 5 1 9 1-4 0-5.5zM374 835l-3 4.5-1 5 2 4.5 1.5 1.5 1.5 0 2-3 1.5-5.5-2-5.5zM111 813l-.5 1.5.5 4.5.5-1.5zM622 812l-1.5 2.5 0 3.5 1 2.5 1 .5 1.5-3 0-3.5-.5-1.5zM267 809l-1 4 0 5.5.5 3 1 1 1-4 0-5.5-1-4zM173 809l-1.5 6.5 1 7 .5 0 1-4.5 0-4.5zM406 808l-1.5 1-3 7 .5 4 3 4 1.5 0 1-1 2.5-6-.5-5-1-2zM436 784l-2 .5-2.5 4 .5 2.5 1.5 2 2.5-.5 2-3 0-3zM656 784l-1.5 3.5 0 3.5 1.5 3.5 1 0 2-5.5-1.5-4.5zM198 783l-1 3 0 5.5 1 3 1-5.5zM131 783l-1 3.5 0 4.5 1 3.5.5-2zM296 782l-1 4 0 5.5 1 4 .5 0 1.5-7.5-1-5.5zM692 757l-2 3.5 0 3 2 3.5 2-5zM513 757l-1 1-1 5 1.5 4 1 .5 1-1.5 1-4.5-1-3.5zM325 755l-1 1.5-1 5 1 6 1 1.5 1.5-5 0-4zM221 755l-1 5.5 1 8.5 1-3 0-8zM150 755l-1 5.5 1 8.5 1-4.5 0-5zM117 732l-.5 1 .5 4.5zM727 731l-1 1.5-.5 3 1 2.5 1 .5 1-2 0-3.5zM536 728l-1 3 0 6.5.5 2.5 1 1 1-3.5 0-6.5zM352 728l-1.5 7.5 1.5 6 1 0 1.5-6.5-1-5.5zM245 728l-1 4 0 5.5 1 4 1-3 0-7zM171 728l-1 3.5 0 6.5 1 3.5 1-6.5zM764 704l-1.5 1-.5 3.5 1.5 3 1.5-2.5 0-2.5zM562 703l-1 2.5 0 4.5 1 2.5 1-3.5 0-3zM268 701l-1 6.5.5 4.5 1 2.5 1-8.5-.5-3.5zM190 701l-1 6.5 1 7 1-3.5 0-6.5zM134 701l-1 5 1 8.5.5-3zM380 700l-1 2-1 5.5 1 5 1.5 1.5 1.5-8-1-4.5zM798 677l-1 2 0 2 1.5 2 1.5-3-1-2.5zM590 675l-1 6 .5 3 1 1 1-6.5-.5-2.5zM406 674l-1 0-2 4.5 0 3 2 4 1.5-1 1.5-4-.5-3.5zM209 674l-.5 10.5.5 2.5.5 0 .5-10.5-.5-2.5zM291 673l-1 5 1 9 1.5-7zM150 673l-.5 2.5.5 11.5 1-7zM121 652l.5 0 0 .5-.5 0zM836 651l-1 0-.5 1 0 2.5 1 1.5 1-1.5zM432 649l-2 1.5-1 2.5 1.5 3 1 0 2-3zM618 647l-1 3 0 6.5 1 3 1-1.5.5-6.5zM167 647l-.5 8.5.5 4 .5 0 .5-8.5-.5-4zM314 646l-1 4 0 5.5 1 4 1-3 0-7zM229 646l-1 4.5 0 4.5 1 4.5 1-5.5zM136 623l-.5 2 .5 3zM646 619l-1.5 7 1 5 1 1 1-4 0-4.5zM337 619l-1 6.5.5 4.5 1 2.5 1-9-.5-3zM249 619l-.5 2 .5 11.5 1-4 0-6zM185 619l-1 6 1 7.5.5-3.5zM514 595l-.5 6.5 1 1.5 1-5-.5-2.5zM150 594l-.5 2.5.5 6.5.5-2zM676 592l-1 1-1 5 1.5 7 1.5-4 0-5zM360 592l-1.5 5 0 4 1 4.5.5 0 1-4.5zM268 592l-1 4.5 0 4.5 1 5 1-6zM202 592l-.5 2.5.5 11.5.5-2zM703 572l.5 4 1 1.5 1-5.5zM534 572l-2 0 1 6.5zM383 572l-1 0 .5 3zM288 572l-1 0 .5 2.5zM218 572l-1 0 .5 3zM166 571.5l.5 0 0 .5-.5 0z"/>
<path fill-rule="evenodd" fill="#0080ff" d="M833.5 951.5l.5 0 0 .5-.5 0zM389 946l-3 6 6.5 0-1.5-5zM118 946l-1 3 0 3 2 0zM263 924l-.5 1 1 1 .5-1zM148 922l-.5 1.5.5 3.5.5-1zM431 919l-1.5 0-1.5 1.5-2 4 1.5 4 2 1 2.5-2 1.5-3-.5-2.5zM100 897.5l.5 0 0 .5-.5 0zM524 892l-2 .5-2 5 1 4 2 3 1-.5 2-4.5 0-3zM178 892l-1.5 5.5 1.5 6.5 1-3 0-6.5zM302 891l-1.5 5.5.5 5 1 2 1.5-4.5 0-3.5zM555 867l-1 2 .5 4 1 .5 1-2-.5-4zM208 865l-.5 8.5 1 2 .5-8.5zM125 864l-1 4.5 1 8 1.5-6zM339 864l-1 0-1 1.5-1.5 4.5 1 5 2 2.5 1.5-1.5 1.5-4-.5-5zM588 841l-1 2.5 1 2.5 1 0 1-2.5-1-2.5zM237 837l-1 7.5.5 3 1 1.5 1-7-.5-3.5zM149 837l-1 5.5 1 6.5 1-4.5zM374 836l-3 4.5-.5 4 1.5 3.5 1.5 1.5 1.5 0 3-5.5 0-2.5-1.5-4-1.5-1.5zM111 814l-.5 2 .5 1.5.5-1zM622 813l-1.5 4 1 2.5 1 .5 1.5-4-1-2.5zM267 810l-1 4 .5 6.5 1 1 1-4 0-3.5-1-4zM173 810l-1 2.5 0 6.5 1 3 1-5zM406 809l-2 1-2.5 5.5.5 4.5 1.5 2.5 1.5 1 2-1.5 2-4.5-.5-5.5zM435 785l-1.5.5-2 3 .5 2 1.5 1.5 2-.5 1.5-2 0-2-1-2zM656 785l-1.5 4.5 1.5 4 1 0 1.5-5-1-3zM198 784l-1 3 0 3.5 1 3 .5-2zM131 784l-1 3.5 1 6 .5-2zM297 783l-1.5 4.5 0 3.5 1 4 1.5-3 0-5.5zM692 758l-2 4 2 4 1.5-3 0-2zM513 758l-1.5 2.5 0 3 1 2.5 1 .5 1.5-3 0-2.5-1-2.5zM324 756l-1 3.5 0 5 1 3.5.5 0 1.5-6.5-1-4.5zM221 756l-1 5.5 1 6.5 1-3 0-6zM150 756l-1 5.5 1 6.5 1-4.5zM117 733l-.5.5.5 2.5zM727 732l-1 1.5 0 2.5 1.5 1.5 1-3zM536 729l-1 3.5.5 6.5 1 1 1-3.5-.5-6.5zM352 729l-1 3.5 0 4.5 1.5 4 1.5-4.5-.5-6zM245 729l-1 4 1 8 1-4 0-4.5zM171 729l-1 3.5 0 4.5 1 3.5.5-2zM764 705l-1.5 1.5 0 2.5 1 1.5 1.5-2.5zM562 704l-1 2.5 1 5 1-3.5zM190 702l-.5 2 .5 9.5 1-4 0-4zM380 701l-1.5 4 0 4.5 1 3 1 .5 1-3 0-5.5zM269 701l-1 3 0 6.5 1 2.5 1-5zM134 701l-1 5.5 1 6.5.5-3zM798 678l-.5 3 1 1 1-2.5zM590 676l-1 4 .5 3 1 1 1-4-.5-3zM406 675l-1.5.5-1.5 4 .5 2.5 1.5 2.5 1.5-1 1-2.5 0-2.5zM209 675l-.5 8.5.5 2.5.5 0 .5-8.5-.5-2.5zM291 674l-1 5 1 7 1-3 0-6zM150 674l-.5 2.5.5 9.5.5-1.5zM836 652l-1 .5 0 2 1 0 .5-1zM432 651l-1 0-1.5 2.5 1.5 2 2-2zM618 648l-1 3.5 0 4 1.5 3 1-6zM167 648l-.5 6.5.5 4.5.5 0 .5-7-.5-4zM314 647l-1 4 1 8 1-4 0-4.5zM229 647l-1 4.5 1 7.5 1-6zM136 624l.5 0 0 .5-.5 0zM646 620l-1 3 0 5 1.5 3 1-6.5zM185 620l-.5.5 0 10 .5 1 .5-3.5zM337 620l-1 3 0 6 1 3 1-5zM249 620l-.5 2.5.5 9.5 1-4 0-4zM515 596l-1 2 0 2 1 2 .5-1.5zM150 595l-.5 2.5.5 4.5.5-2zM676 593l-1.5 3 0 5 1 3 1.5-4zM359 593l-1 6.5.5 3.5 1 1.5 1-6.5-1-5zM268 593l-1 5 1 7 1-6zM202 593l-.5 2.5.5 9.5.5-2zM703 572l.5 3 1 1.5 1-4.5zM534 572l-2 0 1 6zM383 572l-1 0 .5 2zM288 572l-.5 0 0 1.5zM218 572l-.5 0 0 1.5zM165.5 571.5l.5 0 0 .5-.5 0z"/>
<path fill-rule="evenodd" fill="#0060ff" d="M118 947l-1 5 1.5 0zM389 946l-2 2-1 3.5 5.5 0 0-2zM148 923l0 3 .5-1zM431 920l-1.5 0-3 4.5 1 3 1.5 1 1 0 3-4zM178 893l-1 2 0 5.5 1 2.5 1-3 0-4zM523 892l-2 3-.5 3.5 1.5 3.5 1.5 1 2-3.5.5-2.5-2-4.5zM302 892l-1 2.5 0 5.5 1 2.5 1.5-4.5-.5-4zM555 868l-1 2.5.5 1.5 1 .5 1-2.5-.5-1.5zM208 866l-.5 6.5 1 2 .5-6.5zM125 865l-1 4.5 1 6 1-2.5 0-5.5zM338 865l-2 4 0 3.5 1 2.5 2 1.5 2.5-6-1.5-4.5zM589 842l-1.5 1.5.5 1.5 1 0 .5-1zM237 838l-1 5 .5 3.5 1 1.5 1-5-.5-3.5zM149 838l-.5 1.5.5 8.5 1-4.5zM375 837l-1 0-1.5 1.5-1.5 3.5 0 3 1.5 3 1.5 1 2-1.5 1.5-3.5-.5-4.5zM110.5 815l.5 0 0 .5-.5 0zM622 814l-1 1.5 0 2 1.5 1.5 1-1.5 0-2zM267 811l-1 5.5.5 3 1 1.5 1-5.5-.5-3zM173 811l-.5 7 1 3 .5-8.5zM406 810l-2 1-2 4 0 3.5 2.5 4 1 0 1.5-1.5 2-4.5-.5-3zM436 787l-1.5 0-1.5 1.5 0 1.5 1.5 1.5 2.5-2zM656 786l-1 2 0 2.5 1 2 1 0 1-2-.5-4zM198 785l-1 3 1 4.5.5-2zM131 785l-.5.5 0 6.5.5.5.5-2.5zM297 784l-1.5 4.5 1 5.5 1.5-3 0-3.5zM692 759l-1.5 2 0 2 1.5 2 1.5-3zM513 759l-1.5 3 1 2.5 1 .5 1.5-3-1-2.5zM324 757l-1 3.5 0 3 1 3.5.5 0 1-2.5 0-5-.5-2zM221 757l-.5 1.5.5 8.5 1-3 0-4zM150 757l-.5 1.5.5 8.5 1-4.5zM117 734l.5 0 0 .5-.5 0zM726 733l-.5 1.5 1.5 1.5.5-2.5zM536 730l-1 5.5.5 2.5 1 1 1-5.5-.5-2.5zM171 730l-1 4 1 6 .5-2.5zM353 729l-1.5 4 .5 5 1 1.5 1.5-4.5-.5-4zM245 729l-1 5 1 5.5 1-4zM763 706l-1 1.5.5 1.5 1 0 .5-1zM562 705l-.5.5.5 5 .5-1zM380 702l-1.5 4 .5 4.5 1 2 1.5-4 0-3zM269 702l-1 3 0 4 1 3 .5-1.5zM190 702l-.5 2.5.5 7.5 1-4zM134 702l-.5 1 0 8.5.5.5.5-3zM798 679l-.5 1 1 1 .5-1.5zM590 677l-.5 4.5 1 1.5.5-5zM405 676l-1.5 3 0 2 1 2 1 .5 2-3.5-1-3zM291 675l-.5 1.5.5 8.5 1-3 0-4zM209 675l-.5 7 .5 2.5.5 0 .5-6.5-.5-3zM150 675l-.5 2.5.5 7.5.5-1.5zM835 652.5l.5 0 0 .5-.5 0zM431 652l-.5 1.5 1.5 0 0-1.5zM618 649l-1 5 .5 2.5 1 1 .5-6.5zM167 648l-.5 5 .5 4.5.5 0 .5-5-.5-4.5zM314 648l-1 5 1 5.5 1-4zM229 648l-1 5.5 1 5 .5-2zM136 625.5l.5 0 0 .5-.5 0zM646 621l-1 6 1.5 3 1-4.5zM337 621l-1 3 0 4 1 3 .5-1.5zM249 621l-.5 2.5.5 7.5 1-4zM185 621l-.5 1 .5 9 .5-3.5zM515 597l-.5 3.5 1-1zM150 596l0 5 .5-2zM676 594l-1.5 3 0 3 1 3 1-1.5.5-3zM359 594l-.5 8 1 2 .5-8zM268 594l-1 5 1 5 .5-1.5zM202 594l-.5 2.5.5 7.5.5-1.5zM705 572l-2 0 .5 3.5 1-1zM534 572l-1.5 0 .5 5zM382 571.5l.5 0 0 .5-.5 0zM288 571.5l.5 0 0 .5-.5 0zM217.5 571.5l.5 0 0 .5-.5 0z"/>
<path fill-rule="evenodd" fill="#0040ff" d="M118 948l-1 4 1.5 0zM386 952l5.5 0-2-4.5-2 1zM147.5 924l.5 0 0 .5-.5 0zM430 921l-1 0-2.5 3.5 1.5 3 2 0 2-3zM523 893l-2.5 4.5 1.5 3.5 1.5 1 1.5-2.5.5-3-1.5-3zM302 893l-1 2.5 0 3.5 1 3 1-2.5 0-4.5zM178 893l-1 2.5 0 3.5 1 2.5 1-3zM555 869l-.5 2 1 .5.5-2zM208 867l-.5 4.5 1 2 .5-4.5zM125 866l-.5 1.5.5 7 1-2.5 0-3.5zM338 866l-1.5 2.5-.5 2.5 1.5 4 1.5.5 1.5-2.5.5-3.5-1-2.5zM588 843l-.5.5 1 .5zM237 839l-.5 6.5 1 1.5.5-6.5zM149 839l-.5 1.5.5 6.5.5-1zM374 838l-2.5 5.5 1.5 3.5 2 1 1.5-1.5 1.5-3.5-1.5-4-1-1zM622 815l-.5 2 1 1 .5-2.5zM267 812l-.5 6.5 1 1.5.5-6.5zM173 812l-.5 5 1 3 .5-6.5zM405 811l-1.5 1.5-1.5 4 1.5 4 1 1 1.5 0 2.5-4.5 0-1.5-1-3-1.5-1.5zM434 788l.5 1.5 1.5-.5 0-1zM656 787l-1 2 1 2.5 1 0 1-2.5-.5-1.5zM198 786l-.5.5.5 5 .5-2zM131 786l-.5.5.5 5 .5-2.5zM297 785l-1 2 0 4.5 1 2 1-3.5zM692 760l-1 1 0 2 1 1 1-1.5zM513 760l-1 2.5 1.5 1.5 1-2.5zM324 758l-1 4.5 1 3.5.5 0 1-2.5-.5-5zM221 758l-.5 1.5.5 6.5 1-3zM150 758l-.5 1.5.5 6.5.5-1zM727 734l-1 .5.5.5zM536 731l-.5 6 1 1 .5-6zM171 731l-1 4 1 4 .5-2.5zM353 730l-1.5 4 .5 3 1 1.5 1-2 0-4.5zM245 730l-.5 1.5.5 7 1-4zM764 707l-.5-.5-.5 1zM562 706l-.5.5.5 3 .5-1zM381 703l-1 .5-1 3.5 1.5 4.5 1.5-4zM269 703l-1 3 .5 5 1-1.5zM190 703l-.5 2.5.5 5.5 1-4zM134 703l-.5 1 0 6.5.5.5.5-3zM798.5 680l.5 0 0 .5-.5 0zM590 678l-.5 2.5 1 1.5.5-2.5zM405 677l-1 2 0 2 1 1.5 1 0 1-3-.5-1.5zM291 676l-.5 1.5.5 6.5 1-3zM209 676l-.5 5 .5 3 .5 0 .5-5-.5-3zM150 676l-.5 2.5.5 5.5.5-1.5zM618 650l-.5 5.5 1 1 .5-4.5zM167 649l0 7.5.5 0 0-7.5zM314 649l-.5 1.5.5 7 1-4zM229 649l-.5 1.5.5 7 .5-2zM646 622l-1 4 1.5 3 .5-5zM337 622l-1 3 .5 5 1-1.5zM249 622l-.5 2.5.5 5.5.5-.5 0-7zM185 622l-.5 1 .5 7 .5-4zM514 598l.5 0 0 .5-.5 0zM150 597l.5 0 0 .5-.5 0zM675 595l-1 4 1.5 3 .5-5.5zM359 595l-.5 6 1 2 .5-6zM268 595l-.5 1 .5 7 .5-1.5zM202 595l-.5 2.5.5 5.5.5-1.5zM703 572l.5 2.5.5 0 .5-2.5zM534 572l-1 0 .5 4z"/>
<path fill-rule="evenodd" fill="#0020ff" d="M118 949l-1 3 1.5 0zM387 952l4.5 0-1.5-3.5-1 0zM430 922l-1 0-2 2.5 1 2 2 0 1.5-2zM523 894l-2 4 1 2 1.5 1 1.5-2.5-.5-3.5zM302 894l-1 2.5 1 4.5 1-2.5 0-2.5zM178 894l-1 2.5 1 4 1-3zM554.5 870l.5 0 0 .5-.5 0zM208 868l-.5 2.5 1 2 .5-2.5zM125 867l-.5 1.5.5 5 1-2.5zM339 866l-2 3.5 0 1.5 1.5 3 1 0 1.5-2.5-.5-4zM237 840l-.5 4.5 1 1.5.5-4.5zM149 840l-.5 1.5.5 5 .5-1.5zM374 839l-2 4.5 1 2.5 2 1 1.5-1.5 1-3-1-2.5-1-1zM622 815.5l.5 0 0 .5-.5 0zM267 813l-.5 4.5 1 1.5.5-4.5zM173 813l-1 3 1 3.5.5-1.5zM405 812l-2.5 5 1 2.5 1 1 1.5 0 2-3.5 0-2-1-2zM656 788l-.5 1.5.5 1 1 0 .5-2zM198 787l-.5.5.5 3 .5-2zM131 787l-.5.5.5 3zM296 786l-.5 4.5 1 2 .5-5.5zM692 761l-1 1 1 1 .5-.5zM513 761l-.5 1.5 1 .5.5-1.5zM324 759l-.5 4.5 1 1.5 1-3.5-.5-2zM221 759l-.5 1.5.5 4.5 1-3zM150 758l-.5 2 .5 5 .5-1.5zM536 732l-.5 4 1 1.5.5-4zM353 731l-1 2 0 3 1 1.5 1-2 0-2.5zM245 731l-.5 1.5.5 5 .5-1zM171 731l-.5 1 0 5 .5.5.5-2.5zM562 707l-.5.5.5 1zM381 704l-1 .5-.5 4 1 2 1-1.5zM269 704l-1 3 1 3.5.5-2zM190 704l-.5 2.5.5 4 .5-1 0-5zM134 704l-.5 1 .5 5zM590 679l0 2 .5 0 0-2zM406 678l-1.5 2 1 1.5 1.5-1zM292 677l-1 1.5.5 4.5 1-3zM209 677l-.5 3 .5 3 .5 0 .5-3-.5-3zM150 677l-.5 3 .5 3.5.5-1.5zM618 651l-.5 3.5 1 1 .5-2.5zM167 650l0 5.5.5 0 0-5.5zM314 650l-.5 1.5.5 5 .5-1zM229 650l-.5 1 .5 5.5.5-2zM647 623l-1 1 .5 4.5 1-2zM337 623l-1 3 1 3.5.5-2zM249 623l-.5 2.5.5 3.5.5-.5 0-5zM185 623l-.5 1 .5 5zM150 598l.5 0 0 .5-.5 0zM675 596l-.5 4.5 1 1 .5-3.5zM359 596l-.5 4 1 2 .5-4zM268 595l-.5 1.5.5 5 .5-1.5zM202 595l-.5 3 .5 3.5.5-1.5zM703 572l1 1.5.5-1.5zM534 572l-1 0 .5 3z"/>
<path fill-rule="evenodd" fill="#0000ff" d="M118 950l-.5 2 1 0zM389 949l-1.5 3 3.5 0-.5-2zM429 924l-.5 1.5 2 .5.5-1.5zM522 895l-1 3 2 2 1.5-2.5-.5-1.5zM302 895l-.5.5.5 4.5 1-2.5zM178 895l-.5.5.5 4.5.5-1zM208 869l0 2.5.5 0 0-2.5zM125 868l-.5 1.5.5 3 .5-.5zM339 867l-1.5 2 0 2.5 1 1.5 1 0 1.5-2.5-1-3zM237 841l-.5 2.5 1 1.5.5-2.5zM149 841l-.5 2 .5 3 .5-1zM375 840l-1.5 1-1 2 .5 2.5 1 1 1.5 0 1.5-2.5-.5-2.5zM267 814l-.5 3 1 1.5.5-2.5zM173 814l-.5.5.5 4 .5-1.5zM405 813l-2 4 1.5 2.5 1.5 0 1.5-2.5 0-2-1.5-2zM656 788.5l.5 0 0 .5-.5 0zM198 788l-.5.5.5 1zM131 788l-.5.5.5 1zM296 787l-.5 2.5 1 2 .5-3.5zM513 761.5l.5 0 0 .5-.5 0zM325 759l-1 2 1 3 .5-1zM221 759l-.5 2 .5 3 .5-.5zM150 759l-.5 2 .5 3 .5-1.5zM536 733l-.5 2 1 1.5.5-2zM353 732l-1 2 .5 2.5 1-.5.5-1.5zM245 732l-.5 1.5.5 3 .5-.5zM171 732l-.5.5.5 4zM269 705l-.5.5.5 4 .5-2zM190 705l0 4.5.5-1zM134 705l-.5 1 .5 3.5zM380 705l-1 2.5 1 2.5 1-1.5zM589.5 680l.5 0 0 .5-.5 0zM405 680l-.5.5 1 .5.5-.5zM209 678l0 4 .5 0 0-4zM291 678l-.5 3 1 1.5zM150 678l0 5 .5-2zM619 652l-1 1 .5 2zM167 651l0 3.5.5 0 0-3.5zM314 651l-.5 1.5.5 3 .5-1zM229 651l-.5 1 .5 3.5.5-2zM647 624l-1 1 .5 2.5zM337 624l-.5.5.5 4 .5-2zM249 624l0 4.5.5-1zM185 624l-.5 1 .5 3zM675 597l-.5 2.5 1 1 .5-1.5zM359 597l-.5 2 1 2 .5-2.5zM268 596l-.5 1.5.5 3.5.5-2zM202 596l0 5 .5-2zM703.5 571.5l.5 0 0 .5-.5 0zM534 572l-1 0 .5 2z"/>
<path fill-rule="evenodd" fill="#0000df" d="M118 950.5l.5 0 0 .5-.5 0zM388 952l2.5 0-1-2zM429 924.5l.5 0 0 .5-.5 0zM522 896l-.5 2 1.5 1 1-2zM302 896l-.5.5.5 2.5.5-.5zM178 896l-.5.5.5 2.5.5-1zM207.5 870l.5 0 0 .5-.5 0zM125 869l0 2.5.5 0 0-2.5zM339 868l-1.5 2 1 2 1 0 1-1.5zM237 842l0 2.5.5 0 0-2.5zM149 842l0 3 .5-1zM374 841l-1 2.5 1 1.5 1.5 0 1-2.5-1-1.5zM267 815l0 2.5.5 0 0-2.5zM173 815l-.5 2.5.5 0zM405 814l-1.5 3 1 1.5 1.5 0 1-1.5 0-1.5-1-1.5zM197.5 788.5l.5 0 0 .5-.5 0zM296 788l0 2.5.5 0 .5-1.5zM325 760l-1 1.5 1 1.5.5-1zM221 760l0 3 .5-.5zM150 760l0 3 .5-1.5zM536 734l0 1.5.5 0 0-1.5zM353 733l-.5.5.5 2.5.5-1zM245 733l-.5 1.5.5 1.5.5-1zM171 733l-.5.5.5 2zM269 706l-.5.5.5 2zM190 706l0 2.5.5-.5zM134 706l-.5 1 .5 1.5zM380 706l-.5.5.5 2.5.5-.5zM209 679l0 2 .5 0 0-2zM291 679l0 3 .5-.5zM150 678.5l.5 0 0 .5-.5 0zM618 652l0 1.5.5-.5zM167 652l0 1.5.5 0 0-1.5zM314 652l-.5 1.5.5 1 .5-.5zM229 652l-.5 1 .5 1.5zM647 625l-.5 0 0 1.5zM249 625l0 2.5.5-1zM185 625l-.5 1 .5 1.5zM337 624l-.5.5.5 2.5zM675 598l0 2 .5-.5zM359 597l0 2.5.5 0 0-2.5zM268 597l-.5 1.5.5 1.5zM201.5 597l.5 0 0 .5-.5 0zM533 571.5l.5 0 0 .5-.5 0z"/>
<path fill-rule="evenodd" fill="#0000bf" d="M117.5 951.5l.5 0 0 .5-.5 0zM388 951l0 .5 1.5 0-.5-1zM522 897l.5 1 1-.5zM178 897l-.5.5.5.5zM302 897l0 1.5.5-.5zM125 869.5l.5 0 0 .5-.5 0zM339 869l-1 1 .5 1 1.5-.5zM237 842.5l.5 0 0 .5-.5 0zM149 842.5l.5 0 0 .5-.5 0zM374 842l-.5 1 .5 1 1.5 0 .5-1-.5-1zM266.5 815.5l.5 0 0 .5-.5 0zM173 816l-.5.5.5.5zM405 815l-1 1.5 2 1 .5-1.5zM296.5 788l.5 0 0 .5-.5 0zM324 761l.5 0 0 .5-.5 0zM221 761l0 1 .5-.5zM150 761l.5 0 0 .5-.5 0zM352 734l.5 0 0 .5-.5 0zM244.5 734l.5 0 0 .5-.5 0zM170.5 734l.5 0 0 .5-.5 0zM134 707l.5 0 0 .5-.5 0zM380 707l-.5.5 1 .5zM269 707l-.5.5.5.5zM190 706.5l.5 0 0 .5-.5 0zM209 680l.5 0 0 .5-.5 0zM291 680l0 1 .5-.5zM150 679.5l.5 0 0 .5-.5 0zM314 652l.5 0 0 .5-.5 0zM229 652l.5 0 0 .5-.5 0zM646 625.5l.5 0 0 .5-.5 0zM184.5 625.5l.5 0 0 .5-.5 0zM337 625l-.5.5.5.5zM248.5 625l.5 0 0 .5-.5 0zM675 598.5l.5 0 0 .5-.5 0zM359 598l.5 0 0 .5-.5 0zM268 598l.5 0 0 .5-.5 0zM201.5 598l.5 0 0 .5-.5 0z"/>
<path fill-rule="evenodd" fill="#00009f" d="M374 843l.5 0 0 .5-.5 0zM405 816l.5 0 0 .5-.5 0z"/>
</g>
<g fill="none" stroke="#000" stroke-width="3.3" stroke-linecap="round" stroke-dasharray="3 6.8">
<path d="M126.3 570.6 L116.7 578.2 L108.0 592.6 L103.2 606.1 L94.6 623.3"/>
<path d="M167.1 568.5 L151.2 598.4 L136.8 623.3 L121.5 650.2 L108.0 673.2 L92.7 701.0"/>
<path d="M217.8 569.0 L201.8 598.3 L184.6 625.5 L167.5 652.7 L150.3 679.9 L133.0 707.8 L117.6 732.7 L102.3 757.7 L95.8 764.8"/>
<path d="M290.0 568.5 L268.2 598.3 L248.9 625.5 L229.2 652.7 L209.5 679.9 L190.4 707.1 L170.6 734.3 L150.3 761.5 L130.6 788.7 L110.8 815.9 L91.9 844.5"/>
<path d="M382.2 569.5 L359.5 598.3 L337.1 625.5 L314.3 652.7 L291.4 679.9 L268.6 707.1 L244.8 734.3 L220.9 761.5 L197.6 788.7 L173.1 815.9 L148.0 846.5 L126.3 872.0 L100.7 898.6"/>
<path d="M116.5 949.8 L147.8 924.8 L177.7 897.5 L208.0 870.3 L237.5 843.1 L267.0 815.9 L296.6 788.7 L324.6 761.5 L352.7 734.3 L380.3 707.1 L405.6 679.9 L431.0 652.5 L452.9 626.2 L470.2 604.1 L486.5 578.2"/>
<path d="M218.8 949.6 L233.3 937.0 L263.5 924.8 L301.8 897.5 L338.8 870.3 L374.5 843.1 L405.6 815.9 L434.7 788.7 L457.7 761.0 L470.2 732.7 L477.9 705.9 L481.7 682.8 L484.6 659.8 L488.4 642.5 L495.2 627.2 L506.7 608.0 L520.1 588.8 L533.6 568.6"/>
<path d="M389.0 950.0 L404.6 943.4 L429.5 924.7 L446.1 908.0 L458.6 887.3 L469.0 866.5 L476.0 845.0 L485.5 825.0 L499.0 788.4 L513.5 761.4 L535.3 733.4 L561.3 704.0 L590.0 679.9 L618.4 652.7 L646.4 625.5 L675.4 598.3 L703.5 569.0"/>
<path d="M488.6 927.8 L522.9 899.8 L555.0 871.7 L588.3 842.6 L622.5 815.9 L656.8 788.7 L691.6 761.5 L726.9 734.3 L763.3 707.1 L798.6 679.9 L836.3 652.2"/>
<path d="M664.0 949.6 L719.0 922.6 L766.8 898.7 L814.5 869.6 L848.8 843.7"/>
</g>
<path d="M106.0 568.8 L110.5 572.0" stroke="#000" stroke-width="1.4" stroke-linecap="round"/>
<path d="M141.5 571.6 L145.7 569.2" stroke="#000" stroke-width="1.4" stroke-linecap="round"/>
<defs><linearGradient id="cbb" x1="0" y1="0" x2="0" y2="1"><stop offset="0.0000" stop-color="#800000"/><stop offset="0.0156" stop-color="#800000"/><stop offset="0.0156" stop-color="#8f0000"/><stop offset="0.0312" stop-color="#8f0000"/><stop offset="0.0312" stop-color="#9f0000"/><stop offset="0.0469" stop-color="#9f0000"/><stop offset="0.0469" stop-color="#af0000"/><stop offset="0.0625" stop-color="#af0000"/><stop offset="0.0625" stop-color="#bf0000"/><stop offset="0.0781" stop-color="#bf0000"/><stop offset="0.0781" stop-color="#cf0000"/><stop offset="0.0938" stop-color="#cf0000"/><stop offset="0.0938" stop-color="#df0000"/><stop offset="0.1094" stop-color="#df0000"/><stop offset="0.1094" stop-color="#ef0000"/><stop offset="0.1250" stop-color="#ef0000"/><stop offset="0.1250" stop-color="#ff0000"/><stop offset="0.1406" stop-color="#ff0000"/><stop offset="0.1406" stop-color="#ff1000"/><stop offset="0.1562" stop-color="#ff1000"/><stop offset="0.1562" stop-color="#ff2000"/><stop offset="0.1719" stop-color="#ff2000"/><stop offset="0.1719" stop-color="#ff3000"/><stop offset="0.1875" stop-color="#ff3000"/><stop offset="0.1875" stop-color="#ff4000"/><stop offset="0.2031" stop-color="#ff4000"/><stop offset="0.2031" stop-color="#ff5000"/><stop offset="0.2188" stop-color="#ff5000"/><stop offset="0.2188" stop-color="#ff6000"/><stop offset="0.2344" stop-color="#ff6000"/><stop offset="0.2344" stop-color="#ff7000"/><stop offset="0.2500" stop-color="#ff7000"/><stop offset="0.2500" stop-color="#ff8000"/><stop offset="0.2656" stop-color="#ff8000"/><stop offset="0.2656" stop-color="#ff8f00"/><stop offset="0.2812" stop-color="#ff8f00"/><stop offset="0.2812" stop-color="#ff9f00"/><stop offset="0.2969" stop-color="#ff9f00"/><stop offset="0.2969" stop-color="#ffaf00"/><stop offset="0.3125" stop-color="#ffaf00"/><stop offset="0.3125" stop-color="#ffbf00"/><stop offset="0.3281" stop-color="#ffbf00"/><stop offset="0.3281" stop-color="#ffcf00"/><stop offset="0.3438" stop-color="#ffcf00"/><stop offset="0.3438" stop-color="#ffdf00"/><stop offset="0.3594" stop-color="#ffdf00"/><stop offset="0.3594" stop-color="#ffef00"/><stop offset="0.3750" stop-color="#ffef00"/><stop offset="0.3750" stop-color="#ffff00"/><stop offset="0.3906" stop-color="#ffff00"/><stop offset="0.3906" stop-color="#efff10"/><stop offset="0.4062" stop-color="#efff10"/><stop offset="0.4062" stop-color="#dfff20"/><stop offset="0.4219" stop-color="#dfff20"/><stop offset="0.4219" stop-color="#cfff30"/><stop offset="0.4375" stop-color="#cfff30"/><stop offset="0.4375" stop-color="#bfff40"/><stop offset="0.4531" stop-color="#bfff40"/><stop offset="0.4531" stop-color="#afff50"/><stop offset="0.4688" stop-color="#afff50"/><stop offset="0.4688" stop-color="#9fff60"/><stop offset="0.4844" stop-color="#9fff60"/><stop offset="0.4844" stop-color="#8fff70"/><stop offset="0.5000" stop-color="#8fff70"/><stop offset="0.5000" stop-color="#80ff80"/><stop offset="0.5156" stop-color="#80ff80"/><stop offset="0.5156" stop-color="#70ff8f"/><stop offset="0.5312" stop-color="#70ff8f"/><stop offset="0.5312" stop-color="#60ff9f"/><stop offset="0.5469" stop-color="#60ff9f"/><stop offset="0.5469" stop-color="#50ffaf"/><stop offset="0.5625" stop-color="#50ffaf"/><stop offset="0.5625" stop-color="#40ffbf"/><stop offset="0.5781" stop-color="#40ffbf"/><stop offset="0.5781" stop-color="#30ffcf"/><stop offset="0.5938" stop-color="#30ffcf"/><stop offset="0.5938" stop-color="#20ffdf"/><stop offset="0.6094" stop-color="#20ffdf"/><stop offset="0.6094" stop-color="#10ffef"/><stop offset="0.6250" stop-color="#10ffef"/><stop offset="0.6250" stop-color="#00ffff"/><stop offset="0.6406" stop-color="#00ffff"/><stop offset="0.6406" stop-color="#00efff"/><stop offset="0.6562" stop-color="#00efff"/><stop offset="0.6562" stop-color="#00dfff"/><stop offset="0.6719" stop-color="#00dfff"/><stop offset="0.6719" stop-color="#00cfff"/><stop offset="0.6875" stop-color="#00cfff"/><stop offset="0.6875" stop-color="#00bfff"/><stop offset="0.7031" stop-color="#00bfff"/><stop offset="0.7031" stop-color="#00afff"/><stop offset="0.7188" stop-color="#00afff"/><stop offset="0.7188" stop-color="#009fff"/><stop offset="0.7344" stop-color="#009fff"/><stop offset="0.7344" stop-color="#008fff"/><stop offset="0.7500" stop-color="#008fff"/><stop offset="0.7500" stop-color="#0080ff"/><stop offset="0.7656" stop-color="#0080ff"/><stop offset="0.7656" stop-color="#0070ff"/><stop offset="0.7812" stop-color="#0070ff"/><stop offset="0.7812" stop-color="#0060ff"/><stop offset="0.7969" stop-color="#0060ff"/><stop offset="0.7969" stop-color="#0050ff"/><stop offset="0.8125" stop-color="#0050ff"/><stop offset="0.8125" stop-color="#0040ff"/><stop offset="0.8281" stop-color="#0040ff"/><stop offset="0.8281" stop-color="#0030ff"/><stop offset="0.8438" stop-color="#0030ff"/><stop offset="0.8438" stop-color="#0020ff"/><stop offset="0.8594" stop-color="#0020ff"/><stop offset="0.8594" stop-color="#0010ff"/><stop offset="0.8750" stop-color="#0010ff"/><stop offset="0.8750" stop-color="#0000ff"/><stop offset="0.8906" stop-color="#0000ff"/><stop offset="0.8906" stop-color="#0000ef"/><stop offset="0.9062" stop-color="#0000ef"/><stop offset="0.9062" stop-color="#0000df"/><stop offset="0.9219" stop-color="#0000df"/><stop offset="0.9219" stop-color="#0000cf"/><stop offset="0.9375" stop-color="#0000cf"/><stop offset="0.9375" stop-color="#0000bf"/><stop offset="0.9531" stop-color="#0000bf"/><stop offset="0.9531" stop-color="#0000af"/><stop offset="0.9688" stop-color="#0000af"/><stop offset="0.9688" stop-color="#00009f"/><stop offset="0.9844" stop-color="#00009f"/><stop offset="0.9844" stop-color="#00008f"/><stop offset="1.0000" stop-color="#00008f"/></linearGradient></defs>
<rect x="877.7" y="571.5" width="18.6" height="380.9" fill="url(#cbb)"/>
<rect x="877.7" y="571.5" width="18.6" height="380.9" fill="none" stroke="#333" stroke-width="0.6"/>
<line x1="894.1" x2="896.3" y1="914.3" y2="914.3" stroke="#333" stroke-width="0.8"/>
<line x1="894.1" x2="896.3" y1="876.2" y2="876.2" stroke="#333" stroke-width="0.8"/>
<line x1="894.1" x2="896.3" y1="838.1" y2="838.1" stroke="#333" stroke-width="0.8"/>
<line x1="894.1" x2="896.3" y1="800.0" y2="800.0" stroke="#333" stroke-width="0.8"/>
<line x1="894.1" x2="896.3" y1="762.0" y2="762.0" stroke="#333" stroke-width="0.8"/>
<line x1="894.1" x2="896.3" y1="723.9" y2="723.9" stroke="#333" stroke-width="0.8"/>
<line x1="894.1" x2="896.3" y1="685.8" y2="685.8" stroke="#333" stroke-width="0.8"/>
<line x1="894.1" x2="896.3" y1="647.7" y2="647.7" stroke="#333" stroke-width="0.8"/>
<line x1="894.1" x2="896.3" y1="609.6" y2="609.6" stroke="#333" stroke-width="0.8"/>
<g opacity="0.999"><text x="122.2" y="593.0" font-family="Liberation Serif" font-weight="bold" font-size="26" fill="#fff">P<tspan font-size="17.5">11</tspan></text>
<text x="90.8" y="649.3" font-family="Liberation Serif" font-weight="bold" font-size="26" fill="#fff">P<tspan font-size="17.5">12</tspan></text>
<text x="90.8" y="719.3" font-family="Liberation Serif" font-weight="bold" font-size="26" fill="#fff">P<tspan font-size="17.5">13</tspan></text>
<text x="90.9" y="793.3" font-family="Liberation Serif" font-weight="bold" font-size="26" fill="#fff">P<tspan font-size="17.5">14</tspan></text>
<text x="105.7" y="846.5" font-family="Liberation Serif" font-weight="bold" font-size="26" fill="#fff">P<tspan font-size="17.5">15</tspan></text>
<text x="165.7" y="872.0" font-family="Liberation Serif" font-weight="bold" font-size="26" fill="#fff">P<tspan font-size="17.5">16</tspan></text>
<text x="215.7" y="922.6" font-family="Liberation Serif" font-weight="bold" font-size="26" fill="#fff">P<tspan font-size="17.5">17</tspan></text>
<text x="406.7" y="893.5" font-family="Liberation Serif" font-weight="bold" font-size="26" fill="#fff">P<tspan font-size="17.5">18</tspan></text>
<text x="510.4" y="872.8" font-family="Liberation Serif" font-weight="bold" font-size="26" fill="#fff">P<tspan font-size="17.5">19</tspan></text>
<text x="657.0" y="920.5" font-family="Liberation Serif" font-weight="bold" font-size="26" fill="#fff">P<tspan font-size="17.5">20</tspan></text>
<text x="78.5" y="583.0" font-family="Liberation Serif" font-weight="bold" font-size="32" text-anchor="end" fill="#222">2.4</text>
<text x="78.5" y="637.4" font-family="Liberation Serif" font-weight="bold" font-size="32" text-anchor="end" fill="#222">2.2</text>
<text x="78.5" y="691.7" font-family="Liberation Serif" font-weight="bold" font-size="32" text-anchor="end" fill="#222">2</text>
<text x="78.5" y="746.1" font-family="Liberation Serif" font-weight="bold" font-size="32" text-anchor="end" fill="#222">1.8</text>
<text x="78.5" y="800.4" font-family="Liberation Serif" font-weight="bold" font-size="32" text-anchor="end" fill="#222">1.6</text>
<text x="78.5" y="854.8" font-family="Liberation Serif" font-weight="bold" font-size="32" text-anchor="end" fill="#222">1.4</text>
<text x="78.5" y="909.1" font-family="Liberation Serif" font-weight="bold" font-size="32" text-anchor="end" fill="#222">1.2</text>
<text x="78.5" y="963.5" font-family="Liberation Serif" font-weight="bold" font-size="32" text-anchor="end" fill="#222">1</text>
<text x="88.3" y="990.8" font-family="Liberation Serif" font-weight="bold" font-size="32" text-anchor="middle" fill="#222">0.7</text>
<text x="172.9" y="990.8" font-family="Liberation Serif" font-weight="bold" font-size="32" text-anchor="middle" fill="#222">0.9</text>
<text x="257.4" y="990.8" font-family="Liberation Serif" font-weight="bold" font-size="32" text-anchor="middle" fill="#222">1.1</text>
<text x="342.0" y="990.8" font-family="Liberation Serif" font-weight="bold" font-size="32" text-anchor="middle" fill="#222">1.3</text>
<text x="426.5" y="990.8" font-family="Liberation Serif" font-weight="bold" font-size="32" text-anchor="middle" fill="#222">1.5</text>
<text x="511.1" y="990.8" font-family="Liberation Serif" font-weight="bold" font-size="32" text-anchor="middle" fill="#222">1.7</text>
<text x="595.6" y="990.8" font-family="Liberation Serif" font-weight="bold" font-size="32" text-anchor="middle" fill="#222">1.9</text>
<text x="680.2" y="990.8" font-family="Liberation Serif" font-weight="bold" font-size="32" text-anchor="middle" fill="#222">2.1</text>
<text x="764.7" y="990.8" font-family="Liberation Serif" font-weight="bold" font-size="32" text-anchor="middle" fill="#222">2.3</text>
<text x="849.3" y="990.8" font-family="Liberation Serif" font-weight="bold" font-size="32" text-anchor="middle" fill="#222">2.5</text>
<text x="467.2" y="1031.8" font-family="Liberation Serif" font-weight="bold" font-size="36.5" letter-spacing="0.15" text-anchor="middle" fill="#222">Wavelength(<tspan font-style="italic">&#956;</tspan>m)</text>
<text transform="translate(29,763.4) rotate(-90)" font-family="Liberation Serif" font-weight="bold" font-size="36" text-anchor="middle" fill="#222">Refractive index</text>
<text x="904.8" y="925.4" font-family="Liberation Serif" font-weight="bold" font-size="29.5" fill="#222">0.1</text>
<text x="904.8" y="887.3" font-family="Liberation Serif" font-weight="bold" font-size="29.5" fill="#222">0.2</text>
<text x="904.8" y="849.2" font-family="Liberation Serif" font-weight="bold" font-size="29.5" fill="#222">0.3</text>
<text x="904.8" y="811.1" font-family="Liberation Serif" font-weight="bold" font-size="29.5" fill="#222">0.4</text>
<text x="904.8" y="773.1" font-family="Liberation Serif" font-weight="bold" font-size="29.5" fill="#222">0.5</text>
<text x="904.8" y="735.0" font-family="Liberation Serif" font-weight="bold" font-size="29.5" fill="#222">0.6</text>
<text x="904.8" y="696.9" font-family="Liberation Serif" font-weight="bold" font-size="29.5" fill="#222">0.7</text>
<text x="904.8" y="658.8" font-family="Liberation Serif" font-weight="bold" font-size="29.5" fill="#222">0.8</text>
<text x="904.8" y="620.7" font-family="Liberation Serif" font-weight="bold" font-size="29.5" fill="#222">0.9</text>
<text x="2" y="546.6" font-family="Liberation Serif" font-weight="bold" font-size="48" fill="#111">(b)</text></g>
</svg></body></html>
